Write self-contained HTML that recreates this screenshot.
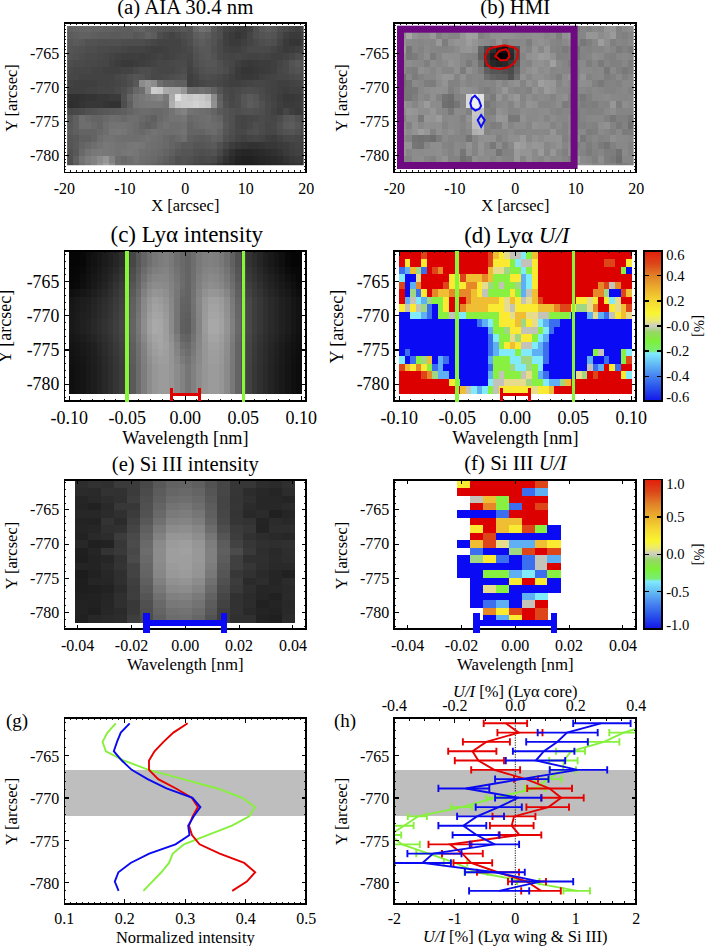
<!DOCTYPE html><html><head><meta charset="utf-8"><style>html,body{margin:0;padding:0;background:#fff;width:705px;height:946px;overflow:hidden}svg text{font-family:"Liberation Serif",serif;fill:#000}</style></head><body><svg width="705" height="946" viewBox="0 0 705 946" style="position:absolute;left:0;top:0" font-family='"Liberation Serif", serif' shape-rendering="crispEdges">
<rect width="705" height="946" fill="#fff"/>
<g>
<clipPath id="ca"><rect x="67.1" y="25.5" width="236.60" height="139.70"/></clipPath>
<g clip-path="url(#ca)">
<rect x="67.10" y="25.50" width="6.30" height="7.17" fill="#616161"/>
<rect x="73.10" y="25.50" width="6.30" height="7.17" fill="#646464"/>
<rect x="79.10" y="25.50" width="6.30" height="7.17" fill="#666666"/>
<rect x="85.10" y="25.50" width="6.30" height="7.17" fill="#666666"/>
<rect x="91.10" y="25.50" width="6.30" height="7.17" fill="#646464"/>
<rect x="97.10" y="25.50" width="6.30" height="7.17" fill="#646464"/>
<rect x="103.10" y="25.50" width="6.30" height="7.17" fill="#616161"/>
<rect x="109.10" y="25.50" width="6.30" height="7.17" fill="#616161"/>
<rect x="115.10" y="25.50" width="6.30" height="7.17" fill="#5e5e5e"/>
<rect x="121.10" y="25.50" width="6.30" height="7.17" fill="#5e5e5e"/>
<rect x="127.10" y="25.50" width="6.30" height="7.17" fill="#5c5c5c"/>
<rect x="133.10" y="25.50" width="6.30" height="7.17" fill="#616161"/>
<rect x="139.10" y="25.50" width="6.30" height="7.17" fill="#646464"/>
<rect x="145.10" y="25.50" width="6.30" height="7.17" fill="#5c5c5c"/>
<rect x="151.10" y="25.50" width="6.30" height="7.17" fill="#5a5a5a"/>
<rect x="157.10" y="25.50" width="6.30" height="7.17" fill="#575757"/>
<rect x="163.10" y="25.50" width="6.30" height="7.17" fill="#545454"/>
<rect x="169.10" y="25.50" width="6.30" height="7.17" fill="#525252"/>
<rect x="175.10" y="25.50" width="6.30" height="7.17" fill="#545454"/>
<rect x="181.10" y="25.50" width="6.30" height="7.17" fill="#575757"/>
<rect x="187.10" y="25.50" width="6.30" height="7.17" fill="#535353"/>
<rect x="193.10" y="25.50" width="6.30" height="7.17" fill="#676767"/>
<rect x="199.10" y="25.50" width="6.30" height="7.17" fill="#717171"/>
<rect x="205.10" y="25.50" width="6.30" height="7.17" fill="#6c6c6c"/>
<rect x="211.10" y="25.50" width="6.30" height="7.17" fill="#585858"/>
<rect x="217.10" y="25.50" width="6.30" height="7.17" fill="#4e4e4e"/>
<rect x="223.10" y="25.50" width="6.30" height="7.17" fill="#444444"/>
<rect x="229.10" y="25.50" width="6.30" height="7.17" fill="#3f3f3f"/>
<rect x="235.10" y="25.50" width="6.30" height="7.17" fill="#3a3a3a"/>
<rect x="241.10" y="25.50" width="6.30" height="7.17" fill="#3a3a3a"/>
<rect x="247.10" y="25.50" width="6.30" height="7.17" fill="#3f3f3f"/>
<rect x="253.10" y="25.50" width="6.30" height="7.17" fill="#4e4e4e"/>
<rect x="259.10" y="25.50" width="6.30" height="7.17" fill="#585858"/>
<rect x="265.10" y="25.50" width="6.30" height="7.17" fill="#5d5d5d"/>
<rect x="271.10" y="25.50" width="6.30" height="7.17" fill="#585858"/>
<rect x="277.10" y="25.50" width="6.30" height="7.17" fill="#4e4e4e"/>
<rect x="283.10" y="25.50" width="6.30" height="7.17" fill="#494949"/>
<rect x="289.10" y="25.50" width="6.30" height="7.17" fill="#444444"/>
<rect x="295.10" y="25.50" width="6.30" height="7.17" fill="#3f3f3f"/>
<rect x="301.10" y="25.50" width="6.30" height="7.17" fill="#444444"/>
<rect x="67.10" y="32.37" width="6.30" height="7.17" fill="#5c5c5c"/>
<rect x="73.10" y="32.37" width="6.30" height="7.17" fill="#5e5e5e"/>
<rect x="79.10" y="32.37" width="6.30" height="7.17" fill="#616161"/>
<rect x="85.10" y="32.37" width="6.30" height="7.17" fill="#616161"/>
<rect x="91.10" y="32.37" width="6.30" height="7.17" fill="#5e5e5e"/>
<rect x="97.10" y="32.37" width="6.30" height="7.17" fill="#5c5c5c"/>
<rect x="103.10" y="32.37" width="6.30" height="7.17" fill="#5c5c5c"/>
<rect x="109.10" y="32.37" width="6.30" height="7.17" fill="#5a5a5a"/>
<rect x="115.10" y="32.37" width="6.30" height="7.17" fill="#5a5a5a"/>
<rect x="121.10" y="32.37" width="6.30" height="7.17" fill="#5c5c5c"/>
<rect x="127.10" y="32.37" width="6.30" height="7.17" fill="#5c5c5c"/>
<rect x="133.10" y="32.37" width="6.30" height="7.17" fill="#575757"/>
<rect x="139.10" y="32.37" width="6.30" height="7.17" fill="#5a5a5a"/>
<rect x="145.10" y="32.37" width="6.30" height="7.17" fill="#616161"/>
<rect x="151.10" y="32.37" width="6.30" height="7.17" fill="#5c5c5c"/>
<rect x="157.10" y="32.37" width="6.30" height="7.17" fill="#4d4d4d"/>
<rect x="163.10" y="32.37" width="6.30" height="7.17" fill="#484848"/>
<rect x="169.10" y="32.37" width="6.30" height="7.17" fill="#434343"/>
<rect x="175.10" y="32.37" width="6.30" height="7.17" fill="#484848"/>
<rect x="181.10" y="32.37" width="6.30" height="7.17" fill="#4d4d4d"/>
<rect x="187.10" y="32.37" width="6.30" height="7.17" fill="#505050"/>
<rect x="193.10" y="32.37" width="6.30" height="7.17" fill="#5d5d5d"/>
<rect x="199.10" y="32.37" width="6.30" height="7.17" fill="#626262"/>
<rect x="205.10" y="32.37" width="6.30" height="7.17" fill="#5d5d5d"/>
<rect x="211.10" y="32.37" width="6.30" height="7.17" fill="#535353"/>
<rect x="217.10" y="32.37" width="6.30" height="7.17" fill="#4e4e4e"/>
<rect x="223.10" y="32.37" width="6.30" height="7.17" fill="#3f3f3f"/>
<rect x="229.10" y="32.37" width="6.30" height="7.17" fill="#3a3a3a"/>
<rect x="235.10" y="32.37" width="6.30" height="7.17" fill="#353535"/>
<rect x="241.10" y="32.37" width="6.30" height="7.17" fill="#3a3a3a"/>
<rect x="247.10" y="32.37" width="6.30" height="7.17" fill="#444444"/>
<rect x="253.10" y="32.37" width="6.30" height="7.17" fill="#4e4e4e"/>
<rect x="259.10" y="32.37" width="6.30" height="7.17" fill="#535353"/>
<rect x="265.10" y="32.37" width="6.30" height="7.17" fill="#565656"/>
<rect x="271.10" y="32.37" width="6.30" height="7.17" fill="#535353"/>
<rect x="277.10" y="32.37" width="6.30" height="7.17" fill="#494949"/>
<rect x="283.10" y="32.37" width="6.30" height="7.17" fill="#3f3f3f"/>
<rect x="289.10" y="32.37" width="6.30" height="7.17" fill="#3a3a3a"/>
<rect x="295.10" y="32.37" width="6.30" height="7.17" fill="#3a3a3a"/>
<rect x="301.10" y="32.37" width="6.30" height="7.17" fill="#3f3f3f"/>
<rect x="67.10" y="39.24" width="6.30" height="7.17" fill="#575757"/>
<rect x="73.10" y="39.24" width="6.30" height="7.17" fill="#5a5a5a"/>
<rect x="79.10" y="39.24" width="6.30" height="7.17" fill="#575757"/>
<rect x="85.10" y="39.24" width="6.30" height="7.17" fill="#525252"/>
<rect x="91.10" y="39.24" width="6.30" height="7.17" fill="#525252"/>
<rect x="97.10" y="39.24" width="6.30" height="7.17" fill="#505050"/>
<rect x="103.10" y="39.24" width="6.30" height="7.17" fill="#505050"/>
<rect x="109.10" y="39.24" width="6.30" height="7.17" fill="#505050"/>
<rect x="115.10" y="39.24" width="6.30" height="7.17" fill="#505050"/>
<rect x="121.10" y="39.24" width="6.30" height="7.17" fill="#4d4d4d"/>
<rect x="127.10" y="39.24" width="6.30" height="7.17" fill="#4d4d4d"/>
<rect x="133.10" y="39.24" width="6.30" height="7.17" fill="#4d4d4d"/>
<rect x="139.10" y="39.24" width="6.30" height="7.17" fill="#4d4d4d"/>
<rect x="145.10" y="39.24" width="6.30" height="7.17" fill="#4a4a4a"/>
<rect x="151.10" y="39.24" width="6.30" height="7.17" fill="#464646"/>
<rect x="157.10" y="39.24" width="6.30" height="7.17" fill="#434343"/>
<rect x="163.10" y="39.24" width="6.30" height="7.17" fill="#434343"/>
<rect x="169.10" y="39.24" width="6.30" height="7.17" fill="#434343"/>
<rect x="175.10" y="39.24" width="6.30" height="7.17" fill="#434343"/>
<rect x="181.10" y="39.24" width="6.30" height="7.17" fill="#484848"/>
<rect x="187.10" y="39.24" width="6.30" height="7.17" fill="#4e4e4e"/>
<rect x="193.10" y="39.24" width="6.30" height="7.17" fill="#585858"/>
<rect x="199.10" y="39.24" width="6.30" height="7.17" fill="#5d5d5d"/>
<rect x="205.10" y="39.24" width="6.30" height="7.17" fill="#585858"/>
<rect x="211.10" y="39.24" width="6.30" height="7.17" fill="#535353"/>
<rect x="217.10" y="39.24" width="6.30" height="7.17" fill="#494949"/>
<rect x="223.10" y="39.24" width="6.30" height="7.17" fill="#3f3f3f"/>
<rect x="229.10" y="39.24" width="6.30" height="7.17" fill="#3a3a3a"/>
<rect x="235.10" y="39.24" width="6.30" height="7.17" fill="#3a3a3a"/>
<rect x="241.10" y="39.24" width="6.30" height="7.17" fill="#3f3f3f"/>
<rect x="247.10" y="39.24" width="6.30" height="7.17" fill="#444444"/>
<rect x="253.10" y="39.24" width="6.30" height="7.17" fill="#494949"/>
<rect x="259.10" y="39.24" width="6.30" height="7.17" fill="#4e4e4e"/>
<rect x="265.10" y="39.24" width="6.30" height="7.17" fill="#505050"/>
<rect x="271.10" y="39.24" width="6.30" height="7.17" fill="#4e4e4e"/>
<rect x="277.10" y="39.24" width="6.30" height="7.17" fill="#444444"/>
<rect x="283.10" y="39.24" width="6.30" height="7.17" fill="#3a3a3a"/>
<rect x="289.10" y="39.24" width="6.30" height="7.17" fill="#353535"/>
<rect x="295.10" y="39.24" width="6.30" height="7.17" fill="#353535"/>
<rect x="301.10" y="39.24" width="6.30" height="7.17" fill="#3a3a3a"/>
<rect x="67.10" y="46.11" width="6.30" height="7.17" fill="#545454"/>
<rect x="73.10" y="46.11" width="6.30" height="7.17" fill="#525252"/>
<rect x="79.10" y="46.11" width="6.30" height="7.17" fill="#505050"/>
<rect x="85.10" y="46.11" width="6.30" height="7.17" fill="#4d4d4d"/>
<rect x="91.10" y="46.11" width="6.30" height="7.17" fill="#4d4d4d"/>
<rect x="97.10" y="46.11" width="6.30" height="7.17" fill="#4a4a4a"/>
<rect x="103.10" y="46.11" width="6.30" height="7.17" fill="#4a4a4a"/>
<rect x="109.10" y="46.11" width="6.30" height="7.17" fill="#484848"/>
<rect x="115.10" y="46.11" width="6.30" height="7.17" fill="#484848"/>
<rect x="121.10" y="46.11" width="6.30" height="7.17" fill="#464646"/>
<rect x="127.10" y="46.11" width="6.30" height="7.17" fill="#434343"/>
<rect x="133.10" y="46.11" width="6.30" height="7.17" fill="#434343"/>
<rect x="139.10" y="46.11" width="6.30" height="7.17" fill="#434343"/>
<rect x="145.10" y="46.11" width="6.30" height="7.17" fill="#404040"/>
<rect x="151.10" y="46.11" width="6.30" height="7.17" fill="#3e3e3e"/>
<rect x="157.10" y="46.11" width="6.30" height="7.17" fill="#3e3e3e"/>
<rect x="163.10" y="46.11" width="6.30" height="7.17" fill="#404040"/>
<rect x="169.10" y="46.11" width="6.30" height="7.17" fill="#434343"/>
<rect x="175.10" y="46.11" width="6.30" height="7.17" fill="#434343"/>
<rect x="181.10" y="46.11" width="6.30" height="7.17" fill="#464646"/>
<rect x="187.10" y="46.11" width="6.30" height="7.17" fill="#494949"/>
<rect x="193.10" y="46.11" width="6.30" height="7.17" fill="#535353"/>
<rect x="199.10" y="46.11" width="6.30" height="7.17" fill="#585858"/>
<rect x="205.10" y="46.11" width="6.30" height="7.17" fill="#585858"/>
<rect x="211.10" y="46.11" width="6.30" height="7.17" fill="#505050"/>
<rect x="217.10" y="46.11" width="6.30" height="7.17" fill="#494949"/>
<rect x="223.10" y="46.11" width="6.30" height="7.17" fill="#424242"/>
<rect x="229.10" y="46.11" width="6.30" height="7.17" fill="#3f3f3f"/>
<rect x="235.10" y="46.11" width="6.30" height="7.17" fill="#3f3f3f"/>
<rect x="241.10" y="46.11" width="6.30" height="7.17" fill="#444444"/>
<rect x="247.10" y="46.11" width="6.30" height="7.17" fill="#494949"/>
<rect x="253.10" y="46.11" width="6.30" height="7.17" fill="#494949"/>
<rect x="259.10" y="46.11" width="6.30" height="7.17" fill="#494949"/>
<rect x="265.10" y="46.11" width="6.30" height="7.17" fill="#494949"/>
<rect x="271.10" y="46.11" width="6.30" height="7.17" fill="#444444"/>
<rect x="277.10" y="46.11" width="6.30" height="7.17" fill="#3f3f3f"/>
<rect x="283.10" y="46.11" width="6.30" height="7.17" fill="#3a3a3a"/>
<rect x="289.10" y="46.11" width="6.30" height="7.17" fill="#3c3c3c"/>
<rect x="295.10" y="46.11" width="6.30" height="7.17" fill="#3f3f3f"/>
<rect x="301.10" y="46.11" width="6.30" height="7.17" fill="#424242"/>
<rect x="67.10" y="52.98" width="6.30" height="7.17" fill="#525252"/>
<rect x="73.10" y="52.98" width="6.30" height="7.17" fill="#505050"/>
<rect x="79.10" y="52.98" width="6.30" height="7.17" fill="#4d4d4d"/>
<rect x="85.10" y="52.98" width="6.30" height="7.17" fill="#4a4a4a"/>
<rect x="91.10" y="52.98" width="6.30" height="7.17" fill="#4a4a4a"/>
<rect x="97.10" y="52.98" width="6.30" height="7.17" fill="#484848"/>
<rect x="103.10" y="52.98" width="6.30" height="7.17" fill="#464646"/>
<rect x="109.10" y="52.98" width="6.30" height="7.17" fill="#434343"/>
<rect x="115.10" y="52.98" width="6.30" height="7.17" fill="#404040"/>
<rect x="121.10" y="52.98" width="6.30" height="7.17" fill="#3e3e3e"/>
<rect x="127.10" y="52.98" width="6.30" height="7.17" fill="#3e3e3e"/>
<rect x="133.10" y="52.98" width="6.30" height="7.17" fill="#3e3e3e"/>
<rect x="139.10" y="52.98" width="6.30" height="7.17" fill="#3c3c3c"/>
<rect x="145.10" y="52.98" width="6.30" height="7.17" fill="#3e3e3e"/>
<rect x="151.10" y="52.98" width="6.30" height="7.17" fill="#404040"/>
<rect x="157.10" y="52.98" width="6.30" height="7.17" fill="#434343"/>
<rect x="163.10" y="52.98" width="6.30" height="7.17" fill="#404040"/>
<rect x="169.10" y="52.98" width="6.30" height="7.17" fill="#434343"/>
<rect x="175.10" y="52.98" width="6.30" height="7.17" fill="#464646"/>
<rect x="181.10" y="52.98" width="6.30" height="7.17" fill="#484848"/>
<rect x="187.10" y="52.98" width="6.30" height="7.17" fill="#464646"/>
<rect x="193.10" y="52.98" width="6.30" height="7.17" fill="#505050"/>
<rect x="199.10" y="52.98" width="6.30" height="7.17" fill="#565656"/>
<rect x="205.10" y="52.98" width="6.30" height="7.17" fill="#585858"/>
<rect x="211.10" y="52.98" width="6.30" height="7.17" fill="#535353"/>
<rect x="217.10" y="52.98" width="6.30" height="7.17" fill="#494949"/>
<rect x="223.10" y="52.98" width="6.30" height="7.17" fill="#464646"/>
<rect x="229.10" y="52.98" width="6.30" height="7.17" fill="#444444"/>
<rect x="235.10" y="52.98" width="6.30" height="7.17" fill="#464646"/>
<rect x="241.10" y="52.98" width="6.30" height="7.17" fill="#444444"/>
<rect x="247.10" y="52.98" width="6.30" height="7.17" fill="#424242"/>
<rect x="253.10" y="52.98" width="6.30" height="7.17" fill="#424242"/>
<rect x="259.10" y="52.98" width="6.30" height="7.17" fill="#444444"/>
<rect x="265.10" y="52.98" width="6.30" height="7.17" fill="#424242"/>
<rect x="271.10" y="52.98" width="6.30" height="7.17" fill="#3f3f3f"/>
<rect x="277.10" y="52.98" width="6.30" height="7.17" fill="#3f3f3f"/>
<rect x="283.10" y="52.98" width="6.30" height="7.17" fill="#424242"/>
<rect x="289.10" y="52.98" width="6.30" height="7.17" fill="#464646"/>
<rect x="295.10" y="52.98" width="6.30" height="7.17" fill="#4c4c4c"/>
<rect x="301.10" y="52.98" width="6.30" height="7.17" fill="#4e4e4e"/>
<rect x="67.10" y="59.85" width="6.30" height="7.17" fill="#4d4d4d"/>
<rect x="73.10" y="59.85" width="6.30" height="7.17" fill="#4a4a4a"/>
<rect x="79.10" y="59.85" width="6.30" height="7.17" fill="#4a4a4a"/>
<rect x="85.10" y="59.85" width="6.30" height="7.17" fill="#484848"/>
<rect x="91.10" y="59.85" width="6.30" height="7.17" fill="#484848"/>
<rect x="97.10" y="59.85" width="6.30" height="7.17" fill="#464646"/>
<rect x="103.10" y="59.85" width="6.30" height="7.17" fill="#464646"/>
<rect x="109.10" y="59.85" width="6.30" height="7.17" fill="#404040"/>
<rect x="115.10" y="59.85" width="6.30" height="7.17" fill="#3c3c3c"/>
<rect x="121.10" y="59.85" width="6.30" height="7.17" fill="#393939"/>
<rect x="127.10" y="59.85" width="6.30" height="7.17" fill="#393939"/>
<rect x="133.10" y="59.85" width="6.30" height="7.17" fill="#3c3c3c"/>
<rect x="139.10" y="59.85" width="6.30" height="7.17" fill="#3e3e3e"/>
<rect x="145.10" y="59.85" width="6.30" height="7.17" fill="#404040"/>
<rect x="151.10" y="59.85" width="6.30" height="7.17" fill="#434343"/>
<rect x="157.10" y="59.85" width="6.30" height="7.17" fill="#464646"/>
<rect x="163.10" y="59.85" width="6.30" height="7.17" fill="#464646"/>
<rect x="169.10" y="59.85" width="6.30" height="7.17" fill="#484848"/>
<rect x="175.10" y="59.85" width="6.30" height="7.17" fill="#4a4a4a"/>
<rect x="181.10" y="59.85" width="6.30" height="7.17" fill="#4a4a4a"/>
<rect x="187.10" y="59.85" width="6.30" height="7.17" fill="#444444"/>
<rect x="193.10" y="59.85" width="6.30" height="7.17" fill="#4e4e4e"/>
<rect x="199.10" y="59.85" width="6.30" height="7.17" fill="#535353"/>
<rect x="205.10" y="59.85" width="6.30" height="7.17" fill="#565656"/>
<rect x="211.10" y="59.85" width="6.30" height="7.17" fill="#565656"/>
<rect x="217.10" y="59.85" width="6.30" height="7.17" fill="#505050"/>
<rect x="223.10" y="59.85" width="6.30" height="7.17" fill="#494949"/>
<rect x="229.10" y="59.85" width="6.30" height="7.17" fill="#464646"/>
<rect x="235.10" y="59.85" width="6.30" height="7.17" fill="#3f3f3f"/>
<rect x="241.10" y="59.85" width="6.30" height="7.17" fill="#3a3a3a"/>
<rect x="247.10" y="59.85" width="6.30" height="7.17" fill="#383838"/>
<rect x="253.10" y="59.85" width="6.30" height="7.17" fill="#3a3a3a"/>
<rect x="259.10" y="59.85" width="6.30" height="7.17" fill="#3c3c3c"/>
<rect x="265.10" y="59.85" width="6.30" height="7.17" fill="#3c3c3c"/>
<rect x="271.10" y="59.85" width="6.30" height="7.17" fill="#3f3f3f"/>
<rect x="277.10" y="59.85" width="6.30" height="7.17" fill="#444444"/>
<rect x="283.10" y="59.85" width="6.30" height="7.17" fill="#494949"/>
<rect x="289.10" y="59.85" width="6.30" height="7.17" fill="#535353"/>
<rect x="295.10" y="59.85" width="6.30" height="7.17" fill="#585858"/>
<rect x="301.10" y="59.85" width="6.30" height="7.17" fill="#535353"/>
<rect x="67.10" y="66.72" width="6.30" height="7.17" fill="#484848"/>
<rect x="73.10" y="66.72" width="6.30" height="7.17" fill="#464646"/>
<rect x="79.10" y="66.72" width="6.30" height="7.17" fill="#464646"/>
<rect x="85.10" y="66.72" width="6.30" height="7.17" fill="#464646"/>
<rect x="91.10" y="66.72" width="6.30" height="7.17" fill="#434343"/>
<rect x="97.10" y="66.72" width="6.30" height="7.17" fill="#434343"/>
<rect x="103.10" y="66.72" width="6.30" height="7.17" fill="#404040"/>
<rect x="109.10" y="66.72" width="6.30" height="7.17" fill="#404040"/>
<rect x="115.10" y="66.72" width="6.30" height="7.17" fill="#404040"/>
<rect x="121.10" y="66.72" width="6.30" height="7.17" fill="#434343"/>
<rect x="127.10" y="66.72" width="6.30" height="7.17" fill="#434343"/>
<rect x="133.10" y="66.72" width="6.30" height="7.17" fill="#484848"/>
<rect x="139.10" y="66.72" width="6.30" height="7.17" fill="#4d4d4d"/>
<rect x="145.10" y="66.72" width="6.30" height="7.17" fill="#4d4d4d"/>
<rect x="151.10" y="66.72" width="6.30" height="7.17" fill="#484848"/>
<rect x="157.10" y="66.72" width="6.30" height="7.17" fill="#464646"/>
<rect x="163.10" y="66.72" width="6.30" height="7.17" fill="#464646"/>
<rect x="169.10" y="66.72" width="6.30" height="7.17" fill="#464646"/>
<rect x="175.10" y="66.72" width="6.30" height="7.17" fill="#4a4a4a"/>
<rect x="181.10" y="66.72" width="6.30" height="7.17" fill="#4d4d4d"/>
<rect x="187.10" y="66.72" width="6.30" height="7.17" fill="#424242"/>
<rect x="193.10" y="66.72" width="6.30" height="7.17" fill="#494949"/>
<rect x="199.10" y="66.72" width="6.30" height="7.17" fill="#505050"/>
<rect x="205.10" y="66.72" width="6.30" height="7.17" fill="#535353"/>
<rect x="211.10" y="66.72" width="6.30" height="7.17" fill="#535353"/>
<rect x="217.10" y="66.72" width="6.30" height="7.17" fill="#505050"/>
<rect x="223.10" y="66.72" width="6.30" height="7.17" fill="#4c4c4c"/>
<rect x="229.10" y="66.72" width="6.30" height="7.17" fill="#444444"/>
<rect x="235.10" y="66.72" width="6.30" height="7.17" fill="#3a3a3a"/>
<rect x="241.10" y="66.72" width="6.30" height="7.17" fill="#353535"/>
<rect x="247.10" y="66.72" width="6.30" height="7.17" fill="#353535"/>
<rect x="253.10" y="66.72" width="6.30" height="7.17" fill="#383838"/>
<rect x="259.10" y="66.72" width="6.30" height="7.17" fill="#3a3a3a"/>
<rect x="265.10" y="66.72" width="6.30" height="7.17" fill="#3c3c3c"/>
<rect x="271.10" y="66.72" width="6.30" height="7.17" fill="#3f3f3f"/>
<rect x="277.10" y="66.72" width="6.30" height="7.17" fill="#464646"/>
<rect x="283.10" y="66.72" width="6.30" height="7.17" fill="#494949"/>
<rect x="289.10" y="66.72" width="6.30" height="7.17" fill="#505050"/>
<rect x="295.10" y="66.72" width="6.30" height="7.17" fill="#535353"/>
<rect x="301.10" y="66.72" width="6.30" height="7.17" fill="#4e4e4e"/>
<rect x="67.10" y="73.59" width="6.30" height="7.17" fill="#464646"/>
<rect x="73.10" y="73.59" width="6.30" height="7.17" fill="#464646"/>
<rect x="79.10" y="73.59" width="6.30" height="7.17" fill="#434343"/>
<rect x="85.10" y="73.59" width="6.30" height="7.17" fill="#434343"/>
<rect x="91.10" y="73.59" width="6.30" height="7.17" fill="#434343"/>
<rect x="97.10" y="73.59" width="6.30" height="7.17" fill="#434343"/>
<rect x="103.10" y="73.59" width="6.30" height="7.17" fill="#434343"/>
<rect x="109.10" y="73.59" width="6.30" height="7.17" fill="#434343"/>
<rect x="115.10" y="73.59" width="6.30" height="7.17" fill="#484848"/>
<rect x="121.10" y="73.59" width="6.30" height="7.17" fill="#4a4a4a"/>
<rect x="127.10" y="73.59" width="6.30" height="7.17" fill="#505050"/>
<rect x="133.10" y="73.59" width="6.30" height="7.17" fill="#545454"/>
<rect x="139.10" y="73.59" width="6.30" height="7.17" fill="#525252"/>
<rect x="145.10" y="73.59" width="6.30" height="7.17" fill="#4d4d4d"/>
<rect x="151.10" y="73.59" width="6.30" height="7.17" fill="#484848"/>
<rect x="157.10" y="73.59" width="6.30" height="7.17" fill="#484848"/>
<rect x="163.10" y="73.59" width="6.30" height="7.17" fill="#4a4a4a"/>
<rect x="169.10" y="73.59" width="6.30" height="7.17" fill="#4d4d4d"/>
<rect x="175.10" y="73.59" width="6.30" height="7.17" fill="#505050"/>
<rect x="181.10" y="73.59" width="6.30" height="7.17" fill="#525252"/>
<rect x="187.10" y="73.59" width="6.30" height="7.17" fill="#3f3f3f"/>
<rect x="193.10" y="73.59" width="6.30" height="7.17" fill="#444444"/>
<rect x="199.10" y="73.59" width="6.30" height="7.17" fill="#4c4c4c"/>
<rect x="205.10" y="73.59" width="6.30" height="7.17" fill="#4e4e4e"/>
<rect x="211.10" y="73.59" width="6.30" height="7.17" fill="#4c4c4c"/>
<rect x="217.10" y="73.59" width="6.30" height="7.17" fill="#494949"/>
<rect x="223.10" y="73.59" width="6.30" height="7.17" fill="#444444"/>
<rect x="229.10" y="73.59" width="6.30" height="7.17" fill="#3f3f3f"/>
<rect x="235.10" y="73.59" width="6.30" height="7.17" fill="#3a3a3a"/>
<rect x="241.10" y="73.59" width="6.30" height="7.17" fill="#383838"/>
<rect x="247.10" y="73.59" width="6.30" height="7.17" fill="#383838"/>
<rect x="253.10" y="73.59" width="6.30" height="7.17" fill="#3a3a3a"/>
<rect x="259.10" y="73.59" width="6.30" height="7.17" fill="#3f3f3f"/>
<rect x="265.10" y="73.59" width="6.30" height="7.17" fill="#424242"/>
<rect x="271.10" y="73.59" width="6.30" height="7.17" fill="#444444"/>
<rect x="277.10" y="73.59" width="6.30" height="7.17" fill="#464646"/>
<rect x="283.10" y="73.59" width="6.30" height="7.17" fill="#464646"/>
<rect x="289.10" y="73.59" width="6.30" height="7.17" fill="#494949"/>
<rect x="295.10" y="73.59" width="6.30" height="7.17" fill="#4c4c4c"/>
<rect x="301.10" y="73.59" width="6.30" height="7.17" fill="#494949"/>
<rect x="67.10" y="80.46" width="6.30" height="7.17" fill="#424242"/>
<rect x="73.10" y="80.46" width="6.30" height="7.17" fill="#3f3f3f"/>
<rect x="79.10" y="80.46" width="6.30" height="7.17" fill="#3f3f3f"/>
<rect x="85.10" y="80.46" width="6.30" height="7.17" fill="#3f3f3f"/>
<rect x="91.10" y="80.46" width="6.30" height="7.17" fill="#3f3f3f"/>
<rect x="97.10" y="80.46" width="6.30" height="7.17" fill="#424242"/>
<rect x="103.10" y="80.46" width="6.30" height="7.17" fill="#424242"/>
<rect x="109.10" y="80.46" width="6.30" height="7.17" fill="#444444"/>
<rect x="115.10" y="80.46" width="6.30" height="7.17" fill="#464646"/>
<rect x="121.10" y="80.46" width="6.30" height="7.17" fill="#494949"/>
<rect x="127.10" y="80.46" width="6.30" height="7.17" fill="#4e4e4e"/>
<rect x="133.10" y="80.46" width="6.30" height="7.17" fill="#585858"/>
<rect x="139.10" y="80.46" width="6.30" height="7.17" fill="#8c8c8c"/>
<rect x="145.10" y="80.46" width="6.30" height="7.17" fill="#969696"/>
<rect x="151.10" y="80.46" width="6.30" height="7.17" fill="#8c8c8c"/>
<rect x="157.10" y="80.46" width="6.30" height="7.17" fill="#6e6e6e"/>
<rect x="163.10" y="80.46" width="6.30" height="7.17" fill="#646464"/>
<rect x="169.10" y="80.46" width="6.30" height="7.17" fill="#646464"/>
<rect x="175.10" y="80.46" width="6.30" height="7.17" fill="#5f5f5f"/>
<rect x="181.10" y="80.46" width="6.30" height="7.17" fill="#5f5f5f"/>
<rect x="187.10" y="80.46" width="6.30" height="7.17" fill="#3f3f3f"/>
<rect x="193.10" y="80.46" width="6.30" height="7.17" fill="#424242"/>
<rect x="199.10" y="80.46" width="6.30" height="7.17" fill="#464646"/>
<rect x="205.10" y="80.46" width="6.30" height="7.17" fill="#494949"/>
<rect x="211.10" y="80.46" width="6.30" height="7.17" fill="#494949"/>
<rect x="217.10" y="80.46" width="6.30" height="7.17" fill="#464646"/>
<rect x="223.10" y="80.46" width="6.30" height="7.17" fill="#424242"/>
<rect x="229.10" y="80.46" width="6.30" height="7.17" fill="#3f3f3f"/>
<rect x="235.10" y="80.46" width="6.30" height="7.17" fill="#3f3f3f"/>
<rect x="241.10" y="80.46" width="6.30" height="7.17" fill="#424242"/>
<rect x="247.10" y="80.46" width="6.30" height="7.17" fill="#444444"/>
<rect x="253.10" y="80.46" width="6.30" height="7.17" fill="#464646"/>
<rect x="259.10" y="80.46" width="6.30" height="7.17" fill="#464646"/>
<rect x="265.10" y="80.46" width="6.30" height="7.17" fill="#444444"/>
<rect x="271.10" y="80.46" width="6.30" height="7.17" fill="#424242"/>
<rect x="277.10" y="80.46" width="6.30" height="7.17" fill="#3f3f3f"/>
<rect x="283.10" y="80.46" width="6.30" height="7.17" fill="#3f3f3f"/>
<rect x="289.10" y="80.46" width="6.30" height="7.17" fill="#424242"/>
<rect x="295.10" y="80.46" width="6.30" height="7.17" fill="#444444"/>
<rect x="301.10" y="80.46" width="6.30" height="7.17" fill="#464646"/>
<rect x="67.10" y="87.33" width="6.30" height="7.17" fill="#3f3f3f"/>
<rect x="73.10" y="87.33" width="6.30" height="7.17" fill="#3f3f3f"/>
<rect x="79.10" y="87.33" width="6.30" height="7.17" fill="#3f3f3f"/>
<rect x="85.10" y="87.33" width="6.30" height="7.17" fill="#424242"/>
<rect x="91.10" y="87.33" width="6.30" height="7.17" fill="#424242"/>
<rect x="97.10" y="87.33" width="6.30" height="7.17" fill="#444444"/>
<rect x="103.10" y="87.33" width="6.30" height="7.17" fill="#444444"/>
<rect x="109.10" y="87.33" width="6.30" height="7.17" fill="#444444"/>
<rect x="115.10" y="87.33" width="6.30" height="7.17" fill="#494949"/>
<rect x="121.10" y="87.33" width="6.30" height="7.17" fill="#4e4e4e"/>
<rect x="127.10" y="87.33" width="6.30" height="7.17" fill="#585858"/>
<rect x="133.10" y="87.33" width="6.30" height="7.17" fill="#676767"/>
<rect x="139.10" y="87.33" width="6.30" height="7.17" fill="#6e6e6e"/>
<rect x="145.10" y="87.33" width="6.30" height="7.17" fill="#919191"/>
<rect x="151.10" y="87.33" width="6.30" height="7.17" fill="#cdcdcd"/>
<rect x="157.10" y="87.33" width="6.30" height="7.17" fill="#c8c8c8"/>
<rect x="163.10" y="87.33" width="6.30" height="7.17" fill="#aaaaaa"/>
<rect x="169.10" y="87.33" width="6.30" height="7.17" fill="#a5a5a5"/>
<rect x="175.10" y="87.33" width="6.30" height="7.17" fill="#a5a5a5"/>
<rect x="181.10" y="87.33" width="6.30" height="7.17" fill="#969696"/>
<rect x="187.10" y="87.33" width="6.30" height="7.17" fill="#6e6e6e"/>
<rect x="193.10" y="87.33" width="6.30" height="7.17" fill="#6c6c6c"/>
<rect x="199.10" y="87.33" width="6.30" height="7.17" fill="#717171"/>
<rect x="205.10" y="87.33" width="6.30" height="7.17" fill="#6c6c6c"/>
<rect x="211.10" y="87.33" width="6.30" height="7.17" fill="#626262"/>
<rect x="217.10" y="87.33" width="6.30" height="7.17" fill="#535353"/>
<rect x="223.10" y="87.33" width="6.30" height="7.17" fill="#494949"/>
<rect x="229.10" y="87.33" width="6.30" height="7.17" fill="#464646"/>
<rect x="235.10" y="87.33" width="6.30" height="7.17" fill="#494949"/>
<rect x="241.10" y="87.33" width="6.30" height="7.17" fill="#4c4c4c"/>
<rect x="247.10" y="87.33" width="6.30" height="7.17" fill="#4e4e4e"/>
<rect x="253.10" y="87.33" width="6.30" height="7.17" fill="#4c4c4c"/>
<rect x="259.10" y="87.33" width="6.30" height="7.17" fill="#494949"/>
<rect x="265.10" y="87.33" width="6.30" height="7.17" fill="#444444"/>
<rect x="271.10" y="87.33" width="6.30" height="7.17" fill="#424242"/>
<rect x="277.10" y="87.33" width="6.30" height="7.17" fill="#3f3f3f"/>
<rect x="283.10" y="87.33" width="6.30" height="7.17" fill="#3c3c3c"/>
<rect x="289.10" y="87.33" width="6.30" height="7.17" fill="#3f3f3f"/>
<rect x="295.10" y="87.33" width="6.30" height="7.17" fill="#3f3f3f"/>
<rect x="301.10" y="87.33" width="6.30" height="7.17" fill="#424242"/>
<rect x="67.10" y="94.20" width="6.30" height="7.17" fill="#303030"/>
<rect x="73.10" y="94.20" width="6.30" height="7.17" fill="#303030"/>
<rect x="79.10" y="94.20" width="6.30" height="7.17" fill="#323232"/>
<rect x="85.10" y="94.20" width="6.30" height="7.17" fill="#343434"/>
<rect x="91.10" y="94.20" width="6.30" height="7.17" fill="#343434"/>
<rect x="97.10" y="94.20" width="6.30" height="7.17" fill="#373737"/>
<rect x="103.10" y="94.20" width="6.30" height="7.17" fill="#373737"/>
<rect x="109.10" y="94.20" width="6.30" height="7.17" fill="#3a3a3a"/>
<rect x="115.10" y="94.20" width="6.30" height="7.17" fill="#3a3a3a"/>
<rect x="121.10" y="94.20" width="6.30" height="7.17" fill="#505050"/>
<rect x="127.10" y="94.20" width="6.30" height="7.17" fill="#646464"/>
<rect x="133.10" y="94.20" width="6.30" height="7.17" fill="#737373"/>
<rect x="139.10" y="94.20" width="6.30" height="7.17" fill="#787878"/>
<rect x="145.10" y="94.20" width="6.30" height="7.17" fill="#7d7d7d"/>
<rect x="151.10" y="94.20" width="6.30" height="7.17" fill="#828282"/>
<rect x="157.10" y="94.20" width="6.30" height="7.17" fill="#878787"/>
<rect x="163.10" y="94.20" width="6.30" height="7.17" fill="#787878"/>
<rect x="169.10" y="94.20" width="6.30" height="7.17" fill="#aaaaaa"/>
<rect x="175.10" y="94.20" width="6.30" height="7.17" fill="#e1e1e1"/>
<rect x="181.10" y="94.20" width="6.30" height="7.17" fill="#cdcdcd"/>
<rect x="187.10" y="94.20" width="6.30" height="7.17" fill="#c8c8c8"/>
<rect x="193.10" y="94.20" width="6.30" height="7.17" fill="#cdcdcd"/>
<rect x="199.10" y="94.20" width="6.30" height="7.17" fill="#c8c8c8"/>
<rect x="205.10" y="94.20" width="6.30" height="7.17" fill="#bebebe"/>
<rect x="211.10" y="94.20" width="6.30" height="7.17" fill="#8c8c8c"/>
<rect x="217.10" y="94.20" width="6.30" height="7.17" fill="#5f5f5f"/>
<rect x="223.10" y="94.20" width="6.30" height="7.17" fill="#4b4b4b"/>
<rect x="229.10" y="94.20" width="6.30" height="7.17" fill="#464646"/>
<rect x="235.10" y="94.20" width="6.30" height="7.17" fill="#4b4b4b"/>
<rect x="241.10" y="94.20" width="6.30" height="7.17" fill="#555555"/>
<rect x="247.10" y="94.20" width="6.30" height="7.17" fill="#5a5a5a"/>
<rect x="253.10" y="94.20" width="6.30" height="7.17" fill="#555555"/>
<rect x="259.10" y="94.20" width="6.30" height="7.17" fill="#4b4b4b"/>
<rect x="265.10" y="94.20" width="6.30" height="7.17" fill="#464646"/>
<rect x="271.10" y="94.20" width="6.30" height="7.17" fill="#414141"/>
<rect x="277.10" y="94.20" width="6.30" height="7.17" fill="#3c3c3c"/>
<rect x="283.10" y="94.20" width="6.30" height="7.17" fill="#373737"/>
<rect x="289.10" y="94.20" width="6.30" height="7.17" fill="#373737"/>
<rect x="295.10" y="94.20" width="6.30" height="7.17" fill="#3a3a3a"/>
<rect x="301.10" y="94.20" width="6.30" height="7.17" fill="#3c3c3c"/>
<rect x="67.10" y="101.07" width="6.30" height="7.17" fill="#2d2d2d"/>
<rect x="73.10" y="101.07" width="6.30" height="7.17" fill="#303030"/>
<rect x="79.10" y="101.07" width="6.30" height="7.17" fill="#343434"/>
<rect x="85.10" y="101.07" width="6.30" height="7.17" fill="#373737"/>
<rect x="91.10" y="101.07" width="6.30" height="7.17" fill="#373737"/>
<rect x="97.10" y="101.07" width="6.30" height="7.17" fill="#373737"/>
<rect x="103.10" y="101.07" width="6.30" height="7.17" fill="#343434"/>
<rect x="109.10" y="101.07" width="6.30" height="7.17" fill="#323232"/>
<rect x="115.10" y="101.07" width="6.30" height="7.17" fill="#323232"/>
<rect x="121.10" y="101.07" width="6.30" height="7.17" fill="#4e4e4e"/>
<rect x="127.10" y="101.07" width="6.30" height="7.17" fill="#5f5f5f"/>
<rect x="133.10" y="101.07" width="6.30" height="7.17" fill="#737373"/>
<rect x="139.10" y="101.07" width="6.30" height="7.17" fill="#767676"/>
<rect x="145.10" y="101.07" width="6.30" height="7.17" fill="#787878"/>
<rect x="151.10" y="101.07" width="6.30" height="7.17" fill="#787878"/>
<rect x="157.10" y="101.07" width="6.30" height="7.17" fill="#787878"/>
<rect x="163.10" y="101.07" width="6.30" height="7.17" fill="#737373"/>
<rect x="169.10" y="101.07" width="6.30" height="7.17" fill="#afafaf"/>
<rect x="175.10" y="101.07" width="6.30" height="7.17" fill="#c8c8c8"/>
<rect x="181.10" y="101.07" width="6.30" height="7.17" fill="#cdcdcd"/>
<rect x="187.10" y="101.07" width="6.30" height="7.17" fill="#cdcdcd"/>
<rect x="193.10" y="101.07" width="6.30" height="7.17" fill="#d2d2d2"/>
<rect x="199.10" y="101.07" width="6.30" height="7.17" fill="#cdcdcd"/>
<rect x="205.10" y="101.07" width="6.30" height="7.17" fill="#c8c8c8"/>
<rect x="211.10" y="101.07" width="6.30" height="7.17" fill="#919191"/>
<rect x="217.10" y="101.07" width="6.30" height="7.17" fill="#646464"/>
<rect x="223.10" y="101.07" width="6.30" height="7.17" fill="#505050"/>
<rect x="229.10" y="101.07" width="6.30" height="7.17" fill="#484848"/>
<rect x="235.10" y="101.07" width="6.30" height="7.17" fill="#4b4b4b"/>
<rect x="241.10" y="101.07" width="6.30" height="7.17" fill="#555555"/>
<rect x="247.10" y="101.07" width="6.30" height="7.17" fill="#5c5c5c"/>
<rect x="253.10" y="101.07" width="6.30" height="7.17" fill="#585858"/>
<rect x="259.10" y="101.07" width="6.30" height="7.17" fill="#505050"/>
<rect x="265.10" y="101.07" width="6.30" height="7.17" fill="#484848"/>
<rect x="271.10" y="101.07" width="6.30" height="7.17" fill="#444444"/>
<rect x="277.10" y="101.07" width="6.30" height="7.17" fill="#3e3e3e"/>
<rect x="283.10" y="101.07" width="6.30" height="7.17" fill="#3a3a3a"/>
<rect x="289.10" y="101.07" width="6.30" height="7.17" fill="#3a3a3a"/>
<rect x="295.10" y="101.07" width="6.30" height="7.17" fill="#3c3c3c"/>
<rect x="301.10" y="101.07" width="6.30" height="7.17" fill="#3e3e3e"/>
<rect x="67.10" y="107.94" width="6.30" height="7.17" fill="#464646"/>
<rect x="73.10" y="107.94" width="6.30" height="7.17" fill="#484848"/>
<rect x="79.10" y="107.94" width="6.30" height="7.17" fill="#4b4b4b"/>
<rect x="85.10" y="107.94" width="6.30" height="7.17" fill="#505050"/>
<rect x="91.10" y="107.94" width="6.30" height="7.17" fill="#525252"/>
<rect x="97.10" y="107.94" width="6.30" height="7.17" fill="#555555"/>
<rect x="103.10" y="107.94" width="6.30" height="7.17" fill="#585858"/>
<rect x="109.10" y="107.94" width="6.30" height="7.17" fill="#5a5a5a"/>
<rect x="115.10" y="107.94" width="6.30" height="7.17" fill="#5c5c5c"/>
<rect x="121.10" y="107.94" width="6.30" height="7.17" fill="#5f5f5f"/>
<rect x="127.10" y="107.94" width="6.30" height="7.17" fill="#646464"/>
<rect x="133.10" y="107.94" width="6.30" height="7.17" fill="#696969"/>
<rect x="139.10" y="107.94" width="6.30" height="7.17" fill="#6c6c6c"/>
<rect x="145.10" y="107.94" width="6.30" height="7.17" fill="#6c6c6c"/>
<rect x="151.10" y="107.94" width="6.30" height="7.17" fill="#696969"/>
<rect x="157.10" y="107.94" width="6.30" height="7.17" fill="#696969"/>
<rect x="163.10" y="107.94" width="6.30" height="7.17" fill="#6c6c6c"/>
<rect x="169.10" y="107.94" width="6.30" height="7.17" fill="#737373"/>
<rect x="175.10" y="107.94" width="6.30" height="7.17" fill="#7d7d7d"/>
<rect x="181.10" y="107.94" width="6.30" height="7.17" fill="#828282"/>
<rect x="187.10" y="107.94" width="6.30" height="7.17" fill="#737373"/>
<rect x="193.10" y="107.94" width="6.30" height="7.17" fill="#707070"/>
<rect x="199.10" y="107.94" width="6.30" height="7.17" fill="#6e6e6e"/>
<rect x="205.10" y="107.94" width="6.30" height="7.17" fill="#6c6c6c"/>
<rect x="211.10" y="107.94" width="6.30" height="7.17" fill="#646464"/>
<rect x="217.10" y="107.94" width="6.30" height="7.17" fill="#5a5a5a"/>
<rect x="223.10" y="107.94" width="6.30" height="7.17" fill="#555555"/>
<rect x="229.10" y="107.94" width="6.30" height="7.17" fill="#505050"/>
<rect x="235.10" y="107.94" width="6.30" height="7.17" fill="#4e4e4e"/>
<rect x="241.10" y="107.94" width="6.30" height="7.17" fill="#505050"/>
<rect x="247.10" y="107.94" width="6.30" height="7.17" fill="#525252"/>
<rect x="253.10" y="107.94" width="6.30" height="7.17" fill="#505050"/>
<rect x="259.10" y="107.94" width="6.30" height="7.17" fill="#4e4e4e"/>
<rect x="265.10" y="107.94" width="6.30" height="7.17" fill="#484848"/>
<rect x="271.10" y="107.94" width="6.30" height="7.17" fill="#414141"/>
<rect x="277.10" y="107.94" width="6.30" height="7.17" fill="#3c3c3c"/>
<rect x="283.10" y="107.94" width="6.30" height="7.17" fill="#464646"/>
<rect x="289.10" y="107.94" width="6.30" height="7.17" fill="#3e3e3e"/>
<rect x="295.10" y="107.94" width="6.30" height="7.17" fill="#3a3a3a"/>
<rect x="301.10" y="107.94" width="6.30" height="7.17" fill="#3c3c3c"/>
<rect x="67.10" y="114.81" width="6.30" height="7.17" fill="#555555"/>
<rect x="73.10" y="114.81" width="6.30" height="7.17" fill="#5f5f5f"/>
<rect x="79.10" y="114.81" width="6.30" height="7.17" fill="#6e6e6e"/>
<rect x="85.10" y="114.81" width="6.30" height="7.17" fill="#696969"/>
<rect x="91.10" y="114.81" width="6.30" height="7.17" fill="#646464"/>
<rect x="97.10" y="114.81" width="6.30" height="7.17" fill="#646464"/>
<rect x="103.10" y="114.81" width="6.30" height="7.17" fill="#696969"/>
<rect x="109.10" y="114.81" width="6.30" height="7.17" fill="#6e6e6e"/>
<rect x="115.10" y="114.81" width="6.30" height="7.17" fill="#6c6c6c"/>
<rect x="121.10" y="114.81" width="6.30" height="7.17" fill="#696969"/>
<rect x="127.10" y="114.81" width="6.30" height="7.17" fill="#6e6e6e"/>
<rect x="133.10" y="114.81" width="6.30" height="7.17" fill="#6e6e6e"/>
<rect x="139.10" y="114.81" width="6.30" height="7.17" fill="#696969"/>
<rect x="145.10" y="114.81" width="6.30" height="7.17" fill="#646464"/>
<rect x="151.10" y="114.81" width="6.30" height="7.17" fill="#5f5f5f"/>
<rect x="157.10" y="114.81" width="6.30" height="7.17" fill="#696969"/>
<rect x="163.10" y="114.81" width="6.30" height="7.17" fill="#6e6e6e"/>
<rect x="169.10" y="114.81" width="6.30" height="7.17" fill="#737373"/>
<rect x="175.10" y="114.81" width="6.30" height="7.17" fill="#737373"/>
<rect x="181.10" y="114.81" width="6.30" height="7.17" fill="#767676"/>
<rect x="187.10" y="114.81" width="6.30" height="7.17" fill="#696969"/>
<rect x="193.10" y="114.81" width="6.30" height="7.17" fill="#6c6c6c"/>
<rect x="199.10" y="114.81" width="6.30" height="7.17" fill="#6e6e6e"/>
<rect x="205.10" y="114.81" width="6.30" height="7.17" fill="#707070"/>
<rect x="211.10" y="114.81" width="6.30" height="7.17" fill="#696969"/>
<rect x="217.10" y="114.81" width="6.30" height="7.17" fill="#646464"/>
<rect x="223.10" y="114.81" width="6.30" height="7.17" fill="#555555"/>
<rect x="229.10" y="114.81" width="6.30" height="7.17" fill="#505050"/>
<rect x="235.10" y="114.81" width="6.30" height="7.17" fill="#464646"/>
<rect x="241.10" y="114.81" width="6.30" height="7.17" fill="#444444"/>
<rect x="247.10" y="114.81" width="6.30" height="7.17" fill="#464646"/>
<rect x="253.10" y="114.81" width="6.30" height="7.17" fill="#484848"/>
<rect x="259.10" y="114.81" width="6.30" height="7.17" fill="#4b4b4b"/>
<rect x="265.10" y="114.81" width="6.30" height="7.17" fill="#484848"/>
<rect x="271.10" y="114.81" width="6.30" height="7.17" fill="#464646"/>
<rect x="277.10" y="114.81" width="6.30" height="7.17" fill="#4b4b4b"/>
<rect x="283.10" y="114.81" width="6.30" height="7.17" fill="#555555"/>
<rect x="289.10" y="114.81" width="6.30" height="7.17" fill="#585858"/>
<rect x="295.10" y="114.81" width="6.30" height="7.17" fill="#505050"/>
<rect x="301.10" y="114.81" width="6.30" height="7.17" fill="#464646"/>
<rect x="67.10" y="121.68" width="6.30" height="7.17" fill="#585858"/>
<rect x="73.10" y="121.68" width="6.30" height="7.17" fill="#5f5f5f"/>
<rect x="79.10" y="121.68" width="6.30" height="7.17" fill="#6e6e6e"/>
<rect x="85.10" y="121.68" width="6.30" height="7.17" fill="#6e6e6e"/>
<rect x="91.10" y="121.68" width="6.30" height="7.17" fill="#696969"/>
<rect x="97.10" y="121.68" width="6.30" height="7.17" fill="#646464"/>
<rect x="103.10" y="121.68" width="6.30" height="7.17" fill="#6e6e6e"/>
<rect x="109.10" y="121.68" width="6.30" height="7.17" fill="#737373"/>
<rect x="115.10" y="121.68" width="6.30" height="7.17" fill="#737373"/>
<rect x="121.10" y="121.68" width="6.30" height="7.17" fill="#737373"/>
<rect x="127.10" y="121.68" width="6.30" height="7.17" fill="#707070"/>
<rect x="133.10" y="121.68" width="6.30" height="7.17" fill="#6c6c6c"/>
<rect x="139.10" y="121.68" width="6.30" height="7.17" fill="#646464"/>
<rect x="145.10" y="121.68" width="6.30" height="7.17" fill="#5f5f5f"/>
<rect x="151.10" y="121.68" width="6.30" height="7.17" fill="#646464"/>
<rect x="157.10" y="121.68" width="6.30" height="7.17" fill="#6e6e6e"/>
<rect x="163.10" y="121.68" width="6.30" height="7.17" fill="#737373"/>
<rect x="169.10" y="121.68" width="6.30" height="7.17" fill="#6e6e6e"/>
<rect x="175.10" y="121.68" width="6.30" height="7.17" fill="#6e6e6e"/>
<rect x="181.10" y="121.68" width="6.30" height="7.17" fill="#707070"/>
<rect x="187.10" y="121.68" width="6.30" height="7.17" fill="#646464"/>
<rect x="193.10" y="121.68" width="6.30" height="7.17" fill="#696969"/>
<rect x="199.10" y="121.68" width="6.30" height="7.17" fill="#6c6c6c"/>
<rect x="205.10" y="121.68" width="6.30" height="7.17" fill="#6e6e6e"/>
<rect x="211.10" y="121.68" width="6.30" height="7.17" fill="#6c6c6c"/>
<rect x="217.10" y="121.68" width="6.30" height="7.17" fill="#696969"/>
<rect x="223.10" y="121.68" width="6.30" height="7.17" fill="#585858"/>
<rect x="229.10" y="121.68" width="6.30" height="7.17" fill="#505050"/>
<rect x="235.10" y="121.68" width="6.30" height="7.17" fill="#464646"/>
<rect x="241.10" y="121.68" width="6.30" height="7.17" fill="#444444"/>
<rect x="247.10" y="121.68" width="6.30" height="7.17" fill="#484848"/>
<rect x="253.10" y="121.68" width="6.30" height="7.17" fill="#4e4e4e"/>
<rect x="259.10" y="121.68" width="6.30" height="7.17" fill="#4b4b4b"/>
<rect x="265.10" y="121.68" width="6.30" height="7.17" fill="#464646"/>
<rect x="271.10" y="121.68" width="6.30" height="7.17" fill="#484848"/>
<rect x="277.10" y="121.68" width="6.30" height="7.17" fill="#505050"/>
<rect x="283.10" y="121.68" width="6.30" height="7.17" fill="#5a5a5a"/>
<rect x="289.10" y="121.68" width="6.30" height="7.17" fill="#5c5c5c"/>
<rect x="295.10" y="121.68" width="6.30" height="7.17" fill="#555555"/>
<rect x="301.10" y="121.68" width="6.30" height="7.17" fill="#4b4b4b"/>
<rect x="67.10" y="128.55" width="6.30" height="7.17" fill="#5a5a5a"/>
<rect x="73.10" y="128.55" width="6.30" height="7.17" fill="#5f5f5f"/>
<rect x="79.10" y="128.55" width="6.30" height="7.17" fill="#646464"/>
<rect x="85.10" y="128.55" width="6.30" height="7.17" fill="#646464"/>
<rect x="91.10" y="128.55" width="6.30" height="7.17" fill="#646464"/>
<rect x="97.10" y="128.55" width="6.30" height="7.17" fill="#696969"/>
<rect x="103.10" y="128.55" width="6.30" height="7.17" fill="#6e6e6e"/>
<rect x="109.10" y="128.55" width="6.30" height="7.17" fill="#767676"/>
<rect x="115.10" y="128.55" width="6.30" height="7.17" fill="#787878"/>
<rect x="121.10" y="128.55" width="6.30" height="7.17" fill="#767676"/>
<rect x="127.10" y="128.55" width="6.30" height="7.17" fill="#707070"/>
<rect x="133.10" y="128.55" width="6.30" height="7.17" fill="#6c6c6c"/>
<rect x="139.10" y="128.55" width="6.30" height="7.17" fill="#696969"/>
<rect x="145.10" y="128.55" width="6.30" height="7.17" fill="#6e6e6e"/>
<rect x="151.10" y="128.55" width="6.30" height="7.17" fill="#737373"/>
<rect x="157.10" y="128.55" width="6.30" height="7.17" fill="#707070"/>
<rect x="163.10" y="128.55" width="6.30" height="7.17" fill="#6e6e6e"/>
<rect x="169.10" y="128.55" width="6.30" height="7.17" fill="#6e6e6e"/>
<rect x="175.10" y="128.55" width="6.30" height="7.17" fill="#707070"/>
<rect x="181.10" y="128.55" width="6.30" height="7.17" fill="#737373"/>
<rect x="187.10" y="128.55" width="6.30" height="7.17" fill="#646464"/>
<rect x="193.10" y="128.55" width="6.30" height="7.17" fill="#646464"/>
<rect x="199.10" y="128.55" width="6.30" height="7.17" fill="#646464"/>
<rect x="205.10" y="128.55" width="6.30" height="7.17" fill="#696969"/>
<rect x="211.10" y="128.55" width="6.30" height="7.17" fill="#6c6c6c"/>
<rect x="217.10" y="128.55" width="6.30" height="7.17" fill="#646464"/>
<rect x="223.10" y="128.55" width="6.30" height="7.17" fill="#555555"/>
<rect x="229.10" y="128.55" width="6.30" height="7.17" fill="#4e4e4e"/>
<rect x="235.10" y="128.55" width="6.30" height="7.17" fill="#484848"/>
<rect x="241.10" y="128.55" width="6.30" height="7.17" fill="#484848"/>
<rect x="247.10" y="128.55" width="6.30" height="7.17" fill="#4e4e4e"/>
<rect x="253.10" y="128.55" width="6.30" height="7.17" fill="#505050"/>
<rect x="259.10" y="128.55" width="6.30" height="7.17" fill="#4b4b4b"/>
<rect x="265.10" y="128.55" width="6.30" height="7.17" fill="#464646"/>
<rect x="271.10" y="128.55" width="6.30" height="7.17" fill="#464646"/>
<rect x="277.10" y="128.55" width="6.30" height="7.17" fill="#4e4e4e"/>
<rect x="283.10" y="128.55" width="6.30" height="7.17" fill="#525252"/>
<rect x="289.10" y="128.55" width="6.30" height="7.17" fill="#555555"/>
<rect x="295.10" y="128.55" width="6.30" height="7.17" fill="#505050"/>
<rect x="301.10" y="128.55" width="6.30" height="7.17" fill="#484848"/>
<rect x="67.10" y="135.42" width="6.30" height="7.17" fill="#555555"/>
<rect x="73.10" y="135.42" width="6.30" height="7.17" fill="#585858"/>
<rect x="79.10" y="135.42" width="6.30" height="7.17" fill="#5f5f5f"/>
<rect x="85.10" y="135.42" width="6.30" height="7.17" fill="#5f5f5f"/>
<rect x="91.10" y="135.42" width="6.30" height="7.17" fill="#646464"/>
<rect x="97.10" y="135.42" width="6.30" height="7.17" fill="#6e6e6e"/>
<rect x="103.10" y="135.42" width="6.30" height="7.17" fill="#737373"/>
<rect x="109.10" y="135.42" width="6.30" height="7.17" fill="#737373"/>
<rect x="115.10" y="135.42" width="6.30" height="7.17" fill="#707070"/>
<rect x="121.10" y="135.42" width="6.30" height="7.17" fill="#6e6e6e"/>
<rect x="127.10" y="135.42" width="6.30" height="7.17" fill="#6e6e6e"/>
<rect x="133.10" y="135.42" width="6.30" height="7.17" fill="#6e6e6e"/>
<rect x="139.10" y="135.42" width="6.30" height="7.17" fill="#707070"/>
<rect x="145.10" y="135.42" width="6.30" height="7.17" fill="#737373"/>
<rect x="151.10" y="135.42" width="6.30" height="7.17" fill="#707070"/>
<rect x="157.10" y="135.42" width="6.30" height="7.17" fill="#6e6e6e"/>
<rect x="163.10" y="135.42" width="6.30" height="7.17" fill="#696969"/>
<rect x="169.10" y="135.42" width="6.30" height="7.17" fill="#646464"/>
<rect x="175.10" y="135.42" width="6.30" height="7.17" fill="#696969"/>
<rect x="181.10" y="135.42" width="6.30" height="7.17" fill="#6e6e6e"/>
<rect x="187.10" y="135.42" width="6.30" height="7.17" fill="#5f5f5f"/>
<rect x="193.10" y="135.42" width="6.30" height="7.17" fill="#5c5c5c"/>
<rect x="199.10" y="135.42" width="6.30" height="7.17" fill="#5a5a5a"/>
<rect x="205.10" y="135.42" width="6.30" height="7.17" fill="#5c5c5c"/>
<rect x="211.10" y="135.42" width="6.30" height="7.17" fill="#626262"/>
<rect x="217.10" y="135.42" width="6.30" height="7.17" fill="#5f5f5f"/>
<rect x="223.10" y="135.42" width="6.30" height="7.17" fill="#505050"/>
<rect x="229.10" y="135.42" width="6.30" height="7.17" fill="#4b4b4b"/>
<rect x="235.10" y="135.42" width="6.30" height="7.17" fill="#444444"/>
<rect x="241.10" y="135.42" width="6.30" height="7.17" fill="#414141"/>
<rect x="247.10" y="135.42" width="6.30" height="7.17" fill="#444444"/>
<rect x="253.10" y="135.42" width="6.30" height="7.17" fill="#464646"/>
<rect x="259.10" y="135.42" width="6.30" height="7.17" fill="#444444"/>
<rect x="265.10" y="135.42" width="6.30" height="7.17" fill="#3e3e3e"/>
<rect x="271.10" y="135.42" width="6.30" height="7.17" fill="#3c3c3c"/>
<rect x="277.10" y="135.42" width="6.30" height="7.17" fill="#414141"/>
<rect x="283.10" y="135.42" width="6.30" height="7.17" fill="#464646"/>
<rect x="289.10" y="135.42" width="6.30" height="7.17" fill="#484848"/>
<rect x="295.10" y="135.42" width="6.30" height="7.17" fill="#464646"/>
<rect x="301.10" y="135.42" width="6.30" height="7.17" fill="#414141"/>
<rect x="67.10" y="142.29" width="6.30" height="7.17" fill="#555555"/>
<rect x="73.10" y="142.29" width="6.30" height="7.17" fill="#5a5a5a"/>
<rect x="79.10" y="142.29" width="6.30" height="7.17" fill="#646464"/>
<rect x="85.10" y="142.29" width="6.30" height="7.17" fill="#696969"/>
<rect x="91.10" y="142.29" width="6.30" height="7.17" fill="#6e6e6e"/>
<rect x="97.10" y="142.29" width="6.30" height="7.17" fill="#737373"/>
<rect x="103.10" y="142.29" width="6.30" height="7.17" fill="#787878"/>
<rect x="109.10" y="142.29" width="6.30" height="7.17" fill="#767676"/>
<rect x="115.10" y="142.29" width="6.30" height="7.17" fill="#737373"/>
<rect x="121.10" y="142.29" width="6.30" height="7.17" fill="#737373"/>
<rect x="127.10" y="142.29" width="6.30" height="7.17" fill="#767676"/>
<rect x="133.10" y="142.29" width="6.30" height="7.17" fill="#787878"/>
<rect x="139.10" y="142.29" width="6.30" height="7.17" fill="#767676"/>
<rect x="145.10" y="142.29" width="6.30" height="7.17" fill="#707070"/>
<rect x="151.10" y="142.29" width="6.30" height="7.17" fill="#6e6e6e"/>
<rect x="157.10" y="142.29" width="6.30" height="7.17" fill="#6c6c6c"/>
<rect x="163.10" y="142.29" width="6.30" height="7.17" fill="#696969"/>
<rect x="169.10" y="142.29" width="6.30" height="7.17" fill="#646464"/>
<rect x="175.10" y="142.29" width="6.30" height="7.17" fill="#5f5f5f"/>
<rect x="181.10" y="142.29" width="6.30" height="7.17" fill="#5a5a5a"/>
<rect x="187.10" y="142.29" width="6.30" height="7.17" fill="#5a5a5a"/>
<rect x="193.10" y="142.29" width="6.30" height="7.17" fill="#555555"/>
<rect x="199.10" y="142.29" width="6.30" height="7.17" fill="#555555"/>
<rect x="205.10" y="142.29" width="6.30" height="7.17" fill="#585858"/>
<rect x="211.10" y="142.29" width="6.30" height="7.17" fill="#5a5a5a"/>
<rect x="217.10" y="142.29" width="6.30" height="7.17" fill="#505050"/>
<rect x="223.10" y="142.29" width="6.30" height="7.17" fill="#464646"/>
<rect x="229.10" y="142.29" width="6.30" height="7.17" fill="#3c3c3c"/>
<rect x="235.10" y="142.29" width="6.30" height="7.17" fill="#373737"/>
<rect x="241.10" y="142.29" width="6.30" height="7.17" fill="#343434"/>
<rect x="247.10" y="142.29" width="6.30" height="7.17" fill="#323232"/>
<rect x="253.10" y="142.29" width="6.30" height="7.17" fill="#323232"/>
<rect x="259.10" y="142.29" width="6.30" height="7.17" fill="#343434"/>
<rect x="265.10" y="142.29" width="6.30" height="7.17" fill="#373737"/>
<rect x="271.10" y="142.29" width="6.30" height="7.17" fill="#373737"/>
<rect x="277.10" y="142.29" width="6.30" height="7.17" fill="#3a3a3a"/>
<rect x="283.10" y="142.29" width="6.30" height="7.17" fill="#3c3c3c"/>
<rect x="289.10" y="142.29" width="6.30" height="7.17" fill="#414141"/>
<rect x="295.10" y="142.29" width="6.30" height="7.17" fill="#444444"/>
<rect x="301.10" y="142.29" width="6.30" height="7.17" fill="#3e3e3e"/>
<rect x="67.10" y="149.16" width="6.30" height="7.17" fill="#505050"/>
<rect x="73.10" y="149.16" width="6.30" height="7.17" fill="#585858"/>
<rect x="79.10" y="149.16" width="6.30" height="7.17" fill="#696969"/>
<rect x="85.10" y="149.16" width="6.30" height="7.17" fill="#737373"/>
<rect x="91.10" y="149.16" width="6.30" height="7.17" fill="#787878"/>
<rect x="97.10" y="149.16" width="6.30" height="7.17" fill="#7a7a7a"/>
<rect x="103.10" y="149.16" width="6.30" height="7.17" fill="#787878"/>
<rect x="109.10" y="149.16" width="6.30" height="7.17" fill="#767676"/>
<rect x="115.10" y="149.16" width="6.30" height="7.17" fill="#737373"/>
<rect x="121.10" y="149.16" width="6.30" height="7.17" fill="#767676"/>
<rect x="127.10" y="149.16" width="6.30" height="7.17" fill="#787878"/>
<rect x="133.10" y="149.16" width="6.30" height="7.17" fill="#767676"/>
<rect x="139.10" y="149.16" width="6.30" height="7.17" fill="#707070"/>
<rect x="145.10" y="149.16" width="6.30" height="7.17" fill="#6e6e6e"/>
<rect x="151.10" y="149.16" width="6.30" height="7.17" fill="#6c6c6c"/>
<rect x="157.10" y="149.16" width="6.30" height="7.17" fill="#696969"/>
<rect x="163.10" y="149.16" width="6.30" height="7.17" fill="#646464"/>
<rect x="169.10" y="149.16" width="6.30" height="7.17" fill="#5f5f5f"/>
<rect x="175.10" y="149.16" width="6.30" height="7.17" fill="#585858"/>
<rect x="181.10" y="149.16" width="6.30" height="7.17" fill="#555555"/>
<rect x="187.10" y="149.16" width="6.30" height="7.17" fill="#555555"/>
<rect x="193.10" y="149.16" width="6.30" height="7.17" fill="#505050"/>
<rect x="199.10" y="149.16" width="6.30" height="7.17" fill="#4e4e4e"/>
<rect x="205.10" y="149.16" width="6.30" height="7.17" fill="#505050"/>
<rect x="211.10" y="149.16" width="6.30" height="7.17" fill="#525252"/>
<rect x="217.10" y="149.16" width="6.30" height="7.17" fill="#484848"/>
<rect x="223.10" y="149.16" width="6.30" height="7.17" fill="#3a3a3a"/>
<rect x="229.10" y="149.16" width="6.30" height="7.17" fill="#303030"/>
<rect x="235.10" y="149.16" width="6.30" height="7.17" fill="#282828"/>
<rect x="241.10" y="149.16" width="6.30" height="7.17" fill="#262626"/>
<rect x="247.10" y="149.16" width="6.30" height="7.17" fill="#262626"/>
<rect x="253.10" y="149.16" width="6.30" height="7.17" fill="#282828"/>
<rect x="259.10" y="149.16" width="6.30" height="7.17" fill="#2a2a2a"/>
<rect x="265.10" y="149.16" width="6.30" height="7.17" fill="#2d2d2d"/>
<rect x="271.10" y="149.16" width="6.30" height="7.17" fill="#303030"/>
<rect x="277.10" y="149.16" width="6.30" height="7.17" fill="#343434"/>
<rect x="283.10" y="149.16" width="6.30" height="7.17" fill="#3a3a3a"/>
<rect x="289.10" y="149.16" width="6.30" height="7.17" fill="#3e3e3e"/>
<rect x="295.10" y="149.16" width="6.30" height="7.17" fill="#414141"/>
<rect x="301.10" y="149.16" width="6.30" height="7.17" fill="#3c3c3c"/>
<rect x="67.10" y="156.03" width="6.30" height="7.17" fill="#4e4e4e"/>
<rect x="73.10" y="156.03" width="6.30" height="7.17" fill="#5f5f5f"/>
<rect x="79.10" y="156.03" width="6.30" height="7.17" fill="#737373"/>
<rect x="85.10" y="156.03" width="6.30" height="7.17" fill="#7d7d7d"/>
<rect x="91.10" y="156.03" width="6.30" height="7.17" fill="#828282"/>
<rect x="97.10" y="156.03" width="6.30" height="7.17" fill="#8c8c8c"/>
<rect x="103.10" y="156.03" width="6.30" height="7.17" fill="#969696"/>
<rect x="109.10" y="156.03" width="6.30" height="7.17" fill="#828282"/>
<rect x="115.10" y="156.03" width="6.30" height="7.17" fill="#6e6e6e"/>
<rect x="121.10" y="156.03" width="6.30" height="7.17" fill="#696969"/>
<rect x="127.10" y="156.03" width="6.30" height="7.17" fill="#6e6e6e"/>
<rect x="133.10" y="156.03" width="6.30" height="7.17" fill="#737373"/>
<rect x="139.10" y="156.03" width="6.30" height="7.17" fill="#6e6e6e"/>
<rect x="145.10" y="156.03" width="6.30" height="7.17" fill="#6c6c6c"/>
<rect x="151.10" y="156.03" width="6.30" height="7.17" fill="#696969"/>
<rect x="157.10" y="156.03" width="6.30" height="7.17" fill="#646464"/>
<rect x="163.10" y="156.03" width="6.30" height="7.17" fill="#5f5f5f"/>
<rect x="169.10" y="156.03" width="6.30" height="7.17" fill="#585858"/>
<rect x="175.10" y="156.03" width="6.30" height="7.17" fill="#505050"/>
<rect x="181.10" y="156.03" width="6.30" height="7.17" fill="#525252"/>
<rect x="187.10" y="156.03" width="6.30" height="7.17" fill="#505050"/>
<rect x="193.10" y="156.03" width="6.30" height="7.17" fill="#4b4b4b"/>
<rect x="199.10" y="156.03" width="6.30" height="7.17" fill="#484848"/>
<rect x="205.10" y="156.03" width="6.30" height="7.17" fill="#4b4b4b"/>
<rect x="211.10" y="156.03" width="6.30" height="7.17" fill="#484848"/>
<rect x="217.10" y="156.03" width="6.30" height="7.17" fill="#3e3e3e"/>
<rect x="223.10" y="156.03" width="6.30" height="7.17" fill="#323232"/>
<rect x="229.10" y="156.03" width="6.30" height="7.17" fill="#2a2a2a"/>
<rect x="235.10" y="156.03" width="6.30" height="7.17" fill="#232323"/>
<rect x="241.10" y="156.03" width="6.30" height="7.17" fill="#202020"/>
<rect x="247.10" y="156.03" width="6.30" height="7.17" fill="#202020"/>
<rect x="253.10" y="156.03" width="6.30" height="7.17" fill="#232323"/>
<rect x="259.10" y="156.03" width="6.30" height="7.17" fill="#262626"/>
<rect x="265.10" y="156.03" width="6.30" height="7.17" fill="#282828"/>
<rect x="271.10" y="156.03" width="6.30" height="7.17" fill="#2a2a2a"/>
<rect x="277.10" y="156.03" width="6.30" height="7.17" fill="#2d2d2d"/>
<rect x="283.10" y="156.03" width="6.30" height="7.17" fill="#323232"/>
<rect x="289.10" y="156.03" width="6.30" height="7.17" fill="#373737"/>
<rect x="295.10" y="156.03" width="6.30" height="7.17" fill="#3a3a3a"/>
<rect x="301.10" y="156.03" width="6.30" height="7.17" fill="#373737"/>
<rect x="67.10" y="162.90" width="6.30" height="7.17" fill="#4b4b4b"/>
<rect x="73.10" y="162.90" width="6.30" height="7.17" fill="#5a5a5a"/>
<rect x="79.10" y="162.90" width="6.30" height="7.17" fill="#6e6e6e"/>
<rect x="85.10" y="162.90" width="6.30" height="7.17" fill="#787878"/>
<rect x="91.10" y="162.90" width="6.30" height="7.17" fill="#828282"/>
<rect x="97.10" y="162.90" width="6.30" height="7.17" fill="#919191"/>
<rect x="103.10" y="162.90" width="6.30" height="7.17" fill="#a0a0a0"/>
<rect x="109.10" y="162.90" width="6.30" height="7.17" fill="#8c8c8c"/>
<rect x="115.10" y="162.90" width="6.30" height="7.17" fill="#707070"/>
<rect x="121.10" y="162.90" width="6.30" height="7.17" fill="#6c6c6c"/>
<rect x="127.10" y="162.90" width="6.30" height="7.17" fill="#6e6e6e"/>
<rect x="133.10" y="162.90" width="6.30" height="7.17" fill="#707070"/>
<rect x="139.10" y="162.90" width="6.30" height="7.17" fill="#6c6c6c"/>
<rect x="145.10" y="162.90" width="6.30" height="7.17" fill="#696969"/>
<rect x="151.10" y="162.90" width="6.30" height="7.17" fill="#646464"/>
<rect x="157.10" y="162.90" width="6.30" height="7.17" fill="#5f5f5f"/>
<rect x="163.10" y="162.90" width="6.30" height="7.17" fill="#5a5a5a"/>
<rect x="169.10" y="162.90" width="6.30" height="7.17" fill="#555555"/>
<rect x="175.10" y="162.90" width="6.30" height="7.17" fill="#4e4e4e"/>
<rect x="181.10" y="162.90" width="6.30" height="7.17" fill="#505050"/>
<rect x="187.10" y="162.90" width="6.30" height="7.17" fill="#4b4b4b"/>
<rect x="193.10" y="162.90" width="6.30" height="7.17" fill="#464646"/>
<rect x="199.10" y="162.90" width="6.30" height="7.17" fill="#444444"/>
<rect x="205.10" y="162.90" width="6.30" height="7.17" fill="#414141"/>
<rect x="211.10" y="162.90" width="6.30" height="7.17" fill="#3c3c3c"/>
<rect x="217.10" y="162.90" width="6.30" height="7.17" fill="#323232"/>
<rect x="223.10" y="162.90" width="6.30" height="7.17" fill="#2a2a2a"/>
<rect x="229.10" y="162.90" width="6.30" height="7.17" fill="#262626"/>
<rect x="235.10" y="162.90" width="6.30" height="7.17" fill="#202020"/>
<rect x="241.10" y="162.90" width="6.30" height="7.17" fill="#1e1e1e"/>
<rect x="247.10" y="162.90" width="6.30" height="7.17" fill="#1e1e1e"/>
<rect x="253.10" y="162.90" width="6.30" height="7.17" fill="#202020"/>
<rect x="259.10" y="162.90" width="6.30" height="7.17" fill="#232323"/>
<rect x="265.10" y="162.90" width="6.30" height="7.17" fill="#262626"/>
<rect x="271.10" y="162.90" width="6.30" height="7.17" fill="#282828"/>
<rect x="277.10" y="162.90" width="6.30" height="7.17" fill="#2a2a2a"/>
<rect x="283.10" y="162.90" width="6.30" height="7.17" fill="#2d2d2d"/>
<rect x="289.10" y="162.90" width="6.30" height="7.17" fill="#323232"/>
<rect x="295.10" y="162.90" width="6.30" height="7.17" fill="#343434"/>
<rect x="301.10" y="162.90" width="6.30" height="7.17" fill="#323232"/>
</g></g>
<clipPath id="cb"><rect x="397.1" y="25.5" width="236.6" height="139.70"/></clipPath>
<g clip-path="url(#cb)">
<rect x="394.10" y="25.50" width="6.30" height="7.17" fill="#848484"/>
<rect x="400.10" y="25.50" width="6.30" height="7.17" fill="#909090"/>
<rect x="406.10" y="25.50" width="6.30" height="7.17" fill="#8b8b8b"/>
<rect x="412.10" y="25.50" width="6.30" height="7.17" fill="#898989"/>
<rect x="418.10" y="25.50" width="6.30" height="7.17" fill="#878787"/>
<rect x="424.10" y="25.50" width="6.30" height="7.17" fill="#979797"/>
<rect x="430.10" y="25.50" width="6.30" height="7.17" fill="#8a8a8a"/>
<rect x="436.10" y="25.50" width="6.30" height="7.17" fill="#878787"/>
<rect x="442.10" y="25.50" width="6.30" height="7.17" fill="#888888"/>
<rect x="448.10" y="25.50" width="6.30" height="7.17" fill="#878787"/>
<rect x="454.10" y="25.50" width="6.30" height="7.17" fill="#888888"/>
<rect x="460.10" y="25.50" width="6.30" height="7.17" fill="#939393"/>
<rect x="466.10" y="25.50" width="6.30" height="7.17" fill="#8b8b8b"/>
<rect x="472.10" y="25.50" width="6.30" height="7.17" fill="#7b7b7b"/>
<rect x="478.10" y="25.50" width="6.30" height="7.17" fill="#8d8d8d"/>
<rect x="484.10" y="25.50" width="6.30" height="7.17" fill="#979797"/>
<rect x="490.10" y="25.50" width="6.30" height="7.17" fill="#858585"/>
<rect x="496.10" y="25.50" width="6.30" height="7.17" fill="#858585"/>
<rect x="502.10" y="25.50" width="6.30" height="7.17" fill="#8c8c8c"/>
<rect x="508.10" y="25.50" width="6.30" height="7.17" fill="#808080"/>
<rect x="514.10" y="25.50" width="6.30" height="7.17" fill="#888888"/>
<rect x="520.10" y="25.50" width="6.30" height="7.17" fill="#888888"/>
<rect x="526.10" y="25.50" width="6.30" height="7.17" fill="#898989"/>
<rect x="532.10" y="25.50" width="6.30" height="7.17" fill="#808080"/>
<rect x="538.10" y="25.50" width="6.30" height="7.17" fill="#929292"/>
<rect x="544.10" y="25.50" width="6.30" height="7.17" fill="#8a8a8a"/>
<rect x="550.10" y="25.50" width="6.30" height="7.17" fill="#878787"/>
<rect x="556.10" y="25.50" width="6.30" height="7.17" fill="#868686"/>
<rect x="562.10" y="25.50" width="6.30" height="7.17" fill="#838383"/>
<rect x="568.10" y="25.50" width="6.30" height="7.17" fill="#909090"/>
<rect x="574.10" y="25.50" width="6.30" height="7.17" fill="#7e7e7e"/>
<rect x="580.10" y="25.50" width="6.30" height="7.17" fill="#868686"/>
<rect x="586.10" y="25.50" width="6.30" height="7.17" fill="#828282"/>
<rect x="592.10" y="25.50" width="6.30" height="7.17" fill="#898989"/>
<rect x="598.10" y="25.50" width="6.30" height="7.17" fill="#868686"/>
<rect x="604.10" y="25.50" width="6.30" height="7.17" fill="#959595"/>
<rect x="610.10" y="25.50" width="6.30" height="7.17" fill="#969696"/>
<rect x="616.10" y="25.50" width="6.30" height="7.17" fill="#818181"/>
<rect x="622.10" y="25.50" width="6.30" height="7.17" fill="#898989"/>
<rect x="628.10" y="25.50" width="6.30" height="7.17" fill="#8c8c8c"/>
<rect x="634.10" y="25.50" width="6.30" height="7.17" fill="#8d8d8d"/>
<rect x="394.10" y="32.37" width="6.30" height="7.17" fill="#8c8c8c"/>
<rect x="400.10" y="32.37" width="6.30" height="7.17" fill="#8e8e8e"/>
<rect x="406.10" y="32.37" width="6.30" height="7.17" fill="#a5a5a5"/>
<rect x="412.10" y="32.37" width="6.30" height="7.17" fill="#939393"/>
<rect x="418.10" y="32.37" width="6.30" height="7.17" fill="#8d8d8d"/>
<rect x="424.10" y="32.37" width="6.30" height="7.17" fill="#8e8e8e"/>
<rect x="430.10" y="32.37" width="6.30" height="7.17" fill="#989898"/>
<rect x="436.10" y="32.37" width="6.30" height="7.17" fill="#828282"/>
<rect x="442.10" y="32.37" width="6.30" height="7.17" fill="#8a8a8a"/>
<rect x="448.10" y="32.37" width="6.30" height="7.17" fill="#858585"/>
<rect x="454.10" y="32.37" width="6.30" height="7.17" fill="#858585"/>
<rect x="460.10" y="32.37" width="6.30" height="7.17" fill="#959595"/>
<rect x="466.10" y="32.37" width="6.30" height="7.17" fill="#a0a0a0"/>
<rect x="472.10" y="32.37" width="6.30" height="7.17" fill="#9e9e9e"/>
<rect x="478.10" y="32.37" width="6.30" height="7.17" fill="#818181"/>
<rect x="484.10" y="32.37" width="6.30" height="7.17" fill="#878787"/>
<rect x="490.10" y="32.37" width="6.30" height="7.17" fill="#8f8f8f"/>
<rect x="496.10" y="32.37" width="6.30" height="7.17" fill="#909090"/>
<rect x="502.10" y="32.37" width="6.30" height="7.17" fill="#929292"/>
<rect x="508.10" y="32.37" width="6.30" height="7.17" fill="#919191"/>
<rect x="514.10" y="32.37" width="6.30" height="7.17" fill="#8e8e8e"/>
<rect x="520.10" y="32.37" width="6.30" height="7.17" fill="#8c8c8c"/>
<rect x="526.10" y="32.37" width="6.30" height="7.17" fill="#8d8d8d"/>
<rect x="532.10" y="32.37" width="6.30" height="7.17" fill="#909090"/>
<rect x="538.10" y="32.37" width="6.30" height="7.17" fill="#8f8f8f"/>
<rect x="544.10" y="32.37" width="6.30" height="7.17" fill="#898989"/>
<rect x="550.10" y="32.37" width="6.30" height="7.17" fill="#8c8c8c"/>
<rect x="556.10" y="32.37" width="6.30" height="7.17" fill="#7e7e7e"/>
<rect x="562.10" y="32.37" width="6.30" height="7.17" fill="#919191"/>
<rect x="568.10" y="32.37" width="6.30" height="7.17" fill="#979797"/>
<rect x="574.10" y="32.37" width="6.30" height="7.17" fill="#848484"/>
<rect x="580.10" y="32.37" width="6.30" height="7.17" fill="#868686"/>
<rect x="586.10" y="32.37" width="6.30" height="7.17" fill="#969696"/>
<rect x="592.10" y="32.37" width="6.30" height="7.17" fill="#969696"/>
<rect x="598.10" y="32.37" width="6.30" height="7.17" fill="#8c8c8c"/>
<rect x="604.10" y="32.37" width="6.30" height="7.17" fill="#929292"/>
<rect x="610.10" y="32.37" width="6.30" height="7.17" fill="#9b9b9b"/>
<rect x="616.10" y="32.37" width="6.30" height="7.17" fill="#838383"/>
<rect x="622.10" y="32.37" width="6.30" height="7.17" fill="#808080"/>
<rect x="628.10" y="32.37" width="6.30" height="7.17" fill="#868686"/>
<rect x="634.10" y="32.37" width="6.30" height="7.17" fill="#858585"/>
<rect x="394.10" y="39.24" width="6.30" height="7.17" fill="#9e9e9e"/>
<rect x="400.10" y="39.24" width="6.30" height="7.17" fill="#929292"/>
<rect x="406.10" y="39.24" width="6.30" height="7.17" fill="#8a8a8a"/>
<rect x="412.10" y="39.24" width="6.30" height="7.17" fill="#888888"/>
<rect x="418.10" y="39.24" width="6.30" height="7.17" fill="#868686"/>
<rect x="424.10" y="39.24" width="6.30" height="7.17" fill="#898989"/>
<rect x="430.10" y="39.24" width="6.30" height="7.17" fill="#878787"/>
<rect x="436.10" y="39.24" width="6.30" height="7.17" fill="#989898"/>
<rect x="442.10" y="39.24" width="6.30" height="7.17" fill="#7d7d7d"/>
<rect x="448.10" y="39.24" width="6.30" height="7.17" fill="#8f8f8f"/>
<rect x="454.10" y="39.24" width="6.30" height="7.17" fill="#949494"/>
<rect x="460.10" y="39.24" width="6.30" height="7.17" fill="#939393"/>
<rect x="466.10" y="39.24" width="6.30" height="7.17" fill="#9d9d9d"/>
<rect x="472.10" y="39.24" width="6.30" height="7.17" fill="#949494"/>
<rect x="478.10" y="39.24" width="6.30" height="7.17" fill="#8c8c8c"/>
<rect x="484.10" y="39.24" width="6.30" height="7.17" fill="#898989"/>
<rect x="490.10" y="39.24" width="6.30" height="7.17" fill="#858585"/>
<rect x="496.10" y="39.24" width="6.30" height="7.17" fill="#939393"/>
<rect x="502.10" y="39.24" width="6.30" height="7.17" fill="#818181"/>
<rect x="508.10" y="39.24" width="6.30" height="7.17" fill="#878787"/>
<rect x="514.10" y="39.24" width="6.30" height="7.17" fill="#878787"/>
<rect x="520.10" y="39.24" width="6.30" height="7.17" fill="#898989"/>
<rect x="526.10" y="39.24" width="6.30" height="7.17" fill="#7e7e7e"/>
<rect x="532.10" y="39.24" width="6.30" height="7.17" fill="#8e8e8e"/>
<rect x="538.10" y="39.24" width="6.30" height="7.17" fill="#929292"/>
<rect x="544.10" y="39.24" width="6.30" height="7.17" fill="#8e8e8e"/>
<rect x="550.10" y="39.24" width="6.30" height="7.17" fill="#868686"/>
<rect x="556.10" y="39.24" width="6.30" height="7.17" fill="#838383"/>
<rect x="562.10" y="39.24" width="6.30" height="7.17" fill="#898989"/>
<rect x="568.10" y="39.24" width="6.30" height="7.17" fill="#8f8f8f"/>
<rect x="574.10" y="39.24" width="6.30" height="7.17" fill="#848484"/>
<rect x="580.10" y="39.24" width="6.30" height="7.17" fill="#777777"/>
<rect x="586.10" y="39.24" width="6.30" height="7.17" fill="#7f7f7f"/>
<rect x="592.10" y="39.24" width="6.30" height="7.17" fill="#888888"/>
<rect x="598.10" y="39.24" width="6.30" height="7.17" fill="#9d9d9d"/>
<rect x="604.10" y="39.24" width="6.30" height="7.17" fill="#8f8f8f"/>
<rect x="610.10" y="39.24" width="6.30" height="7.17" fill="#808080"/>
<rect x="616.10" y="39.24" width="6.30" height="7.17" fill="#868686"/>
<rect x="622.10" y="39.24" width="6.30" height="7.17" fill="#848484"/>
<rect x="628.10" y="39.24" width="6.30" height="7.17" fill="#898989"/>
<rect x="634.10" y="39.24" width="6.30" height="7.17" fill="#7a7a7a"/>
<rect x="394.10" y="46.11" width="6.30" height="7.17" fill="#919191"/>
<rect x="400.10" y="46.11" width="6.30" height="7.17" fill="#9a9a9a"/>
<rect x="406.10" y="46.11" width="6.30" height="7.17" fill="#767676"/>
<rect x="412.10" y="46.11" width="6.30" height="7.17" fill="#888888"/>
<rect x="418.10" y="46.11" width="6.30" height="7.17" fill="#838383"/>
<rect x="424.10" y="46.11" width="6.30" height="7.17" fill="#8b8b8b"/>
<rect x="430.10" y="46.11" width="6.30" height="7.17" fill="#868686"/>
<rect x="436.10" y="46.11" width="6.30" height="7.17" fill="#858585"/>
<rect x="442.10" y="46.11" width="6.30" height="7.17" fill="#848484"/>
<rect x="448.10" y="46.11" width="6.30" height="7.17" fill="#868686"/>
<rect x="454.10" y="46.11" width="6.30" height="7.17" fill="#8b8b8b"/>
<rect x="460.10" y="46.11" width="6.30" height="7.17" fill="#949494"/>
<rect x="466.10" y="46.11" width="6.30" height="7.17" fill="#969696"/>
<rect x="472.10" y="46.11" width="6.30" height="7.17" fill="#909090"/>
<rect x="478.10" y="46.11" width="6.30" height="7.17" fill="#646464"/>
<rect x="484.10" y="46.11" width="6.30" height="7.17" fill="#464646"/>
<rect x="490.10" y="46.11" width="6.30" height="7.17" fill="#2d2d2d"/>
<rect x="496.10" y="46.11" width="6.30" height="7.17" fill="#191919"/>
<rect x="502.10" y="46.11" width="6.30" height="7.17" fill="#0f0f0f"/>
<rect x="508.10" y="46.11" width="6.30" height="7.17" fill="#2d2d2d"/>
<rect x="514.10" y="46.11" width="6.30" height="7.17" fill="#555555"/>
<rect x="520.10" y="46.11" width="6.30" height="7.17" fill="#8b8b8b"/>
<rect x="526.10" y="46.11" width="6.30" height="7.17" fill="#848484"/>
<rect x="532.10" y="46.11" width="6.30" height="7.17" fill="#959595"/>
<rect x="538.10" y="46.11" width="6.30" height="7.17" fill="#888888"/>
<rect x="544.10" y="46.11" width="6.30" height="7.17" fill="#979797"/>
<rect x="550.10" y="46.11" width="6.30" height="7.17" fill="#848484"/>
<rect x="556.10" y="46.11" width="6.30" height="7.17" fill="#828282"/>
<rect x="562.10" y="46.11" width="6.30" height="7.17" fill="#7b7b7b"/>
<rect x="568.10" y="46.11" width="6.30" height="7.17" fill="#828282"/>
<rect x="574.10" y="46.11" width="6.30" height="7.17" fill="#767676"/>
<rect x="580.10" y="46.11" width="6.30" height="7.17" fill="#848484"/>
<rect x="586.10" y="46.11" width="6.30" height="7.17" fill="#828282"/>
<rect x="592.10" y="46.11" width="6.30" height="7.17" fill="#868686"/>
<rect x="598.10" y="46.11" width="6.30" height="7.17" fill="#858585"/>
<rect x="604.10" y="46.11" width="6.30" height="7.17" fill="#8b8b8b"/>
<rect x="610.10" y="46.11" width="6.30" height="7.17" fill="#868686"/>
<rect x="616.10" y="46.11" width="6.30" height="7.17" fill="#7b7b7b"/>
<rect x="622.10" y="46.11" width="6.30" height="7.17" fill="#828282"/>
<rect x="628.10" y="46.11" width="6.30" height="7.17" fill="#7b7b7b"/>
<rect x="634.10" y="46.11" width="6.30" height="7.17" fill="#808080"/>
<rect x="394.10" y="52.98" width="6.30" height="7.17" fill="#8b8b8b"/>
<rect x="400.10" y="52.98" width="6.30" height="7.17" fill="#8e8e8e"/>
<rect x="406.10" y="52.98" width="6.30" height="7.17" fill="#787878"/>
<rect x="412.10" y="52.98" width="6.30" height="7.17" fill="#7c7c7c"/>
<rect x="418.10" y="52.98" width="6.30" height="7.17" fill="#858585"/>
<rect x="424.10" y="52.98" width="6.30" height="7.17" fill="#8e8e8e"/>
<rect x="430.10" y="52.98" width="6.30" height="7.17" fill="#7b7b7b"/>
<rect x="436.10" y="52.98" width="6.30" height="7.17" fill="#868686"/>
<rect x="442.10" y="52.98" width="6.30" height="7.17" fill="#919191"/>
<rect x="448.10" y="52.98" width="6.30" height="7.17" fill="#8f8f8f"/>
<rect x="454.10" y="52.98" width="6.30" height="7.17" fill="#8f8f8f"/>
<rect x="460.10" y="52.98" width="6.30" height="7.17" fill="#878787"/>
<rect x="466.10" y="52.98" width="6.30" height="7.17" fill="#848484"/>
<rect x="472.10" y="52.98" width="6.30" height="7.17" fill="#828282"/>
<rect x="478.10" y="52.98" width="6.30" height="7.17" fill="#5f5f5f"/>
<rect x="484.10" y="52.98" width="6.30" height="7.17" fill="#323232"/>
<rect x="490.10" y="52.98" width="6.30" height="7.17" fill="#1e1e1e"/>
<rect x="496.10" y="52.98" width="6.30" height="7.17" fill="#000000"/>
<rect x="502.10" y="52.98" width="6.30" height="7.17" fill="#050505"/>
<rect x="508.10" y="52.98" width="6.30" height="7.17" fill="#282828"/>
<rect x="514.10" y="52.98" width="6.30" height="7.17" fill="#505050"/>
<rect x="520.10" y="52.98" width="6.30" height="7.17" fill="#858585"/>
<rect x="526.10" y="52.98" width="6.30" height="7.17" fill="#919191"/>
<rect x="532.10" y="52.98" width="6.30" height="7.17" fill="#949494"/>
<rect x="538.10" y="52.98" width="6.30" height="7.17" fill="#9c9c9c"/>
<rect x="544.10" y="52.98" width="6.30" height="7.17" fill="#999999"/>
<rect x="550.10" y="52.98" width="6.30" height="7.17" fill="#919191"/>
<rect x="556.10" y="52.98" width="6.30" height="7.17" fill="#818181"/>
<rect x="562.10" y="52.98" width="6.30" height="7.17" fill="#828282"/>
<rect x="568.10" y="52.98" width="6.30" height="7.17" fill="#848484"/>
<rect x="574.10" y="52.98" width="6.30" height="7.17" fill="#797979"/>
<rect x="580.10" y="52.98" width="6.30" height="7.17" fill="#838383"/>
<rect x="586.10" y="52.98" width="6.30" height="7.17" fill="#868686"/>
<rect x="592.10" y="52.98" width="6.30" height="7.17" fill="#8e8e8e"/>
<rect x="598.10" y="52.98" width="6.30" height="7.17" fill="#8b8b8b"/>
<rect x="604.10" y="52.98" width="6.30" height="7.17" fill="#828282"/>
<rect x="610.10" y="52.98" width="6.30" height="7.17" fill="#808080"/>
<rect x="616.10" y="52.98" width="6.30" height="7.17" fill="#878787"/>
<rect x="622.10" y="52.98" width="6.30" height="7.17" fill="#898989"/>
<rect x="628.10" y="52.98" width="6.30" height="7.17" fill="#878787"/>
<rect x="634.10" y="52.98" width="6.30" height="7.17" fill="#858585"/>
<rect x="394.10" y="59.85" width="6.30" height="7.17" fill="#909090"/>
<rect x="400.10" y="59.85" width="6.30" height="7.17" fill="#8b8b8b"/>
<rect x="406.10" y="59.85" width="6.30" height="7.17" fill="#8d8d8d"/>
<rect x="412.10" y="59.85" width="6.30" height="7.17" fill="#8a8a8a"/>
<rect x="418.10" y="59.85" width="6.30" height="7.17" fill="#888888"/>
<rect x="424.10" y="59.85" width="6.30" height="7.17" fill="#7f7f7f"/>
<rect x="430.10" y="59.85" width="6.30" height="7.17" fill="#8c8c8c"/>
<rect x="436.10" y="59.85" width="6.30" height="7.17" fill="#878787"/>
<rect x="442.10" y="59.85" width="6.30" height="7.17" fill="#8b8b8b"/>
<rect x="448.10" y="59.85" width="6.30" height="7.17" fill="#949494"/>
<rect x="454.10" y="59.85" width="6.30" height="7.17" fill="#8f8f8f"/>
<rect x="460.10" y="59.85" width="6.30" height="7.17" fill="#878787"/>
<rect x="466.10" y="59.85" width="6.30" height="7.17" fill="#7a7a7a"/>
<rect x="472.10" y="59.85" width="6.30" height="7.17" fill="#868686"/>
<rect x="478.10" y="59.85" width="6.30" height="7.17" fill="#6e6e6e"/>
<rect x="484.10" y="59.85" width="6.30" height="7.17" fill="#373737"/>
<rect x="490.10" y="59.85" width="6.30" height="7.17" fill="#282828"/>
<rect x="496.10" y="59.85" width="6.30" height="7.17" fill="#232323"/>
<rect x="502.10" y="59.85" width="6.30" height="7.17" fill="#282828"/>
<rect x="508.10" y="59.85" width="6.30" height="7.17" fill="#373737"/>
<rect x="514.10" y="59.85" width="6.30" height="7.17" fill="#5a5a5a"/>
<rect x="520.10" y="59.85" width="6.30" height="7.17" fill="#888888"/>
<rect x="526.10" y="59.85" width="6.30" height="7.17" fill="#848484"/>
<rect x="532.10" y="59.85" width="6.30" height="7.17" fill="#909090"/>
<rect x="538.10" y="59.85" width="6.30" height="7.17" fill="#929292"/>
<rect x="544.10" y="59.85" width="6.30" height="7.17" fill="#8d8d8d"/>
<rect x="550.10" y="59.85" width="6.30" height="7.17" fill="#a0a0a0"/>
<rect x="556.10" y="59.85" width="6.30" height="7.17" fill="#8a8a8a"/>
<rect x="562.10" y="59.85" width="6.30" height="7.17" fill="#858585"/>
<rect x="568.10" y="59.85" width="6.30" height="7.17" fill="#7e7e7e"/>
<rect x="574.10" y="59.85" width="6.30" height="7.17" fill="#878787"/>
<rect x="580.10" y="59.85" width="6.30" height="7.17" fill="#8a8a8a"/>
<rect x="586.10" y="59.85" width="6.30" height="7.17" fill="#7e7e7e"/>
<rect x="592.10" y="59.85" width="6.30" height="7.17" fill="#878787"/>
<rect x="598.10" y="59.85" width="6.30" height="7.17" fill="#7a7a7a"/>
<rect x="604.10" y="59.85" width="6.30" height="7.17" fill="#858585"/>
<rect x="610.10" y="59.85" width="6.30" height="7.17" fill="#808080"/>
<rect x="616.10" y="59.85" width="6.30" height="7.17" fill="#818181"/>
<rect x="622.10" y="59.85" width="6.30" height="7.17" fill="#878787"/>
<rect x="628.10" y="59.85" width="6.30" height="7.17" fill="#7d7d7d"/>
<rect x="634.10" y="59.85" width="6.30" height="7.17" fill="#898989"/>
<rect x="394.10" y="66.72" width="6.30" height="7.17" fill="#959595"/>
<rect x="400.10" y="66.72" width="6.30" height="7.17" fill="#898989"/>
<rect x="406.10" y="66.72" width="6.30" height="7.17" fill="#808080"/>
<rect x="412.10" y="66.72" width="6.30" height="7.17" fill="#7e7e7e"/>
<rect x="418.10" y="66.72" width="6.30" height="7.17" fill="#909090"/>
<rect x="424.10" y="66.72" width="6.30" height="7.17" fill="#8c8c8c"/>
<rect x="430.10" y="66.72" width="6.30" height="7.17" fill="#868686"/>
<rect x="436.10" y="66.72" width="6.30" height="7.17" fill="#8e8e8e"/>
<rect x="442.10" y="66.72" width="6.30" height="7.17" fill="#868686"/>
<rect x="448.10" y="66.72" width="6.30" height="7.17" fill="#868686"/>
<rect x="454.10" y="66.72" width="6.30" height="7.17" fill="#909090"/>
<rect x="460.10" y="66.72" width="6.30" height="7.17" fill="#7c7c7c"/>
<rect x="466.10" y="66.72" width="6.30" height="7.17" fill="#919191"/>
<rect x="472.10" y="66.72" width="6.30" height="7.17" fill="#888888"/>
<rect x="478.10" y="66.72" width="6.30" height="7.17" fill="#7d7d7d"/>
<rect x="484.10" y="66.72" width="6.30" height="7.17" fill="#5f5f5f"/>
<rect x="490.10" y="66.72" width="6.30" height="7.17" fill="#555555"/>
<rect x="496.10" y="66.72" width="6.30" height="7.17" fill="#555555"/>
<rect x="502.10" y="66.72" width="6.30" height="7.17" fill="#505050"/>
<rect x="508.10" y="66.72" width="6.30" height="7.17" fill="#4b4b4b"/>
<rect x="514.10" y="66.72" width="6.30" height="7.17" fill="#646464"/>
<rect x="520.10" y="66.72" width="6.30" height="7.17" fill="#898989"/>
<rect x="526.10" y="66.72" width="6.30" height="7.17" fill="#909090"/>
<rect x="532.10" y="66.72" width="6.30" height="7.17" fill="#959595"/>
<rect x="538.10" y="66.72" width="6.30" height="7.17" fill="#8c8c8c"/>
<rect x="544.10" y="66.72" width="6.30" height="7.17" fill="#909090"/>
<rect x="550.10" y="66.72" width="6.30" height="7.17" fill="#868686"/>
<rect x="556.10" y="66.72" width="6.30" height="7.17" fill="#888888"/>
<rect x="562.10" y="66.72" width="6.30" height="7.17" fill="#868686"/>
<rect x="568.10" y="66.72" width="6.30" height="7.17" fill="#868686"/>
<rect x="574.10" y="66.72" width="6.30" height="7.17" fill="#848484"/>
<rect x="580.10" y="66.72" width="6.30" height="7.17" fill="#8b8b8b"/>
<rect x="586.10" y="66.72" width="6.30" height="7.17" fill="#8a8a8a"/>
<rect x="592.10" y="66.72" width="6.30" height="7.17" fill="#878787"/>
<rect x="598.10" y="66.72" width="6.30" height="7.17" fill="#898989"/>
<rect x="604.10" y="66.72" width="6.30" height="7.17" fill="#777777"/>
<rect x="610.10" y="66.72" width="6.30" height="7.17" fill="#8a8a8a"/>
<rect x="616.10" y="66.72" width="6.30" height="7.17" fill="#808080"/>
<rect x="622.10" y="66.72" width="6.30" height="7.17" fill="#797979"/>
<rect x="628.10" y="66.72" width="6.30" height="7.17" fill="#7f7f7f"/>
<rect x="634.10" y="66.72" width="6.30" height="7.17" fill="#868686"/>
<rect x="394.10" y="73.59" width="6.30" height="7.17" fill="#a1a1a1"/>
<rect x="400.10" y="73.59" width="6.30" height="7.17" fill="#737373"/>
<rect x="406.10" y="73.59" width="6.30" height="7.17" fill="#888888"/>
<rect x="412.10" y="73.59" width="6.30" height="7.17" fill="#7c7c7c"/>
<rect x="418.10" y="73.59" width="6.30" height="7.17" fill="#838383"/>
<rect x="424.10" y="73.59" width="6.30" height="7.17" fill="#888888"/>
<rect x="430.10" y="73.59" width="6.30" height="7.17" fill="#888888"/>
<rect x="436.10" y="73.59" width="6.30" height="7.17" fill="#909090"/>
<rect x="442.10" y="73.59" width="6.30" height="7.17" fill="#969696"/>
<rect x="448.10" y="73.59" width="6.30" height="7.17" fill="#959595"/>
<rect x="454.10" y="73.59" width="6.30" height="7.17" fill="#848484"/>
<rect x="460.10" y="73.59" width="6.30" height="7.17" fill="#919191"/>
<rect x="466.10" y="73.59" width="6.30" height="7.17" fill="#838383"/>
<rect x="472.10" y="73.59" width="6.30" height="7.17" fill="#878787"/>
<rect x="478.10" y="73.59" width="6.30" height="7.17" fill="#868686"/>
<rect x="484.10" y="73.59" width="6.30" height="7.17" fill="#6e6e6e"/>
<rect x="490.10" y="73.59" width="6.30" height="7.17" fill="#646464"/>
<rect x="496.10" y="73.59" width="6.30" height="7.17" fill="#5f5f5f"/>
<rect x="502.10" y="73.59" width="6.30" height="7.17" fill="#5f5f5f"/>
<rect x="508.10" y="73.59" width="6.30" height="7.17" fill="#505050"/>
<rect x="514.10" y="73.59" width="6.30" height="7.17" fill="#6e6e6e"/>
<rect x="520.10" y="73.59" width="6.30" height="7.17" fill="#929292"/>
<rect x="526.10" y="73.59" width="6.30" height="7.17" fill="#878787"/>
<rect x="532.10" y="73.59" width="6.30" height="7.17" fill="#8f8f8f"/>
<rect x="538.10" y="73.59" width="6.30" height="7.17" fill="#909090"/>
<rect x="544.10" y="73.59" width="6.30" height="7.17" fill="#8b8b8b"/>
<rect x="550.10" y="73.59" width="6.30" height="7.17" fill="#868686"/>
<rect x="556.10" y="73.59" width="6.30" height="7.17" fill="#7d7d7d"/>
<rect x="562.10" y="73.59" width="6.30" height="7.17" fill="#8d8d8d"/>
<rect x="568.10" y="73.59" width="6.30" height="7.17" fill="#959595"/>
<rect x="574.10" y="73.59" width="6.30" height="7.17" fill="#878787"/>
<rect x="580.10" y="73.59" width="6.30" height="7.17" fill="#949494"/>
<rect x="586.10" y="73.59" width="6.30" height="7.17" fill="#838383"/>
<rect x="592.10" y="73.59" width="6.30" height="7.17" fill="#888888"/>
<rect x="598.10" y="73.59" width="6.30" height="7.17" fill="#898989"/>
<rect x="604.10" y="73.59" width="6.30" height="7.17" fill="#7e7e7e"/>
<rect x="610.10" y="73.59" width="6.30" height="7.17" fill="#818181"/>
<rect x="616.10" y="73.59" width="6.30" height="7.17" fill="#8a8a8a"/>
<rect x="622.10" y="73.59" width="6.30" height="7.17" fill="#808080"/>
<rect x="628.10" y="73.59" width="6.30" height="7.17" fill="#868686"/>
<rect x="634.10" y="73.59" width="6.30" height="7.17" fill="#929292"/>
<rect x="394.10" y="80.46" width="6.30" height="7.17" fill="#959595"/>
<rect x="400.10" y="80.46" width="6.30" height="7.17" fill="#707070"/>
<rect x="406.10" y="80.46" width="6.30" height="7.17" fill="#787878"/>
<rect x="412.10" y="80.46" width="6.30" height="7.17" fill="#8a8a8a"/>
<rect x="418.10" y="80.46" width="6.30" height="7.17" fill="#878787"/>
<rect x="424.10" y="80.46" width="6.30" height="7.17" fill="#7e7e7e"/>
<rect x="430.10" y="80.46" width="6.30" height="7.17" fill="#7c7c7c"/>
<rect x="436.10" y="80.46" width="6.30" height="7.17" fill="#8b8b8b"/>
<rect x="442.10" y="80.46" width="6.30" height="7.17" fill="#939393"/>
<rect x="448.10" y="80.46" width="6.30" height="7.17" fill="#828282"/>
<rect x="454.10" y="80.46" width="6.30" height="7.17" fill="#828282"/>
<rect x="460.10" y="80.46" width="6.30" height="7.17" fill="#8b8b8b"/>
<rect x="466.10" y="80.46" width="6.30" height="7.17" fill="#858585"/>
<rect x="472.10" y="80.46" width="6.30" height="7.17" fill="#888888"/>
<rect x="478.10" y="80.46" width="6.30" height="7.17" fill="#858585"/>
<rect x="484.10" y="80.46" width="6.30" height="7.17" fill="#878787"/>
<rect x="490.10" y="80.46" width="6.30" height="7.17" fill="#858585"/>
<rect x="496.10" y="80.46" width="6.30" height="7.17" fill="#8e8e8e"/>
<rect x="502.10" y="80.46" width="6.30" height="7.17" fill="#858585"/>
<rect x="508.10" y="80.46" width="6.30" height="7.17" fill="#8d8d8d"/>
<rect x="514.10" y="80.46" width="6.30" height="7.17" fill="#929292"/>
<rect x="520.10" y="80.46" width="6.30" height="7.17" fill="#848484"/>
<rect x="526.10" y="80.46" width="6.30" height="7.17" fill="#929292"/>
<rect x="532.10" y="80.46" width="6.30" height="7.17" fill="#8b8b8b"/>
<rect x="538.10" y="80.46" width="6.30" height="7.17" fill="#9f9f9f"/>
<rect x="544.10" y="80.46" width="6.30" height="7.17" fill="#999999"/>
<rect x="550.10" y="80.46" width="6.30" height="7.17" fill="#979797"/>
<rect x="556.10" y="80.46" width="6.30" height="7.17" fill="#858585"/>
<rect x="562.10" y="80.46" width="6.30" height="7.17" fill="#8e8e8e"/>
<rect x="568.10" y="80.46" width="6.30" height="7.17" fill="#8a8a8a"/>
<rect x="574.10" y="80.46" width="6.30" height="7.17" fill="#8d8d8d"/>
<rect x="580.10" y="80.46" width="6.30" height="7.17" fill="#8f8f8f"/>
<rect x="586.10" y="80.46" width="6.30" height="7.17" fill="#8d8d8d"/>
<rect x="592.10" y="80.46" width="6.30" height="7.17" fill="#818181"/>
<rect x="598.10" y="80.46" width="6.30" height="7.17" fill="#797979"/>
<rect x="604.10" y="80.46" width="6.30" height="7.17" fill="#828282"/>
<rect x="610.10" y="80.46" width="6.30" height="7.17" fill="#848484"/>
<rect x="616.10" y="80.46" width="6.30" height="7.17" fill="#818181"/>
<rect x="622.10" y="80.46" width="6.30" height="7.17" fill="#898989"/>
<rect x="628.10" y="80.46" width="6.30" height="7.17" fill="#898989"/>
<rect x="634.10" y="80.46" width="6.30" height="7.17" fill="#808080"/>
<rect x="394.10" y="87.33" width="6.30" height="7.17" fill="#919191"/>
<rect x="400.10" y="87.33" width="6.30" height="7.17" fill="#767676"/>
<rect x="406.10" y="87.33" width="6.30" height="7.17" fill="#787878"/>
<rect x="412.10" y="87.33" width="6.30" height="7.17" fill="#7a7a7a"/>
<rect x="418.10" y="87.33" width="6.30" height="7.17" fill="#888888"/>
<rect x="424.10" y="87.33" width="6.30" height="7.17" fill="#8d8d8d"/>
<rect x="430.10" y="87.33" width="6.30" height="7.17" fill="#8f8f8f"/>
<rect x="436.10" y="87.33" width="6.30" height="7.17" fill="#919191"/>
<rect x="442.10" y="87.33" width="6.30" height="7.17" fill="#8f8f8f"/>
<rect x="448.10" y="87.33" width="6.30" height="7.17" fill="#7f7f7f"/>
<rect x="454.10" y="87.33" width="6.30" height="7.17" fill="#878787"/>
<rect x="460.10" y="87.33" width="6.30" height="7.17" fill="#939393"/>
<rect x="466.10" y="87.33" width="6.30" height="7.17" fill="#909090"/>
<rect x="472.10" y="87.33" width="6.30" height="7.17" fill="#8c8c8c"/>
<rect x="478.10" y="87.33" width="6.30" height="7.17" fill="#838383"/>
<rect x="484.10" y="87.33" width="6.30" height="7.17" fill="#7d7d7d"/>
<rect x="490.10" y="87.33" width="6.30" height="7.17" fill="#838383"/>
<rect x="496.10" y="87.33" width="6.30" height="7.17" fill="#8a8a8a"/>
<rect x="502.10" y="87.33" width="6.30" height="7.17" fill="#979797"/>
<rect x="508.10" y="87.33" width="6.30" height="7.17" fill="#888888"/>
<rect x="514.10" y="87.33" width="6.30" height="7.17" fill="#848484"/>
<rect x="520.10" y="87.33" width="6.30" height="7.17" fill="#868686"/>
<rect x="526.10" y="87.33" width="6.30" height="7.17" fill="#818181"/>
<rect x="532.10" y="87.33" width="6.30" height="7.17" fill="#929292"/>
<rect x="538.10" y="87.33" width="6.30" height="7.17" fill="#8b8b8b"/>
<rect x="544.10" y="87.33" width="6.30" height="7.17" fill="#9b9b9b"/>
<rect x="550.10" y="87.33" width="6.30" height="7.17" fill="#949494"/>
<rect x="556.10" y="87.33" width="6.30" height="7.17" fill="#8a8a8a"/>
<rect x="562.10" y="87.33" width="6.30" height="7.17" fill="#898989"/>
<rect x="568.10" y="87.33" width="6.30" height="7.17" fill="#878787"/>
<rect x="574.10" y="87.33" width="6.30" height="7.17" fill="#878787"/>
<rect x="580.10" y="87.33" width="6.30" height="7.17" fill="#888888"/>
<rect x="586.10" y="87.33" width="6.30" height="7.17" fill="#858585"/>
<rect x="592.10" y="87.33" width="6.30" height="7.17" fill="#898989"/>
<rect x="598.10" y="87.33" width="6.30" height="7.17" fill="#878787"/>
<rect x="604.10" y="87.33" width="6.30" height="7.17" fill="#838383"/>
<rect x="610.10" y="87.33" width="6.30" height="7.17" fill="#838383"/>
<rect x="616.10" y="87.33" width="6.30" height="7.17" fill="#868686"/>
<rect x="622.10" y="87.33" width="6.30" height="7.17" fill="#888888"/>
<rect x="628.10" y="87.33" width="6.30" height="7.17" fill="#828282"/>
<rect x="634.10" y="87.33" width="6.30" height="7.17" fill="#888888"/>
<rect x="394.10" y="94.20" width="6.30" height="7.17" fill="#878787"/>
<rect x="400.10" y="94.20" width="6.30" height="7.17" fill="#787878"/>
<rect x="406.10" y="94.20" width="6.30" height="7.17" fill="#767676"/>
<rect x="412.10" y="94.20" width="6.30" height="7.17" fill="#7f7f7f"/>
<rect x="418.10" y="94.20" width="6.30" height="7.17" fill="#8a8a8a"/>
<rect x="424.10" y="94.20" width="6.30" height="7.17" fill="#858585"/>
<rect x="430.10" y="94.20" width="6.30" height="7.17" fill="#909090"/>
<rect x="436.10" y="94.20" width="6.30" height="7.17" fill="#838383"/>
<rect x="442.10" y="94.20" width="6.30" height="7.17" fill="#737373"/>
<rect x="448.10" y="94.20" width="6.30" height="7.17" fill="#6e6e6e"/>
<rect x="454.10" y="94.20" width="6.30" height="7.17" fill="#828282"/>
<rect x="460.10" y="94.20" width="6.30" height="7.17" fill="#868686"/>
<rect x="466.10" y="94.20" width="6.30" height="7.17" fill="#d7d7d7"/>
<rect x="472.10" y="94.20" width="6.30" height="7.17" fill="#f0f0f0"/>
<rect x="478.10" y="94.20" width="6.30" height="7.17" fill="#e1e1e1"/>
<rect x="484.10" y="94.20" width="6.30" height="7.17" fill="#858585"/>
<rect x="490.10" y="94.20" width="6.30" height="7.17" fill="#7a7a7a"/>
<rect x="496.10" y="94.20" width="6.30" height="7.17" fill="#949494"/>
<rect x="502.10" y="94.20" width="6.30" height="7.17" fill="#878787"/>
<rect x="508.10" y="94.20" width="6.30" height="7.17" fill="#929292"/>
<rect x="514.10" y="94.20" width="6.30" height="7.17" fill="#999999"/>
<rect x="520.10" y="94.20" width="6.30" height="7.17" fill="#858585"/>
<rect x="526.10" y="94.20" width="6.30" height="7.17" fill="#8e8e8e"/>
<rect x="532.10" y="94.20" width="6.30" height="7.17" fill="#878787"/>
<rect x="538.10" y="94.20" width="6.30" height="7.17" fill="#8b8b8b"/>
<rect x="544.10" y="94.20" width="6.30" height="7.17" fill="#898989"/>
<rect x="550.10" y="94.20" width="6.30" height="7.17" fill="#838383"/>
<rect x="556.10" y="94.20" width="6.30" height="7.17" fill="#8c8c8c"/>
<rect x="562.10" y="94.20" width="6.30" height="7.17" fill="#909090"/>
<rect x="568.10" y="94.20" width="6.30" height="7.17" fill="#838383"/>
<rect x="574.10" y="94.20" width="6.30" height="7.17" fill="#808080"/>
<rect x="580.10" y="94.20" width="6.30" height="7.17" fill="#787878"/>
<rect x="586.10" y="94.20" width="6.30" height="7.17" fill="#818181"/>
<rect x="592.10" y="94.20" width="6.30" height="7.17" fill="#888888"/>
<rect x="598.10" y="94.20" width="6.30" height="7.17" fill="#898989"/>
<rect x="604.10" y="94.20" width="6.30" height="7.17" fill="#8c8c8c"/>
<rect x="610.10" y="94.20" width="6.30" height="7.17" fill="#888888"/>
<rect x="616.10" y="94.20" width="6.30" height="7.17" fill="#878787"/>
<rect x="622.10" y="94.20" width="6.30" height="7.17" fill="#868686"/>
<rect x="628.10" y="94.20" width="6.30" height="7.17" fill="#888888"/>
<rect x="634.10" y="94.20" width="6.30" height="7.17" fill="#7c7c7c"/>
<rect x="394.10" y="101.07" width="6.30" height="7.17" fill="#8f8f8f"/>
<rect x="400.10" y="101.07" width="6.30" height="7.17" fill="#959595"/>
<rect x="406.10" y="101.07" width="6.30" height="7.17" fill="#8e8e8e"/>
<rect x="412.10" y="101.07" width="6.30" height="7.17" fill="#868686"/>
<rect x="418.10" y="101.07" width="6.30" height="7.17" fill="#909090"/>
<rect x="424.10" y="101.07" width="6.30" height="7.17" fill="#9b9b9b"/>
<rect x="430.10" y="101.07" width="6.30" height="7.17" fill="#8c8c8c"/>
<rect x="436.10" y="101.07" width="6.30" height="7.17" fill="#8b8b8b"/>
<rect x="442.10" y="101.07" width="6.30" height="7.17" fill="#707070"/>
<rect x="448.10" y="101.07" width="6.30" height="7.17" fill="#6c6c6c"/>
<rect x="454.10" y="101.07" width="6.30" height="7.17" fill="#767676"/>
<rect x="460.10" y="101.07" width="6.30" height="7.17" fill="#868686"/>
<rect x="466.10" y="101.07" width="6.30" height="7.17" fill="#dcdcdc"/>
<rect x="472.10" y="101.07" width="6.30" height="7.17" fill="#f0f0f0"/>
<rect x="478.10" y="101.07" width="6.30" height="7.17" fill="#e6e6e6"/>
<rect x="484.10" y="101.07" width="6.30" height="7.17" fill="#787878"/>
<rect x="490.10" y="101.07" width="6.30" height="7.17" fill="#818181"/>
<rect x="496.10" y="101.07" width="6.30" height="7.17" fill="#898989"/>
<rect x="502.10" y="101.07" width="6.30" height="7.17" fill="#8b8b8b"/>
<rect x="508.10" y="101.07" width="6.30" height="7.17" fill="#848484"/>
<rect x="514.10" y="101.07" width="6.30" height="7.17" fill="#929292"/>
<rect x="520.10" y="101.07" width="6.30" height="7.17" fill="#878787"/>
<rect x="526.10" y="101.07" width="6.30" height="7.17" fill="#949494"/>
<rect x="532.10" y="101.07" width="6.30" height="7.17" fill="#919191"/>
<rect x="538.10" y="101.07" width="6.30" height="7.17" fill="#858585"/>
<rect x="544.10" y="101.07" width="6.30" height="7.17" fill="#858585"/>
<rect x="550.10" y="101.07" width="6.30" height="7.17" fill="#878787"/>
<rect x="556.10" y="101.07" width="6.30" height="7.17" fill="#8d8d8d"/>
<rect x="562.10" y="101.07" width="6.30" height="7.17" fill="#7c7c7c"/>
<rect x="568.10" y="101.07" width="6.30" height="7.17" fill="#808080"/>
<rect x="574.10" y="101.07" width="6.30" height="7.17" fill="#848484"/>
<rect x="580.10" y="101.07" width="6.30" height="7.17" fill="#7c7c7c"/>
<rect x="586.10" y="101.07" width="6.30" height="7.17" fill="#7f7f7f"/>
<rect x="592.10" y="101.07" width="6.30" height="7.17" fill="#7d7d7d"/>
<rect x="598.10" y="101.07" width="6.30" height="7.17" fill="#858585"/>
<rect x="604.10" y="101.07" width="6.30" height="7.17" fill="#848484"/>
<rect x="610.10" y="101.07" width="6.30" height="7.17" fill="#979797"/>
<rect x="616.10" y="101.07" width="6.30" height="7.17" fill="#7d7d7d"/>
<rect x="622.10" y="101.07" width="6.30" height="7.17" fill="#8e8e8e"/>
<rect x="628.10" y="101.07" width="6.30" height="7.17" fill="#8a8a8a"/>
<rect x="634.10" y="101.07" width="6.30" height="7.17" fill="#848484"/>
<rect x="394.10" y="107.94" width="6.30" height="7.17" fill="#8d8d8d"/>
<rect x="400.10" y="107.94" width="6.30" height="7.17" fill="#8d8d8d"/>
<rect x="406.10" y="107.94" width="6.30" height="7.17" fill="#989898"/>
<rect x="412.10" y="107.94" width="6.30" height="7.17" fill="#959595"/>
<rect x="418.10" y="107.94" width="6.30" height="7.17" fill="#8e8e8e"/>
<rect x="424.10" y="107.94" width="6.30" height="7.17" fill="#8e8e8e"/>
<rect x="430.10" y="107.94" width="6.30" height="7.17" fill="#969696"/>
<rect x="436.10" y="107.94" width="6.30" height="7.17" fill="#898989"/>
<rect x="442.10" y="107.94" width="6.30" height="7.17" fill="#868686"/>
<rect x="448.10" y="107.94" width="6.30" height="7.17" fill="#787878"/>
<rect x="454.10" y="107.94" width="6.30" height="7.17" fill="#8b8b8b"/>
<rect x="460.10" y="107.94" width="6.30" height="7.17" fill="#8b8b8b"/>
<rect x="466.10" y="107.94" width="6.30" height="7.17" fill="#818181"/>
<rect x="472.10" y="107.94" width="6.30" height="7.17" fill="#c8c8c8"/>
<rect x="478.10" y="107.94" width="6.30" height="7.17" fill="#c3c3c3"/>
<rect x="484.10" y="107.94" width="6.30" height="7.17" fill="#818181"/>
<rect x="490.10" y="107.94" width="6.30" height="7.17" fill="#7d7d7d"/>
<rect x="496.10" y="107.94" width="6.30" height="7.17" fill="#929292"/>
<rect x="502.10" y="107.94" width="6.30" height="7.17" fill="#8d8d8d"/>
<rect x="508.10" y="107.94" width="6.30" height="7.17" fill="#858585"/>
<rect x="514.10" y="107.94" width="6.30" height="7.17" fill="#858585"/>
<rect x="520.10" y="107.94" width="6.30" height="7.17" fill="#8d8d8d"/>
<rect x="526.10" y="107.94" width="6.30" height="7.17" fill="#8b8b8b"/>
<rect x="532.10" y="107.94" width="6.30" height="7.17" fill="#8a8a8a"/>
<rect x="538.10" y="107.94" width="6.30" height="7.17" fill="#8c8c8c"/>
<rect x="544.10" y="107.94" width="6.30" height="7.17" fill="#8d8d8d"/>
<rect x="550.10" y="107.94" width="6.30" height="7.17" fill="#868686"/>
<rect x="556.10" y="107.94" width="6.30" height="7.17" fill="#838383"/>
<rect x="562.10" y="107.94" width="6.30" height="7.17" fill="#868686"/>
<rect x="568.10" y="107.94" width="6.30" height="7.17" fill="#878787"/>
<rect x="574.10" y="107.94" width="6.30" height="7.17" fill="#808080"/>
<rect x="580.10" y="107.94" width="6.30" height="7.17" fill="#848484"/>
<rect x="586.10" y="107.94" width="6.30" height="7.17" fill="#818181"/>
<rect x="592.10" y="107.94" width="6.30" height="7.17" fill="#828282"/>
<rect x="598.10" y="107.94" width="6.30" height="7.17" fill="#828282"/>
<rect x="604.10" y="107.94" width="6.30" height="7.17" fill="#8a8a8a"/>
<rect x="610.10" y="107.94" width="6.30" height="7.17" fill="#8e8e8e"/>
<rect x="616.10" y="107.94" width="6.30" height="7.17" fill="#858585"/>
<rect x="622.10" y="107.94" width="6.30" height="7.17" fill="#858585"/>
<rect x="628.10" y="107.94" width="6.30" height="7.17" fill="#858585"/>
<rect x="634.10" y="107.94" width="6.30" height="7.17" fill="#898989"/>
<rect x="394.10" y="114.81" width="6.30" height="7.17" fill="#8a8a8a"/>
<rect x="400.10" y="114.81" width="6.30" height="7.17" fill="#828282"/>
<rect x="406.10" y="114.81" width="6.30" height="7.17" fill="#919191"/>
<rect x="412.10" y="114.81" width="6.30" height="7.17" fill="#909090"/>
<rect x="418.10" y="114.81" width="6.30" height="7.17" fill="#797979"/>
<rect x="424.10" y="114.81" width="6.30" height="7.17" fill="#969696"/>
<rect x="430.10" y="114.81" width="6.30" height="7.17" fill="#949494"/>
<rect x="436.10" y="114.81" width="6.30" height="7.17" fill="#9b9b9b"/>
<rect x="442.10" y="114.81" width="6.30" height="7.17" fill="#888888"/>
<rect x="448.10" y="114.81" width="6.30" height="7.17" fill="#8a8a8a"/>
<rect x="454.10" y="114.81" width="6.30" height="7.17" fill="#898989"/>
<rect x="460.10" y="114.81" width="6.30" height="7.17" fill="#818181"/>
<rect x="466.10" y="114.81" width="6.30" height="7.17" fill="#929292"/>
<rect x="472.10" y="114.81" width="6.30" height="7.17" fill="#c3c3c3"/>
<rect x="478.10" y="114.81" width="6.30" height="7.17" fill="#c8c8c8"/>
<rect x="484.10" y="114.81" width="6.30" height="7.17" fill="#868686"/>
<rect x="490.10" y="114.81" width="6.30" height="7.17" fill="#888888"/>
<rect x="496.10" y="114.81" width="6.30" height="7.17" fill="#989898"/>
<rect x="502.10" y="114.81" width="6.30" height="7.17" fill="#969696"/>
<rect x="508.10" y="114.81" width="6.30" height="7.17" fill="#787878"/>
<rect x="514.10" y="114.81" width="6.30" height="7.17" fill="#787878"/>
<rect x="520.10" y="114.81" width="6.30" height="7.17" fill="#919191"/>
<rect x="526.10" y="114.81" width="6.30" height="7.17" fill="#898989"/>
<rect x="532.10" y="114.81" width="6.30" height="7.17" fill="#8a8a8a"/>
<rect x="538.10" y="114.81" width="6.30" height="7.17" fill="#8d8d8d"/>
<rect x="544.10" y="114.81" width="6.30" height="7.17" fill="#858585"/>
<rect x="550.10" y="114.81" width="6.30" height="7.17" fill="#8d8d8d"/>
<rect x="556.10" y="114.81" width="6.30" height="7.17" fill="#878787"/>
<rect x="562.10" y="114.81" width="6.30" height="7.17" fill="#878787"/>
<rect x="568.10" y="114.81" width="6.30" height="7.17" fill="#8e8e8e"/>
<rect x="574.10" y="114.81" width="6.30" height="7.17" fill="#808080"/>
<rect x="580.10" y="114.81" width="6.30" height="7.17" fill="#848484"/>
<rect x="586.10" y="114.81" width="6.30" height="7.17" fill="#888888"/>
<rect x="592.10" y="114.81" width="6.30" height="7.17" fill="#898989"/>
<rect x="598.10" y="114.81" width="6.30" height="7.17" fill="#898989"/>
<rect x="604.10" y="114.81" width="6.30" height="7.17" fill="#818181"/>
<rect x="610.10" y="114.81" width="6.30" height="7.17" fill="#777777"/>
<rect x="616.10" y="114.81" width="6.30" height="7.17" fill="#808080"/>
<rect x="622.10" y="114.81" width="6.30" height="7.17" fill="#808080"/>
<rect x="628.10" y="114.81" width="6.30" height="7.17" fill="#777777"/>
<rect x="634.10" y="114.81" width="6.30" height="7.17" fill="#787878"/>
<rect x="394.10" y="121.68" width="6.30" height="7.17" fill="#8b8b8b"/>
<rect x="400.10" y="121.68" width="6.30" height="7.17" fill="#8e8e8e"/>
<rect x="406.10" y="121.68" width="6.30" height="7.17" fill="#828282"/>
<rect x="412.10" y="121.68" width="6.30" height="7.17" fill="#939393"/>
<rect x="418.10" y="121.68" width="6.30" height="7.17" fill="#8a8a8a"/>
<rect x="424.10" y="121.68" width="6.30" height="7.17" fill="#909090"/>
<rect x="430.10" y="121.68" width="6.30" height="7.17" fill="#8e8e8e"/>
<rect x="436.10" y="121.68" width="6.30" height="7.17" fill="#8f8f8f"/>
<rect x="442.10" y="121.68" width="6.30" height="7.17" fill="#848484"/>
<rect x="448.10" y="121.68" width="6.30" height="7.17" fill="#8b8b8b"/>
<rect x="454.10" y="121.68" width="6.30" height="7.17" fill="#898989"/>
<rect x="460.10" y="121.68" width="6.30" height="7.17" fill="#848484"/>
<rect x="466.10" y="121.68" width="6.30" height="7.17" fill="#8c8c8c"/>
<rect x="472.10" y="121.68" width="6.30" height="7.17" fill="#bebebe"/>
<rect x="478.10" y="121.68" width="6.30" height="7.17" fill="#c3c3c3"/>
<rect x="484.10" y="121.68" width="6.30" height="7.17" fill="#858585"/>
<rect x="490.10" y="121.68" width="6.30" height="7.17" fill="#7d7d7d"/>
<rect x="496.10" y="121.68" width="6.30" height="7.17" fill="#808080"/>
<rect x="502.10" y="121.68" width="6.30" height="7.17" fill="#929292"/>
<rect x="508.10" y="121.68" width="6.30" height="7.17" fill="#868686"/>
<rect x="514.10" y="121.68" width="6.30" height="7.17" fill="#8d8d8d"/>
<rect x="520.10" y="121.68" width="6.30" height="7.17" fill="#8c8c8c"/>
<rect x="526.10" y="121.68" width="6.30" height="7.17" fill="#868686"/>
<rect x="532.10" y="121.68" width="6.30" height="7.17" fill="#939393"/>
<rect x="538.10" y="121.68" width="6.30" height="7.17" fill="#8f8f8f"/>
<rect x="544.10" y="121.68" width="6.30" height="7.17" fill="#8f8f8f"/>
<rect x="550.10" y="121.68" width="6.30" height="7.17" fill="#848484"/>
<rect x="556.10" y="121.68" width="6.30" height="7.17" fill="#8a8a8a"/>
<rect x="562.10" y="121.68" width="6.30" height="7.17" fill="#828282"/>
<rect x="568.10" y="121.68" width="6.30" height="7.17" fill="#8c8c8c"/>
<rect x="574.10" y="121.68" width="6.30" height="7.17" fill="#818181"/>
<rect x="580.10" y="121.68" width="6.30" height="7.17" fill="#808080"/>
<rect x="586.10" y="121.68" width="6.30" height="7.17" fill="#848484"/>
<rect x="592.10" y="121.68" width="6.30" height="7.17" fill="#818181"/>
<rect x="598.10" y="121.68" width="6.30" height="7.17" fill="#8e8e8e"/>
<rect x="604.10" y="121.68" width="6.30" height="7.17" fill="#929292"/>
<rect x="610.10" y="121.68" width="6.30" height="7.17" fill="#848484"/>
<rect x="616.10" y="121.68" width="6.30" height="7.17" fill="#7a7a7a"/>
<rect x="622.10" y="121.68" width="6.30" height="7.17" fill="#828282"/>
<rect x="628.10" y="121.68" width="6.30" height="7.17" fill="#6f6f6f"/>
<rect x="634.10" y="121.68" width="6.30" height="7.17" fill="#808080"/>
<rect x="394.10" y="128.55" width="6.30" height="7.17" fill="#8d8d8d"/>
<rect x="400.10" y="128.55" width="6.30" height="7.17" fill="#949494"/>
<rect x="406.10" y="128.55" width="6.30" height="7.17" fill="#8c8c8c"/>
<rect x="412.10" y="128.55" width="6.30" height="7.17" fill="#939393"/>
<rect x="418.10" y="128.55" width="6.30" height="7.17" fill="#9e9e9e"/>
<rect x="424.10" y="128.55" width="6.30" height="7.17" fill="#969696"/>
<rect x="430.10" y="128.55" width="6.30" height="7.17" fill="#838383"/>
<rect x="436.10" y="128.55" width="6.30" height="7.17" fill="#909090"/>
<rect x="442.10" y="128.55" width="6.30" height="7.17" fill="#8a8a8a"/>
<rect x="448.10" y="128.55" width="6.30" height="7.17" fill="#909090"/>
<rect x="454.10" y="128.55" width="6.30" height="7.17" fill="#898989"/>
<rect x="460.10" y="128.55" width="6.30" height="7.17" fill="#828282"/>
<rect x="466.10" y="128.55" width="6.30" height="7.17" fill="#888888"/>
<rect x="472.10" y="128.55" width="6.30" height="7.17" fill="#afafaf"/>
<rect x="478.10" y="128.55" width="6.30" height="7.17" fill="#b4b4b4"/>
<rect x="484.10" y="128.55" width="6.30" height="7.17" fill="#848484"/>
<rect x="490.10" y="128.55" width="6.30" height="7.17" fill="#898989"/>
<rect x="496.10" y="128.55" width="6.30" height="7.17" fill="#888888"/>
<rect x="502.10" y="128.55" width="6.30" height="7.17" fill="#888888"/>
<rect x="508.10" y="128.55" width="6.30" height="7.17" fill="#8d8d8d"/>
<rect x="514.10" y="128.55" width="6.30" height="7.17" fill="#858585"/>
<rect x="520.10" y="128.55" width="6.30" height="7.17" fill="#878787"/>
<rect x="526.10" y="128.55" width="6.30" height="7.17" fill="#898989"/>
<rect x="532.10" y="128.55" width="6.30" height="7.17" fill="#888888"/>
<rect x="538.10" y="128.55" width="6.30" height="7.17" fill="#898989"/>
<rect x="544.10" y="128.55" width="6.30" height="7.17" fill="#878787"/>
<rect x="550.10" y="128.55" width="6.30" height="7.17" fill="#959595"/>
<rect x="556.10" y="128.55" width="6.30" height="7.17" fill="#858585"/>
<rect x="562.10" y="128.55" width="6.30" height="7.17" fill="#838383"/>
<rect x="568.10" y="128.55" width="6.30" height="7.17" fill="#8e8e8e"/>
<rect x="574.10" y="128.55" width="6.30" height="7.17" fill="#8a8a8a"/>
<rect x="580.10" y="128.55" width="6.30" height="7.17" fill="#898989"/>
<rect x="586.10" y="128.55" width="6.30" height="7.17" fill="#7c7c7c"/>
<rect x="592.10" y="128.55" width="6.30" height="7.17" fill="#7f7f7f"/>
<rect x="598.10" y="128.55" width="6.30" height="7.17" fill="#8a8a8a"/>
<rect x="604.10" y="128.55" width="6.30" height="7.17" fill="#868686"/>
<rect x="610.10" y="128.55" width="6.30" height="7.17" fill="#808080"/>
<rect x="616.10" y="128.55" width="6.30" height="7.17" fill="#898989"/>
<rect x="622.10" y="128.55" width="6.30" height="7.17" fill="#7b7b7b"/>
<rect x="628.10" y="128.55" width="6.30" height="7.17" fill="#7c7c7c"/>
<rect x="634.10" y="128.55" width="6.30" height="7.17" fill="#828282"/>
<rect x="394.10" y="135.42" width="6.30" height="7.17" fill="#8e8e8e"/>
<rect x="400.10" y="135.42" width="6.30" height="7.17" fill="#898989"/>
<rect x="406.10" y="135.42" width="6.30" height="7.17" fill="#838383"/>
<rect x="412.10" y="135.42" width="6.30" height="7.17" fill="#737373"/>
<rect x="418.10" y="135.42" width="6.30" height="7.17" fill="#707070"/>
<rect x="424.10" y="135.42" width="6.30" height="7.17" fill="#737373"/>
<rect x="430.10" y="135.42" width="6.30" height="7.17" fill="#6e6e6e"/>
<rect x="436.10" y="135.42" width="6.30" height="7.17" fill="#7c7c7c"/>
<rect x="442.10" y="135.42" width="6.30" height="7.17" fill="#898989"/>
<rect x="448.10" y="135.42" width="6.30" height="7.17" fill="#848484"/>
<rect x="454.10" y="135.42" width="6.30" height="7.17" fill="#858585"/>
<rect x="460.10" y="135.42" width="6.30" height="7.17" fill="#848484"/>
<rect x="466.10" y="135.42" width="6.30" height="7.17" fill="#737373"/>
<rect x="472.10" y="135.42" width="6.30" height="7.17" fill="#868686"/>
<rect x="478.10" y="135.42" width="6.30" height="7.17" fill="#8f8f8f"/>
<rect x="484.10" y="135.42" width="6.30" height="7.17" fill="#919191"/>
<rect x="490.10" y="135.42" width="6.30" height="7.17" fill="#909090"/>
<rect x="496.10" y="135.42" width="6.30" height="7.17" fill="#818181"/>
<rect x="502.10" y="135.42" width="6.30" height="7.17" fill="#898989"/>
<rect x="508.10" y="135.42" width="6.30" height="7.17" fill="#8f8f8f"/>
<rect x="514.10" y="135.42" width="6.30" height="7.17" fill="#8f8f8f"/>
<rect x="520.10" y="135.42" width="6.30" height="7.17" fill="#999999"/>
<rect x="526.10" y="135.42" width="6.30" height="7.17" fill="#888888"/>
<rect x="532.10" y="135.42" width="6.30" height="7.17" fill="#919191"/>
<rect x="538.10" y="135.42" width="6.30" height="7.17" fill="#8c8c8c"/>
<rect x="544.10" y="135.42" width="6.30" height="7.17" fill="#929292"/>
<rect x="550.10" y="135.42" width="6.30" height="7.17" fill="#929292"/>
<rect x="556.10" y="135.42" width="6.30" height="7.17" fill="#939393"/>
<rect x="562.10" y="135.42" width="6.30" height="7.17" fill="#818181"/>
<rect x="568.10" y="135.42" width="6.30" height="7.17" fill="#8a8a8a"/>
<rect x="574.10" y="135.42" width="6.30" height="7.17" fill="#8f8f8f"/>
<rect x="580.10" y="135.42" width="6.30" height="7.17" fill="#787878"/>
<rect x="586.10" y="135.42" width="6.30" height="7.17" fill="#838383"/>
<rect x="592.10" y="135.42" width="6.30" height="7.17" fill="#888888"/>
<rect x="598.10" y="135.42" width="6.30" height="7.17" fill="#828282"/>
<rect x="604.10" y="135.42" width="6.30" height="7.17" fill="#858585"/>
<rect x="610.10" y="135.42" width="6.30" height="7.17" fill="#8f8f8f"/>
<rect x="616.10" y="135.42" width="6.30" height="7.17" fill="#8a8a8a"/>
<rect x="622.10" y="135.42" width="6.30" height="7.17" fill="#898989"/>
<rect x="628.10" y="135.42" width="6.30" height="7.17" fill="#868686"/>
<rect x="634.10" y="135.42" width="6.30" height="7.17" fill="#7e7e7e"/>
<rect x="394.10" y="142.29" width="6.30" height="7.17" fill="#919191"/>
<rect x="400.10" y="142.29" width="6.30" height="7.17" fill="#959595"/>
<rect x="406.10" y="142.29" width="6.30" height="7.17" fill="#949494"/>
<rect x="412.10" y="142.29" width="6.30" height="7.17" fill="#767676"/>
<rect x="418.10" y="142.29" width="6.30" height="7.17" fill="#737373"/>
<rect x="424.10" y="142.29" width="6.30" height="7.17" fill="#868686"/>
<rect x="430.10" y="142.29" width="6.30" height="7.17" fill="#8e8e8e"/>
<rect x="436.10" y="142.29" width="6.30" height="7.17" fill="#8e8e8e"/>
<rect x="442.10" y="142.29" width="6.30" height="7.17" fill="#848484"/>
<rect x="448.10" y="142.29" width="6.30" height="7.17" fill="#828282"/>
<rect x="454.10" y="142.29" width="6.30" height="7.17" fill="#8a8a8a"/>
<rect x="460.10" y="142.29" width="6.30" height="7.17" fill="#878787"/>
<rect x="466.10" y="142.29" width="6.30" height="7.17" fill="#939393"/>
<rect x="472.10" y="142.29" width="6.30" height="7.17" fill="#858585"/>
<rect x="478.10" y="142.29" width="6.30" height="7.17" fill="#949494"/>
<rect x="484.10" y="142.29" width="6.30" height="7.17" fill="#878787"/>
<rect x="490.10" y="142.29" width="6.30" height="7.17" fill="#787878"/>
<rect x="496.10" y="142.29" width="6.30" height="7.17" fill="#8d8d8d"/>
<rect x="502.10" y="142.29" width="6.30" height="7.17" fill="#7d7d7d"/>
<rect x="508.10" y="142.29" width="6.30" height="7.17" fill="#888888"/>
<rect x="514.10" y="142.29" width="6.30" height="7.17" fill="#a1a1a1"/>
<rect x="520.10" y="142.29" width="6.30" height="7.17" fill="#9c9c9c"/>
<rect x="526.10" y="142.29" width="6.30" height="7.17" fill="#939393"/>
<rect x="532.10" y="142.29" width="6.30" height="7.17" fill="#979797"/>
<rect x="538.10" y="142.29" width="6.30" height="7.17" fill="#959595"/>
<rect x="544.10" y="142.29" width="6.30" height="7.17" fill="#888888"/>
<rect x="550.10" y="142.29" width="6.30" height="7.17" fill="#8c8c8c"/>
<rect x="556.10" y="142.29" width="6.30" height="7.17" fill="#929292"/>
<rect x="562.10" y="142.29" width="6.30" height="7.17" fill="#868686"/>
<rect x="568.10" y="142.29" width="6.30" height="7.17" fill="#8f8f8f"/>
<rect x="574.10" y="142.29" width="6.30" height="7.17" fill="#818181"/>
<rect x="580.10" y="142.29" width="6.30" height="7.17" fill="#868686"/>
<rect x="586.10" y="142.29" width="6.30" height="7.17" fill="#7d7d7d"/>
<rect x="592.10" y="142.29" width="6.30" height="7.17" fill="#848484"/>
<rect x="598.10" y="142.29" width="6.30" height="7.17" fill="#7b7b7b"/>
<rect x="604.10" y="142.29" width="6.30" height="7.17" fill="#747474"/>
<rect x="610.10" y="142.29" width="6.30" height="7.17" fill="#818181"/>
<rect x="616.10" y="142.29" width="6.30" height="7.17" fill="#888888"/>
<rect x="622.10" y="142.29" width="6.30" height="7.17" fill="#888888"/>
<rect x="628.10" y="142.29" width="6.30" height="7.17" fill="#828282"/>
<rect x="634.10" y="142.29" width="6.30" height="7.17" fill="#8c8c8c"/>
<rect x="394.10" y="149.16" width="6.30" height="7.17" fill="#909090"/>
<rect x="400.10" y="149.16" width="6.30" height="7.17" fill="#959595"/>
<rect x="406.10" y="149.16" width="6.30" height="7.17" fill="#878787"/>
<rect x="412.10" y="149.16" width="6.30" height="7.17" fill="#8c8c8c"/>
<rect x="418.10" y="149.16" width="6.30" height="7.17" fill="#8b8b8b"/>
<rect x="424.10" y="149.16" width="6.30" height="7.17" fill="#8d8d8d"/>
<rect x="430.10" y="149.16" width="6.30" height="7.17" fill="#8d8d8d"/>
<rect x="436.10" y="149.16" width="6.30" height="7.17" fill="#8f8f8f"/>
<rect x="442.10" y="149.16" width="6.30" height="7.17" fill="#898989"/>
<rect x="448.10" y="149.16" width="6.30" height="7.17" fill="#838383"/>
<rect x="454.10" y="149.16" width="6.30" height="7.17" fill="#8b8b8b"/>
<rect x="460.10" y="149.16" width="6.30" height="7.17" fill="#767676"/>
<rect x="466.10" y="149.16" width="6.30" height="7.17" fill="#8f8f8f"/>
<rect x="472.10" y="149.16" width="6.30" height="7.17" fill="#848484"/>
<rect x="478.10" y="149.16" width="6.30" height="7.17" fill="#929292"/>
<rect x="484.10" y="149.16" width="6.30" height="7.17" fill="#8a8a8a"/>
<rect x="490.10" y="149.16" width="6.30" height="7.17" fill="#8b8b8b"/>
<rect x="496.10" y="149.16" width="6.30" height="7.17" fill="#757575"/>
<rect x="502.10" y="149.16" width="6.30" height="7.17" fill="#828282"/>
<rect x="508.10" y="149.16" width="6.30" height="7.17" fill="#838383"/>
<rect x="514.10" y="149.16" width="6.30" height="7.17" fill="#9a9a9a"/>
<rect x="520.10" y="149.16" width="6.30" height="7.17" fill="#959595"/>
<rect x="526.10" y="149.16" width="6.30" height="7.17" fill="#959595"/>
<rect x="532.10" y="149.16" width="6.30" height="7.17" fill="#8a8a8a"/>
<rect x="538.10" y="149.16" width="6.30" height="7.17" fill="#9a9a9a"/>
<rect x="544.10" y="149.16" width="6.30" height="7.17" fill="#868686"/>
<rect x="550.10" y="149.16" width="6.30" height="7.17" fill="#969696"/>
<rect x="556.10" y="149.16" width="6.30" height="7.17" fill="#878787"/>
<rect x="562.10" y="149.16" width="6.30" height="7.17" fill="#808080"/>
<rect x="568.10" y="149.16" width="6.30" height="7.17" fill="#919191"/>
<rect x="574.10" y="149.16" width="6.30" height="7.17" fill="#898989"/>
<rect x="580.10" y="149.16" width="6.30" height="7.17" fill="#838383"/>
<rect x="586.10" y="149.16" width="6.30" height="7.17" fill="#7b7b7b"/>
<rect x="592.10" y="149.16" width="6.30" height="7.17" fill="#828282"/>
<rect x="598.10" y="149.16" width="6.30" height="7.17" fill="#868686"/>
<rect x="604.10" y="149.16" width="6.30" height="7.17" fill="#7d7d7d"/>
<rect x="610.10" y="149.16" width="6.30" height="7.17" fill="#7d7d7d"/>
<rect x="616.10" y="149.16" width="6.30" height="7.17" fill="#717171"/>
<rect x="622.10" y="149.16" width="6.30" height="7.17" fill="#8a8a8a"/>
<rect x="628.10" y="149.16" width="6.30" height="7.17" fill="#838383"/>
<rect x="634.10" y="149.16" width="6.30" height="7.17" fill="#8a8a8a"/>
<rect x="394.10" y="156.03" width="6.30" height="7.17" fill="#919191"/>
<rect x="400.10" y="156.03" width="6.30" height="7.17" fill="#858585"/>
<rect x="406.10" y="156.03" width="6.30" height="7.17" fill="#828282"/>
<rect x="412.10" y="156.03" width="6.30" height="7.17" fill="#8d8d8d"/>
<rect x="418.10" y="156.03" width="6.30" height="7.17" fill="#8e8e8e"/>
<rect x="424.10" y="156.03" width="6.30" height="7.17" fill="#858585"/>
<rect x="430.10" y="156.03" width="6.30" height="7.17" fill="#818181"/>
<rect x="436.10" y="156.03" width="6.30" height="7.17" fill="#8c8c8c"/>
<rect x="442.10" y="156.03" width="6.30" height="7.17" fill="#939393"/>
<rect x="448.10" y="156.03" width="6.30" height="7.17" fill="#838383"/>
<rect x="454.10" y="156.03" width="6.30" height="7.17" fill="#838383"/>
<rect x="460.10" y="156.03" width="6.30" height="7.17" fill="#707070"/>
<rect x="466.10" y="156.03" width="6.30" height="7.17" fill="#767676"/>
<rect x="472.10" y="156.03" width="6.30" height="7.17" fill="#919191"/>
<rect x="478.10" y="156.03" width="6.30" height="7.17" fill="#8b8b8b"/>
<rect x="484.10" y="156.03" width="6.30" height="7.17" fill="#8d8d8d"/>
<rect x="490.10" y="156.03" width="6.30" height="7.17" fill="#868686"/>
<rect x="496.10" y="156.03" width="6.30" height="7.17" fill="#8c8c8c"/>
<rect x="502.10" y="156.03" width="6.30" height="7.17" fill="#858585"/>
<rect x="508.10" y="156.03" width="6.30" height="7.17" fill="#848484"/>
<rect x="514.10" y="156.03" width="6.30" height="7.17" fill="#9a9a9a"/>
<rect x="520.10" y="156.03" width="6.30" height="7.17" fill="#868686"/>
<rect x="526.10" y="156.03" width="6.30" height="7.17" fill="#949494"/>
<rect x="532.10" y="156.03" width="6.30" height="7.17" fill="#8b8b8b"/>
<rect x="538.10" y="156.03" width="6.30" height="7.17" fill="#878787"/>
<rect x="544.10" y="156.03" width="6.30" height="7.17" fill="#909090"/>
<rect x="550.10" y="156.03" width="6.30" height="7.17" fill="#898989"/>
<rect x="556.10" y="156.03" width="6.30" height="7.17" fill="#8a8a8a"/>
<rect x="562.10" y="156.03" width="6.30" height="7.17" fill="#858585"/>
<rect x="568.10" y="156.03" width="6.30" height="7.17" fill="#808080"/>
<rect x="574.10" y="156.03" width="6.30" height="7.17" fill="#9c9c9c"/>
<rect x="580.10" y="156.03" width="6.30" height="7.17" fill="#8a8a8a"/>
<rect x="586.10" y="156.03" width="6.30" height="7.17" fill="#878787"/>
<rect x="592.10" y="156.03" width="6.30" height="7.17" fill="#808080"/>
<rect x="598.10" y="156.03" width="6.30" height="7.17" fill="#8e8e8e"/>
<rect x="604.10" y="156.03" width="6.30" height="7.17" fill="#7e7e7e"/>
<rect x="610.10" y="156.03" width="6.30" height="7.17" fill="#797979"/>
<rect x="616.10" y="156.03" width="6.30" height="7.17" fill="#6d6d6d"/>
<rect x="622.10" y="156.03" width="6.30" height="7.17" fill="#868686"/>
<rect x="628.10" y="156.03" width="6.30" height="7.17" fill="#868686"/>
<rect x="634.10" y="156.03" width="6.30" height="7.17" fill="#747474"/>
<rect x="394.10" y="162.90" width="6.30" height="7.17" fill="#9a9a9a"/>
<rect x="400.10" y="162.90" width="6.30" height="7.17" fill="#8f8f8f"/>
<rect x="406.10" y="162.90" width="6.30" height="7.17" fill="#9e9e9e"/>
<rect x="412.10" y="162.90" width="6.30" height="7.17" fill="#8a8a8a"/>
<rect x="418.10" y="162.90" width="6.30" height="7.17" fill="#929292"/>
<rect x="424.10" y="162.90" width="6.30" height="7.17" fill="#8c8c8c"/>
<rect x="430.10" y="162.90" width="6.30" height="7.17" fill="#8b8b8b"/>
<rect x="436.10" y="162.90" width="6.30" height="7.17" fill="#8f8f8f"/>
<rect x="442.10" y="162.90" width="6.30" height="7.17" fill="#868686"/>
<rect x="448.10" y="162.90" width="6.30" height="7.17" fill="#909090"/>
<rect x="454.10" y="162.90" width="6.30" height="7.17" fill="#909090"/>
<rect x="460.10" y="162.90" width="6.30" height="7.17" fill="#8a8a8a"/>
<rect x="466.10" y="162.90" width="6.30" height="7.17" fill="#8c8c8c"/>
<rect x="472.10" y="162.90" width="6.30" height="7.17" fill="#8a8a8a"/>
<rect x="478.10" y="162.90" width="6.30" height="7.17" fill="#959595"/>
<rect x="484.10" y="162.90" width="6.30" height="7.17" fill="#888888"/>
<rect x="490.10" y="162.90" width="6.30" height="7.17" fill="#838383"/>
<rect x="496.10" y="162.90" width="6.30" height="7.17" fill="#909090"/>
<rect x="502.10" y="162.90" width="6.30" height="7.17" fill="#8e8e8e"/>
<rect x="508.10" y="162.90" width="6.30" height="7.17" fill="#9b9b9b"/>
<rect x="514.10" y="162.90" width="6.30" height="7.17" fill="#8e8e8e"/>
<rect x="520.10" y="162.90" width="6.30" height="7.17" fill="#979797"/>
<rect x="526.10" y="162.90" width="6.30" height="7.17" fill="#878787"/>
<rect x="532.10" y="162.90" width="6.30" height="7.17" fill="#969696"/>
<rect x="538.10" y="162.90" width="6.30" height="7.17" fill="#8d8d8d"/>
<rect x="544.10" y="162.90" width="6.30" height="7.17" fill="#878787"/>
<rect x="550.10" y="162.90" width="6.30" height="7.17" fill="#8e8e8e"/>
<rect x="556.10" y="162.90" width="6.30" height="7.17" fill="#959595"/>
<rect x="562.10" y="162.90" width="6.30" height="7.17" fill="#898989"/>
<rect x="568.10" y="162.90" width="6.30" height="7.17" fill="#838383"/>
<rect x="574.10" y="162.90" width="6.30" height="7.17" fill="#919191"/>
<rect x="580.10" y="162.90" width="6.30" height="7.17" fill="#909090"/>
<rect x="586.10" y="162.90" width="6.30" height="7.17" fill="#8d8d8d"/>
<rect x="592.10" y="162.90" width="6.30" height="7.17" fill="#878787"/>
<rect x="598.10" y="162.90" width="6.30" height="7.17" fill="#898989"/>
<rect x="604.10" y="162.90" width="6.30" height="7.17" fill="#828282"/>
<rect x="610.10" y="162.90" width="6.30" height="7.17" fill="#838383"/>
<rect x="616.10" y="162.90" width="6.30" height="7.17" fill="#7b7b7b"/>
<rect x="622.10" y="162.90" width="6.30" height="7.17" fill="#7d7d7d"/>
<rect x="628.10" y="162.90" width="6.30" height="7.17" fill="#828282"/>
<rect x="634.10" y="162.90" width="6.30" height="7.17" fill="#868686"/>
</g>
<rect x="69.20" y="252" width="5.83" height="7.76" fill="#050505"/>
<rect x="74.73" y="252" width="5.83" height="7.76" fill="#050505"/>
<rect x="80.27" y="252" width="5.83" height="7.76" fill="#080808"/>
<rect x="85.80" y="252" width="5.83" height="7.76" fill="#0e0e0e"/>
<rect x="91.33" y="252" width="5.83" height="7.76" fill="#121212"/>
<rect x="96.87" y="252" width="5.83" height="7.76" fill="#161616"/>
<rect x="102.40" y="252" width="5.83" height="7.76" fill="#1b1b1b"/>
<rect x="107.93" y="252" width="5.83" height="7.76" fill="#1f1f1f"/>
<rect x="113.46" y="252" width="5.83" height="7.76" fill="#252525"/>
<rect x="119" y="252" width="5.83" height="7.76" fill="#2c2c2c"/>
<rect x="124.53" y="252" width="5.83" height="7.76" fill="#3a3a3a"/>
<rect x="130.06" y="252" width="5.83" height="7.76" fill="#474747"/>
<rect x="135.60" y="252" width="5.83" height="7.76" fill="#575757"/>
<rect x="141.13" y="252" width="5.83" height="7.76" fill="#646464"/>
<rect x="146.66" y="252" width="5.83" height="7.76" fill="#6f6f6f"/>
<rect x="152.19" y="252" width="5.83" height="7.76" fill="#777777"/>
<rect x="157.73" y="252" width="5.83" height="7.76" fill="#7c7c7c"/>
<rect x="163.26" y="252" width="5.83" height="7.76" fill="#7f7f7f"/>
<rect x="168.79" y="252" width="5.83" height="7.76" fill="#797979"/>
<rect x="174.33" y="252" width="5.83" height="7.76" fill="#6f6f6f"/>
<rect x="179.86" y="252" width="5.83" height="7.76" fill="#696969"/>
<rect x="185.39" y="252" width="5.83" height="7.76" fill="#646464"/>
<rect x="190.93" y="252" width="5.83" height="7.76" fill="#6e6e6e"/>
<rect x="196.46" y="252" width="5.83" height="7.76" fill="#797979"/>
<rect x="201.99" y="252" width="5.83" height="7.76" fill="#7f7f7f"/>
<rect x="207.53" y="252" width="5.83" height="7.76" fill="#818181"/>
<rect x="213.06" y="252" width="5.83" height="7.76" fill="#7f7f7f"/>
<rect x="218.59" y="252" width="5.83" height="7.76" fill="#797979"/>
<rect x="224.12" y="252" width="5.83" height="7.76" fill="#6f6f6f"/>
<rect x="229.66" y="252" width="5.83" height="7.76" fill="#616161"/>
<rect x="235.19" y="252" width="5.83" height="7.76" fill="#515151"/>
<rect x="240.72" y="252" width="5.83" height="7.76" fill="#444444"/>
<rect x="246.26" y="252" width="5.83" height="7.76" fill="#333333"/>
<rect x="251.79" y="252" width="5.83" height="7.76" fill="#2c2c2c"/>
<rect x="257.32" y="252" width="5.83" height="7.76" fill="#252525"/>
<rect x="262.86" y="252" width="5.83" height="7.76" fill="#1e1e1e"/>
<rect x="268.39" y="252" width="5.83" height="7.76" fill="#191919"/>
<rect x="273.92" y="252" width="5.83" height="7.76" fill="#141414"/>
<rect x="279.45" y="252" width="5.83" height="7.76" fill="#0f0f0f"/>
<rect x="284.99" y="252" width="5.83" height="7.76" fill="#080808"/>
<rect x="290.52" y="252" width="5.83" height="7.76" fill="#050505"/>
<rect x="296.05" y="252" width="5.83" height="7.76" fill="#050505"/>
<rect x="69.20" y="259.46" width="5.83" height="7.76" fill="#050505"/>
<rect x="74.73" y="259.46" width="5.83" height="7.76" fill="#050505"/>
<rect x="80.27" y="259.46" width="5.83" height="7.76" fill="#080808"/>
<rect x="85.80" y="259.46" width="5.83" height="7.76" fill="#0e0e0e"/>
<rect x="91.33" y="259.46" width="5.83" height="7.76" fill="#121212"/>
<rect x="96.87" y="259.46" width="5.83" height="7.76" fill="#161616"/>
<rect x="102.40" y="259.46" width="5.83" height="7.76" fill="#1b1b1b"/>
<rect x="107.93" y="259.46" width="5.83" height="7.76" fill="#1f1f1f"/>
<rect x="113.46" y="259.46" width="5.83" height="7.76" fill="#252525"/>
<rect x="119" y="259.46" width="5.83" height="7.76" fill="#2c2c2c"/>
<rect x="124.53" y="259.46" width="5.83" height="7.76" fill="#3a3a3a"/>
<rect x="130.06" y="259.46" width="5.83" height="7.76" fill="#474747"/>
<rect x="135.60" y="259.46" width="5.83" height="7.76" fill="#575757"/>
<rect x="141.13" y="259.46" width="5.83" height="7.76" fill="#646464"/>
<rect x="146.66" y="259.46" width="5.83" height="7.76" fill="#6f6f6f"/>
<rect x="152.19" y="259.46" width="5.83" height="7.76" fill="#777777"/>
<rect x="157.73" y="259.46" width="5.83" height="7.76" fill="#7c7c7c"/>
<rect x="163.26" y="259.46" width="5.83" height="7.76" fill="#7f7f7f"/>
<rect x="168.79" y="259.46" width="5.83" height="7.76" fill="#797979"/>
<rect x="174.33" y="259.46" width="5.83" height="7.76" fill="#6f6f6f"/>
<rect x="179.86" y="259.46" width="5.83" height="7.76" fill="#696969"/>
<rect x="185.39" y="259.46" width="5.83" height="7.76" fill="#646464"/>
<rect x="190.93" y="259.46" width="5.83" height="7.76" fill="#6e6e6e"/>
<rect x="196.46" y="259.46" width="5.83" height="7.76" fill="#797979"/>
<rect x="201.99" y="259.46" width="5.83" height="7.76" fill="#7f7f7f"/>
<rect x="207.53" y="259.46" width="5.83" height="7.76" fill="#818181"/>
<rect x="213.06" y="259.46" width="5.83" height="7.76" fill="#7f7f7f"/>
<rect x="218.59" y="259.46" width="5.83" height="7.76" fill="#797979"/>
<rect x="224.12" y="259.46" width="5.83" height="7.76" fill="#6f6f6f"/>
<rect x="229.66" y="259.46" width="5.83" height="7.76" fill="#616161"/>
<rect x="235.19" y="259.46" width="5.83" height="7.76" fill="#515151"/>
<rect x="240.72" y="259.46" width="5.83" height="7.76" fill="#444444"/>
<rect x="246.26" y="259.46" width="5.83" height="7.76" fill="#333333"/>
<rect x="251.79" y="259.46" width="5.83" height="7.76" fill="#2c2c2c"/>
<rect x="257.32" y="259.46" width="5.83" height="7.76" fill="#252525"/>
<rect x="262.86" y="259.46" width="5.83" height="7.76" fill="#1e1e1e"/>
<rect x="268.39" y="259.46" width="5.83" height="7.76" fill="#191919"/>
<rect x="273.92" y="259.46" width="5.83" height="7.76" fill="#141414"/>
<rect x="279.45" y="259.46" width="5.83" height="7.76" fill="#0f0f0f"/>
<rect x="284.99" y="259.46" width="5.83" height="7.76" fill="#080808"/>
<rect x="290.52" y="259.46" width="5.83" height="7.76" fill="#050505"/>
<rect x="296.05" y="259.46" width="5.83" height="7.76" fill="#050505"/>
<rect x="69.20" y="266.93" width="5.83" height="7.76" fill="#060606"/>
<rect x="74.73" y="266.93" width="5.83" height="7.76" fill="#070707"/>
<rect x="80.27" y="266.93" width="5.83" height="7.76" fill="#0a0a0a"/>
<rect x="85.80" y="266.93" width="5.83" height="7.76" fill="#101010"/>
<rect x="91.33" y="266.93" width="5.83" height="7.76" fill="#141414"/>
<rect x="96.87" y="266.93" width="5.83" height="7.76" fill="#191919"/>
<rect x="102.40" y="266.93" width="5.83" height="7.76" fill="#1e1e1e"/>
<rect x="107.93" y="266.93" width="5.83" height="7.76" fill="#232323"/>
<rect x="113.46" y="266.93" width="5.83" height="7.76" fill="#292929"/>
<rect x="119" y="266.93" width="5.83" height="7.76" fill="#313131"/>
<rect x="124.53" y="266.93" width="5.83" height="7.76" fill="#3f3f3f"/>
<rect x="130.06" y="266.93" width="5.83" height="7.76" fill="#4c4c4c"/>
<rect x="135.60" y="266.93" width="5.83" height="7.76" fill="#5b5b5b"/>
<rect x="141.13" y="266.93" width="5.83" height="7.76" fill="#6b6b6b"/>
<rect x="146.66" y="266.93" width="5.83" height="7.76" fill="#777777"/>
<rect x="152.19" y="266.93" width="5.83" height="7.76" fill="#7e7e7e"/>
<rect x="157.73" y="266.93" width="5.83" height="7.76" fill="#818181"/>
<rect x="163.26" y="266.93" width="5.83" height="7.76" fill="#838383"/>
<rect x="168.79" y="266.93" width="5.83" height="7.76" fill="#7c7c7c"/>
<rect x="174.33" y="266.93" width="5.83" height="7.76" fill="#727272"/>
<rect x="179.86" y="266.93" width="5.83" height="7.76" fill="#6a6a6a"/>
<rect x="185.39" y="266.93" width="5.83" height="7.76" fill="#646464"/>
<rect x="190.93" y="266.93" width="5.83" height="7.76" fill="#6f6f6f"/>
<rect x="196.46" y="266.93" width="5.83" height="7.76" fill="#7b7b7b"/>
<rect x="201.99" y="266.93" width="5.83" height="7.76" fill="#838383"/>
<rect x="207.53" y="266.93" width="5.83" height="7.76" fill="#858585"/>
<rect x="213.06" y="266.93" width="5.83" height="7.76" fill="#838383"/>
<rect x="218.59" y="266.93" width="5.83" height="7.76" fill="#7e7e7e"/>
<rect x="224.12" y="266.93" width="5.83" height="7.76" fill="#747474"/>
<rect x="229.66" y="266.93" width="5.83" height="7.76" fill="#656565"/>
<rect x="235.19" y="266.93" width="5.83" height="7.76" fill="#555555"/>
<rect x="240.72" y="266.93" width="5.83" height="7.76" fill="#474747"/>
<rect x="246.26" y="266.93" width="5.83" height="7.76" fill="#373737"/>
<rect x="251.79" y="266.93" width="5.83" height="7.76" fill="#303030"/>
<rect x="257.32" y="266.93" width="5.83" height="7.76" fill="#292929"/>
<rect x="262.86" y="266.93" width="5.83" height="7.76" fill="#212121"/>
<rect x="268.39" y="266.93" width="5.83" height="7.76" fill="#1c1c1c"/>
<rect x="273.92" y="266.93" width="5.83" height="7.76" fill="#171717"/>
<rect x="279.45" y="266.93" width="5.83" height="7.76" fill="#121212"/>
<rect x="284.99" y="266.93" width="5.83" height="7.76" fill="#0c0c0c"/>
<rect x="290.52" y="266.93" width="5.83" height="7.76" fill="#080808"/>
<rect x="296.05" y="266.93" width="5.83" height="7.76" fill="#070707"/>
<rect x="69.20" y="274.39" width="5.83" height="7.76" fill="#070707"/>
<rect x="74.73" y="274.39" width="5.83" height="7.76" fill="#080808"/>
<rect x="80.27" y="274.39" width="5.83" height="7.76" fill="#0d0d0d"/>
<rect x="85.80" y="274.39" width="5.83" height="7.76" fill="#121212"/>
<rect x="91.33" y="274.39" width="5.83" height="7.76" fill="#171717"/>
<rect x="96.87" y="274.39" width="5.83" height="7.76" fill="#1b1b1b"/>
<rect x="102.40" y="274.39" width="5.83" height="7.76" fill="#202020"/>
<rect x="107.93" y="274.39" width="5.83" height="7.76" fill="#262626"/>
<rect x="113.46" y="274.39" width="5.83" height="7.76" fill="#2e2e2e"/>
<rect x="119" y="274.39" width="5.83" height="7.76" fill="#353535"/>
<rect x="124.53" y="274.39" width="5.83" height="7.76" fill="#434343"/>
<rect x="130.06" y="274.39" width="5.83" height="7.76" fill="#505050"/>
<rect x="135.60" y="274.39" width="5.83" height="7.76" fill="#606060"/>
<rect x="141.13" y="274.39" width="5.83" height="7.76" fill="#717171"/>
<rect x="146.66" y="274.39" width="5.83" height="7.76" fill="#7f7f7f"/>
<rect x="152.19" y="274.39" width="5.83" height="7.76" fill="#858585"/>
<rect x="157.73" y="274.39" width="5.83" height="7.76" fill="#878787"/>
<rect x="163.26" y="274.39" width="5.83" height="7.76" fill="#868686"/>
<rect x="168.79" y="274.39" width="5.83" height="7.76" fill="#7f7f7f"/>
<rect x="174.33" y="274.39" width="5.83" height="7.76" fill="#757575"/>
<rect x="179.86" y="274.39" width="5.83" height="7.76" fill="#6b6b6b"/>
<rect x="185.39" y="274.39" width="5.83" height="7.76" fill="#646464"/>
<rect x="190.93" y="274.39" width="5.83" height="7.76" fill="#6f6f6f"/>
<rect x="196.46" y="274.39" width="5.83" height="7.76" fill="#7e7e7e"/>
<rect x="201.99" y="274.39" width="5.83" height="7.76" fill="#868686"/>
<rect x="207.53" y="274.39" width="5.83" height="7.76" fill="#8a8a8a"/>
<rect x="213.06" y="274.39" width="5.83" height="7.76" fill="#888888"/>
<rect x="218.59" y="274.39" width="5.83" height="7.76" fill="#828282"/>
<rect x="224.12" y="274.39" width="5.83" height="7.76" fill="#787878"/>
<rect x="229.66" y="274.39" width="5.83" height="7.76" fill="#6a6a6a"/>
<rect x="235.19" y="274.39" width="5.83" height="7.76" fill="#585858"/>
<rect x="240.72" y="274.39" width="5.83" height="7.76" fill="#4a4a4a"/>
<rect x="246.26" y="274.39" width="5.83" height="7.76" fill="#3a3a3a"/>
<rect x="251.79" y="274.39" width="5.83" height="7.76" fill="#333333"/>
<rect x="257.32" y="274.39" width="5.83" height="7.76" fill="#2c2c2c"/>
<rect x="262.86" y="274.39" width="5.83" height="7.76" fill="#252525"/>
<rect x="268.39" y="274.39" width="5.83" height="7.76" fill="#202020"/>
<rect x="273.92" y="274.39" width="5.83" height="7.76" fill="#1b1b1b"/>
<rect x="279.45" y="274.39" width="5.83" height="7.76" fill="#161616"/>
<rect x="284.99" y="274.39" width="5.83" height="7.76" fill="#101010"/>
<rect x="290.52" y="274.39" width="5.83" height="7.76" fill="#0c0c0c"/>
<rect x="296.05" y="274.39" width="5.83" height="7.76" fill="#080808"/>
<rect x="69.20" y="281.85" width="5.83" height="7.76" fill="#080808"/>
<rect x="74.73" y="281.85" width="5.83" height="7.76" fill="#0a0a0a"/>
<rect x="80.27" y="281.85" width="5.83" height="7.76" fill="#0f0f0f"/>
<rect x="85.80" y="281.85" width="5.83" height="7.76" fill="#141414"/>
<rect x="91.33" y="281.85" width="5.83" height="7.76" fill="#191919"/>
<rect x="96.87" y="281.85" width="5.83" height="7.76" fill="#1e1e1e"/>
<rect x="102.40" y="281.85" width="5.83" height="7.76" fill="#232323"/>
<rect x="107.93" y="281.85" width="5.83" height="7.76" fill="#2a2a2a"/>
<rect x="113.46" y="281.85" width="5.83" height="7.76" fill="#323232"/>
<rect x="119" y="281.85" width="5.83" height="7.76" fill="#3a3a3a"/>
<rect x="124.53" y="281.85" width="5.83" height="7.76" fill="#484848"/>
<rect x="130.06" y="281.85" width="5.83" height="7.76" fill="#555555"/>
<rect x="135.60" y="281.85" width="5.83" height="7.76" fill="#646464"/>
<rect x="141.13" y="281.85" width="5.83" height="7.76" fill="#787878"/>
<rect x="146.66" y="281.85" width="5.83" height="7.76" fill="#878787"/>
<rect x="152.19" y="281.85" width="5.83" height="7.76" fill="#8c8c8c"/>
<rect x="157.73" y="281.85" width="5.83" height="7.76" fill="#8c8c8c"/>
<rect x="163.26" y="281.85" width="5.83" height="7.76" fill="#8a8a8a"/>
<rect x="168.79" y="281.85" width="5.83" height="7.76" fill="#828282"/>
<rect x="174.33" y="281.85" width="5.83" height="7.76" fill="#787878"/>
<rect x="179.86" y="281.85" width="5.83" height="7.76" fill="#6c6c6c"/>
<rect x="185.39" y="281.85" width="5.83" height="7.76" fill="#646464"/>
<rect x="190.93" y="281.85" width="5.83" height="7.76" fill="#707070"/>
<rect x="196.46" y="281.85" width="5.83" height="7.76" fill="#808080"/>
<rect x="201.99" y="281.85" width="5.83" height="7.76" fill="#8a8a8a"/>
<rect x="207.53" y="281.85" width="5.83" height="7.76" fill="#8e8e8e"/>
<rect x="213.06" y="281.85" width="5.83" height="7.76" fill="#8c8c8c"/>
<rect x="218.59" y="281.85" width="5.83" height="7.76" fill="#878787"/>
<rect x="224.12" y="281.85" width="5.83" height="7.76" fill="#7d7d7d"/>
<rect x="229.66" y="281.85" width="5.83" height="7.76" fill="#6e6e6e"/>
<rect x="235.19" y="281.85" width="5.83" height="7.76" fill="#5c5c5c"/>
<rect x="240.72" y="281.85" width="5.83" height="7.76" fill="#4d4d4d"/>
<rect x="246.26" y="281.85" width="5.83" height="7.76" fill="#3e3e3e"/>
<rect x="251.79" y="281.85" width="5.83" height="7.76" fill="#373737"/>
<rect x="257.32" y="281.85" width="5.83" height="7.76" fill="#303030"/>
<rect x="262.86" y="281.85" width="5.83" height="7.76" fill="#282828"/>
<rect x="268.39" y="281.85" width="5.83" height="7.76" fill="#232323"/>
<rect x="273.92" y="281.85" width="5.83" height="7.76" fill="#1e1e1e"/>
<rect x="279.45" y="281.85" width="5.83" height="7.76" fill="#191919"/>
<rect x="284.99" y="281.85" width="5.83" height="7.76" fill="#141414"/>
<rect x="290.52" y="281.85" width="5.83" height="7.76" fill="#0f0f0f"/>
<rect x="296.05" y="281.85" width="5.83" height="7.76" fill="#0a0a0a"/>
<rect x="69.20" y="289.31" width="5.83" height="7.76" fill="#0f0f0f"/>
<rect x="74.73" y="289.31" width="5.83" height="7.76" fill="#121212"/>
<rect x="80.27" y="289.31" width="5.83" height="7.76" fill="#161616"/>
<rect x="85.80" y="289.31" width="5.83" height="7.76" fill="#191919"/>
<rect x="91.33" y="289.31" width="5.83" height="7.76" fill="#1e1e1e"/>
<rect x="96.87" y="289.31" width="5.83" height="7.76" fill="#232323"/>
<rect x="102.40" y="289.31" width="5.83" height="7.76" fill="#282828"/>
<rect x="107.93" y="289.31" width="5.83" height="7.76" fill="#2e2e2e"/>
<rect x="113.46" y="289.31" width="5.83" height="7.76" fill="#363636"/>
<rect x="119" y="289.31" width="5.83" height="7.76" fill="#3e3e3e"/>
<rect x="124.53" y="289.31" width="5.83" height="7.76" fill="#4c4c4c"/>
<rect x="130.06" y="289.31" width="5.83" height="7.76" fill="#5a5a5a"/>
<rect x="135.60" y="289.31" width="5.83" height="7.76" fill="#6a6a6a"/>
<rect x="141.13" y="289.31" width="5.83" height="7.76" fill="#808080"/>
<rect x="146.66" y="289.31" width="5.83" height="7.76" fill="#8e8e8e"/>
<rect x="152.19" y="289.31" width="5.83" height="7.76" fill="#959595"/>
<rect x="157.73" y="289.31" width="5.83" height="7.76" fill="#949494"/>
<rect x="163.26" y="289.31" width="5.83" height="7.76" fill="#8f8f8f"/>
<rect x="168.79" y="289.31" width="5.83" height="7.76" fill="#848484"/>
<rect x="174.33" y="289.31" width="5.83" height="7.76" fill="#777777"/>
<rect x="179.86" y="289.31" width="5.83" height="7.76" fill="#686868"/>
<rect x="185.39" y="289.31" width="5.83" height="7.76" fill="#636363"/>
<rect x="190.93" y="289.31" width="5.83" height="7.76" fill="#727272"/>
<rect x="196.46" y="289.31" width="5.83" height="7.76" fill="#848484"/>
<rect x="201.99" y="289.31" width="5.83" height="7.76" fill="#919191"/>
<rect x="207.53" y="289.31" width="5.83" height="7.76" fill="#979797"/>
<rect x="213.06" y="289.31" width="5.83" height="7.76" fill="#969696"/>
<rect x="218.59" y="289.31" width="5.83" height="7.76" fill="#919191"/>
<rect x="224.12" y="289.31" width="5.83" height="7.76" fill="#868686"/>
<rect x="229.66" y="289.31" width="5.83" height="7.76" fill="#747474"/>
<rect x="235.19" y="289.31" width="5.83" height="7.76" fill="#606060"/>
<rect x="240.72" y="289.31" width="5.83" height="7.76" fill="#525252"/>
<rect x="246.26" y="289.31" width="5.83" height="7.76" fill="#434343"/>
<rect x="251.79" y="289.31" width="5.83" height="7.76" fill="#3a3a3a"/>
<rect x="257.32" y="289.31" width="5.83" height="7.76" fill="#343434"/>
<rect x="262.86" y="289.31" width="5.83" height="7.76" fill="#2c2c2c"/>
<rect x="268.39" y="289.31" width="5.83" height="7.76" fill="#262626"/>
<rect x="273.92" y="289.31" width="5.83" height="7.76" fill="#222222"/>
<rect x="279.45" y="289.31" width="5.83" height="7.76" fill="#1c1c1c"/>
<rect x="284.99" y="289.31" width="5.83" height="7.76" fill="#181818"/>
<rect x="290.52" y="289.31" width="5.83" height="7.76" fill="#121212"/>
<rect x="296.05" y="289.31" width="5.83" height="7.76" fill="#0e0e0e"/>
<rect x="69.20" y="296.78" width="5.83" height="7.76" fill="#161616"/>
<rect x="74.73" y="296.78" width="5.83" height="7.76" fill="#191919"/>
<rect x="80.27" y="296.78" width="5.83" height="7.76" fill="#1c1c1c"/>
<rect x="85.80" y="296.78" width="5.83" height="7.76" fill="#1e1e1e"/>
<rect x="91.33" y="296.78" width="5.83" height="7.76" fill="#232323"/>
<rect x="96.87" y="296.78" width="5.83" height="7.76" fill="#282828"/>
<rect x="102.40" y="296.78" width="5.83" height="7.76" fill="#2d2d2d"/>
<rect x="107.93" y="296.78" width="5.83" height="7.76" fill="#323232"/>
<rect x="113.46" y="296.78" width="5.83" height="7.76" fill="#3a3a3a"/>
<rect x="119" y="296.78" width="5.83" height="7.76" fill="#414141"/>
<rect x="124.53" y="296.78" width="5.83" height="7.76" fill="#505050"/>
<rect x="130.06" y="296.78" width="5.83" height="7.76" fill="#5f5f5f"/>
<rect x="135.60" y="296.78" width="5.83" height="7.76" fill="#707070"/>
<rect x="141.13" y="296.78" width="5.83" height="7.76" fill="#878787"/>
<rect x="146.66" y="296.78" width="5.83" height="7.76" fill="#969696"/>
<rect x="152.19" y="296.78" width="5.83" height="7.76" fill="#9e9e9e"/>
<rect x="157.73" y="296.78" width="5.83" height="7.76" fill="#9b9b9b"/>
<rect x="163.26" y="296.78" width="5.83" height="7.76" fill="#949494"/>
<rect x="168.79" y="296.78" width="5.83" height="7.76" fill="#878787"/>
<rect x="174.33" y="296.78" width="5.83" height="7.76" fill="#767676"/>
<rect x="179.86" y="296.78" width="5.83" height="7.76" fill="#646464"/>
<rect x="185.39" y="296.78" width="5.83" height="7.76" fill="#626262"/>
<rect x="190.93" y="296.78" width="5.83" height="7.76" fill="#737373"/>
<rect x="196.46" y="296.78" width="5.83" height="7.76" fill="#878787"/>
<rect x="201.99" y="296.78" width="5.83" height="7.76" fill="#989898"/>
<rect x="207.53" y="296.78" width="5.83" height="7.76" fill="#a0a0a0"/>
<rect x="213.06" y="296.78" width="5.83" height="7.76" fill="#a0a0a0"/>
<rect x="218.59" y="296.78" width="5.83" height="7.76" fill="#9b9b9b"/>
<rect x="224.12" y="296.78" width="5.83" height="7.76" fill="#8e8e8e"/>
<rect x="229.66" y="296.78" width="5.83" height="7.76" fill="#7a7a7a"/>
<rect x="235.19" y="296.78" width="5.83" height="7.76" fill="#646464"/>
<rect x="240.72" y="296.78" width="5.83" height="7.76" fill="#565656"/>
<rect x="246.26" y="296.78" width="5.83" height="7.76" fill="#484848"/>
<rect x="251.79" y="296.78" width="5.83" height="7.76" fill="#3e3e3e"/>
<rect x="257.32" y="296.78" width="5.83" height="7.76" fill="#373737"/>
<rect x="262.86" y="296.78" width="5.83" height="7.76" fill="#303030"/>
<rect x="268.39" y="296.78" width="5.83" height="7.76" fill="#2a2a2a"/>
<rect x="273.92" y="296.78" width="5.83" height="7.76" fill="#262626"/>
<rect x="279.45" y="296.78" width="5.83" height="7.76" fill="#202020"/>
<rect x="284.99" y="296.78" width="5.83" height="7.76" fill="#1c1c1c"/>
<rect x="290.52" y="296.78" width="5.83" height="7.76" fill="#161616"/>
<rect x="296.05" y="296.78" width="5.83" height="7.76" fill="#121212"/>
<rect x="69.20" y="304.24" width="5.83" height="7.76" fill="#171717"/>
<rect x="74.73" y="304.24" width="5.83" height="7.76" fill="#1a1a1a"/>
<rect x="80.27" y="304.24" width="5.83" height="7.76" fill="#1d1d1d"/>
<rect x="85.80" y="304.24" width="5.83" height="7.76" fill="#202020"/>
<rect x="91.33" y="304.24" width="5.83" height="7.76" fill="#252525"/>
<rect x="96.87" y="304.24" width="5.83" height="7.76" fill="#2a2a2a"/>
<rect x="102.40" y="304.24" width="5.83" height="7.76" fill="#2f2f2f"/>
<rect x="107.93" y="304.24" width="5.83" height="7.76" fill="#343434"/>
<rect x="113.46" y="304.24" width="5.83" height="7.76" fill="#3b3b3b"/>
<rect x="119" y="304.24" width="5.83" height="7.76" fill="#434343"/>
<rect x="124.53" y="304.24" width="5.83" height="7.76" fill="#525252"/>
<rect x="130.06" y="304.24" width="5.83" height="7.76" fill="#616161"/>
<rect x="135.60" y="304.24" width="5.83" height="7.76" fill="#727272"/>
<rect x="141.13" y="304.24" width="5.83" height="7.76" fill="#898989"/>
<rect x="146.66" y="304.24" width="5.83" height="7.76" fill="#999999"/>
<rect x="152.19" y="304.24" width="5.83" height="7.76" fill="#a2a2a2"/>
<rect x="157.73" y="304.24" width="5.83" height="7.76" fill="#9f9f9f"/>
<rect x="163.26" y="304.24" width="5.83" height="7.76" fill="#979797"/>
<rect x="168.79" y="304.24" width="5.83" height="7.76" fill="#888888"/>
<rect x="174.33" y="304.24" width="5.83" height="7.76" fill="#767676"/>
<rect x="179.86" y="304.24" width="5.83" height="7.76" fill="#626262"/>
<rect x="185.39" y="304.24" width="5.83" height="7.76" fill="#606060"/>
<rect x="190.93" y="304.24" width="5.83" height="7.76" fill="#717171"/>
<rect x="196.46" y="304.24" width="5.83" height="7.76" fill="#868686"/>
<rect x="201.99" y="304.24" width="5.83" height="7.76" fill="#999999"/>
<rect x="207.53" y="304.24" width="5.83" height="7.76" fill="#a3a3a3"/>
<rect x="213.06" y="304.24" width="5.83" height="7.76" fill="#a3a3a3"/>
<rect x="218.59" y="304.24" width="5.83" height="7.76" fill="#9d9d9d"/>
<rect x="224.12" y="304.24" width="5.83" height="7.76" fill="#909090"/>
<rect x="229.66" y="304.24" width="5.83" height="7.76" fill="#7c7c7c"/>
<rect x="235.19" y="304.24" width="5.83" height="7.76" fill="#666666"/>
<rect x="240.72" y="304.24" width="5.83" height="7.76" fill="#575757"/>
<rect x="246.26" y="304.24" width="5.83" height="7.76" fill="#484848"/>
<rect x="251.79" y="304.24" width="5.83" height="7.76" fill="#3e3e3e"/>
<rect x="257.32" y="304.24" width="5.83" height="7.76" fill="#373737"/>
<rect x="262.86" y="304.24" width="5.83" height="7.76" fill="#303030"/>
<rect x="268.39" y="304.24" width="5.83" height="7.76" fill="#2a2a2a"/>
<rect x="273.92" y="304.24" width="5.83" height="7.76" fill="#262626"/>
<rect x="279.45" y="304.24" width="5.83" height="7.76" fill="#202020"/>
<rect x="284.99" y="304.24" width="5.83" height="7.76" fill="#1c1c1c"/>
<rect x="290.52" y="304.24" width="5.83" height="7.76" fill="#161616"/>
<rect x="296.05" y="304.24" width="5.83" height="7.76" fill="#121212"/>
<rect x="69.20" y="311.70" width="5.83" height="7.76" fill="#181818"/>
<rect x="74.73" y="311.70" width="5.83" height="7.76" fill="#1b1b1b"/>
<rect x="80.27" y="311.70" width="5.83" height="7.76" fill="#1f1f1f"/>
<rect x="85.80" y="311.70" width="5.83" height="7.76" fill="#212121"/>
<rect x="91.33" y="311.70" width="5.83" height="7.76" fill="#262626"/>
<rect x="96.87" y="311.70" width="5.83" height="7.76" fill="#2b2b2b"/>
<rect x="102.40" y="311.70" width="5.83" height="7.76" fill="#303030"/>
<rect x="107.93" y="311.70" width="5.83" height="7.76" fill="#353535"/>
<rect x="113.46" y="311.70" width="5.83" height="7.76" fill="#3d3d3d"/>
<rect x="119" y="311.70" width="5.83" height="7.76" fill="#444444"/>
<rect x="124.53" y="311.70" width="5.83" height="7.76" fill="#535353"/>
<rect x="130.06" y="311.70" width="5.83" height="7.76" fill="#626262"/>
<rect x="135.60" y="311.70" width="5.83" height="7.76" fill="#757575"/>
<rect x="141.13" y="311.70" width="5.83" height="7.76" fill="#8b8b8b"/>
<rect x="146.66" y="311.70" width="5.83" height="7.76" fill="#9d9d9d"/>
<rect x="152.19" y="311.70" width="5.83" height="7.76" fill="#a5a5a5"/>
<rect x="157.73" y="311.70" width="5.83" height="7.76" fill="#a3a3a3"/>
<rect x="163.26" y="311.70" width="5.83" height="7.76" fill="#9a9a9a"/>
<rect x="168.79" y="311.70" width="5.83" height="7.76" fill="#8a8a8a"/>
<rect x="174.33" y="311.70" width="5.83" height="7.76" fill="#757575"/>
<rect x="179.86" y="311.70" width="5.83" height="7.76" fill="#616161"/>
<rect x="185.39" y="311.70" width="5.83" height="7.76" fill="#5e5e5e"/>
<rect x="190.93" y="311.70" width="5.83" height="7.76" fill="#707070"/>
<rect x="196.46" y="311.70" width="5.83" height="7.76" fill="#858585"/>
<rect x="201.99" y="311.70" width="5.83" height="7.76" fill="#9a9a9a"/>
<rect x="207.53" y="311.70" width="5.83" height="7.76" fill="#a5a5a5"/>
<rect x="213.06" y="311.70" width="5.83" height="7.76" fill="#a5a5a5"/>
<rect x="218.59" y="311.70" width="5.83" height="7.76" fill="#a0a0a0"/>
<rect x="224.12" y="311.70" width="5.83" height="7.76" fill="#929292"/>
<rect x="229.66" y="311.70" width="5.83" height="7.76" fill="#7e7e7e"/>
<rect x="235.19" y="311.70" width="5.83" height="7.76" fill="#676767"/>
<rect x="240.72" y="311.70" width="5.83" height="7.76" fill="#575757"/>
<rect x="246.26" y="311.70" width="5.83" height="7.76" fill="#484848"/>
<rect x="251.79" y="311.70" width="5.83" height="7.76" fill="#3e3e3e"/>
<rect x="257.32" y="311.70" width="5.83" height="7.76" fill="#373737"/>
<rect x="262.86" y="311.70" width="5.83" height="7.76" fill="#303030"/>
<rect x="268.39" y="311.70" width="5.83" height="7.76" fill="#2a2a2a"/>
<rect x="273.92" y="311.70" width="5.83" height="7.76" fill="#262626"/>
<rect x="279.45" y="311.70" width="5.83" height="7.76" fill="#202020"/>
<rect x="284.99" y="311.70" width="5.83" height="7.76" fill="#1c1c1c"/>
<rect x="290.52" y="311.70" width="5.83" height="7.76" fill="#161616"/>
<rect x="296.05" y="311.70" width="5.83" height="7.76" fill="#121212"/>
<rect x="69.20" y="319.17" width="5.83" height="7.76" fill="#191919"/>
<rect x="74.73" y="319.17" width="5.83" height="7.76" fill="#1c1c1c"/>
<rect x="80.27" y="319.17" width="5.83" height="7.76" fill="#202020"/>
<rect x="85.80" y="319.17" width="5.83" height="7.76" fill="#232323"/>
<rect x="91.33" y="319.17" width="5.83" height="7.76" fill="#282828"/>
<rect x="96.87" y="319.17" width="5.83" height="7.76" fill="#2d2d2d"/>
<rect x="102.40" y="319.17" width="5.83" height="7.76" fill="#323232"/>
<rect x="107.93" y="319.17" width="5.83" height="7.76" fill="#373737"/>
<rect x="113.46" y="319.17" width="5.83" height="7.76" fill="#3e3e3e"/>
<rect x="119" y="319.17" width="5.83" height="7.76" fill="#464646"/>
<rect x="124.53" y="319.17" width="5.83" height="7.76" fill="#555555"/>
<rect x="130.06" y="319.17" width="5.83" height="7.76" fill="#646464"/>
<rect x="135.60" y="319.17" width="5.83" height="7.76" fill="#777777"/>
<rect x="141.13" y="319.17" width="5.83" height="7.76" fill="#8d8d8d"/>
<rect x="146.66" y="319.17" width="5.83" height="7.76" fill="#a0a0a0"/>
<rect x="152.19" y="319.17" width="5.83" height="7.76" fill="#a9a9a9"/>
<rect x="157.73" y="319.17" width="5.83" height="7.76" fill="#a7a7a7"/>
<rect x="163.26" y="319.17" width="5.83" height="7.76" fill="#9d9d9d"/>
<rect x="168.79" y="319.17" width="5.83" height="7.76" fill="#8b8b8b"/>
<rect x="174.33" y="319.17" width="5.83" height="7.76" fill="#757575"/>
<rect x="179.86" y="319.17" width="5.83" height="7.76" fill="#5f5f5f"/>
<rect x="185.39" y="319.17" width="5.83" height="7.76" fill="#5c5c5c"/>
<rect x="190.93" y="319.17" width="5.83" height="7.76" fill="#6e6e6e"/>
<rect x="196.46" y="319.17" width="5.83" height="7.76" fill="#848484"/>
<rect x="201.99" y="319.17" width="5.83" height="7.76" fill="#9b9b9b"/>
<rect x="207.53" y="319.17" width="5.83" height="7.76" fill="#a8a8a8"/>
<rect x="213.06" y="319.17" width="5.83" height="7.76" fill="#a8a8a8"/>
<rect x="218.59" y="319.17" width="5.83" height="7.76" fill="#a2a2a2"/>
<rect x="224.12" y="319.17" width="5.83" height="7.76" fill="#949494"/>
<rect x="229.66" y="319.17" width="5.83" height="7.76" fill="#808080"/>
<rect x="235.19" y="319.17" width="5.83" height="7.76" fill="#696969"/>
<rect x="240.72" y="319.17" width="5.83" height="7.76" fill="#585858"/>
<rect x="246.26" y="319.17" width="5.83" height="7.76" fill="#484848"/>
<rect x="251.79" y="319.17" width="5.83" height="7.76" fill="#3e3e3e"/>
<rect x="257.32" y="319.17" width="5.83" height="7.76" fill="#373737"/>
<rect x="262.86" y="319.17" width="5.83" height="7.76" fill="#303030"/>
<rect x="268.39" y="319.17" width="5.83" height="7.76" fill="#2a2a2a"/>
<rect x="273.92" y="319.17" width="5.83" height="7.76" fill="#262626"/>
<rect x="279.45" y="319.17" width="5.83" height="7.76" fill="#202020"/>
<rect x="284.99" y="319.17" width="5.83" height="7.76" fill="#1c1c1c"/>
<rect x="290.52" y="319.17" width="5.83" height="7.76" fill="#161616"/>
<rect x="296.05" y="319.17" width="5.83" height="7.76" fill="#121212"/>
<rect x="69.20" y="326.63" width="5.83" height="7.76" fill="#191919"/>
<rect x="74.73" y="326.63" width="5.83" height="7.76" fill="#1c1c1c"/>
<rect x="80.27" y="326.63" width="5.83" height="7.76" fill="#202020"/>
<rect x="85.80" y="326.63" width="5.83" height="7.76" fill="#232323"/>
<rect x="91.33" y="326.63" width="5.83" height="7.76" fill="#282828"/>
<rect x="96.87" y="326.63" width="5.83" height="7.76" fill="#2d2d2d"/>
<rect x="102.40" y="326.63" width="5.83" height="7.76" fill="#323232"/>
<rect x="107.93" y="326.63" width="5.83" height="7.76" fill="#373737"/>
<rect x="113.46" y="326.63" width="5.83" height="7.76" fill="#3e3e3e"/>
<rect x="119" y="326.63" width="5.83" height="7.76" fill="#464646"/>
<rect x="124.53" y="326.63" width="5.83" height="7.76" fill="#555555"/>
<rect x="130.06" y="326.63" width="5.83" height="7.76" fill="#646464"/>
<rect x="135.60" y="326.63" width="5.83" height="7.76" fill="#777777"/>
<rect x="141.13" y="326.63" width="5.83" height="7.76" fill="#8d8d8d"/>
<rect x="146.66" y="326.63" width="5.83" height="7.76" fill="#a0a0a0"/>
<rect x="152.19" y="326.63" width="5.83" height="7.76" fill="#a9a9a9"/>
<rect x="157.73" y="326.63" width="5.83" height="7.76" fill="#a7a7a7"/>
<rect x="163.26" y="326.63" width="5.83" height="7.76" fill="#9d9d9d"/>
<rect x="168.79" y="326.63" width="5.83" height="7.76" fill="#8b8b8b"/>
<rect x="174.33" y="326.63" width="5.83" height="7.76" fill="#757575"/>
<rect x="179.86" y="326.63" width="5.83" height="7.76" fill="#5f5f5f"/>
<rect x="185.39" y="326.63" width="5.83" height="7.76" fill="#5c5c5c"/>
<rect x="190.93" y="326.63" width="5.83" height="7.76" fill="#6e6e6e"/>
<rect x="196.46" y="326.63" width="5.83" height="7.76" fill="#848484"/>
<rect x="201.99" y="326.63" width="5.83" height="7.76" fill="#9b9b9b"/>
<rect x="207.53" y="326.63" width="5.83" height="7.76" fill="#a8a8a8"/>
<rect x="213.06" y="326.63" width="5.83" height="7.76" fill="#a8a8a8"/>
<rect x="218.59" y="326.63" width="5.83" height="7.76" fill="#a2a2a2"/>
<rect x="224.12" y="326.63" width="5.83" height="7.76" fill="#949494"/>
<rect x="229.66" y="326.63" width="5.83" height="7.76" fill="#808080"/>
<rect x="235.19" y="326.63" width="5.83" height="7.76" fill="#696969"/>
<rect x="240.72" y="326.63" width="5.83" height="7.76" fill="#585858"/>
<rect x="246.26" y="326.63" width="5.83" height="7.76" fill="#484848"/>
<rect x="251.79" y="326.63" width="5.83" height="7.76" fill="#3e3e3e"/>
<rect x="257.32" y="326.63" width="5.83" height="7.76" fill="#373737"/>
<rect x="262.86" y="326.63" width="5.83" height="7.76" fill="#303030"/>
<rect x="268.39" y="326.63" width="5.83" height="7.76" fill="#2a2a2a"/>
<rect x="273.92" y="326.63" width="5.83" height="7.76" fill="#262626"/>
<rect x="279.45" y="326.63" width="5.83" height="7.76" fill="#202020"/>
<rect x="284.99" y="326.63" width="5.83" height="7.76" fill="#1c1c1c"/>
<rect x="290.52" y="326.63" width="5.83" height="7.76" fill="#161616"/>
<rect x="296.05" y="326.63" width="5.83" height="7.76" fill="#121212"/>
<rect x="69.20" y="334.09" width="5.83" height="7.76" fill="#161616"/>
<rect x="74.73" y="334.09" width="5.83" height="7.76" fill="#191919"/>
<rect x="80.27" y="334.09" width="5.83" height="7.76" fill="#1c1c1c"/>
<rect x="85.80" y="334.09" width="5.83" height="7.76" fill="#202020"/>
<rect x="91.33" y="334.09" width="5.83" height="7.76" fill="#242424"/>
<rect x="96.87" y="334.09" width="5.83" height="7.76" fill="#2a2a2a"/>
<rect x="102.40" y="334.09" width="5.83" height="7.76" fill="#2f2f2f"/>
<rect x="107.93" y="334.09" width="5.83" height="7.76" fill="#343434"/>
<rect x="113.46" y="334.09" width="5.83" height="7.76" fill="#3c3c3c"/>
<rect x="119" y="334.09" width="5.83" height="7.76" fill="#444444"/>
<rect x="124.53" y="334.09" width="5.83" height="7.76" fill="#525252"/>
<rect x="130.06" y="334.09" width="5.83" height="7.76" fill="#626262"/>
<rect x="135.60" y="334.09" width="5.83" height="7.76" fill="#747474"/>
<rect x="141.13" y="334.09" width="5.83" height="7.76" fill="#888888"/>
<rect x="146.66" y="334.09" width="5.83" height="7.76" fill="#9b9b9b"/>
<rect x="152.19" y="334.09" width="5.83" height="7.76" fill="#a4a4a4"/>
<rect x="157.73" y="334.09" width="5.83" height="7.76" fill="#a6a6a6"/>
<rect x="163.26" y="334.09" width="5.83" height="7.76" fill="#9e9e9e"/>
<rect x="168.79" y="334.09" width="5.83" height="7.76" fill="#909090"/>
<rect x="174.33" y="334.09" width="5.83" height="7.76" fill="#7c7c7c"/>
<rect x="179.86" y="334.09" width="5.83" height="7.76" fill="#666666"/>
<rect x="185.39" y="334.09" width="5.83" height="7.76" fill="#626262"/>
<rect x="190.93" y="334.09" width="5.83" height="7.76" fill="#727272"/>
<rect x="196.46" y="334.09" width="5.83" height="7.76" fill="#868686"/>
<rect x="201.99" y="334.09" width="5.83" height="7.76" fill="#989898"/>
<rect x="207.53" y="334.09" width="5.83" height="7.76" fill="#a4a4a4"/>
<rect x="213.06" y="334.09" width="5.83" height="7.76" fill="#a4a4a4"/>
<rect x="218.59" y="334.09" width="5.83" height="7.76" fill="#9e9e9e"/>
<rect x="224.12" y="334.09" width="5.83" height="7.76" fill="#919191"/>
<rect x="229.66" y="334.09" width="5.83" height="7.76" fill="#7d7d7d"/>
<rect x="235.19" y="334.09" width="5.83" height="7.76" fill="#666666"/>
<rect x="240.72" y="334.09" width="5.83" height="7.76" fill="#565656"/>
<rect x="246.26" y="334.09" width="5.83" height="7.76" fill="#464646"/>
<rect x="251.79" y="334.09" width="5.83" height="7.76" fill="#3c3c3c"/>
<rect x="257.32" y="334.09" width="5.83" height="7.76" fill="#343434"/>
<rect x="262.86" y="334.09" width="5.83" height="7.76" fill="#2e2e2e"/>
<rect x="268.39" y="334.09" width="5.83" height="7.76" fill="#282828"/>
<rect x="273.92" y="334.09" width="5.83" height="7.76" fill="#242424"/>
<rect x="279.45" y="334.09" width="5.83" height="7.76" fill="#1e1e1e"/>
<rect x="284.99" y="334.09" width="5.83" height="7.76" fill="#191919"/>
<rect x="290.52" y="334.09" width="5.83" height="7.76" fill="#141414"/>
<rect x="296.05" y="334.09" width="5.83" height="7.76" fill="#101010"/>
<rect x="69.20" y="341.56" width="5.83" height="7.76" fill="#141414"/>
<rect x="74.73" y="341.56" width="5.83" height="7.76" fill="#161616"/>
<rect x="80.27" y="341.56" width="5.83" height="7.76" fill="#191919"/>
<rect x="85.80" y="341.56" width="5.83" height="7.76" fill="#1c1c1c"/>
<rect x="91.33" y="341.56" width="5.83" height="7.76" fill="#202020"/>
<rect x="96.87" y="341.56" width="5.83" height="7.76" fill="#262626"/>
<rect x="102.40" y="341.56" width="5.83" height="7.76" fill="#2c2c2c"/>
<rect x="107.93" y="341.56" width="5.83" height="7.76" fill="#323232"/>
<rect x="113.46" y="341.56" width="5.83" height="7.76" fill="#393939"/>
<rect x="119" y="341.56" width="5.83" height="7.76" fill="#414141"/>
<rect x="124.53" y="341.56" width="5.83" height="7.76" fill="#505050"/>
<rect x="130.06" y="341.56" width="5.83" height="7.76" fill="#5f5f5f"/>
<rect x="135.60" y="341.56" width="5.83" height="7.76" fill="#707070"/>
<rect x="141.13" y="341.56" width="5.83" height="7.76" fill="#828282"/>
<rect x="146.66" y="341.56" width="5.83" height="7.76" fill="#969696"/>
<rect x="152.19" y="341.56" width="5.83" height="7.76" fill="#a0a0a0"/>
<rect x="157.73" y="341.56" width="5.83" height="7.76" fill="#a5a5a5"/>
<rect x="163.26" y="341.56" width="5.83" height="7.76" fill="#a0a0a0"/>
<rect x="168.79" y="341.56" width="5.83" height="7.76" fill="#949494"/>
<rect x="174.33" y="341.56" width="5.83" height="7.76" fill="#828282"/>
<rect x="179.86" y="341.56" width="5.83" height="7.76" fill="#6e6e6e"/>
<rect x="185.39" y="341.56" width="5.83" height="7.76" fill="#696969"/>
<rect x="190.93" y="341.56" width="5.83" height="7.76" fill="#767676"/>
<rect x="196.46" y="341.56" width="5.83" height="7.76" fill="#878787"/>
<rect x="201.99" y="341.56" width="5.83" height="7.76" fill="#969696"/>
<rect x="207.53" y="341.56" width="5.83" height="7.76" fill="#a0a0a0"/>
<rect x="213.06" y="341.56" width="5.83" height="7.76" fill="#a0a0a0"/>
<rect x="218.59" y="341.56" width="5.83" height="7.76" fill="#9b9b9b"/>
<rect x="224.12" y="341.56" width="5.83" height="7.76" fill="#8e8e8e"/>
<rect x="229.66" y="341.56" width="5.83" height="7.76" fill="#7a7a7a"/>
<rect x="235.19" y="341.56" width="5.83" height="7.76" fill="#646464"/>
<rect x="240.72" y="341.56" width="5.83" height="7.76" fill="#545454"/>
<rect x="246.26" y="341.56" width="5.83" height="7.76" fill="#444444"/>
<rect x="251.79" y="341.56" width="5.83" height="7.76" fill="#3a3a3a"/>
<rect x="257.32" y="341.56" width="5.83" height="7.76" fill="#323232"/>
<rect x="262.86" y="341.56" width="5.83" height="7.76" fill="#2c2c2c"/>
<rect x="268.39" y="341.56" width="5.83" height="7.76" fill="#262626"/>
<rect x="273.92" y="341.56" width="5.83" height="7.76" fill="#212121"/>
<rect x="279.45" y="341.56" width="5.83" height="7.76" fill="#1b1b1b"/>
<rect x="284.99" y="341.56" width="5.83" height="7.76" fill="#161616"/>
<rect x="290.52" y="341.56" width="5.83" height="7.76" fill="#121212"/>
<rect x="296.05" y="341.56" width="5.83" height="7.76" fill="#0f0f0f"/>
<rect x="69.20" y="349.02" width="5.83" height="7.76" fill="#121212"/>
<rect x="74.73" y="349.02" width="5.83" height="7.76" fill="#151515"/>
<rect x="80.27" y="349.02" width="5.83" height="7.76" fill="#181818"/>
<rect x="85.80" y="349.02" width="5.83" height="7.76" fill="#1b1b1b"/>
<rect x="91.33" y="349.02" width="5.83" height="7.76" fill="#1f1f1f"/>
<rect x="96.87" y="349.02" width="5.83" height="7.76" fill="#252525"/>
<rect x="102.40" y="349.02" width="5.83" height="7.76" fill="#2b2b2b"/>
<rect x="107.93" y="349.02" width="5.83" height="7.76" fill="#313131"/>
<rect x="113.46" y="349.02" width="5.83" height="7.76" fill="#383838"/>
<rect x="119" y="349.02" width="5.83" height="7.76" fill="#3f3f3f"/>
<rect x="124.53" y="349.02" width="5.83" height="7.76" fill="#4e4e4e"/>
<rect x="130.06" y="349.02" width="5.83" height="7.76" fill="#5d5d5d"/>
<rect x="135.60" y="349.02" width="5.83" height="7.76" fill="#6f6f6f"/>
<rect x="141.13" y="349.02" width="5.83" height="7.76" fill="#808080"/>
<rect x="146.66" y="349.02" width="5.83" height="7.76" fill="#939393"/>
<rect x="152.19" y="349.02" width="5.83" height="7.76" fill="#9d9d9d"/>
<rect x="157.73" y="349.02" width="5.83" height="7.76" fill="#a2a2a2"/>
<rect x="163.26" y="349.02" width="5.83" height="7.76" fill="#9e9e9e"/>
<rect x="168.79" y="349.02" width="5.83" height="7.76" fill="#959595"/>
<rect x="174.33" y="349.02" width="5.83" height="7.76" fill="#858585"/>
<rect x="179.86" y="349.02" width="5.83" height="7.76" fill="#757575"/>
<rect x="185.39" y="349.02" width="5.83" height="7.76" fill="#6d6d6d"/>
<rect x="190.93" y="349.02" width="5.83" height="7.76" fill="#797979"/>
<rect x="196.46" y="349.02" width="5.83" height="7.76" fill="#898989"/>
<rect x="201.99" y="349.02" width="5.83" height="7.76" fill="#969696"/>
<rect x="207.53" y="349.02" width="5.83" height="7.76" fill="#9e9e9e"/>
<rect x="213.06" y="349.02" width="5.83" height="7.76" fill="#9e9e9e"/>
<rect x="218.59" y="349.02" width="5.83" height="7.76" fill="#999999"/>
<rect x="224.12" y="349.02" width="5.83" height="7.76" fill="#8d8d8d"/>
<rect x="229.66" y="349.02" width="5.83" height="7.76" fill="#797979"/>
<rect x="235.19" y="349.02" width="5.83" height="7.76" fill="#646464"/>
<rect x="240.72" y="349.02" width="5.83" height="7.76" fill="#535353"/>
<rect x="246.26" y="349.02" width="5.83" height="7.76" fill="#434343"/>
<rect x="251.79" y="349.02" width="5.83" height="7.76" fill="#393939"/>
<rect x="257.32" y="349.02" width="5.83" height="7.76" fill="#313131"/>
<rect x="262.86" y="349.02" width="5.83" height="7.76" fill="#2b2b2b"/>
<rect x="268.39" y="349.02" width="5.83" height="7.76" fill="#252525"/>
<rect x="273.92" y="349.02" width="5.83" height="7.76" fill="#202020"/>
<rect x="279.45" y="349.02" width="5.83" height="7.76" fill="#1a1a1a"/>
<rect x="284.99" y="349.02" width="5.83" height="7.76" fill="#151515"/>
<rect x="290.52" y="349.02" width="5.83" height="7.76" fill="#111111"/>
<rect x="296.05" y="349.02" width="5.83" height="7.76" fill="#0e0e0e"/>
<rect x="69.20" y="356.48" width="5.83" height="7.76" fill="#111111"/>
<rect x="74.73" y="356.48" width="5.83" height="7.76" fill="#131313"/>
<rect x="80.27" y="356.48" width="5.83" height="7.76" fill="#161616"/>
<rect x="85.80" y="356.48" width="5.83" height="7.76" fill="#1a1a1a"/>
<rect x="91.33" y="356.48" width="5.83" height="7.76" fill="#1e1e1e"/>
<rect x="96.87" y="356.48" width="5.83" height="7.76" fill="#232323"/>
<rect x="102.40" y="356.48" width="5.83" height="7.76" fill="#292929"/>
<rect x="107.93" y="356.48" width="5.83" height="7.76" fill="#2f2f2f"/>
<rect x="113.46" y="356.48" width="5.83" height="7.76" fill="#363636"/>
<rect x="119" y="356.48" width="5.83" height="7.76" fill="#3e3e3e"/>
<rect x="124.53" y="356.48" width="5.83" height="7.76" fill="#4d4d4d"/>
<rect x="130.06" y="356.48" width="5.83" height="7.76" fill="#5c5c5c"/>
<rect x="135.60" y="356.48" width="5.83" height="7.76" fill="#6d6d6d"/>
<rect x="141.13" y="356.48" width="5.83" height="7.76" fill="#7f7f7f"/>
<rect x="146.66" y="356.48" width="5.83" height="7.76" fill="#8f8f8f"/>
<rect x="152.19" y="356.48" width="5.83" height="7.76" fill="#999999"/>
<rect x="157.73" y="356.48" width="5.83" height="7.76" fill="#9e9e9e"/>
<rect x="163.26" y="356.48" width="5.83" height="7.76" fill="#9d9d9d"/>
<rect x="168.79" y="356.48" width="5.83" height="7.76" fill="#959595"/>
<rect x="174.33" y="356.48" width="5.83" height="7.76" fill="#898989"/>
<rect x="179.86" y="356.48" width="5.83" height="7.76" fill="#7b7b7b"/>
<rect x="185.39" y="356.48" width="5.83" height="7.76" fill="#727272"/>
<rect x="190.93" y="356.48" width="5.83" height="7.76" fill="#7d7d7d"/>
<rect x="196.46" y="356.48" width="5.83" height="7.76" fill="#8a8a8a"/>
<rect x="201.99" y="356.48" width="5.83" height="7.76" fill="#969696"/>
<rect x="207.53" y="356.48" width="5.83" height="7.76" fill="#9d9d9d"/>
<rect x="213.06" y="356.48" width="5.83" height="7.76" fill="#9d9d9d"/>
<rect x="218.59" y="356.48" width="5.83" height="7.76" fill="#989898"/>
<rect x="224.12" y="356.48" width="5.83" height="7.76" fill="#8b8b8b"/>
<rect x="229.66" y="356.48" width="5.83" height="7.76" fill="#797979"/>
<rect x="235.19" y="356.48" width="5.83" height="7.76" fill="#646464"/>
<rect x="240.72" y="356.48" width="5.83" height="7.76" fill="#535353"/>
<rect x="246.26" y="356.48" width="5.83" height="7.76" fill="#424242"/>
<rect x="251.79" y="356.48" width="5.83" height="7.76" fill="#383838"/>
<rect x="257.32" y="356.48" width="5.83" height="7.76" fill="#313131"/>
<rect x="262.86" y="356.48" width="5.83" height="7.76" fill="#2b2b2b"/>
<rect x="268.39" y="356.48" width="5.83" height="7.76" fill="#242424"/>
<rect x="273.92" y="356.48" width="5.83" height="7.76" fill="#1f1f1f"/>
<rect x="279.45" y="356.48" width="5.83" height="7.76" fill="#1a1a1a"/>
<rect x="284.99" y="356.48" width="5.83" height="7.76" fill="#151515"/>
<rect x="290.52" y="356.48" width="5.83" height="7.76" fill="#101010"/>
<rect x="296.05" y="356.48" width="5.83" height="7.76" fill="#0d0d0d"/>
<rect x="69.20" y="363.94" width="5.83" height="7.76" fill="#0f0f0f"/>
<rect x="74.73" y="363.94" width="5.83" height="7.76" fill="#121212"/>
<rect x="80.27" y="363.94" width="5.83" height="7.76" fill="#151515"/>
<rect x="85.80" y="363.94" width="5.83" height="7.76" fill="#191919"/>
<rect x="91.33" y="363.94" width="5.83" height="7.76" fill="#1d1d1d"/>
<rect x="96.87" y="363.94" width="5.83" height="7.76" fill="#222222"/>
<rect x="102.40" y="363.94" width="5.83" height="7.76" fill="#282828"/>
<rect x="107.93" y="363.94" width="5.83" height="7.76" fill="#2e2e2e"/>
<rect x="113.46" y="363.94" width="5.83" height="7.76" fill="#353535"/>
<rect x="119" y="363.94" width="5.83" height="7.76" fill="#3c3c3c"/>
<rect x="124.53" y="363.94" width="5.83" height="7.76" fill="#4b4b4b"/>
<rect x="130.06" y="363.94" width="5.83" height="7.76" fill="#5a5a5a"/>
<rect x="135.60" y="363.94" width="5.83" height="7.76" fill="#6c6c6c"/>
<rect x="141.13" y="363.94" width="5.83" height="7.76" fill="#7d7d7d"/>
<rect x="146.66" y="363.94" width="5.83" height="7.76" fill="#8c8c8c"/>
<rect x="152.19" y="363.94" width="5.83" height="7.76" fill="#969696"/>
<rect x="157.73" y="363.94" width="5.83" height="7.76" fill="#9b9b9b"/>
<rect x="163.26" y="363.94" width="5.83" height="7.76" fill="#9b9b9b"/>
<rect x="168.79" y="363.94" width="5.83" height="7.76" fill="#969696"/>
<rect x="174.33" y="363.94" width="5.83" height="7.76" fill="#8c8c8c"/>
<rect x="179.86" y="363.94" width="5.83" height="7.76" fill="#828282"/>
<rect x="185.39" y="363.94" width="5.83" height="7.76" fill="#767676"/>
<rect x="190.93" y="363.94" width="5.83" height="7.76" fill="#808080"/>
<rect x="196.46" y="363.94" width="5.83" height="7.76" fill="#8c8c8c"/>
<rect x="201.99" y="363.94" width="5.83" height="7.76" fill="#969696"/>
<rect x="207.53" y="363.94" width="5.83" height="7.76" fill="#9b9b9b"/>
<rect x="213.06" y="363.94" width="5.83" height="7.76" fill="#9b9b9b"/>
<rect x="218.59" y="363.94" width="5.83" height="7.76" fill="#969696"/>
<rect x="224.12" y="363.94" width="5.83" height="7.76" fill="#8a8a8a"/>
<rect x="229.66" y="363.94" width="5.83" height="7.76" fill="#787878"/>
<rect x="235.19" y="363.94" width="5.83" height="7.76" fill="#646464"/>
<rect x="240.72" y="363.94" width="5.83" height="7.76" fill="#525252"/>
<rect x="246.26" y="363.94" width="5.83" height="7.76" fill="#414141"/>
<rect x="251.79" y="363.94" width="5.83" height="7.76" fill="#373737"/>
<rect x="257.32" y="363.94" width="5.83" height="7.76" fill="#303030"/>
<rect x="262.86" y="363.94" width="5.83" height="7.76" fill="#2a2a2a"/>
<rect x="268.39" y="363.94" width="5.83" height="7.76" fill="#232323"/>
<rect x="273.92" y="363.94" width="5.83" height="7.76" fill="#1e1e1e"/>
<rect x="279.45" y="363.94" width="5.83" height="7.76" fill="#191919"/>
<rect x="284.99" y="363.94" width="5.83" height="7.76" fill="#141414"/>
<rect x="290.52" y="363.94" width="5.83" height="7.76" fill="#0f0f0f"/>
<rect x="296.05" y="363.94" width="5.83" height="7.76" fill="#0c0c0c"/>
<rect x="69.20" y="371.41" width="5.83" height="7.76" fill="#0f0f0f"/>
<rect x="74.73" y="371.41" width="5.83" height="7.76" fill="#121212"/>
<rect x="80.27" y="371.41" width="5.83" height="7.76" fill="#151515"/>
<rect x="85.80" y="371.41" width="5.83" height="7.76" fill="#191919"/>
<rect x="91.33" y="371.41" width="5.83" height="7.76" fill="#1d1d1d"/>
<rect x="96.87" y="371.41" width="5.83" height="7.76" fill="#222222"/>
<rect x="102.40" y="371.41" width="5.83" height="7.76" fill="#282828"/>
<rect x="107.93" y="371.41" width="5.83" height="7.76" fill="#2e2e2e"/>
<rect x="113.46" y="371.41" width="5.83" height="7.76" fill="#353535"/>
<rect x="119" y="371.41" width="5.83" height="7.76" fill="#3c3c3c"/>
<rect x="124.53" y="371.41" width="5.83" height="7.76" fill="#4b4b4b"/>
<rect x="130.06" y="371.41" width="5.83" height="7.76" fill="#5a5a5a"/>
<rect x="135.60" y="371.41" width="5.83" height="7.76" fill="#6c6c6c"/>
<rect x="141.13" y="371.41" width="5.83" height="7.76" fill="#7d7d7d"/>
<rect x="146.66" y="371.41" width="5.83" height="7.76" fill="#8c8c8c"/>
<rect x="152.19" y="371.41" width="5.83" height="7.76" fill="#969696"/>
<rect x="157.73" y="371.41" width="5.83" height="7.76" fill="#9b9b9b"/>
<rect x="163.26" y="371.41" width="5.83" height="7.76" fill="#9b9b9b"/>
<rect x="168.79" y="371.41" width="5.83" height="7.76" fill="#969696"/>
<rect x="174.33" y="371.41" width="5.83" height="7.76" fill="#8c8c8c"/>
<rect x="179.86" y="371.41" width="5.83" height="7.76" fill="#828282"/>
<rect x="185.39" y="371.41" width="5.83" height="7.76" fill="#767676"/>
<rect x="190.93" y="371.41" width="5.83" height="7.76" fill="#808080"/>
<rect x="196.46" y="371.41" width="5.83" height="7.76" fill="#8c8c8c"/>
<rect x="201.99" y="371.41" width="5.83" height="7.76" fill="#969696"/>
<rect x="207.53" y="371.41" width="5.83" height="7.76" fill="#9b9b9b"/>
<rect x="213.06" y="371.41" width="5.83" height="7.76" fill="#9b9b9b"/>
<rect x="218.59" y="371.41" width="5.83" height="7.76" fill="#969696"/>
<rect x="224.12" y="371.41" width="5.83" height="7.76" fill="#8a8a8a"/>
<rect x="229.66" y="371.41" width="5.83" height="7.76" fill="#787878"/>
<rect x="235.19" y="371.41" width="5.83" height="7.76" fill="#646464"/>
<rect x="240.72" y="371.41" width="5.83" height="7.76" fill="#525252"/>
<rect x="246.26" y="371.41" width="5.83" height="7.76" fill="#414141"/>
<rect x="251.79" y="371.41" width="5.83" height="7.76" fill="#373737"/>
<rect x="257.32" y="371.41" width="5.83" height="7.76" fill="#303030"/>
<rect x="262.86" y="371.41" width="5.83" height="7.76" fill="#2a2a2a"/>
<rect x="268.39" y="371.41" width="5.83" height="7.76" fill="#232323"/>
<rect x="273.92" y="371.41" width="5.83" height="7.76" fill="#1e1e1e"/>
<rect x="279.45" y="371.41" width="5.83" height="7.76" fill="#191919"/>
<rect x="284.99" y="371.41" width="5.83" height="7.76" fill="#141414"/>
<rect x="290.52" y="371.41" width="5.83" height="7.76" fill="#0f0f0f"/>
<rect x="296.05" y="371.41" width="5.83" height="7.76" fill="#0c0c0c"/>
<rect x="69.20" y="378.87" width="5.83" height="7.76" fill="#0f0f0f"/>
<rect x="74.73" y="378.87" width="5.83" height="7.76" fill="#121212"/>
<rect x="80.27" y="378.87" width="5.83" height="7.76" fill="#151515"/>
<rect x="85.80" y="378.87" width="5.83" height="7.76" fill="#191919"/>
<rect x="91.33" y="378.87" width="5.83" height="7.76" fill="#1d1d1d"/>
<rect x="96.87" y="378.87" width="5.83" height="7.76" fill="#222222"/>
<rect x="102.40" y="378.87" width="5.83" height="7.76" fill="#282828"/>
<rect x="107.93" y="378.87" width="5.83" height="7.76" fill="#2e2e2e"/>
<rect x="113.46" y="378.87" width="5.83" height="7.76" fill="#353535"/>
<rect x="119" y="378.87" width="5.83" height="7.76" fill="#3c3c3c"/>
<rect x="124.53" y="378.87" width="5.83" height="7.76" fill="#4b4b4b"/>
<rect x="130.06" y="378.87" width="5.83" height="7.76" fill="#5a5a5a"/>
<rect x="135.60" y="378.87" width="5.83" height="7.76" fill="#6c6c6c"/>
<rect x="141.13" y="378.87" width="5.83" height="7.76" fill="#7d7d7d"/>
<rect x="146.66" y="378.87" width="5.83" height="7.76" fill="#8c8c8c"/>
<rect x="152.19" y="378.87" width="5.83" height="7.76" fill="#969696"/>
<rect x="157.73" y="378.87" width="5.83" height="7.76" fill="#9b9b9b"/>
<rect x="163.26" y="378.87" width="5.83" height="7.76" fill="#9b9b9b"/>
<rect x="168.79" y="378.87" width="5.83" height="7.76" fill="#969696"/>
<rect x="174.33" y="378.87" width="5.83" height="7.76" fill="#8c8c8c"/>
<rect x="179.86" y="378.87" width="5.83" height="7.76" fill="#828282"/>
<rect x="185.39" y="378.87" width="5.83" height="7.76" fill="#767676"/>
<rect x="190.93" y="378.87" width="5.83" height="7.76" fill="#808080"/>
<rect x="196.46" y="378.87" width="5.83" height="7.76" fill="#8c8c8c"/>
<rect x="201.99" y="378.87" width="5.83" height="7.76" fill="#969696"/>
<rect x="207.53" y="378.87" width="5.83" height="7.76" fill="#9b9b9b"/>
<rect x="213.06" y="378.87" width="5.83" height="7.76" fill="#9b9b9b"/>
<rect x="218.59" y="378.87" width="5.83" height="7.76" fill="#969696"/>
<rect x="224.12" y="378.87" width="5.83" height="7.76" fill="#8a8a8a"/>
<rect x="229.66" y="378.87" width="5.83" height="7.76" fill="#787878"/>
<rect x="235.19" y="378.87" width="5.83" height="7.76" fill="#646464"/>
<rect x="240.72" y="378.87" width="5.83" height="7.76" fill="#525252"/>
<rect x="246.26" y="378.87" width="5.83" height="7.76" fill="#414141"/>
<rect x="251.79" y="378.87" width="5.83" height="7.76" fill="#373737"/>
<rect x="257.32" y="378.87" width="5.83" height="7.76" fill="#303030"/>
<rect x="262.86" y="378.87" width="5.83" height="7.76" fill="#2a2a2a"/>
<rect x="268.39" y="378.87" width="5.83" height="7.76" fill="#232323"/>
<rect x="273.92" y="378.87" width="5.83" height="7.76" fill="#1e1e1e"/>
<rect x="279.45" y="378.87" width="5.83" height="7.76" fill="#191919"/>
<rect x="284.99" y="378.87" width="5.83" height="7.76" fill="#141414"/>
<rect x="290.52" y="378.87" width="5.83" height="7.76" fill="#0f0f0f"/>
<rect x="296.05" y="378.87" width="5.83" height="7.76" fill="#0c0c0c"/>
<rect x="69.20" y="386.33" width="5.83" height="7.76" fill="#0f0f0f"/>
<rect x="74.73" y="386.33" width="5.83" height="7.76" fill="#121212"/>
<rect x="80.27" y="386.33" width="5.83" height="7.76" fill="#151515"/>
<rect x="85.80" y="386.33" width="5.83" height="7.76" fill="#191919"/>
<rect x="91.33" y="386.33" width="5.83" height="7.76" fill="#1d1d1d"/>
<rect x="96.87" y="386.33" width="5.83" height="7.76" fill="#222222"/>
<rect x="102.40" y="386.33" width="5.83" height="7.76" fill="#282828"/>
<rect x="107.93" y="386.33" width="5.83" height="7.76" fill="#2e2e2e"/>
<rect x="113.46" y="386.33" width="5.83" height="7.76" fill="#353535"/>
<rect x="119" y="386.33" width="5.83" height="7.76" fill="#3c3c3c"/>
<rect x="124.53" y="386.33" width="5.83" height="7.76" fill="#4b4b4b"/>
<rect x="130.06" y="386.33" width="5.83" height="7.76" fill="#5a5a5a"/>
<rect x="135.60" y="386.33" width="5.83" height="7.76" fill="#6c6c6c"/>
<rect x="141.13" y="386.33" width="5.83" height="7.76" fill="#7d7d7d"/>
<rect x="146.66" y="386.33" width="5.83" height="7.76" fill="#8c8c8c"/>
<rect x="152.19" y="386.33" width="5.83" height="7.76" fill="#969696"/>
<rect x="157.73" y="386.33" width="5.83" height="7.76" fill="#9b9b9b"/>
<rect x="163.26" y="386.33" width="5.83" height="7.76" fill="#9b9b9b"/>
<rect x="168.79" y="386.33" width="5.83" height="7.76" fill="#969696"/>
<rect x="174.33" y="386.33" width="5.83" height="7.76" fill="#8c8c8c"/>
<rect x="179.86" y="386.33" width="5.83" height="7.76" fill="#828282"/>
<rect x="185.39" y="386.33" width="5.83" height="7.76" fill="#767676"/>
<rect x="190.93" y="386.33" width="5.83" height="7.76" fill="#808080"/>
<rect x="196.46" y="386.33" width="5.83" height="7.76" fill="#8c8c8c"/>
<rect x="201.99" y="386.33" width="5.83" height="7.76" fill="#969696"/>
<rect x="207.53" y="386.33" width="5.83" height="7.76" fill="#9b9b9b"/>
<rect x="213.06" y="386.33" width="5.83" height="7.76" fill="#9b9b9b"/>
<rect x="218.59" y="386.33" width="5.83" height="7.76" fill="#969696"/>
<rect x="224.12" y="386.33" width="5.83" height="7.76" fill="#8a8a8a"/>
<rect x="229.66" y="386.33" width="5.83" height="7.76" fill="#787878"/>
<rect x="235.19" y="386.33" width="5.83" height="7.76" fill="#646464"/>
<rect x="240.72" y="386.33" width="5.83" height="7.76" fill="#525252"/>
<rect x="246.26" y="386.33" width="5.83" height="7.76" fill="#414141"/>
<rect x="251.79" y="386.33" width="5.83" height="7.76" fill="#373737"/>
<rect x="257.32" y="386.33" width="5.83" height="7.76" fill="#303030"/>
<rect x="262.86" y="386.33" width="5.83" height="7.76" fill="#2a2a2a"/>
<rect x="268.39" y="386.33" width="5.83" height="7.76" fill="#232323"/>
<rect x="273.92" y="386.33" width="5.83" height="7.76" fill="#1e1e1e"/>
<rect x="279.45" y="386.33" width="5.83" height="7.76" fill="#191919"/>
<rect x="284.99" y="386.33" width="5.83" height="7.76" fill="#141414"/>
<rect x="290.52" y="386.33" width="5.83" height="7.76" fill="#0f0f0f"/>
<rect x="296.05" y="386.33" width="5.83" height="7.76" fill="#0c0c0c"/>
<rect x="399.20" y="252" width="5.83" height="7.76" fill="#dd0000"/>
<rect x="404.73" y="252" width="5.83" height="7.76" fill="#dd0000"/>
<rect x="410.27" y="252" width="5.83" height="7.76" fill="#dd0000"/>
<rect x="415.80" y="252" width="5.83" height="7.76" fill="#dd0000"/>
<rect x="421.33" y="252" width="5.83" height="7.76" fill="#de4619"/>
<rect x="426.87" y="252" width="5.83" height="7.76" fill="#dd0000"/>
<rect x="432.40" y="252" width="5.83" height="7.76" fill="#dd0000"/>
<rect x="437.93" y="252" width="5.83" height="7.76" fill="#dd0000"/>
<rect x="443.46" y="252" width="5.83" height="7.76" fill="#dd0000"/>
<rect x="449" y="252" width="5.83" height="7.76" fill="#dd0000"/>
<rect x="454.53" y="252" width="5.83" height="7.76" fill="#dd0000"/>
<rect x="460.06" y="252" width="5.83" height="7.76" fill="#dd0000"/>
<rect x="465.60" y="252" width="5.83" height="7.76" fill="#dd0000"/>
<rect x="471.13" y="252" width="5.83" height="7.76" fill="#dd0000"/>
<rect x="476.66" y="252" width="5.83" height="7.76" fill="#dd0000"/>
<rect x="482.19" y="252" width="5.83" height="7.76" fill="#dd0000"/>
<rect x="487.73" y="252" width="5.83" height="7.76" fill="#de4619"/>
<rect x="493.26" y="252" width="5.83" height="7.76" fill="#f0be32"/>
<rect x="498.79" y="252" width="5.83" height="7.76" fill="#faeb32"/>
<rect x="504.33" y="252" width="5.83" height="7.76" fill="#e6dc8c"/>
<rect x="509.86" y="252" width="5.83" height="7.76" fill="#c3c3b9"/>
<rect x="515.39" y="252" width="5.83" height="7.76" fill="#c3c3b9"/>
<rect x="520.93" y="252" width="5.83" height="7.76" fill="#82ebfa"/>
<rect x="526.46" y="252" width="5.83" height="7.76" fill="#87f041"/>
<rect x="531.99" y="252" width="5.83" height="7.76" fill="#f0be32"/>
<rect x="537.52" y="252" width="5.83" height="7.76" fill="#dd0000"/>
<rect x="543.06" y="252" width="5.83" height="7.76" fill="#dd0000"/>
<rect x="548.59" y="252" width="5.83" height="7.76" fill="#dd0000"/>
<rect x="554.12" y="252" width="5.83" height="7.76" fill="#dd0000"/>
<rect x="559.66" y="252" width="5.83" height="7.76" fill="#dd0000"/>
<rect x="565.19" y="252" width="5.83" height="7.76" fill="#dd0000"/>
<rect x="570.72" y="252" width="5.83" height="7.76" fill="#dd0000"/>
<rect x="576.26" y="252" width="5.83" height="7.76" fill="#dd0000"/>
<rect x="581.79" y="252" width="5.83" height="7.76" fill="#dd0000"/>
<rect x="587.32" y="252" width="5.83" height="7.76" fill="#dd0000"/>
<rect x="592.86" y="252" width="5.83" height="7.76" fill="#dd0000"/>
<rect x="598.39" y="252" width="5.83" height="7.76" fill="#dd0000"/>
<rect x="603.92" y="252" width="5.83" height="7.76" fill="#dd0000"/>
<rect x="609.45" y="252" width="5.83" height="7.76" fill="#dd0000"/>
<rect x="614.99" y="252" width="5.83" height="7.76" fill="#dd0000"/>
<rect x="620.52" y="252" width="5.83" height="7.76" fill="#dd0000"/>
<rect x="626.05" y="252" width="5.83" height="7.76" fill="#dd0000"/>
<rect x="399.20" y="259.46" width="5.83" height="7.76" fill="#dd0000"/>
<rect x="404.73" y="259.46" width="5.83" height="7.76" fill="#faeb32"/>
<rect x="410.27" y="259.46" width="5.83" height="7.76" fill="#dd0000"/>
<rect x="415.80" y="259.46" width="5.83" height="7.76" fill="#dd0000"/>
<rect x="421.33" y="259.46" width="5.83" height="7.76" fill="#faeb32"/>
<rect x="426.87" y="259.46" width="5.83" height="7.76" fill="#dd0000"/>
<rect x="432.40" y="259.46" width="5.83" height="7.76" fill="#dd0000"/>
<rect x="437.93" y="259.46" width="5.83" height="7.76" fill="#dd0000"/>
<rect x="443.46" y="259.46" width="5.83" height="7.76" fill="#dd0000"/>
<rect x="449" y="259.46" width="5.83" height="7.76" fill="#dd0000"/>
<rect x="454.53" y="259.46" width="5.83" height="7.76" fill="#dd0000"/>
<rect x="460.06" y="259.46" width="5.83" height="7.76" fill="#dd0000"/>
<rect x="465.60" y="259.46" width="5.83" height="7.76" fill="#dd0000"/>
<rect x="471.13" y="259.46" width="5.83" height="7.76" fill="#dd0000"/>
<rect x="476.66" y="259.46" width="5.83" height="7.76" fill="#dd0000"/>
<rect x="482.19" y="259.46" width="5.83" height="7.76" fill="#dd0000"/>
<rect x="487.73" y="259.46" width="5.83" height="7.76" fill="#de4619"/>
<rect x="493.26" y="259.46" width="5.83" height="7.76" fill="#faeb32"/>
<rect x="498.79" y="259.46" width="5.83" height="7.76" fill="#faeb32"/>
<rect x="504.33" y="259.46" width="5.83" height="7.76" fill="#faeb32"/>
<rect x="509.86" y="259.46" width="5.83" height="7.76" fill="#87f041"/>
<rect x="515.39" y="259.46" width="5.83" height="7.76" fill="#82ebfa"/>
<rect x="520.93" y="259.46" width="5.83" height="7.76" fill="#c3c3b9"/>
<rect x="526.46" y="259.46" width="5.83" height="7.76" fill="#c3c3b9"/>
<rect x="531.99" y="259.46" width="5.83" height="7.76" fill="#faeb32"/>
<rect x="537.52" y="259.46" width="5.83" height="7.76" fill="#dd0000"/>
<rect x="543.06" y="259.46" width="5.83" height="7.76" fill="#dd0000"/>
<rect x="548.59" y="259.46" width="5.83" height="7.76" fill="#dd0000"/>
<rect x="554.12" y="259.46" width="5.83" height="7.76" fill="#dd0000"/>
<rect x="559.66" y="259.46" width="5.83" height="7.76" fill="#dd0000"/>
<rect x="565.19" y="259.46" width="5.83" height="7.76" fill="#dd0000"/>
<rect x="570.72" y="259.46" width="5.83" height="7.76" fill="#dd0000"/>
<rect x="576.26" y="259.46" width="5.83" height="7.76" fill="#dd0000"/>
<rect x="581.79" y="259.46" width="5.83" height="7.76" fill="#dd0000"/>
<rect x="587.32" y="259.46" width="5.83" height="7.76" fill="#dd0000"/>
<rect x="592.86" y="259.46" width="5.83" height="7.76" fill="#dd0000"/>
<rect x="598.39" y="259.46" width="5.83" height="7.76" fill="#dd0000"/>
<rect x="603.92" y="259.46" width="5.83" height="7.76" fill="#de4619"/>
<rect x="609.45" y="259.46" width="5.83" height="7.76" fill="#de4619"/>
<rect x="614.99" y="259.46" width="5.83" height="7.76" fill="#dd0000"/>
<rect x="620.52" y="259.46" width="5.83" height="7.76" fill="#dd0000"/>
<rect x="626.05" y="259.46" width="5.83" height="7.76" fill="#faeb32"/>
<rect x="399.20" y="266.93" width="5.83" height="7.76" fill="#3c6ef0"/>
<rect x="404.73" y="266.93" width="5.83" height="7.76" fill="#5faff5"/>
<rect x="410.27" y="266.93" width="5.83" height="7.76" fill="#f0be32"/>
<rect x="415.80" y="266.93" width="5.83" height="7.76" fill="#a0d782"/>
<rect x="421.33" y="266.93" width="5.83" height="7.76" fill="#3c6ef0"/>
<rect x="426.87" y="266.93" width="5.83" height="7.76" fill="#dd0000"/>
<rect x="432.40" y="266.93" width="5.83" height="7.76" fill="#de4619"/>
<rect x="437.93" y="266.93" width="5.83" height="7.76" fill="#e68728"/>
<rect x="443.46" y="266.93" width="5.83" height="7.76" fill="#dd0000"/>
<rect x="449" y="266.93" width="5.83" height="7.76" fill="#dd0000"/>
<rect x="454.53" y="266.93" width="5.83" height="7.76" fill="#dd0000"/>
<rect x="460.06" y="266.93" width="5.83" height="7.76" fill="#dd0000"/>
<rect x="465.60" y="266.93" width="5.83" height="7.76" fill="#dd0000"/>
<rect x="471.13" y="266.93" width="5.83" height="7.76" fill="#dd0000"/>
<rect x="476.66" y="266.93" width="5.83" height="7.76" fill="#dd0000"/>
<rect x="482.19" y="266.93" width="5.83" height="7.76" fill="#dd0000"/>
<rect x="487.73" y="266.93" width="5.83" height="7.76" fill="#f0be32"/>
<rect x="493.26" y="266.93" width="5.83" height="7.76" fill="#e6dc8c"/>
<rect x="498.79" y="266.93" width="5.83" height="7.76" fill="#e6dc8c"/>
<rect x="504.33" y="266.93" width="5.83" height="7.76" fill="#a0d782"/>
<rect x="509.86" y="266.93" width="5.83" height="7.76" fill="#87f041"/>
<rect x="515.39" y="266.93" width="5.83" height="7.76" fill="#87f041"/>
<rect x="520.93" y="266.93" width="5.83" height="7.76" fill="#82ebfa"/>
<rect x="526.46" y="266.93" width="5.83" height="7.76" fill="#87f041"/>
<rect x="531.99" y="266.93" width="5.83" height="7.76" fill="#faeb32"/>
<rect x="537.52" y="266.93" width="5.83" height="7.76" fill="#dd0000"/>
<rect x="543.06" y="266.93" width="5.83" height="7.76" fill="#dd0000"/>
<rect x="548.59" y="266.93" width="5.83" height="7.76" fill="#dd0000"/>
<rect x="554.12" y="266.93" width="5.83" height="7.76" fill="#dd0000"/>
<rect x="559.66" y="266.93" width="5.83" height="7.76" fill="#dd0000"/>
<rect x="565.19" y="266.93" width="5.83" height="7.76" fill="#dd0000"/>
<rect x="570.72" y="266.93" width="5.83" height="7.76" fill="#dd0000"/>
<rect x="576.26" y="266.93" width="5.83" height="7.76" fill="#dd0000"/>
<rect x="581.79" y="266.93" width="5.83" height="7.76" fill="#dd0000"/>
<rect x="587.32" y="266.93" width="5.83" height="7.76" fill="#dd0000"/>
<rect x="592.86" y="266.93" width="5.83" height="7.76" fill="#dd0000"/>
<rect x="598.39" y="266.93" width="5.83" height="7.76" fill="#dd0000"/>
<rect x="603.92" y="266.93" width="5.83" height="7.76" fill="#dd0000"/>
<rect x="609.45" y="266.93" width="5.83" height="7.76" fill="#dd0000"/>
<rect x="614.99" y="266.93" width="5.83" height="7.76" fill="#dd0000"/>
<rect x="620.52" y="266.93" width="5.83" height="7.76" fill="#87f041"/>
<rect x="626.05" y="266.93" width="5.83" height="7.76" fill="#0a0af5"/>
<rect x="399.20" y="274.39" width="5.83" height="7.76" fill="#82ebfa"/>
<rect x="404.73" y="274.39" width="5.83" height="7.76" fill="#0a0af5"/>
<rect x="410.27" y="274.39" width="5.83" height="7.76" fill="#0a0af5"/>
<rect x="415.80" y="274.39" width="5.83" height="7.76" fill="#e6dc8c"/>
<rect x="421.33" y="274.39" width="5.83" height="7.76" fill="#dd0000"/>
<rect x="426.87" y="274.39" width="5.83" height="7.76" fill="#dd0000"/>
<rect x="432.40" y="274.39" width="5.83" height="7.76" fill="#dd0000"/>
<rect x="437.93" y="274.39" width="5.83" height="7.76" fill="#dd0000"/>
<rect x="443.46" y="274.39" width="5.83" height="7.76" fill="#dd0000"/>
<rect x="449" y="274.39" width="5.83" height="7.76" fill="#faeb32"/>
<rect x="454.53" y="274.39" width="5.83" height="7.76" fill="#faeb32"/>
<rect x="460.06" y="274.39" width="5.83" height="7.76" fill="#de4619"/>
<rect x="465.60" y="274.39" width="5.83" height="7.76" fill="#f0be32"/>
<rect x="471.13" y="274.39" width="5.83" height="7.76" fill="#f0be32"/>
<rect x="476.66" y="274.39" width="5.83" height="7.76" fill="#f0be32"/>
<rect x="482.19" y="274.39" width="5.83" height="7.76" fill="#e68728"/>
<rect x="487.73" y="274.39" width="5.83" height="7.76" fill="#f0be32"/>
<rect x="493.26" y="274.39" width="5.83" height="7.76" fill="#87f041"/>
<rect x="498.79" y="274.39" width="5.83" height="7.76" fill="#87f041"/>
<rect x="504.33" y="274.39" width="5.83" height="7.76" fill="#87f041"/>
<rect x="509.86" y="274.39" width="5.83" height="7.76" fill="#faeb32"/>
<rect x="515.39" y="274.39" width="5.83" height="7.76" fill="#faeb32"/>
<rect x="520.93" y="274.39" width="5.83" height="7.76" fill="#5faff5"/>
<rect x="526.46" y="274.39" width="5.83" height="7.76" fill="#82ebfa"/>
<rect x="531.99" y="274.39" width="5.83" height="7.76" fill="#faeb32"/>
<rect x="537.52" y="274.39" width="5.83" height="7.76" fill="#dd0000"/>
<rect x="543.06" y="274.39" width="5.83" height="7.76" fill="#dd0000"/>
<rect x="548.59" y="274.39" width="5.83" height="7.76" fill="#dd0000"/>
<rect x="554.12" y="274.39" width="5.83" height="7.76" fill="#dd0000"/>
<rect x="559.66" y="274.39" width="5.83" height="7.76" fill="#dd0000"/>
<rect x="565.19" y="274.39" width="5.83" height="7.76" fill="#dd0000"/>
<rect x="570.72" y="274.39" width="5.83" height="7.76" fill="#dd0000"/>
<rect x="576.26" y="274.39" width="5.83" height="7.76" fill="#dd0000"/>
<rect x="581.79" y="274.39" width="5.83" height="7.76" fill="#dd0000"/>
<rect x="587.32" y="274.39" width="5.83" height="7.76" fill="#dd0000"/>
<rect x="592.86" y="274.39" width="5.83" height="7.76" fill="#dd0000"/>
<rect x="598.39" y="274.39" width="5.83" height="7.76" fill="#dd0000"/>
<rect x="603.92" y="274.39" width="5.83" height="7.76" fill="#dd0000"/>
<rect x="609.45" y="274.39" width="5.83" height="7.76" fill="#dd0000"/>
<rect x="614.99" y="274.39" width="5.83" height="7.76" fill="#dd0000"/>
<rect x="620.52" y="274.39" width="5.83" height="7.76" fill="#dd0000"/>
<rect x="626.05" y="274.39" width="5.83" height="7.76" fill="#dd0000"/>
<rect x="399.20" y="281.85" width="5.83" height="7.76" fill="#de4619"/>
<rect x="404.73" y="281.85" width="5.83" height="7.76" fill="#0a0af5"/>
<rect x="410.27" y="281.85" width="5.83" height="7.76" fill="#5faff5"/>
<rect x="415.80" y="281.85" width="5.83" height="7.76" fill="#e68728"/>
<rect x="421.33" y="281.85" width="5.83" height="7.76" fill="#dd0000"/>
<rect x="426.87" y="281.85" width="5.83" height="7.76" fill="#dd0000"/>
<rect x="432.40" y="281.85" width="5.83" height="7.76" fill="#dd0000"/>
<rect x="437.93" y="281.85" width="5.83" height="7.76" fill="#dd0000"/>
<rect x="443.46" y="281.85" width="5.83" height="7.76" fill="#de4619"/>
<rect x="449" y="281.85" width="5.83" height="7.76" fill="#faeb32"/>
<rect x="454.53" y="281.85" width="5.83" height="7.76" fill="#faeb32"/>
<rect x="460.06" y="281.85" width="5.83" height="7.76" fill="#faeb32"/>
<rect x="465.60" y="281.85" width="5.83" height="7.76" fill="#e68728"/>
<rect x="471.13" y="281.85" width="5.83" height="7.76" fill="#e68728"/>
<rect x="476.66" y="281.85" width="5.83" height="7.76" fill="#faeb32"/>
<rect x="482.19" y="281.85" width="5.83" height="7.76" fill="#e6dc8c"/>
<rect x="487.73" y="281.85" width="5.83" height="7.76" fill="#a0d782"/>
<rect x="493.26" y="281.85" width="5.83" height="7.76" fill="#87f041"/>
<rect x="498.79" y="281.85" width="5.83" height="7.76" fill="#c3c3b9"/>
<rect x="504.33" y="281.85" width="5.83" height="7.76" fill="#87f041"/>
<rect x="509.86" y="281.85" width="5.83" height="7.76" fill="#87f041"/>
<rect x="515.39" y="281.85" width="5.83" height="7.76" fill="#a0d782"/>
<rect x="520.93" y="281.85" width="5.83" height="7.76" fill="#5faff5"/>
<rect x="526.46" y="281.85" width="5.83" height="7.76" fill="#82ebfa"/>
<rect x="531.99" y="281.85" width="5.83" height="7.76" fill="#faeb32"/>
<rect x="537.52" y="281.85" width="5.83" height="7.76" fill="#dd0000"/>
<rect x="543.06" y="281.85" width="5.83" height="7.76" fill="#dd0000"/>
<rect x="548.59" y="281.85" width="5.83" height="7.76" fill="#dd0000"/>
<rect x="554.12" y="281.85" width="5.83" height="7.76" fill="#dd0000"/>
<rect x="559.66" y="281.85" width="5.83" height="7.76" fill="#dd0000"/>
<rect x="565.19" y="281.85" width="5.83" height="7.76" fill="#dd0000"/>
<rect x="570.72" y="281.85" width="5.83" height="7.76" fill="#dd0000"/>
<rect x="576.26" y="281.85" width="5.83" height="7.76" fill="#dd0000"/>
<rect x="581.79" y="281.85" width="5.83" height="7.76" fill="#dd0000"/>
<rect x="587.32" y="281.85" width="5.83" height="7.76" fill="#dd0000"/>
<rect x="592.86" y="281.85" width="5.83" height="7.76" fill="#dd0000"/>
<rect x="598.39" y="281.85" width="5.83" height="7.76" fill="#e68728"/>
<rect x="603.92" y="281.85" width="5.83" height="7.76" fill="#de4619"/>
<rect x="609.45" y="281.85" width="5.83" height="7.76" fill="#c3c3b9"/>
<rect x="614.99" y="281.85" width="5.83" height="7.76" fill="#e68728"/>
<rect x="620.52" y="281.85" width="5.83" height="7.76" fill="#dd0000"/>
<rect x="626.05" y="281.85" width="5.83" height="7.76" fill="#dd0000"/>
<rect x="399.20" y="289.31" width="5.83" height="7.76" fill="#dd0000"/>
<rect x="404.73" y="289.31" width="5.83" height="7.76" fill="#0a0af5"/>
<rect x="410.27" y="289.31" width="5.83" height="7.76" fill="#a0d782"/>
<rect x="415.80" y="289.31" width="5.83" height="7.76" fill="#3c6ef0"/>
<rect x="421.33" y="289.31" width="5.83" height="7.76" fill="#faeb32"/>
<rect x="426.87" y="289.31" width="5.83" height="7.76" fill="#dd0000"/>
<rect x="432.40" y="289.31" width="5.83" height="7.76" fill="#e68728"/>
<rect x="437.93" y="289.31" width="5.83" height="7.76" fill="#f0be32"/>
<rect x="443.46" y="289.31" width="5.83" height="7.76" fill="#f0be32"/>
<rect x="449" y="289.31" width="5.83" height="7.76" fill="#e68728"/>
<rect x="454.53" y="289.31" width="5.83" height="7.76" fill="#e68728"/>
<rect x="460.06" y="289.31" width="5.83" height="7.76" fill="#e68728"/>
<rect x="465.60" y="289.31" width="5.83" height="7.76" fill="#e68728"/>
<rect x="471.13" y="289.31" width="5.83" height="7.76" fill="#f0be32"/>
<rect x="476.66" y="289.31" width="5.83" height="7.76" fill="#faeb32"/>
<rect x="482.19" y="289.31" width="5.83" height="7.76" fill="#c3c3b9"/>
<rect x="487.73" y="289.31" width="5.83" height="7.76" fill="#87f041"/>
<rect x="493.26" y="289.31" width="5.83" height="7.76" fill="#87f041"/>
<rect x="498.79" y="289.31" width="5.83" height="7.76" fill="#87f041"/>
<rect x="504.33" y="289.31" width="5.83" height="7.76" fill="#87f041"/>
<rect x="509.86" y="289.31" width="5.83" height="7.76" fill="#faeb32"/>
<rect x="515.39" y="289.31" width="5.83" height="7.76" fill="#87f041"/>
<rect x="520.93" y="289.31" width="5.83" height="7.76" fill="#5faff5"/>
<rect x="526.46" y="289.31" width="5.83" height="7.76" fill="#c3c3b9"/>
<rect x="531.99" y="289.31" width="5.83" height="7.76" fill="#f0be32"/>
<rect x="537.52" y="289.31" width="5.83" height="7.76" fill="#dd0000"/>
<rect x="543.06" y="289.31" width="5.83" height="7.76" fill="#dd0000"/>
<rect x="548.59" y="289.31" width="5.83" height="7.76" fill="#dd0000"/>
<rect x="554.12" y="289.31" width="5.83" height="7.76" fill="#dd0000"/>
<rect x="559.66" y="289.31" width="5.83" height="7.76" fill="#dd0000"/>
<rect x="565.19" y="289.31" width="5.83" height="7.76" fill="#dd0000"/>
<rect x="570.72" y="289.31" width="5.83" height="7.76" fill="#dd0000"/>
<rect x="576.26" y="289.31" width="5.83" height="7.76" fill="#dd0000"/>
<rect x="581.79" y="289.31" width="5.83" height="7.76" fill="#dd0000"/>
<rect x="587.32" y="289.31" width="5.83" height="7.76" fill="#dd0000"/>
<rect x="592.86" y="289.31" width="5.83" height="7.76" fill="#e68728"/>
<rect x="598.39" y="289.31" width="5.83" height="7.76" fill="#e68728"/>
<rect x="603.92" y="289.31" width="5.83" height="7.76" fill="#a0d782"/>
<rect x="609.45" y="289.31" width="5.83" height="7.76" fill="#0a0af5"/>
<rect x="614.99" y="289.31" width="5.83" height="7.76" fill="#0a0af5"/>
<rect x="620.52" y="289.31" width="5.83" height="7.76" fill="#de4619"/>
<rect x="626.05" y="289.31" width="5.83" height="7.76" fill="#f0be32"/>
<rect x="399.20" y="296.78" width="5.83" height="7.76" fill="#dd0000"/>
<rect x="404.73" y="296.78" width="5.83" height="7.76" fill="#5faff5"/>
<rect x="410.27" y="296.78" width="5.83" height="7.76" fill="#c3c3b9"/>
<rect x="415.80" y="296.78" width="5.83" height="7.76" fill="#82ebfa"/>
<rect x="421.33" y="296.78" width="5.83" height="7.76" fill="#5faff5"/>
<rect x="426.87" y="296.78" width="5.83" height="7.76" fill="#a0d782"/>
<rect x="432.40" y="296.78" width="5.83" height="7.76" fill="#87f041"/>
<rect x="437.93" y="296.78" width="5.83" height="7.76" fill="#87f041"/>
<rect x="443.46" y="296.78" width="5.83" height="7.76" fill="#faeb32"/>
<rect x="449" y="296.78" width="5.83" height="7.76" fill="#dd0000"/>
<rect x="454.53" y="296.78" width="5.83" height="7.76" fill="#dd0000"/>
<rect x="460.06" y="296.78" width="5.83" height="7.76" fill="#dd0000"/>
<rect x="465.60" y="296.78" width="5.83" height="7.76" fill="#e68728"/>
<rect x="471.13" y="296.78" width="5.83" height="7.76" fill="#f0be32"/>
<rect x="476.66" y="296.78" width="5.83" height="7.76" fill="#f0be32"/>
<rect x="482.19" y="296.78" width="5.83" height="7.76" fill="#f0be32"/>
<rect x="487.73" y="296.78" width="5.83" height="7.76" fill="#f0be32"/>
<rect x="493.26" y="296.78" width="5.83" height="7.76" fill="#f0be32"/>
<rect x="498.79" y="296.78" width="5.83" height="7.76" fill="#faeb32"/>
<rect x="504.33" y="296.78" width="5.83" height="7.76" fill="#e6dc8c"/>
<rect x="509.86" y="296.78" width="5.83" height="7.76" fill="#f0be32"/>
<rect x="515.39" y="296.78" width="5.83" height="7.76" fill="#faeb32"/>
<rect x="520.93" y="296.78" width="5.83" height="7.76" fill="#c3c3b9"/>
<rect x="526.46" y="296.78" width="5.83" height="7.76" fill="#e6dc8c"/>
<rect x="531.99" y="296.78" width="5.83" height="7.76" fill="#f0be32"/>
<rect x="537.52" y="296.78" width="5.83" height="7.76" fill="#de4619"/>
<rect x="543.06" y="296.78" width="5.83" height="7.76" fill="#dd0000"/>
<rect x="548.59" y="296.78" width="5.83" height="7.76" fill="#dd0000"/>
<rect x="554.12" y="296.78" width="5.83" height="7.76" fill="#dd0000"/>
<rect x="559.66" y="296.78" width="5.83" height="7.76" fill="#dd0000"/>
<rect x="565.19" y="296.78" width="5.83" height="7.76" fill="#dd0000"/>
<rect x="570.72" y="296.78" width="5.83" height="7.76" fill="#dd0000"/>
<rect x="576.26" y="296.78" width="5.83" height="7.76" fill="#faeb32"/>
<rect x="581.79" y="296.78" width="5.83" height="7.76" fill="#faeb32"/>
<rect x="587.32" y="296.78" width="5.83" height="7.76" fill="#e6dc8c"/>
<rect x="592.86" y="296.78" width="5.83" height="7.76" fill="#faeb32"/>
<rect x="598.39" y="296.78" width="5.83" height="7.76" fill="#dd0000"/>
<rect x="603.92" y="296.78" width="5.83" height="7.76" fill="#faeb32"/>
<rect x="609.45" y="296.78" width="5.83" height="7.76" fill="#82ebfa"/>
<rect x="614.99" y="296.78" width="5.83" height="7.76" fill="#e6dc8c"/>
<rect x="620.52" y="296.78" width="5.83" height="7.76" fill="#dd0000"/>
<rect x="626.05" y="296.78" width="5.83" height="7.76" fill="#dd0000"/>
<rect x="399.20" y="304.24" width="5.83" height="7.76" fill="#faeb32"/>
<rect x="404.73" y="304.24" width="5.83" height="7.76" fill="#c3c3b9"/>
<rect x="410.27" y="304.24" width="5.83" height="7.76" fill="#faeb32"/>
<rect x="415.80" y="304.24" width="5.83" height="7.76" fill="#c3c3b9"/>
<rect x="421.33" y="304.24" width="5.83" height="7.76" fill="#a0d782"/>
<rect x="426.87" y="304.24" width="5.83" height="7.76" fill="#3c6ef0"/>
<rect x="432.40" y="304.24" width="5.83" height="7.76" fill="#0a0af5"/>
<rect x="437.93" y="304.24" width="5.83" height="7.76" fill="#87f041"/>
<rect x="443.46" y="304.24" width="5.83" height="7.76" fill="#faeb32"/>
<rect x="449" y="304.24" width="5.83" height="7.76" fill="#dd0000"/>
<rect x="454.53" y="304.24" width="5.83" height="7.76" fill="#dd0000"/>
<rect x="460.06" y="304.24" width="5.83" height="7.76" fill="#e68728"/>
<rect x="465.60" y="304.24" width="5.83" height="7.76" fill="#f0be32"/>
<rect x="471.13" y="304.24" width="5.83" height="7.76" fill="#f0be32"/>
<rect x="476.66" y="304.24" width="5.83" height="7.76" fill="#f0be32"/>
<rect x="482.19" y="304.24" width="5.83" height="7.76" fill="#f0be32"/>
<rect x="487.73" y="304.24" width="5.83" height="7.76" fill="#faeb32"/>
<rect x="493.26" y="304.24" width="5.83" height="7.76" fill="#faeb32"/>
<rect x="498.79" y="304.24" width="5.83" height="7.76" fill="#faeb32"/>
<rect x="504.33" y="304.24" width="5.83" height="7.76" fill="#e6dc8c"/>
<rect x="509.86" y="304.24" width="5.83" height="7.76" fill="#c3c3b9"/>
<rect x="515.39" y="304.24" width="5.83" height="7.76" fill="#faeb32"/>
<rect x="520.93" y="304.24" width="5.83" height="7.76" fill="#faeb32"/>
<rect x="526.46" y="304.24" width="5.83" height="7.76" fill="#faeb32"/>
<rect x="531.99" y="304.24" width="5.83" height="7.76" fill="#faeb32"/>
<rect x="537.52" y="304.24" width="5.83" height="7.76" fill="#f0be32"/>
<rect x="543.06" y="304.24" width="5.83" height="7.76" fill="#f0be32"/>
<rect x="548.59" y="304.24" width="5.83" height="7.76" fill="#f0be32"/>
<rect x="554.12" y="304.24" width="5.83" height="7.76" fill="#e68728"/>
<rect x="559.66" y="304.24" width="5.83" height="7.76" fill="#de4619"/>
<rect x="565.19" y="304.24" width="5.83" height="7.76" fill="#de4619"/>
<rect x="570.72" y="304.24" width="5.83" height="7.76" fill="#faeb32"/>
<rect x="576.26" y="304.24" width="5.83" height="7.76" fill="#a0d782"/>
<rect x="581.79" y="304.24" width="5.83" height="7.76" fill="#a0d782"/>
<rect x="587.32" y="304.24" width="5.83" height="7.76" fill="#e6dc8c"/>
<rect x="592.86" y="304.24" width="5.83" height="7.76" fill="#e68728"/>
<rect x="598.39" y="304.24" width="5.83" height="7.76" fill="#dd0000"/>
<rect x="603.92" y="304.24" width="5.83" height="7.76" fill="#dd0000"/>
<rect x="609.45" y="304.24" width="5.83" height="7.76" fill="#faeb32"/>
<rect x="614.99" y="304.24" width="5.83" height="7.76" fill="#e6dc8c"/>
<rect x="620.52" y="304.24" width="5.83" height="7.76" fill="#f0be32"/>
<rect x="626.05" y="304.24" width="5.83" height="7.76" fill="#de4619"/>
<rect x="399.20" y="311.70" width="5.83" height="7.76" fill="#0a0af5"/>
<rect x="404.73" y="311.70" width="5.83" height="7.76" fill="#0a0af5"/>
<rect x="410.27" y="311.70" width="5.83" height="7.76" fill="#82ebfa"/>
<rect x="415.80" y="311.70" width="5.83" height="7.76" fill="#82ebfa"/>
<rect x="421.33" y="311.70" width="5.83" height="7.76" fill="#5faff5"/>
<rect x="426.87" y="311.70" width="5.83" height="7.76" fill="#3c6ef0"/>
<rect x="432.40" y="311.70" width="5.83" height="7.76" fill="#0a0af5"/>
<rect x="437.93" y="311.70" width="5.83" height="7.76" fill="#87f041"/>
<rect x="443.46" y="311.70" width="5.83" height="7.76" fill="#87f041"/>
<rect x="449" y="311.70" width="5.83" height="7.76" fill="#c3c3b9"/>
<rect x="454.53" y="311.70" width="5.83" height="7.76" fill="#82ebfa"/>
<rect x="460.06" y="311.70" width="5.83" height="7.76" fill="#82ebfa"/>
<rect x="465.60" y="311.70" width="5.83" height="7.76" fill="#87f041"/>
<rect x="471.13" y="311.70" width="5.83" height="7.76" fill="#87f041"/>
<rect x="476.66" y="311.70" width="5.83" height="7.76" fill="#87f041"/>
<rect x="482.19" y="311.70" width="5.83" height="7.76" fill="#87f041"/>
<rect x="487.73" y="311.70" width="5.83" height="7.76" fill="#87f041"/>
<rect x="493.26" y="311.70" width="5.83" height="7.76" fill="#87f041"/>
<rect x="498.79" y="311.70" width="5.83" height="7.76" fill="#faeb32"/>
<rect x="504.33" y="311.70" width="5.83" height="7.76" fill="#faeb32"/>
<rect x="509.86" y="311.70" width="5.83" height="7.76" fill="#e6dc8c"/>
<rect x="515.39" y="311.70" width="5.83" height="7.76" fill="#f0be32"/>
<rect x="520.93" y="311.70" width="5.83" height="7.76" fill="#f0be32"/>
<rect x="526.46" y="311.70" width="5.83" height="7.76" fill="#e6dc8c"/>
<rect x="531.99" y="311.70" width="5.83" height="7.76" fill="#e6dc8c"/>
<rect x="537.52" y="311.70" width="5.83" height="7.76" fill="#c3c3b9"/>
<rect x="543.06" y="311.70" width="5.83" height="7.76" fill="#c3c3b9"/>
<rect x="548.59" y="311.70" width="5.83" height="7.76" fill="#87f041"/>
<rect x="554.12" y="311.70" width="5.83" height="7.76" fill="#87f041"/>
<rect x="559.66" y="311.70" width="5.83" height="7.76" fill="#87f041"/>
<rect x="565.19" y="311.70" width="5.83" height="7.76" fill="#87f041"/>
<rect x="570.72" y="311.70" width="5.83" height="7.76" fill="#0a0af5"/>
<rect x="576.26" y="311.70" width="5.83" height="7.76" fill="#0a0af5"/>
<rect x="581.79" y="311.70" width="5.83" height="7.76" fill="#0a0af5"/>
<rect x="587.32" y="311.70" width="5.83" height="7.76" fill="#5faff5"/>
<rect x="592.86" y="311.70" width="5.83" height="7.76" fill="#e6dc8c"/>
<rect x="598.39" y="311.70" width="5.83" height="7.76" fill="#5faff5"/>
<rect x="603.92" y="311.70" width="5.83" height="7.76" fill="#3c6ef0"/>
<rect x="609.45" y="311.70" width="5.83" height="7.76" fill="#c3c3b9"/>
<rect x="614.99" y="311.70" width="5.83" height="7.76" fill="#faeb32"/>
<rect x="620.52" y="311.70" width="5.83" height="7.76" fill="#f0be32"/>
<rect x="626.05" y="311.70" width="5.83" height="7.76" fill="#e6dc8c"/>
<rect x="399.20" y="319.17" width="5.83" height="7.76" fill="#0a0af5"/>
<rect x="404.73" y="319.17" width="5.83" height="7.76" fill="#0a0af5"/>
<rect x="410.27" y="319.17" width="5.83" height="7.76" fill="#0a0af5"/>
<rect x="415.80" y="319.17" width="5.83" height="7.76" fill="#0a0af5"/>
<rect x="421.33" y="319.17" width="5.83" height="7.76" fill="#0a0af5"/>
<rect x="426.87" y="319.17" width="5.83" height="7.76" fill="#0a0af5"/>
<rect x="432.40" y="319.17" width="5.83" height="7.76" fill="#0a0af5"/>
<rect x="437.93" y="319.17" width="5.83" height="7.76" fill="#0a0af5"/>
<rect x="443.46" y="319.17" width="5.83" height="7.76" fill="#0a0af5"/>
<rect x="449" y="319.17" width="5.83" height="7.76" fill="#0a0af5"/>
<rect x="454.53" y="319.17" width="5.83" height="7.76" fill="#0a0af5"/>
<rect x="460.06" y="319.17" width="5.83" height="7.76" fill="#0a0af5"/>
<rect x="465.60" y="319.17" width="5.83" height="7.76" fill="#0a0af5"/>
<rect x="471.13" y="319.17" width="5.83" height="7.76" fill="#0a0af5"/>
<rect x="476.66" y="319.17" width="5.83" height="7.76" fill="#3c6ef0"/>
<rect x="482.19" y="319.17" width="5.83" height="7.76" fill="#5faff5"/>
<rect x="487.73" y="319.17" width="5.83" height="7.76" fill="#82ebfa"/>
<rect x="493.26" y="319.17" width="5.83" height="7.76" fill="#87f041"/>
<rect x="498.79" y="319.17" width="5.83" height="7.76" fill="#faeb32"/>
<rect x="504.33" y="319.17" width="5.83" height="7.76" fill="#faeb32"/>
<rect x="509.86" y="319.17" width="5.83" height="7.76" fill="#faeb32"/>
<rect x="515.39" y="319.17" width="5.83" height="7.76" fill="#f0be32"/>
<rect x="520.93" y="319.17" width="5.83" height="7.76" fill="#a0d782"/>
<rect x="526.46" y="319.17" width="5.83" height="7.76" fill="#faeb32"/>
<rect x="531.99" y="319.17" width="5.83" height="7.76" fill="#e6dc8c"/>
<rect x="537.52" y="319.17" width="5.83" height="7.76" fill="#82ebfa"/>
<rect x="543.06" y="319.17" width="5.83" height="7.76" fill="#5faff5"/>
<rect x="548.59" y="319.17" width="5.83" height="7.76" fill="#3c6ef0"/>
<rect x="554.12" y="319.17" width="5.83" height="7.76" fill="#3c6ef0"/>
<rect x="559.66" y="319.17" width="5.83" height="7.76" fill="#0a0af5"/>
<rect x="565.19" y="319.17" width="5.83" height="7.76" fill="#0a0af5"/>
<rect x="570.72" y="319.17" width="5.83" height="7.76" fill="#0a0af5"/>
<rect x="576.26" y="319.17" width="5.83" height="7.76" fill="#0a0af5"/>
<rect x="581.79" y="319.17" width="5.83" height="7.76" fill="#0a0af5"/>
<rect x="587.32" y="319.17" width="5.83" height="7.76" fill="#0a0af5"/>
<rect x="592.86" y="319.17" width="5.83" height="7.76" fill="#0a0af5"/>
<rect x="598.39" y="319.17" width="5.83" height="7.76" fill="#0a0af5"/>
<rect x="603.92" y="319.17" width="5.83" height="7.76" fill="#0a0af5"/>
<rect x="609.45" y="319.17" width="5.83" height="7.76" fill="#0a0af5"/>
<rect x="614.99" y="319.17" width="5.83" height="7.76" fill="#0a0af5"/>
<rect x="620.52" y="319.17" width="5.83" height="7.76" fill="#0a0af5"/>
<rect x="626.05" y="319.17" width="5.83" height="7.76" fill="#0a0af5"/>
<rect x="399.20" y="326.63" width="5.83" height="7.76" fill="#0a0af5"/>
<rect x="404.73" y="326.63" width="5.83" height="7.76" fill="#0a0af5"/>
<rect x="410.27" y="326.63" width="5.83" height="7.76" fill="#0a0af5"/>
<rect x="415.80" y="326.63" width="5.83" height="7.76" fill="#0a0af5"/>
<rect x="421.33" y="326.63" width="5.83" height="7.76" fill="#0a0af5"/>
<rect x="426.87" y="326.63" width="5.83" height="7.76" fill="#0a0af5"/>
<rect x="432.40" y="326.63" width="5.83" height="7.76" fill="#0a0af5"/>
<rect x="437.93" y="326.63" width="5.83" height="7.76" fill="#0a0af5"/>
<rect x="443.46" y="326.63" width="5.83" height="7.76" fill="#0a0af5"/>
<rect x="449" y="326.63" width="5.83" height="7.76" fill="#0a0af5"/>
<rect x="454.53" y="326.63" width="5.83" height="7.76" fill="#0a0af5"/>
<rect x="460.06" y="326.63" width="5.83" height="7.76" fill="#0a0af5"/>
<rect x="465.60" y="326.63" width="5.83" height="7.76" fill="#0a0af5"/>
<rect x="471.13" y="326.63" width="5.83" height="7.76" fill="#0a0af5"/>
<rect x="476.66" y="326.63" width="5.83" height="7.76" fill="#0a0af5"/>
<rect x="482.19" y="326.63" width="5.83" height="7.76" fill="#0a0af5"/>
<rect x="487.73" y="326.63" width="5.83" height="7.76" fill="#5faff5"/>
<rect x="493.26" y="326.63" width="5.83" height="7.76" fill="#87f041"/>
<rect x="498.79" y="326.63" width="5.83" height="7.76" fill="#87f041"/>
<rect x="504.33" y="326.63" width="5.83" height="7.76" fill="#a0d782"/>
<rect x="509.86" y="326.63" width="5.83" height="7.76" fill="#faeb32"/>
<rect x="515.39" y="326.63" width="5.83" height="7.76" fill="#faeb32"/>
<rect x="520.93" y="326.63" width="5.83" height="7.76" fill="#c3c3b9"/>
<rect x="526.46" y="326.63" width="5.83" height="7.76" fill="#c3c3b9"/>
<rect x="531.99" y="326.63" width="5.83" height="7.76" fill="#c3c3b9"/>
<rect x="537.52" y="326.63" width="5.83" height="7.76" fill="#87f041"/>
<rect x="543.06" y="326.63" width="5.83" height="7.76" fill="#82ebfa"/>
<rect x="548.59" y="326.63" width="5.83" height="7.76" fill="#3c6ef0"/>
<rect x="554.12" y="326.63" width="5.83" height="7.76" fill="#0a0af5"/>
<rect x="559.66" y="326.63" width="5.83" height="7.76" fill="#0a0af5"/>
<rect x="565.19" y="326.63" width="5.83" height="7.76" fill="#0a0af5"/>
<rect x="570.72" y="326.63" width="5.83" height="7.76" fill="#0a0af5"/>
<rect x="576.26" y="326.63" width="5.83" height="7.76" fill="#0a0af5"/>
<rect x="581.79" y="326.63" width="5.83" height="7.76" fill="#0a0af5"/>
<rect x="587.32" y="326.63" width="5.83" height="7.76" fill="#0a0af5"/>
<rect x="592.86" y="326.63" width="5.83" height="7.76" fill="#0a0af5"/>
<rect x="598.39" y="326.63" width="5.83" height="7.76" fill="#0a0af5"/>
<rect x="603.92" y="326.63" width="5.83" height="7.76" fill="#0a0af5"/>
<rect x="609.45" y="326.63" width="5.83" height="7.76" fill="#0a0af5"/>
<rect x="614.99" y="326.63" width="5.83" height="7.76" fill="#0a0af5"/>
<rect x="620.52" y="326.63" width="5.83" height="7.76" fill="#0a0af5"/>
<rect x="626.05" y="326.63" width="5.83" height="7.76" fill="#0a0af5"/>
<rect x="399.20" y="334.09" width="5.83" height="7.76" fill="#0a0af5"/>
<rect x="404.73" y="334.09" width="5.83" height="7.76" fill="#0a0af5"/>
<rect x="410.27" y="334.09" width="5.83" height="7.76" fill="#0a0af5"/>
<rect x="415.80" y="334.09" width="5.83" height="7.76" fill="#0a0af5"/>
<rect x="421.33" y="334.09" width="5.83" height="7.76" fill="#0a0af5"/>
<rect x="426.87" y="334.09" width="5.83" height="7.76" fill="#0a0af5"/>
<rect x="432.40" y="334.09" width="5.83" height="7.76" fill="#0a0af5"/>
<rect x="437.93" y="334.09" width="5.83" height="7.76" fill="#0a0af5"/>
<rect x="443.46" y="334.09" width="5.83" height="7.76" fill="#0a0af5"/>
<rect x="449" y="334.09" width="5.83" height="7.76" fill="#0a0af5"/>
<rect x="454.53" y="334.09" width="5.83" height="7.76" fill="#0a0af5"/>
<rect x="460.06" y="334.09" width="5.83" height="7.76" fill="#0a0af5"/>
<rect x="465.60" y="334.09" width="5.83" height="7.76" fill="#0a0af5"/>
<rect x="471.13" y="334.09" width="5.83" height="7.76" fill="#0a0af5"/>
<rect x="476.66" y="334.09" width="5.83" height="7.76" fill="#0a0af5"/>
<rect x="482.19" y="334.09" width="5.83" height="7.76" fill="#0a0af5"/>
<rect x="487.73" y="334.09" width="5.83" height="7.76" fill="#3c6ef0"/>
<rect x="493.26" y="334.09" width="5.83" height="7.76" fill="#82ebfa"/>
<rect x="498.79" y="334.09" width="5.83" height="7.76" fill="#87f041"/>
<rect x="504.33" y="334.09" width="5.83" height="7.76" fill="#87f041"/>
<rect x="509.86" y="334.09" width="5.83" height="7.76" fill="#e6dc8c"/>
<rect x="515.39" y="334.09" width="5.83" height="7.76" fill="#a0d782"/>
<rect x="520.93" y="334.09" width="5.83" height="7.76" fill="#faeb32"/>
<rect x="526.46" y="334.09" width="5.83" height="7.76" fill="#faeb32"/>
<rect x="531.99" y="334.09" width="5.83" height="7.76" fill="#87f041"/>
<rect x="537.52" y="334.09" width="5.83" height="7.76" fill="#82ebfa"/>
<rect x="543.06" y="334.09" width="5.83" height="7.76" fill="#5faff5"/>
<rect x="548.59" y="334.09" width="5.83" height="7.76" fill="#0a0af5"/>
<rect x="554.12" y="334.09" width="5.83" height="7.76" fill="#0a0af5"/>
<rect x="559.66" y="334.09" width="5.83" height="7.76" fill="#0a0af5"/>
<rect x="565.19" y="334.09" width="5.83" height="7.76" fill="#0a0af5"/>
<rect x="570.72" y="334.09" width="5.83" height="7.76" fill="#0a0af5"/>
<rect x="576.26" y="334.09" width="5.83" height="7.76" fill="#0a0af5"/>
<rect x="581.79" y="334.09" width="5.83" height="7.76" fill="#0a0af5"/>
<rect x="587.32" y="334.09" width="5.83" height="7.76" fill="#0a0af5"/>
<rect x="592.86" y="334.09" width="5.83" height="7.76" fill="#0a0af5"/>
<rect x="598.39" y="334.09" width="5.83" height="7.76" fill="#0a0af5"/>
<rect x="603.92" y="334.09" width="5.83" height="7.76" fill="#0a0af5"/>
<rect x="609.45" y="334.09" width="5.83" height="7.76" fill="#0a0af5"/>
<rect x="614.99" y="334.09" width="5.83" height="7.76" fill="#0a0af5"/>
<rect x="620.52" y="334.09" width="5.83" height="7.76" fill="#0a0af5"/>
<rect x="626.05" y="334.09" width="5.83" height="7.76" fill="#0a0af5"/>
<rect x="399.20" y="341.56" width="5.83" height="7.76" fill="#0a0af5"/>
<rect x="404.73" y="341.56" width="5.83" height="7.76" fill="#0a0af5"/>
<rect x="410.27" y="341.56" width="5.83" height="7.76" fill="#0a0af5"/>
<rect x="415.80" y="341.56" width="5.83" height="7.76" fill="#0a0af5"/>
<rect x="421.33" y="341.56" width="5.83" height="7.76" fill="#0a0af5"/>
<rect x="426.87" y="341.56" width="5.83" height="7.76" fill="#0a0af5"/>
<rect x="432.40" y="341.56" width="5.83" height="7.76" fill="#0a0af5"/>
<rect x="437.93" y="341.56" width="5.83" height="7.76" fill="#0a0af5"/>
<rect x="443.46" y="341.56" width="5.83" height="7.76" fill="#0a0af5"/>
<rect x="449" y="341.56" width="5.83" height="7.76" fill="#0a0af5"/>
<rect x="454.53" y="341.56" width="5.83" height="7.76" fill="#0a0af5"/>
<rect x="460.06" y="341.56" width="5.83" height="7.76" fill="#0a0af5"/>
<rect x="465.60" y="341.56" width="5.83" height="7.76" fill="#0a0af5"/>
<rect x="471.13" y="341.56" width="5.83" height="7.76" fill="#0a0af5"/>
<rect x="476.66" y="341.56" width="5.83" height="7.76" fill="#0a0af5"/>
<rect x="482.19" y="341.56" width="5.83" height="7.76" fill="#0a0af5"/>
<rect x="487.73" y="341.56" width="5.83" height="7.76" fill="#3c6ef0"/>
<rect x="493.26" y="341.56" width="5.83" height="7.76" fill="#5faff5"/>
<rect x="498.79" y="341.56" width="5.83" height="7.76" fill="#87f041"/>
<rect x="504.33" y="341.56" width="5.83" height="7.76" fill="#faeb32"/>
<rect x="509.86" y="341.56" width="5.83" height="7.76" fill="#f0be32"/>
<rect x="515.39" y="341.56" width="5.83" height="7.76" fill="#faeb32"/>
<rect x="520.93" y="341.56" width="5.83" height="7.76" fill="#c3c3b9"/>
<rect x="526.46" y="341.56" width="5.83" height="7.76" fill="#c3c3b9"/>
<rect x="531.99" y="341.56" width="5.83" height="7.76" fill="#82ebfa"/>
<rect x="537.52" y="341.56" width="5.83" height="7.76" fill="#5faff5"/>
<rect x="543.06" y="341.56" width="5.83" height="7.76" fill="#3c6ef0"/>
<rect x="548.59" y="341.56" width="5.83" height="7.76" fill="#0a0af5"/>
<rect x="554.12" y="341.56" width="5.83" height="7.76" fill="#0a0af5"/>
<rect x="559.66" y="341.56" width="5.83" height="7.76" fill="#0a0af5"/>
<rect x="565.19" y="341.56" width="5.83" height="7.76" fill="#0a0af5"/>
<rect x="570.72" y="341.56" width="5.83" height="7.76" fill="#0a0af5"/>
<rect x="576.26" y="341.56" width="5.83" height="7.76" fill="#0a0af5"/>
<rect x="581.79" y="341.56" width="5.83" height="7.76" fill="#0a0af5"/>
<rect x="587.32" y="341.56" width="5.83" height="7.76" fill="#0a0af5"/>
<rect x="592.86" y="341.56" width="5.83" height="7.76" fill="#0a0af5"/>
<rect x="598.39" y="341.56" width="5.83" height="7.76" fill="#0a0af5"/>
<rect x="603.92" y="341.56" width="5.83" height="7.76" fill="#0a0af5"/>
<rect x="609.45" y="341.56" width="5.83" height="7.76" fill="#0a0af5"/>
<rect x="614.99" y="341.56" width="5.83" height="7.76" fill="#0a0af5"/>
<rect x="620.52" y="341.56" width="5.83" height="7.76" fill="#0a0af5"/>
<rect x="626.05" y="341.56" width="5.83" height="7.76" fill="#0a0af5"/>
<rect x="399.20" y="349.02" width="5.83" height="7.76" fill="#0a0af5"/>
<rect x="404.73" y="349.02" width="5.83" height="7.76" fill="#3c6ef0"/>
<rect x="410.27" y="349.02" width="5.83" height="7.76" fill="#0a0af5"/>
<rect x="415.80" y="349.02" width="5.83" height="7.76" fill="#0a0af5"/>
<rect x="421.33" y="349.02" width="5.83" height="7.76" fill="#0a0af5"/>
<rect x="426.87" y="349.02" width="5.83" height="7.76" fill="#0a0af5"/>
<rect x="432.40" y="349.02" width="5.83" height="7.76" fill="#0a0af5"/>
<rect x="437.93" y="349.02" width="5.83" height="7.76" fill="#0a0af5"/>
<rect x="443.46" y="349.02" width="5.83" height="7.76" fill="#0a0af5"/>
<rect x="449" y="349.02" width="5.83" height="7.76" fill="#0a0af5"/>
<rect x="454.53" y="349.02" width="5.83" height="7.76" fill="#0a0af5"/>
<rect x="460.06" y="349.02" width="5.83" height="7.76" fill="#0a0af5"/>
<rect x="465.60" y="349.02" width="5.83" height="7.76" fill="#0a0af5"/>
<rect x="471.13" y="349.02" width="5.83" height="7.76" fill="#0a0af5"/>
<rect x="476.66" y="349.02" width="5.83" height="7.76" fill="#0a0af5"/>
<rect x="482.19" y="349.02" width="5.83" height="7.76" fill="#0a0af5"/>
<rect x="487.73" y="349.02" width="5.83" height="7.76" fill="#3c6ef0"/>
<rect x="493.26" y="349.02" width="5.83" height="7.76" fill="#5faff5"/>
<rect x="498.79" y="349.02" width="5.83" height="7.76" fill="#82ebfa"/>
<rect x="504.33" y="349.02" width="5.83" height="7.76" fill="#82ebfa"/>
<rect x="509.86" y="349.02" width="5.83" height="7.76" fill="#82ebfa"/>
<rect x="515.39" y="349.02" width="5.83" height="7.76" fill="#87f041"/>
<rect x="520.93" y="349.02" width="5.83" height="7.76" fill="#82ebfa"/>
<rect x="526.46" y="349.02" width="5.83" height="7.76" fill="#82ebfa"/>
<rect x="531.99" y="349.02" width="5.83" height="7.76" fill="#5faff5"/>
<rect x="537.52" y="349.02" width="5.83" height="7.76" fill="#5faff5"/>
<rect x="543.06" y="349.02" width="5.83" height="7.76" fill="#3c6ef0"/>
<rect x="548.59" y="349.02" width="5.83" height="7.76" fill="#0a0af5"/>
<rect x="554.12" y="349.02" width="5.83" height="7.76" fill="#0a0af5"/>
<rect x="559.66" y="349.02" width="5.83" height="7.76" fill="#0a0af5"/>
<rect x="565.19" y="349.02" width="5.83" height="7.76" fill="#0a0af5"/>
<rect x="570.72" y="349.02" width="5.83" height="7.76" fill="#0a0af5"/>
<rect x="576.26" y="349.02" width="5.83" height="7.76" fill="#0a0af5"/>
<rect x="581.79" y="349.02" width="5.83" height="7.76" fill="#0a0af5"/>
<rect x="587.32" y="349.02" width="5.83" height="7.76" fill="#0a0af5"/>
<rect x="592.86" y="349.02" width="5.83" height="7.76" fill="#87f041"/>
<rect x="598.39" y="349.02" width="5.83" height="7.76" fill="#c3c3b9"/>
<rect x="603.92" y="349.02" width="5.83" height="7.76" fill="#0a0af5"/>
<rect x="609.45" y="349.02" width="5.83" height="7.76" fill="#0a0af5"/>
<rect x="614.99" y="349.02" width="5.83" height="7.76" fill="#0a0af5"/>
<rect x="620.52" y="349.02" width="5.83" height="7.76" fill="#87f041"/>
<rect x="626.05" y="349.02" width="5.83" height="7.76" fill="#82ebfa"/>
<rect x="399.20" y="356.48" width="5.83" height="7.76" fill="#82ebfa"/>
<rect x="404.73" y="356.48" width="5.83" height="7.76" fill="#0a0af5"/>
<rect x="410.27" y="356.48" width="5.83" height="7.76" fill="#3c6ef0"/>
<rect x="415.80" y="356.48" width="5.83" height="7.76" fill="#87f041"/>
<rect x="421.33" y="356.48" width="5.83" height="7.76" fill="#a0d782"/>
<rect x="426.87" y="356.48" width="5.83" height="7.76" fill="#f0be32"/>
<rect x="432.40" y="356.48" width="5.83" height="7.76" fill="#0a0af5"/>
<rect x="437.93" y="356.48" width="5.83" height="7.76" fill="#5faff5"/>
<rect x="443.46" y="356.48" width="5.83" height="7.76" fill="#3c6ef0"/>
<rect x="449" y="356.48" width="5.83" height="7.76" fill="#0a0af5"/>
<rect x="454.53" y="356.48" width="5.83" height="7.76" fill="#0a0af5"/>
<rect x="460.06" y="356.48" width="5.83" height="7.76" fill="#0a0af5"/>
<rect x="465.60" y="356.48" width="5.83" height="7.76" fill="#0a0af5"/>
<rect x="471.13" y="356.48" width="5.83" height="7.76" fill="#0a0af5"/>
<rect x="476.66" y="356.48" width="5.83" height="7.76" fill="#0a0af5"/>
<rect x="482.19" y="356.48" width="5.83" height="7.76" fill="#0a0af5"/>
<rect x="487.73" y="356.48" width="5.83" height="7.76" fill="#5faff5"/>
<rect x="493.26" y="356.48" width="5.83" height="7.76" fill="#87f041"/>
<rect x="498.79" y="356.48" width="5.83" height="7.76" fill="#87f041"/>
<rect x="504.33" y="356.48" width="5.83" height="7.76" fill="#87f041"/>
<rect x="509.86" y="356.48" width="5.83" height="7.76" fill="#82ebfa"/>
<rect x="515.39" y="356.48" width="5.83" height="7.76" fill="#82ebfa"/>
<rect x="520.93" y="356.48" width="5.83" height="7.76" fill="#a0d782"/>
<rect x="526.46" y="356.48" width="5.83" height="7.76" fill="#a0d782"/>
<rect x="531.99" y="356.48" width="5.83" height="7.76" fill="#82ebfa"/>
<rect x="537.52" y="356.48" width="5.83" height="7.76" fill="#82ebfa"/>
<rect x="543.06" y="356.48" width="5.83" height="7.76" fill="#3c6ef0"/>
<rect x="548.59" y="356.48" width="5.83" height="7.76" fill="#0a0af5"/>
<rect x="554.12" y="356.48" width="5.83" height="7.76" fill="#0a0af5"/>
<rect x="559.66" y="356.48" width="5.83" height="7.76" fill="#0a0af5"/>
<rect x="565.19" y="356.48" width="5.83" height="7.76" fill="#0a0af5"/>
<rect x="570.72" y="356.48" width="5.83" height="7.76" fill="#0a0af5"/>
<rect x="576.26" y="356.48" width="5.83" height="7.76" fill="#0a0af5"/>
<rect x="581.79" y="356.48" width="5.83" height="7.76" fill="#0a0af5"/>
<rect x="587.32" y="356.48" width="5.83" height="7.76" fill="#5faff5"/>
<rect x="592.86" y="356.48" width="5.83" height="7.76" fill="#0a0af5"/>
<rect x="598.39" y="356.48" width="5.83" height="7.76" fill="#0a0af5"/>
<rect x="603.92" y="356.48" width="5.83" height="7.76" fill="#3c6ef0"/>
<rect x="609.45" y="356.48" width="5.83" height="7.76" fill="#0a0af5"/>
<rect x="614.99" y="356.48" width="5.83" height="7.76" fill="#0a0af5"/>
<rect x="620.52" y="356.48" width="5.83" height="7.76" fill="#87f041"/>
<rect x="626.05" y="356.48" width="5.83" height="7.76" fill="#de4619"/>
<rect x="399.20" y="363.94" width="5.83" height="7.76" fill="#de4619"/>
<rect x="404.73" y="363.94" width="5.83" height="7.76" fill="#f0be32"/>
<rect x="410.27" y="363.94" width="5.83" height="7.76" fill="#faeb32"/>
<rect x="415.80" y="363.94" width="5.83" height="7.76" fill="#e68728"/>
<rect x="421.33" y="363.94" width="5.83" height="7.76" fill="#faeb32"/>
<rect x="426.87" y="363.94" width="5.83" height="7.76" fill="#87f041"/>
<rect x="432.40" y="363.94" width="5.83" height="7.76" fill="#3c6ef0"/>
<rect x="437.93" y="363.94" width="5.83" height="7.76" fill="#5faff5"/>
<rect x="443.46" y="363.94" width="5.83" height="7.76" fill="#0a0af5"/>
<rect x="449" y="363.94" width="5.83" height="7.76" fill="#0a0af5"/>
<rect x="454.53" y="363.94" width="5.83" height="7.76" fill="#0a0af5"/>
<rect x="460.06" y="363.94" width="5.83" height="7.76" fill="#0a0af5"/>
<rect x="465.60" y="363.94" width="5.83" height="7.76" fill="#0a0af5"/>
<rect x="471.13" y="363.94" width="5.83" height="7.76" fill="#0a0af5"/>
<rect x="476.66" y="363.94" width="5.83" height="7.76" fill="#0a0af5"/>
<rect x="482.19" y="363.94" width="5.83" height="7.76" fill="#0a0af5"/>
<rect x="487.73" y="363.94" width="5.83" height="7.76" fill="#3c6ef0"/>
<rect x="493.26" y="363.94" width="5.83" height="7.76" fill="#87f041"/>
<rect x="498.79" y="363.94" width="5.83" height="7.76" fill="#87f041"/>
<rect x="504.33" y="363.94" width="5.83" height="7.76" fill="#87f041"/>
<rect x="509.86" y="363.94" width="5.83" height="7.76" fill="#a0d782"/>
<rect x="515.39" y="363.94" width="5.83" height="7.76" fill="#82ebfa"/>
<rect x="520.93" y="363.94" width="5.83" height="7.76" fill="#82ebfa"/>
<rect x="526.46" y="363.94" width="5.83" height="7.76" fill="#a0d782"/>
<rect x="531.99" y="363.94" width="5.83" height="7.76" fill="#87f041"/>
<rect x="537.52" y="363.94" width="5.83" height="7.76" fill="#82ebfa"/>
<rect x="543.06" y="363.94" width="5.83" height="7.76" fill="#0a0af5"/>
<rect x="548.59" y="363.94" width="5.83" height="7.76" fill="#0a0af5"/>
<rect x="554.12" y="363.94" width="5.83" height="7.76" fill="#0a0af5"/>
<rect x="559.66" y="363.94" width="5.83" height="7.76" fill="#0a0af5"/>
<rect x="565.19" y="363.94" width="5.83" height="7.76" fill="#0a0af5"/>
<rect x="570.72" y="363.94" width="5.83" height="7.76" fill="#0a0af5"/>
<rect x="576.26" y="363.94" width="5.83" height="7.76" fill="#0a0af5"/>
<rect x="581.79" y="363.94" width="5.83" height="7.76" fill="#0a0af5"/>
<rect x="587.32" y="363.94" width="5.83" height="7.76" fill="#c3c3b9"/>
<rect x="592.86" y="363.94" width="5.83" height="7.76" fill="#3c6ef0"/>
<rect x="598.39" y="363.94" width="5.83" height="7.76" fill="#5faff5"/>
<rect x="603.92" y="363.94" width="5.83" height="7.76" fill="#dd0000"/>
<rect x="609.45" y="363.94" width="5.83" height="7.76" fill="#faeb32"/>
<rect x="614.99" y="363.94" width="5.83" height="7.76" fill="#3c6ef0"/>
<rect x="620.52" y="363.94" width="5.83" height="7.76" fill="#dd0000"/>
<rect x="626.05" y="363.94" width="5.83" height="7.76" fill="#dd0000"/>
<rect x="399.20" y="371.41" width="5.83" height="7.76" fill="#dd0000"/>
<rect x="404.73" y="371.41" width="5.83" height="7.76" fill="#dd0000"/>
<rect x="410.27" y="371.41" width="5.83" height="7.76" fill="#dd0000"/>
<rect x="415.80" y="371.41" width="5.83" height="7.76" fill="#dd0000"/>
<rect x="421.33" y="371.41" width="5.83" height="7.76" fill="#de4619"/>
<rect x="426.87" y="371.41" width="5.83" height="7.76" fill="#e68728"/>
<rect x="432.40" y="371.41" width="5.83" height="7.76" fill="#a0d782"/>
<rect x="437.93" y="371.41" width="5.83" height="7.76" fill="#5faff5"/>
<rect x="443.46" y="371.41" width="5.83" height="7.76" fill="#5faff5"/>
<rect x="449" y="371.41" width="5.83" height="7.76" fill="#0a0af5"/>
<rect x="454.53" y="371.41" width="5.83" height="7.76" fill="#0a0af5"/>
<rect x="460.06" y="371.41" width="5.83" height="7.76" fill="#0a0af5"/>
<rect x="465.60" y="371.41" width="5.83" height="7.76" fill="#0a0af5"/>
<rect x="471.13" y="371.41" width="5.83" height="7.76" fill="#0a0af5"/>
<rect x="476.66" y="371.41" width="5.83" height="7.76" fill="#0a0af5"/>
<rect x="482.19" y="371.41" width="5.83" height="7.76" fill="#0a0af5"/>
<rect x="487.73" y="371.41" width="5.83" height="7.76" fill="#5faff5"/>
<rect x="493.26" y="371.41" width="5.83" height="7.76" fill="#87f041"/>
<rect x="498.79" y="371.41" width="5.83" height="7.76" fill="#c3c3b9"/>
<rect x="504.33" y="371.41" width="5.83" height="7.76" fill="#87f041"/>
<rect x="509.86" y="371.41" width="5.83" height="7.76" fill="#87f041"/>
<rect x="515.39" y="371.41" width="5.83" height="7.76" fill="#87f041"/>
<rect x="520.93" y="371.41" width="5.83" height="7.76" fill="#c3c3b9"/>
<rect x="526.46" y="371.41" width="5.83" height="7.76" fill="#e6dc8c"/>
<rect x="531.99" y="371.41" width="5.83" height="7.76" fill="#87f041"/>
<rect x="537.52" y="371.41" width="5.83" height="7.76" fill="#5faff5"/>
<rect x="543.06" y="371.41" width="5.83" height="7.76" fill="#3c6ef0"/>
<rect x="548.59" y="371.41" width="5.83" height="7.76" fill="#0a0af5"/>
<rect x="554.12" y="371.41" width="5.83" height="7.76" fill="#0a0af5"/>
<rect x="559.66" y="371.41" width="5.83" height="7.76" fill="#0a0af5"/>
<rect x="565.19" y="371.41" width="5.83" height="7.76" fill="#0a0af5"/>
<rect x="570.72" y="371.41" width="5.83" height="7.76" fill="#0a0af5"/>
<rect x="576.26" y="371.41" width="5.83" height="7.76" fill="#e6dc8c"/>
<rect x="581.79" y="371.41" width="5.83" height="7.76" fill="#a0d782"/>
<rect x="587.32" y="371.41" width="5.83" height="7.76" fill="#dd0000"/>
<rect x="592.86" y="371.41" width="5.83" height="7.76" fill="#de4619"/>
<rect x="598.39" y="371.41" width="5.83" height="7.76" fill="#dd0000"/>
<rect x="603.92" y="371.41" width="5.83" height="7.76" fill="#dd0000"/>
<rect x="609.45" y="371.41" width="5.83" height="7.76" fill="#dd0000"/>
<rect x="614.99" y="371.41" width="5.83" height="7.76" fill="#dd0000"/>
<rect x="620.52" y="371.41" width="5.83" height="7.76" fill="#faeb32"/>
<rect x="626.05" y="371.41" width="5.83" height="7.76" fill="#82ebfa"/>
<rect x="399.20" y="378.87" width="5.83" height="7.76" fill="#dd0000"/>
<rect x="404.73" y="378.87" width="5.83" height="7.76" fill="#dd0000"/>
<rect x="410.27" y="378.87" width="5.83" height="7.76" fill="#dd0000"/>
<rect x="415.80" y="378.87" width="5.83" height="7.76" fill="#dd0000"/>
<rect x="421.33" y="378.87" width="5.83" height="7.76" fill="#dd0000"/>
<rect x="426.87" y="378.87" width="5.83" height="7.76" fill="#dd0000"/>
<rect x="432.40" y="378.87" width="5.83" height="7.76" fill="#dd0000"/>
<rect x="437.93" y="378.87" width="5.83" height="7.76" fill="#dd0000"/>
<rect x="443.46" y="378.87" width="5.83" height="7.76" fill="#dd0000"/>
<rect x="449" y="378.87" width="5.83" height="7.76" fill="#faeb32"/>
<rect x="454.53" y="378.87" width="5.83" height="7.76" fill="#87f041"/>
<rect x="460.06" y="378.87" width="5.83" height="7.76" fill="#0a0af5"/>
<rect x="465.60" y="378.87" width="5.83" height="7.76" fill="#0a0af5"/>
<rect x="471.13" y="378.87" width="5.83" height="7.76" fill="#0a0af5"/>
<rect x="476.66" y="378.87" width="5.83" height="7.76" fill="#0a0af5"/>
<rect x="482.19" y="378.87" width="5.83" height="7.76" fill="#0a0af5"/>
<rect x="487.73" y="378.87" width="5.83" height="7.76" fill="#82ebfa"/>
<rect x="493.26" y="378.87" width="5.83" height="7.76" fill="#c3c3b9"/>
<rect x="498.79" y="378.87" width="5.83" height="7.76" fill="#c3c3b9"/>
<rect x="504.33" y="378.87" width="5.83" height="7.76" fill="#e6dc8c"/>
<rect x="509.86" y="378.87" width="5.83" height="7.76" fill="#e6dc8c"/>
<rect x="515.39" y="378.87" width="5.83" height="7.76" fill="#e6dc8c"/>
<rect x="520.93" y="378.87" width="5.83" height="7.76" fill="#e6dc8c"/>
<rect x="526.46" y="378.87" width="5.83" height="7.76" fill="#a0d782"/>
<rect x="531.99" y="378.87" width="5.83" height="7.76" fill="#87f041"/>
<rect x="537.52" y="378.87" width="5.83" height="7.76" fill="#87f041"/>
<rect x="543.06" y="378.87" width="5.83" height="7.76" fill="#82ebfa"/>
<rect x="548.59" y="378.87" width="5.83" height="7.76" fill="#5faff5"/>
<rect x="554.12" y="378.87" width="5.83" height="7.76" fill="#5faff5"/>
<rect x="559.66" y="378.87" width="5.83" height="7.76" fill="#a0d782"/>
<rect x="565.19" y="378.87" width="5.83" height="7.76" fill="#f0be32"/>
<rect x="570.72" y="378.87" width="5.83" height="7.76" fill="#dd0000"/>
<rect x="576.26" y="378.87" width="5.83" height="7.76" fill="#dd0000"/>
<rect x="581.79" y="378.87" width="5.83" height="7.76" fill="#dd0000"/>
<rect x="587.32" y="378.87" width="5.83" height="7.76" fill="#dd0000"/>
<rect x="592.86" y="378.87" width="5.83" height="7.76" fill="#dd0000"/>
<rect x="598.39" y="378.87" width="5.83" height="7.76" fill="#dd0000"/>
<rect x="603.92" y="378.87" width="5.83" height="7.76" fill="#dd0000"/>
<rect x="609.45" y="378.87" width="5.83" height="7.76" fill="#dd0000"/>
<rect x="614.99" y="378.87" width="5.83" height="7.76" fill="#dd0000"/>
<rect x="620.52" y="378.87" width="5.83" height="7.76" fill="#dd0000"/>
<rect x="626.05" y="378.87" width="5.83" height="7.76" fill="#dd0000"/>
<rect x="399.20" y="386.33" width="5.83" height="7.76" fill="#dd0000"/>
<rect x="404.73" y="386.33" width="5.83" height="7.76" fill="#dd0000"/>
<rect x="410.27" y="386.33" width="5.83" height="7.76" fill="#dd0000"/>
<rect x="415.80" y="386.33" width="5.83" height="7.76" fill="#dd0000"/>
<rect x="421.33" y="386.33" width="5.83" height="7.76" fill="#dd0000"/>
<rect x="426.87" y="386.33" width="5.83" height="7.76" fill="#dd0000"/>
<rect x="432.40" y="386.33" width="5.83" height="7.76" fill="#dd0000"/>
<rect x="437.93" y="386.33" width="5.83" height="7.76" fill="#dd0000"/>
<rect x="443.46" y="386.33" width="5.83" height="7.76" fill="#dd0000"/>
<rect x="449" y="386.33" width="5.83" height="7.76" fill="#dd0000"/>
<rect x="454.53" y="386.33" width="5.83" height="7.76" fill="#dd0000"/>
<rect x="460.06" y="386.33" width="5.83" height="7.76" fill="#f0be32"/>
<rect x="465.60" y="386.33" width="5.83" height="7.76" fill="#c3c3b9"/>
<rect x="471.13" y="386.33" width="5.83" height="7.76" fill="#82ebfa"/>
<rect x="476.66" y="386.33" width="5.83" height="7.76" fill="#5faff5"/>
<rect x="482.19" y="386.33" width="5.83" height="7.76" fill="#82ebfa"/>
<rect x="487.73" y="386.33" width="5.83" height="7.76" fill="#87f041"/>
<rect x="493.26" y="386.33" width="5.83" height="7.76" fill="#c3c3b9"/>
<rect x="498.79" y="386.33" width="5.83" height="7.76" fill="#faeb32"/>
<rect x="504.33" y="386.33" width="5.83" height="7.76" fill="#faeb32"/>
<rect x="509.86" y="386.33" width="5.83" height="7.76" fill="#faeb32"/>
<rect x="515.39" y="386.33" width="5.83" height="7.76" fill="#faeb32"/>
<rect x="520.93" y="386.33" width="5.83" height="7.76" fill="#faeb32"/>
<rect x="526.46" y="386.33" width="5.83" height="7.76" fill="#faeb32"/>
<rect x="531.99" y="386.33" width="5.83" height="7.76" fill="#e6dc8c"/>
<rect x="537.52" y="386.33" width="5.83" height="7.76" fill="#faeb32"/>
<rect x="543.06" y="386.33" width="5.83" height="7.76" fill="#faeb32"/>
<rect x="548.59" y="386.33" width="5.83" height="7.76" fill="#f0be32"/>
<rect x="554.12" y="386.33" width="5.83" height="7.76" fill="#dd0000"/>
<rect x="559.66" y="386.33" width="5.83" height="7.76" fill="#dd0000"/>
<rect x="565.19" y="386.33" width="5.83" height="7.76" fill="#dd0000"/>
<rect x="570.72" y="386.33" width="5.83" height="7.76" fill="#dd0000"/>
<rect x="576.26" y="386.33" width="5.83" height="7.76" fill="#dd0000"/>
<rect x="581.79" y="386.33" width="5.83" height="7.76" fill="#dd0000"/>
<rect x="587.32" y="386.33" width="5.83" height="7.76" fill="#dd0000"/>
<rect x="592.86" y="386.33" width="5.83" height="7.76" fill="#dd0000"/>
<rect x="598.39" y="386.33" width="5.83" height="7.76" fill="#dd0000"/>
<rect x="603.92" y="386.33" width="5.83" height="7.76" fill="#dd0000"/>
<rect x="609.45" y="386.33" width="5.83" height="7.76" fill="#dd0000"/>
<rect x="614.99" y="386.33" width="5.83" height="7.76" fill="#dd0000"/>
<rect x="620.52" y="386.33" width="5.83" height="7.76" fill="#dd0000"/>
<rect x="626.05" y="386.33" width="5.83" height="7.76" fill="#dd0000"/>
<rect x="75.20" y="480.60" width="13.23" height="7.77" fill="#2d2d2d"/>
<rect x="88.13" y="480.60" width="13.23" height="7.77" fill="#313131"/>
<rect x="101.06" y="480.60" width="13.23" height="7.77" fill="#2f2f2f"/>
<rect x="113.99" y="480.60" width="13.23" height="7.77" fill="#3a3a3a"/>
<rect x="126.92" y="480.60" width="13.23" height="7.77" fill="#3b3b3b"/>
<rect x="139.85" y="480.60" width="13.23" height="7.77" fill="#484848"/>
<rect x="152.78" y="480.60" width="13.23" height="7.77" fill="#585858"/>
<rect x="165.71" y="480.60" width="13.23" height="7.77" fill="#626262"/>
<rect x="178.64" y="480.60" width="13.23" height="7.77" fill="#646464"/>
<rect x="191.57" y="480.60" width="13.23" height="7.77" fill="#5f5f5f"/>
<rect x="204.50" y="480.60" width="13.23" height="7.77" fill="#525252"/>
<rect x="217.43" y="480.60" width="13.23" height="7.77" fill="#464646"/>
<rect x="230.36" y="480.60" width="13.23" height="7.77" fill="#363636"/>
<rect x="243.29" y="480.60" width="13.23" height="7.77" fill="#363636"/>
<rect x="256.22" y="480.60" width="13.23" height="7.77" fill="#2d2d2d"/>
<rect x="269.15" y="480.60" width="13.23" height="7.77" fill="#2a2a2a"/>
<rect x="282.08" y="480.60" width="13.23" height="7.77" fill="#2f2f2f"/>
<rect x="75.20" y="488.07" width="13.23" height="7.77" fill="#2b2b2b"/>
<rect x="88.13" y="488.07" width="13.23" height="7.77" fill="#2a2a2a"/>
<rect x="101.06" y="488.07" width="13.23" height="7.77" fill="#323232"/>
<rect x="113.99" y="488.07" width="13.23" height="7.77" fill="#313131"/>
<rect x="126.92" y="488.07" width="13.23" height="7.77" fill="#3b3b3b"/>
<rect x="139.85" y="488.07" width="13.23" height="7.77" fill="#4b4b4b"/>
<rect x="152.78" y="488.07" width="13.23" height="7.77" fill="#5c5c5c"/>
<rect x="165.71" y="488.07" width="13.23" height="7.77" fill="#666666"/>
<rect x="178.64" y="488.07" width="13.23" height="7.77" fill="#696969"/>
<rect x="191.57" y="488.07" width="13.23" height="7.77" fill="#646464"/>
<rect x="204.50" y="488.07" width="13.23" height="7.77" fill="#555555"/>
<rect x="217.43" y="488.07" width="13.23" height="7.77" fill="#464646"/>
<rect x="230.36" y="488.07" width="13.23" height="7.77" fill="#363636"/>
<rect x="243.29" y="488.07" width="13.23" height="7.77" fill="#2c2c2c"/>
<rect x="256.22" y="488.07" width="13.23" height="7.77" fill="#282828"/>
<rect x="269.15" y="488.07" width="13.23" height="7.77" fill="#252525"/>
<rect x="282.08" y="488.07" width="13.23" height="7.77" fill="#2c2c2c"/>
<rect x="75.20" y="495.54" width="13.23" height="7.77" fill="#252525"/>
<rect x="88.13" y="495.54" width="13.23" height="7.77" fill="#292929"/>
<rect x="101.06" y="495.54" width="13.23" height="7.77" fill="#2d2d2d"/>
<rect x="113.99" y="495.54" width="13.23" height="7.77" fill="#303030"/>
<rect x="126.92" y="495.54" width="13.23" height="7.77" fill="#3e3e3e"/>
<rect x="139.85" y="495.54" width="13.23" height="7.77" fill="#4e4e4e"/>
<rect x="152.78" y="495.54" width="13.23" height="7.77" fill="#5f5f5f"/>
<rect x="165.71" y="495.54" width="13.23" height="7.77" fill="#6c6c6c"/>
<rect x="178.64" y="495.54" width="13.23" height="7.77" fill="#6e6e6e"/>
<rect x="191.57" y="495.54" width="13.23" height="7.77" fill="#696969"/>
<rect x="204.50" y="495.54" width="13.23" height="7.77" fill="#585858"/>
<rect x="217.43" y="495.54" width="13.23" height="7.77" fill="#444444"/>
<rect x="230.36" y="495.54" width="13.23" height="7.77" fill="#353535"/>
<rect x="243.29" y="495.54" width="13.23" height="7.77" fill="#2f2f2f"/>
<rect x="256.22" y="495.54" width="13.23" height="7.77" fill="#272727"/>
<rect x="269.15" y="495.54" width="13.23" height="7.77" fill="#272727"/>
<rect x="282.08" y="495.54" width="13.23" height="7.77" fill="#242424"/>
<rect x="75.20" y="503.01" width="13.23" height="7.77" fill="#242424"/>
<rect x="88.13" y="503.01" width="13.23" height="7.77" fill="#212121"/>
<rect x="101.06" y="503.01" width="13.23" height="7.77" fill="#292929"/>
<rect x="113.99" y="503.01" width="13.23" height="7.77" fill="#373737"/>
<rect x="126.92" y="503.01" width="13.23" height="7.77" fill="#373737"/>
<rect x="139.85" y="503.01" width="13.23" height="7.77" fill="#505050"/>
<rect x="152.78" y="503.01" width="13.23" height="7.77" fill="#646464"/>
<rect x="165.71" y="503.01" width="13.23" height="7.77" fill="#737373"/>
<rect x="178.64" y="503.01" width="13.23" height="7.77" fill="#767676"/>
<rect x="191.57" y="503.01" width="13.23" height="7.77" fill="#6e6e6e"/>
<rect x="204.50" y="503.01" width="13.23" height="7.77" fill="#5c5c5c"/>
<rect x="217.43" y="503.01" width="13.23" height="7.77" fill="#444444"/>
<rect x="230.36" y="503.01" width="13.23" height="7.77" fill="#363636"/>
<rect x="243.29" y="503.01" width="13.23" height="7.77" fill="#2b2b2b"/>
<rect x="256.22" y="503.01" width="13.23" height="7.77" fill="#272727"/>
<rect x="269.15" y="503.01" width="13.23" height="7.77" fill="#272727"/>
<rect x="282.08" y="503.01" width="13.23" height="7.77" fill="#2a2a2a"/>
<rect x="75.20" y="510.48" width="13.23" height="7.77" fill="#272727"/>
<rect x="88.13" y="510.48" width="13.23" height="7.77" fill="#272727"/>
<rect x="101.06" y="510.48" width="13.23" height="7.77" fill="#2b2b2b"/>
<rect x="113.99" y="510.48" width="13.23" height="7.77" fill="#303030"/>
<rect x="126.92" y="510.48" width="13.23" height="7.77" fill="#3b3b3b"/>
<rect x="139.85" y="510.48" width="13.23" height="7.77" fill="#525252"/>
<rect x="152.78" y="510.48" width="13.23" height="7.77" fill="#696969"/>
<rect x="165.71" y="510.48" width="13.23" height="7.77" fill="#7a7a7a"/>
<rect x="178.64" y="510.48" width="13.23" height="7.77" fill="#7d7d7d"/>
<rect x="191.57" y="510.48" width="13.23" height="7.77" fill="#767676"/>
<rect x="204.50" y="510.48" width="13.23" height="7.77" fill="#5f5f5f"/>
<rect x="217.43" y="510.48" width="13.23" height="7.77" fill="#464646"/>
<rect x="230.36" y="510.48" width="13.23" height="7.77" fill="#343434"/>
<rect x="243.29" y="510.48" width="13.23" height="7.77" fill="#282828"/>
<rect x="256.22" y="510.48" width="13.23" height="7.77" fill="#2b2b2b"/>
<rect x="269.15" y="510.48" width="13.23" height="7.77" fill="#202020"/>
<rect x="282.08" y="510.48" width="13.23" height="7.77" fill="#252525"/>
<rect x="75.20" y="517.95" width="13.23" height="7.77" fill="#232323"/>
<rect x="88.13" y="517.95" width="13.23" height="7.77" fill="#222222"/>
<rect x="101.06" y="517.95" width="13.23" height="7.77" fill="#333333"/>
<rect x="113.99" y="517.95" width="13.23" height="7.77" fill="#2b2b2b"/>
<rect x="126.92" y="517.95" width="13.23" height="7.77" fill="#404040"/>
<rect x="139.85" y="517.95" width="13.23" height="7.77" fill="#585858"/>
<rect x="152.78" y="517.95" width="13.23" height="7.77" fill="#707070"/>
<rect x="165.71" y="517.95" width="13.23" height="7.77" fill="#828282"/>
<rect x="178.64" y="517.95" width="13.23" height="7.77" fill="#848484"/>
<rect x="191.57" y="517.95" width="13.23" height="7.77" fill="#7d7d7d"/>
<rect x="204.50" y="517.95" width="13.23" height="7.77" fill="#646464"/>
<rect x="217.43" y="517.95" width="13.23" height="7.77" fill="#484848"/>
<rect x="230.36" y="517.95" width="13.23" height="7.77" fill="#353535"/>
<rect x="243.29" y="517.95" width="13.23" height="7.77" fill="#323232"/>
<rect x="256.22" y="517.95" width="13.23" height="7.77" fill="#242424"/>
<rect x="269.15" y="517.95" width="13.23" height="7.77" fill="#2b2b2b"/>
<rect x="282.08" y="517.95" width="13.23" height="7.77" fill="#282828"/>
<rect x="75.20" y="525.42" width="13.23" height="7.77" fill="#242424"/>
<rect x="88.13" y="525.42" width="13.23" height="7.77" fill="#262626"/>
<rect x="101.06" y="525.42" width="13.23" height="7.77" fill="#2f2f2f"/>
<rect x="113.99" y="525.42" width="13.23" height="7.77" fill="#313131"/>
<rect x="126.92" y="525.42" width="13.23" height="7.77" fill="#444444"/>
<rect x="139.85" y="525.42" width="13.23" height="7.77" fill="#5f5f5f"/>
<rect x="152.78" y="525.42" width="13.23" height="7.77" fill="#7a7a7a"/>
<rect x="165.71" y="525.42" width="13.23" height="7.77" fill="#8c8c8c"/>
<rect x="178.64" y="525.42" width="13.23" height="7.77" fill="#8e8e8e"/>
<rect x="191.57" y="525.42" width="13.23" height="7.77" fill="#878787"/>
<rect x="204.50" y="525.42" width="13.23" height="7.77" fill="#6c6c6c"/>
<rect x="217.43" y="525.42" width="13.23" height="7.77" fill="#4e4e4e"/>
<rect x="230.36" y="525.42" width="13.23" height="7.77" fill="#3b3b3b"/>
<rect x="243.29" y="525.42" width="13.23" height="7.77" fill="#363636"/>
<rect x="256.22" y="525.42" width="13.23" height="7.77" fill="#232323"/>
<rect x="269.15" y="525.42" width="13.23" height="7.77" fill="#2d2d2d"/>
<rect x="282.08" y="525.42" width="13.23" height="7.77" fill="#2d2d2d"/>
<rect x="75.20" y="532.89" width="13.23" height="7.77" fill="#222222"/>
<rect x="88.13" y="532.89" width="13.23" height="7.77" fill="#292929"/>
<rect x="101.06" y="532.89" width="13.23" height="7.77" fill="#2c2c2c"/>
<rect x="113.99" y="532.89" width="13.23" height="7.77" fill="#3c3c3c"/>
<rect x="126.92" y="532.89" width="13.23" height="7.77" fill="#494949"/>
<rect x="139.85" y="532.89" width="13.23" height="7.77" fill="#646464"/>
<rect x="152.78" y="532.89" width="13.23" height="7.77" fill="#828282"/>
<rect x="165.71" y="532.89" width="13.23" height="7.77" fill="#969696"/>
<rect x="178.64" y="532.89" width="13.23" height="7.77" fill="#969696"/>
<rect x="191.57" y="532.89" width="13.23" height="7.77" fill="#8e8e8e"/>
<rect x="204.50" y="532.89" width="13.23" height="7.77" fill="#767676"/>
<rect x="217.43" y="532.89" width="13.23" height="7.77" fill="#555555"/>
<rect x="230.36" y="532.89" width="13.23" height="7.77" fill="#3d3d3d"/>
<rect x="243.29" y="532.89" width="13.23" height="7.77" fill="#313131"/>
<rect x="256.22" y="532.89" width="13.23" height="7.77" fill="#2c2c2c"/>
<rect x="269.15" y="532.89" width="13.23" height="7.77" fill="#292929"/>
<rect x="282.08" y="532.89" width="13.23" height="7.77" fill="#272727"/>
<rect x="75.20" y="540.36" width="13.23" height="7.77" fill="#272727"/>
<rect x="88.13" y="540.36" width="13.23" height="7.77" fill="#202020"/>
<rect x="101.06" y="540.36" width="13.23" height="7.77" fill="#222222"/>
<rect x="113.99" y="540.36" width="13.23" height="7.77" fill="#373737"/>
<rect x="126.92" y="540.36" width="13.23" height="7.77" fill="#4b4b4b"/>
<rect x="139.85" y="540.36" width="13.23" height="7.77" fill="#696969"/>
<rect x="152.78" y="540.36" width="13.23" height="7.77" fill="#8a8a8a"/>
<rect x="165.71" y="540.36" width="13.23" height="7.77" fill="#9b9b9b"/>
<rect x="178.64" y="540.36" width="13.23" height="7.77" fill="#9e9e9e"/>
<rect x="191.57" y="540.36" width="13.23" height="7.77" fill="#969696"/>
<rect x="204.50" y="540.36" width="13.23" height="7.77" fill="#7d7d7d"/>
<rect x="217.43" y="540.36" width="13.23" height="7.77" fill="#5c5c5c"/>
<rect x="230.36" y="540.36" width="13.23" height="7.77" fill="#424242"/>
<rect x="243.29" y="540.36" width="13.23" height="7.77" fill="#363636"/>
<rect x="256.22" y="540.36" width="13.23" height="7.77" fill="#303030"/>
<rect x="269.15" y="540.36" width="13.23" height="7.77" fill="#2e2e2e"/>
<rect x="282.08" y="540.36" width="13.23" height="7.77" fill="#303030"/>
<rect x="75.20" y="547.83" width="13.23" height="7.77" fill="#1f1f1f"/>
<rect x="88.13" y="547.83" width="13.23" height="7.77" fill="#252525"/>
<rect x="101.06" y="547.83" width="13.23" height="7.77" fill="#333333"/>
<rect x="113.99" y="547.83" width="13.23" height="7.77" fill="#393939"/>
<rect x="126.92" y="547.83" width="13.23" height="7.77" fill="#484848"/>
<rect x="139.85" y="547.83" width="13.23" height="7.77" fill="#6c6c6c"/>
<rect x="152.78" y="547.83" width="13.23" height="7.77" fill="#8c8c8c"/>
<rect x="165.71" y="547.83" width="13.23" height="7.77" fill="#9e9e9e"/>
<rect x="178.64" y="547.83" width="13.23" height="7.77" fill="#a0a0a0"/>
<rect x="191.57" y="547.83" width="13.23" height="7.77" fill="#989898"/>
<rect x="204.50" y="547.83" width="13.23" height="7.77" fill="#808080"/>
<rect x="217.43" y="547.83" width="13.23" height="7.77" fill="#5f5f5f"/>
<rect x="230.36" y="547.83" width="13.23" height="7.77" fill="#4b4b4b"/>
<rect x="243.29" y="547.83" width="13.23" height="7.77" fill="#393939"/>
<rect x="256.22" y="547.83" width="13.23" height="7.77" fill="#2e2e2e"/>
<rect x="269.15" y="547.83" width="13.23" height="7.77" fill="#292929"/>
<rect x="282.08" y="547.83" width="13.23" height="7.77" fill="#2e2e2e"/>
<rect x="75.20" y="555.30" width="13.23" height="7.77" fill="#1e1e1e"/>
<rect x="88.13" y="555.30" width="13.23" height="7.77" fill="#232323"/>
<rect x="101.06" y="555.30" width="13.23" height="7.77" fill="#262626"/>
<rect x="113.99" y="555.30" width="13.23" height="7.77" fill="#323232"/>
<rect x="126.92" y="555.30" width="13.23" height="7.77" fill="#4b4b4b"/>
<rect x="139.85" y="555.30" width="13.23" height="7.77" fill="#696969"/>
<rect x="152.78" y="555.30" width="13.23" height="7.77" fill="#8c8c8c"/>
<rect x="165.71" y="555.30" width="13.23" height="7.77" fill="#9e9e9e"/>
<rect x="178.64" y="555.30" width="13.23" height="7.77" fill="#9e9e9e"/>
<rect x="191.57" y="555.30" width="13.23" height="7.77" fill="#989898"/>
<rect x="204.50" y="555.30" width="13.23" height="7.77" fill="#808080"/>
<rect x="217.43" y="555.30" width="13.23" height="7.77" fill="#5c5c5c"/>
<rect x="230.36" y="555.30" width="13.23" height="7.77" fill="#404040"/>
<rect x="243.29" y="555.30" width="13.23" height="7.77" fill="#303030"/>
<rect x="256.22" y="555.30" width="13.23" height="7.77" fill="#2f2f2f"/>
<rect x="269.15" y="555.30" width="13.23" height="7.77" fill="#2a2a2a"/>
<rect x="282.08" y="555.30" width="13.23" height="7.77" fill="#2d2d2d"/>
<rect x="75.20" y="562.77" width="13.23" height="7.77" fill="#242424"/>
<rect x="88.13" y="562.77" width="13.23" height="7.77" fill="#232323"/>
<rect x="101.06" y="562.77" width="13.23" height="7.77" fill="#2a2a2a"/>
<rect x="113.99" y="562.77" width="13.23" height="7.77" fill="#343434"/>
<rect x="126.92" y="562.77" width="13.23" height="7.77" fill="#434343"/>
<rect x="139.85" y="562.77" width="13.23" height="7.77" fill="#666666"/>
<rect x="152.78" y="562.77" width="13.23" height="7.77" fill="#8a8a8a"/>
<rect x="165.71" y="562.77" width="13.23" height="7.77" fill="#9b9b9b"/>
<rect x="178.64" y="562.77" width="13.23" height="7.77" fill="#9e9e9e"/>
<rect x="191.57" y="562.77" width="13.23" height="7.77" fill="#969696"/>
<rect x="204.50" y="562.77" width="13.23" height="7.77" fill="#7d7d7d"/>
<rect x="217.43" y="562.77" width="13.23" height="7.77" fill="#585858"/>
<rect x="230.36" y="562.77" width="13.23" height="7.77" fill="#404040"/>
<rect x="243.29" y="562.77" width="13.23" height="7.77" fill="#363636"/>
<rect x="256.22" y="562.77" width="13.23" height="7.77" fill="#2e2e2e"/>
<rect x="269.15" y="562.77" width="13.23" height="7.77" fill="#292929"/>
<rect x="282.08" y="562.77" width="13.23" height="7.77" fill="#292929"/>
<rect x="75.20" y="570.24" width="13.23" height="7.77" fill="#1c1c1c"/>
<rect x="88.13" y="570.24" width="13.23" height="7.77" fill="#212121"/>
<rect x="101.06" y="570.24" width="13.23" height="7.77" fill="#272727"/>
<rect x="113.99" y="570.24" width="13.23" height="7.77" fill="#2f2f2f"/>
<rect x="126.92" y="570.24" width="13.23" height="7.77" fill="#434343"/>
<rect x="139.85" y="570.24" width="13.23" height="7.77" fill="#646464"/>
<rect x="152.78" y="570.24" width="13.23" height="7.77" fill="#878787"/>
<rect x="165.71" y="570.24" width="13.23" height="7.77" fill="#989898"/>
<rect x="178.64" y="570.24" width="13.23" height="7.77" fill="#9b9b9b"/>
<rect x="191.57" y="570.24" width="13.23" height="7.77" fill="#949494"/>
<rect x="204.50" y="570.24" width="13.23" height="7.77" fill="#787878"/>
<rect x="217.43" y="570.24" width="13.23" height="7.77" fill="#555555"/>
<rect x="230.36" y="570.24" width="13.23" height="7.77" fill="#373737"/>
<rect x="243.29" y="570.24" width="13.23" height="7.77" fill="#313131"/>
<rect x="256.22" y="570.24" width="13.23" height="7.77" fill="#2a2a2a"/>
<rect x="269.15" y="570.24" width="13.23" height="7.77" fill="#252525"/>
<rect x="282.08" y="570.24" width="13.23" height="7.77" fill="#212121"/>
<rect x="75.20" y="577.71" width="13.23" height="7.77" fill="#1e1e1e"/>
<rect x="88.13" y="577.71" width="13.23" height="7.77" fill="#252525"/>
<rect x="101.06" y="577.71" width="13.23" height="7.77" fill="#262626"/>
<rect x="113.99" y="577.71" width="13.23" height="7.77" fill="#2f2f2f"/>
<rect x="126.92" y="577.71" width="13.23" height="7.77" fill="#3f3f3f"/>
<rect x="139.85" y="577.71" width="13.23" height="7.77" fill="#5f5f5f"/>
<rect x="152.78" y="577.71" width="13.23" height="7.77" fill="#808080"/>
<rect x="165.71" y="577.71" width="13.23" height="7.77" fill="#919191"/>
<rect x="178.64" y="577.71" width="13.23" height="7.77" fill="#949494"/>
<rect x="191.57" y="577.71" width="13.23" height="7.77" fill="#8c8c8c"/>
<rect x="204.50" y="577.71" width="13.23" height="7.77" fill="#707070"/>
<rect x="217.43" y="577.71" width="13.23" height="7.77" fill="#505050"/>
<rect x="230.36" y="577.71" width="13.23" height="7.77" fill="#3c3c3c"/>
<rect x="243.29" y="577.71" width="13.23" height="7.77" fill="#2a2a2a"/>
<rect x="256.22" y="577.71" width="13.23" height="7.77" fill="#2d2d2d"/>
<rect x="269.15" y="577.71" width="13.23" height="7.77" fill="#252525"/>
<rect x="282.08" y="577.71" width="13.23" height="7.77" fill="#2b2b2b"/>
<rect x="75.20" y="585.18" width="13.23" height="7.77" fill="#1e1e1e"/>
<rect x="88.13" y="585.18" width="13.23" height="7.77" fill="#1f1f1f"/>
<rect x="101.06" y="585.18" width="13.23" height="7.77" fill="#222222"/>
<rect x="113.99" y="585.18" width="13.23" height="7.77" fill="#2b2b2b"/>
<rect x="126.92" y="585.18" width="13.23" height="7.77" fill="#3d3d3d"/>
<rect x="139.85" y="585.18" width="13.23" height="7.77" fill="#5a5a5a"/>
<rect x="152.78" y="585.18" width="13.23" height="7.77" fill="#787878"/>
<rect x="165.71" y="585.18" width="13.23" height="7.77" fill="#8a8a8a"/>
<rect x="178.64" y="585.18" width="13.23" height="7.77" fill="#8c8c8c"/>
<rect x="191.57" y="585.18" width="13.23" height="7.77" fill="#848484"/>
<rect x="204.50" y="585.18" width="13.23" height="7.77" fill="#696969"/>
<rect x="217.43" y="585.18" width="13.23" height="7.77" fill="#4b4b4b"/>
<rect x="230.36" y="585.18" width="13.23" height="7.77" fill="#393939"/>
<rect x="243.29" y="585.18" width="13.23" height="7.77" fill="#2e2e2e"/>
<rect x="256.22" y="585.18" width="13.23" height="7.77" fill="#262626"/>
<rect x="269.15" y="585.18" width="13.23" height="7.77" fill="#272727"/>
<rect x="282.08" y="585.18" width="13.23" height="7.77" fill="#292929"/>
<rect x="75.20" y="592.65" width="13.23" height="7.77" fill="#202020"/>
<rect x="88.13" y="592.65" width="13.23" height="7.77" fill="#212121"/>
<rect x="101.06" y="592.65" width="13.23" height="7.77" fill="#252525"/>
<rect x="113.99" y="592.65" width="13.23" height="7.77" fill="#2f2f2f"/>
<rect x="126.92" y="592.65" width="13.23" height="7.77" fill="#3e3e3e"/>
<rect x="139.85" y="592.65" width="13.23" height="7.77" fill="#555555"/>
<rect x="152.78" y="592.65" width="13.23" height="7.77" fill="#707070"/>
<rect x="165.71" y="592.65" width="13.23" height="7.77" fill="#808080"/>
<rect x="178.64" y="592.65" width="13.23" height="7.77" fill="#828282"/>
<rect x="191.57" y="592.65" width="13.23" height="7.77" fill="#7a7a7a"/>
<rect x="204.50" y="592.65" width="13.23" height="7.77" fill="#626262"/>
<rect x="217.43" y="592.65" width="13.23" height="7.77" fill="#464646"/>
<rect x="230.36" y="592.65" width="13.23" height="7.77" fill="#313131"/>
<rect x="243.29" y="592.65" width="13.23" height="7.77" fill="#2b2b2b"/>
<rect x="256.22" y="592.65" width="13.23" height="7.77" fill="#252525"/>
<rect x="269.15" y="592.65" width="13.23" height="7.77" fill="#212121"/>
<rect x="282.08" y="592.65" width="13.23" height="7.77" fill="#2a2a2a"/>
<rect x="75.20" y="600.12" width="13.23" height="7.77" fill="#222222"/>
<rect x="88.13" y="600.12" width="13.23" height="7.77" fill="#212121"/>
<rect x="101.06" y="600.12" width="13.23" height="7.77" fill="#262626"/>
<rect x="113.99" y="600.12" width="13.23" height="7.77" fill="#2f2f2f"/>
<rect x="126.92" y="600.12" width="13.23" height="7.77" fill="#383838"/>
<rect x="139.85" y="600.12" width="13.23" height="7.77" fill="#505050"/>
<rect x="152.78" y="600.12" width="13.23" height="7.77" fill="#696969"/>
<rect x="165.71" y="600.12" width="13.23" height="7.77" fill="#787878"/>
<rect x="178.64" y="600.12" width="13.23" height="7.77" fill="#7a7a7a"/>
<rect x="191.57" y="600.12" width="13.23" height="7.77" fill="#737373"/>
<rect x="204.50" y="600.12" width="13.23" height="7.77" fill="#5c5c5c"/>
<rect x="217.43" y="600.12" width="13.23" height="7.77" fill="#424242"/>
<rect x="230.36" y="600.12" width="13.23" height="7.77" fill="#323232"/>
<rect x="243.29" y="600.12" width="13.23" height="7.77" fill="#2c2c2c"/>
<rect x="256.22" y="600.12" width="13.23" height="7.77" fill="#212121"/>
<rect x="269.15" y="600.12" width="13.23" height="7.77" fill="#242424"/>
<rect x="282.08" y="600.12" width="13.23" height="7.77" fill="#282828"/>
<rect x="75.20" y="607.59" width="13.23" height="7.77" fill="#222222"/>
<rect x="88.13" y="607.59" width="13.23" height="7.77" fill="#1f1f1f"/>
<rect x="101.06" y="607.59" width="13.23" height="7.77" fill="#272727"/>
<rect x="113.99" y="607.59" width="13.23" height="7.77" fill="#2a2a2a"/>
<rect x="126.92" y="607.59" width="13.23" height="7.77" fill="#393939"/>
<rect x="139.85" y="607.59" width="13.23" height="7.77" fill="#4e4e4e"/>
<rect x="152.78" y="607.59" width="13.23" height="7.77" fill="#646464"/>
<rect x="165.71" y="607.59" width="13.23" height="7.77" fill="#707070"/>
<rect x="178.64" y="607.59" width="13.23" height="7.77" fill="#737373"/>
<rect x="191.57" y="607.59" width="13.23" height="7.77" fill="#6c6c6c"/>
<rect x="204.50" y="607.59" width="13.23" height="7.77" fill="#585858"/>
<rect x="217.43" y="607.59" width="13.23" height="7.77" fill="#3e3e3e"/>
<rect x="230.36" y="607.59" width="13.23" height="7.77" fill="#323232"/>
<rect x="243.29" y="607.59" width="13.23" height="7.77" fill="#292929"/>
<rect x="256.22" y="607.59" width="13.23" height="7.77" fill="#242424"/>
<rect x="269.15" y="607.59" width="13.23" height="7.77" fill="#222222"/>
<rect x="282.08" y="607.59" width="13.23" height="7.77" fill="#292929"/>
<rect x="75.20" y="615.06" width="13.23" height="7.77" fill="#202020"/>
<rect x="88.13" y="615.06" width="13.23" height="7.77" fill="#272727"/>
<rect x="101.06" y="615.06" width="13.23" height="7.77" fill="#2a2a2a"/>
<rect x="113.99" y="615.06" width="13.23" height="7.77" fill="#2c2c2c"/>
<rect x="126.92" y="615.06" width="13.23" height="7.77" fill="#3e3e3e"/>
<rect x="139.85" y="615.06" width="13.23" height="7.77" fill="#4b4b4b"/>
<rect x="152.78" y="615.06" width="13.23" height="7.77" fill="#5f5f5f"/>
<rect x="165.71" y="615.06" width="13.23" height="7.77" fill="#6c6c6c"/>
<rect x="178.64" y="615.06" width="13.23" height="7.77" fill="#6e6e6e"/>
<rect x="191.57" y="615.06" width="13.23" height="7.77" fill="#666666"/>
<rect x="204.50" y="615.06" width="13.23" height="7.77" fill="#525252"/>
<rect x="217.43" y="615.06" width="13.23" height="7.77" fill="#3c3c3c"/>
<rect x="230.36" y="615.06" width="13.23" height="7.77" fill="#303030"/>
<rect x="243.29" y="615.06" width="13.23" height="7.77" fill="#303030"/>
<rect x="256.22" y="615.06" width="13.23" height="7.77" fill="#222222"/>
<rect x="269.15" y="615.06" width="13.23" height="7.77" fill="#1f1f1f"/>
<rect x="282.08" y="615.06" width="13.23" height="7.77" fill="#2b2b2b"/>
<rect x="456.92" y="480.60" width="13.23" height="7.77" fill="#faeb32"/>
<rect x="469.85" y="480.60" width="13.23" height="7.77" fill="#dd0000"/>
<rect x="482.78" y="480.60" width="13.23" height="7.77" fill="#dd0000"/>
<rect x="495.71" y="480.60" width="13.23" height="7.77" fill="#dd0000"/>
<rect x="508.64" y="480.60" width="13.23" height="7.77" fill="#dd0000"/>
<rect x="521.57" y="480.60" width="13.23" height="7.77" fill="#dd0000"/>
<rect x="534.50" y="480.60" width="13.23" height="7.77" fill="#de4619"/>
<rect x="456.92" y="488.07" width="13.23" height="7.77" fill="#dd0000"/>
<rect x="469.85" y="488.07" width="13.23" height="7.77" fill="#dd0000"/>
<rect x="482.78" y="488.07" width="13.23" height="7.77" fill="#dd0000"/>
<rect x="495.71" y="488.07" width="13.23" height="7.77" fill="#dd0000"/>
<rect x="508.64" y="488.07" width="13.23" height="7.77" fill="#dd0000"/>
<rect x="521.57" y="488.07" width="13.23" height="7.77" fill="#3c6ef0"/>
<rect x="534.50" y="488.07" width="13.23" height="7.77" fill="#5faff5"/>
<rect x="469.85" y="495.54" width="13.23" height="7.77" fill="#c3c3b9"/>
<rect x="482.78" y="495.54" width="13.23" height="7.77" fill="#f0be32"/>
<rect x="495.71" y="495.54" width="13.23" height="7.77" fill="#87f041"/>
<rect x="508.64" y="495.54" width="13.23" height="7.77" fill="#dd0000"/>
<rect x="521.57" y="495.54" width="13.23" height="7.77" fill="#dd0000"/>
<rect x="534.50" y="495.54" width="13.23" height="7.77" fill="#dd0000"/>
<rect x="469.85" y="503.01" width="13.23" height="7.77" fill="#dd0000"/>
<rect x="482.78" y="503.01" width="13.23" height="7.77" fill="#e68728"/>
<rect x="495.71" y="503.01" width="13.23" height="7.77" fill="#87f041"/>
<rect x="508.64" y="503.01" width="13.23" height="7.77" fill="#3c6ef0"/>
<rect x="521.57" y="503.01" width="13.23" height="7.77" fill="#dd0000"/>
<rect x="534.50" y="503.01" width="13.23" height="7.77" fill="#de4619"/>
<rect x="456.92" y="510.48" width="13.23" height="7.77" fill="#0a0af5"/>
<rect x="469.85" y="510.48" width="13.23" height="7.77" fill="#0a0af5"/>
<rect x="482.78" y="510.48" width="13.23" height="7.77" fill="#0a0af5"/>
<rect x="495.71" y="510.48" width="13.23" height="7.77" fill="#3c6ef0"/>
<rect x="508.64" y="510.48" width="13.23" height="7.77" fill="#dd0000"/>
<rect x="521.57" y="510.48" width="13.23" height="7.77" fill="#dd0000"/>
<rect x="534.50" y="510.48" width="13.23" height="7.77" fill="#dd0000"/>
<rect x="469.85" y="517.95" width="13.23" height="7.77" fill="#dd0000"/>
<rect x="482.78" y="517.95" width="13.23" height="7.77" fill="#dd0000"/>
<rect x="495.71" y="517.95" width="13.23" height="7.77" fill="#f0be32"/>
<rect x="508.64" y="517.95" width="13.23" height="7.77" fill="#f0be32"/>
<rect x="521.57" y="517.95" width="13.23" height="7.77" fill="#dd0000"/>
<rect x="534.50" y="517.95" width="13.23" height="7.77" fill="#dd0000"/>
<rect x="469.85" y="525.42" width="13.23" height="7.77" fill="#faeb32"/>
<rect x="482.78" y="525.42" width="13.23" height="7.77" fill="#dd0000"/>
<rect x="495.71" y="525.42" width="13.23" height="7.77" fill="#f0be32"/>
<rect x="508.64" y="525.42" width="13.23" height="7.77" fill="#faeb32"/>
<rect x="521.57" y="525.42" width="13.23" height="7.77" fill="#de4619"/>
<rect x="534.50" y="525.42" width="13.23" height="7.77" fill="#87f041"/>
<rect x="547.43" y="525.42" width="13.23" height="7.77" fill="#0a0af5"/>
<rect x="469.85" y="532.89" width="13.23" height="7.77" fill="#dd0000"/>
<rect x="482.78" y="532.89" width="13.23" height="7.77" fill="#de4619"/>
<rect x="495.71" y="532.89" width="13.23" height="7.77" fill="#0a0af5"/>
<rect x="508.64" y="532.89" width="13.23" height="7.77" fill="#0a0af5"/>
<rect x="521.57" y="532.89" width="13.23" height="7.77" fill="#0a0af5"/>
<rect x="534.50" y="532.89" width="13.23" height="7.77" fill="#0a0af5"/>
<rect x="547.43" y="532.89" width="13.23" height="7.77" fill="#0a0af5"/>
<rect x="456.92" y="540.36" width="13.23" height="7.77" fill="#0a0af5"/>
<rect x="469.85" y="540.36" width="13.23" height="7.77" fill="#f0be32"/>
<rect x="482.78" y="540.36" width="13.23" height="7.77" fill="#de4619"/>
<rect x="495.71" y="540.36" width="13.23" height="7.77" fill="#e6dc8c"/>
<rect x="508.64" y="540.36" width="13.23" height="7.77" fill="#5faff5"/>
<rect x="521.57" y="540.36" width="13.23" height="7.77" fill="#5faff5"/>
<rect x="534.50" y="540.36" width="13.23" height="7.77" fill="#f0be32"/>
<rect x="547.43" y="540.36" width="13.23" height="7.77" fill="#faeb32"/>
<rect x="469.85" y="547.83" width="13.23" height="7.77" fill="#3c6ef0"/>
<rect x="482.78" y="547.83" width="13.23" height="7.77" fill="#0a0af5"/>
<rect x="495.71" y="547.83" width="13.23" height="7.77" fill="#0a0af5"/>
<rect x="508.64" y="547.83" width="13.23" height="7.77" fill="#a0d782"/>
<rect x="521.57" y="547.83" width="13.23" height="7.77" fill="#de4619"/>
<rect x="534.50" y="547.83" width="13.23" height="7.77" fill="#dd0000"/>
<rect x="547.43" y="547.83" width="13.23" height="7.77" fill="#de4619"/>
<rect x="456.92" y="555.30" width="13.23" height="7.77" fill="#0a0af5"/>
<rect x="469.85" y="555.30" width="13.23" height="7.77" fill="#a0d782"/>
<rect x="482.78" y="555.30" width="13.23" height="7.77" fill="#faeb32"/>
<rect x="495.71" y="555.30" width="13.23" height="7.77" fill="#3c6ef0"/>
<rect x="508.64" y="555.30" width="13.23" height="7.77" fill="#0a0af5"/>
<rect x="521.57" y="555.30" width="13.23" height="7.77" fill="#3c6ef0"/>
<rect x="534.50" y="555.30" width="13.23" height="7.77" fill="#c3c3b9"/>
<rect x="547.43" y="555.30" width="13.23" height="7.77" fill="#5faff5"/>
<rect x="456.92" y="562.77" width="13.23" height="7.77" fill="#0a0af5"/>
<rect x="469.85" y="562.77" width="13.23" height="7.77" fill="#0a0af5"/>
<rect x="482.78" y="562.77" width="13.23" height="7.77" fill="#0a0af5"/>
<rect x="495.71" y="562.77" width="13.23" height="7.77" fill="#0a0af5"/>
<rect x="508.64" y="562.77" width="13.23" height="7.77" fill="#0a0af5"/>
<rect x="521.57" y="562.77" width="13.23" height="7.77" fill="#3c6ef0"/>
<rect x="534.50" y="562.77" width="13.23" height="7.77" fill="#c3c3b9"/>
<rect x="547.43" y="562.77" width="13.23" height="7.77" fill="#dd0000"/>
<rect x="456.92" y="570.24" width="13.23" height="7.77" fill="#0a0af5"/>
<rect x="469.85" y="570.24" width="13.23" height="7.77" fill="#0a0af5"/>
<rect x="482.78" y="570.24" width="13.23" height="7.77" fill="#87f041"/>
<rect x="495.71" y="570.24" width="13.23" height="7.77" fill="#87f041"/>
<rect x="508.64" y="570.24" width="13.23" height="7.77" fill="#5faff5"/>
<rect x="521.57" y="570.24" width="13.23" height="7.77" fill="#82ebfa"/>
<rect x="534.50" y="570.24" width="13.23" height="7.77" fill="#3c6ef0"/>
<rect x="547.43" y="570.24" width="13.23" height="7.77" fill="#87f041"/>
<rect x="469.85" y="577.71" width="13.23" height="7.77" fill="#0a0af5"/>
<rect x="482.78" y="577.71" width="13.23" height="7.77" fill="#0a0af5"/>
<rect x="495.71" y="577.71" width="13.23" height="7.77" fill="#0a0af5"/>
<rect x="508.64" y="577.71" width="13.23" height="7.77" fill="#faeb32"/>
<rect x="521.57" y="577.71" width="13.23" height="7.77" fill="#dd0000"/>
<rect x="534.50" y="577.71" width="13.23" height="7.77" fill="#faeb32"/>
<rect x="547.43" y="577.71" width="13.23" height="7.77" fill="#0a0af5"/>
<rect x="469.85" y="585.18" width="13.23" height="7.77" fill="#0a0af5"/>
<rect x="482.78" y="585.18" width="13.23" height="7.77" fill="#e6dc8c"/>
<rect x="495.71" y="585.18" width="13.23" height="7.77" fill="#87f041"/>
<rect x="508.64" y="585.18" width="13.23" height="7.77" fill="#0a0af5"/>
<rect x="521.57" y="585.18" width="13.23" height="7.77" fill="#0a0af5"/>
<rect x="534.50" y="585.18" width="13.23" height="7.77" fill="#0a0af5"/>
<rect x="547.43" y="585.18" width="13.23" height="7.77" fill="#0a0af5"/>
<rect x="469.85" y="592.65" width="13.23" height="7.77" fill="#0a0af5"/>
<rect x="482.78" y="592.65" width="13.23" height="7.77" fill="#0a0af5"/>
<rect x="495.71" y="592.65" width="13.23" height="7.77" fill="#0a0af5"/>
<rect x="508.64" y="592.65" width="13.23" height="7.77" fill="#0a0af5"/>
<rect x="521.57" y="592.65" width="13.23" height="7.77" fill="#5faff5"/>
<rect x="534.50" y="592.65" width="13.23" height="7.77" fill="#82ebfa"/>
<rect x="469.85" y="600.12" width="13.23" height="7.77" fill="#0a0af5"/>
<rect x="482.78" y="600.12" width="13.23" height="7.77" fill="#3c6ef0"/>
<rect x="495.71" y="600.12" width="13.23" height="7.77" fill="#5faff5"/>
<rect x="508.64" y="600.12" width="13.23" height="7.77" fill="#0a0af5"/>
<rect x="521.57" y="600.12" width="13.23" height="7.77" fill="#c3c3b9"/>
<rect x="534.50" y="600.12" width="13.23" height="7.77" fill="#dd0000"/>
<rect x="482.78" y="607.59" width="13.23" height="7.77" fill="#e68728"/>
<rect x="495.71" y="607.59" width="13.23" height="7.77" fill="#faeb32"/>
<rect x="508.64" y="607.59" width="13.23" height="7.77" fill="#de4619"/>
<rect x="521.57" y="607.59" width="13.23" height="7.77" fill="#dd0000"/>
<rect x="534.50" y="607.59" width="13.23" height="7.77" fill="#de4619"/>
<rect x="482.78" y="615.06" width="13.23" height="7.77" fill="#0a0af5"/>
<rect x="495.71" y="615.06" width="13.23" height="7.77" fill="#5faff5"/>
<rect x="508.64" y="615.06" width="13.23" height="7.77" fill="#faeb32"/>
<rect x="521.57" y="615.06" width="13.23" height="7.77" fill="#dd0000"/>
<rect x="534.50" y="615.06" width="13.23" height="7.77" fill="#de4619"/>
<rect x="400.5" y="29.2" width="173.6" height="136.3" fill="none" stroke="#6e0a80" stroke-width="7" shape-rendering="auto"/>
<rect x="64.30" y="22.80" width="242.00" height="149.50" fill="none" stroke="#000" stroke-width="1.6"/>
<rect x="394.30" y="22.80" width="242.00" height="149.50" fill="none" stroke="#000" stroke-width="1.6"/>
<rect x="64.30" y="251.00" width="242.00" height="149.70" fill="none" stroke="#000" stroke-width="1.6"/>
<rect x="394.30" y="251.00" width="242.00" height="149.70" fill="none" stroke="#000" stroke-width="1.6"/>
<rect x="64.30" y="479.70" width="242.00" height="149.40" fill="none" stroke="#000" stroke-width="1.6"/>
<rect x="394.30" y="479.70" width="242.00" height="149.40" fill="none" stroke="#000" stroke-width="1.6"/>
<line x1="64.30" y1="172.30" x2="64.30" y2="167.80" stroke="#000" stroke-width="1.1"/>
<line x1="64.30" y1="22.80" x2="64.30" y2="27.30" stroke="#000" stroke-width="1.1"/>
<text x="64.30" y="193.90" text-anchor="middle" font-size="16">-20</text>
<line x1="124.80" y1="172.30" x2="124.80" y2="167.80" stroke="#000" stroke-width="1.1"/>
<line x1="124.80" y1="22.80" x2="124.80" y2="27.30" stroke="#000" stroke-width="1.1"/>
<text x="124.80" y="193.90" text-anchor="middle" font-size="16">-10</text>
<line x1="185.30" y1="172.30" x2="185.30" y2="167.80" stroke="#000" stroke-width="1.1"/>
<line x1="185.30" y1="22.80" x2="185.30" y2="27.30" stroke="#000" stroke-width="1.1"/>
<text x="185.30" y="193.90" text-anchor="middle" font-size="16">0</text>
<line x1="245.80" y1="172.30" x2="245.80" y2="167.80" stroke="#000" stroke-width="1.1"/>
<line x1="245.80" y1="22.80" x2="245.80" y2="27.30" stroke="#000" stroke-width="1.1"/>
<text x="245.80" y="193.90" text-anchor="middle" font-size="16">10</text>
<line x1="306.30" y1="172.30" x2="306.30" y2="167.80" stroke="#000" stroke-width="1.1"/>
<line x1="306.30" y1="22.80" x2="306.30" y2="27.30" stroke="#000" stroke-width="1.1"/>
<text x="306.30" y="193.90" text-anchor="middle" font-size="16">20</text>
<line x1="70.35" y1="172.30" x2="70.35" y2="170.20" stroke="#000" stroke-width="0.9"/>
<line x1="70.35" y1="22.80" x2="70.35" y2="24.90" stroke="#000" stroke-width="0.9"/>
<line x1="76.40" y1="172.30" x2="76.40" y2="170.20" stroke="#000" stroke-width="0.9"/>
<line x1="76.40" y1="22.80" x2="76.40" y2="24.90" stroke="#000" stroke-width="0.9"/>
<line x1="82.45" y1="172.30" x2="82.45" y2="170.20" stroke="#000" stroke-width="0.9"/>
<line x1="82.45" y1="22.80" x2="82.45" y2="24.90" stroke="#000" stroke-width="0.9"/>
<line x1="88.50" y1="172.30" x2="88.50" y2="170.20" stroke="#000" stroke-width="0.9"/>
<line x1="88.50" y1="22.80" x2="88.50" y2="24.90" stroke="#000" stroke-width="0.9"/>
<line x1="94.55" y1="172.30" x2="94.55" y2="170.20" stroke="#000" stroke-width="0.9"/>
<line x1="94.55" y1="22.80" x2="94.55" y2="24.90" stroke="#000" stroke-width="0.9"/>
<line x1="100.60" y1="172.30" x2="100.60" y2="170.20" stroke="#000" stroke-width="0.9"/>
<line x1="100.60" y1="22.80" x2="100.60" y2="24.90" stroke="#000" stroke-width="0.9"/>
<line x1="106.65" y1="172.30" x2="106.65" y2="170.20" stroke="#000" stroke-width="0.9"/>
<line x1="106.65" y1="22.80" x2="106.65" y2="24.90" stroke="#000" stroke-width="0.9"/>
<line x1="112.70" y1="172.30" x2="112.70" y2="170.20" stroke="#000" stroke-width="0.9"/>
<line x1="112.70" y1="22.80" x2="112.70" y2="24.90" stroke="#000" stroke-width="0.9"/>
<line x1="118.75" y1="172.30" x2="118.75" y2="170.20" stroke="#000" stroke-width="0.9"/>
<line x1="118.75" y1="22.80" x2="118.75" y2="24.90" stroke="#000" stroke-width="0.9"/>
<line x1="130.85" y1="172.30" x2="130.85" y2="170.20" stroke="#000" stroke-width="0.9"/>
<line x1="130.85" y1="22.80" x2="130.85" y2="24.90" stroke="#000" stroke-width="0.9"/>
<line x1="136.90" y1="172.30" x2="136.90" y2="170.20" stroke="#000" stroke-width="0.9"/>
<line x1="136.90" y1="22.80" x2="136.90" y2="24.90" stroke="#000" stroke-width="0.9"/>
<line x1="142.95" y1="172.30" x2="142.95" y2="170.20" stroke="#000" stroke-width="0.9"/>
<line x1="142.95" y1="22.80" x2="142.95" y2="24.90" stroke="#000" stroke-width="0.9"/>
<line x1="149.00" y1="172.30" x2="149.00" y2="170.20" stroke="#000" stroke-width="0.9"/>
<line x1="149.00" y1="22.80" x2="149.00" y2="24.90" stroke="#000" stroke-width="0.9"/>
<line x1="155.05" y1="172.30" x2="155.05" y2="170.20" stroke="#000" stroke-width="0.9"/>
<line x1="155.05" y1="22.80" x2="155.05" y2="24.90" stroke="#000" stroke-width="0.9"/>
<line x1="161.10" y1="172.30" x2="161.10" y2="170.20" stroke="#000" stroke-width="0.9"/>
<line x1="161.10" y1="22.80" x2="161.10" y2="24.90" stroke="#000" stroke-width="0.9"/>
<line x1="167.15" y1="172.30" x2="167.15" y2="170.20" stroke="#000" stroke-width="0.9"/>
<line x1="167.15" y1="22.80" x2="167.15" y2="24.90" stroke="#000" stroke-width="0.9"/>
<line x1="173.20" y1="172.30" x2="173.20" y2="170.20" stroke="#000" stroke-width="0.9"/>
<line x1="173.20" y1="22.80" x2="173.20" y2="24.90" stroke="#000" stroke-width="0.9"/>
<line x1="179.25" y1="172.30" x2="179.25" y2="170.20" stroke="#000" stroke-width="0.9"/>
<line x1="179.25" y1="22.80" x2="179.25" y2="24.90" stroke="#000" stroke-width="0.9"/>
<line x1="191.35" y1="172.30" x2="191.35" y2="170.20" stroke="#000" stroke-width="0.9"/>
<line x1="191.35" y1="22.80" x2="191.35" y2="24.90" stroke="#000" stroke-width="0.9"/>
<line x1="197.40" y1="172.30" x2="197.40" y2="170.20" stroke="#000" stroke-width="0.9"/>
<line x1="197.40" y1="22.80" x2="197.40" y2="24.90" stroke="#000" stroke-width="0.9"/>
<line x1="203.45" y1="172.30" x2="203.45" y2="170.20" stroke="#000" stroke-width="0.9"/>
<line x1="203.45" y1="22.80" x2="203.45" y2="24.90" stroke="#000" stroke-width="0.9"/>
<line x1="209.50" y1="172.30" x2="209.50" y2="170.20" stroke="#000" stroke-width="0.9"/>
<line x1="209.50" y1="22.80" x2="209.50" y2="24.90" stroke="#000" stroke-width="0.9"/>
<line x1="215.55" y1="172.30" x2="215.55" y2="170.20" stroke="#000" stroke-width="0.9"/>
<line x1="215.55" y1="22.80" x2="215.55" y2="24.90" stroke="#000" stroke-width="0.9"/>
<line x1="221.60" y1="172.30" x2="221.60" y2="170.20" stroke="#000" stroke-width="0.9"/>
<line x1="221.60" y1="22.80" x2="221.60" y2="24.90" stroke="#000" stroke-width="0.9"/>
<line x1="227.65" y1="172.30" x2="227.65" y2="170.20" stroke="#000" stroke-width="0.9"/>
<line x1="227.65" y1="22.80" x2="227.65" y2="24.90" stroke="#000" stroke-width="0.9"/>
<line x1="233.70" y1="172.30" x2="233.70" y2="170.20" stroke="#000" stroke-width="0.9"/>
<line x1="233.70" y1="22.80" x2="233.70" y2="24.90" stroke="#000" stroke-width="0.9"/>
<line x1="239.75" y1="172.30" x2="239.75" y2="170.20" stroke="#000" stroke-width="0.9"/>
<line x1="239.75" y1="22.80" x2="239.75" y2="24.90" stroke="#000" stroke-width="0.9"/>
<line x1="251.85" y1="172.30" x2="251.85" y2="170.20" stroke="#000" stroke-width="0.9"/>
<line x1="251.85" y1="22.80" x2="251.85" y2="24.90" stroke="#000" stroke-width="0.9"/>
<line x1="257.90" y1="172.30" x2="257.90" y2="170.20" stroke="#000" stroke-width="0.9"/>
<line x1="257.90" y1="22.80" x2="257.90" y2="24.90" stroke="#000" stroke-width="0.9"/>
<line x1="263.95" y1="172.30" x2="263.95" y2="170.20" stroke="#000" stroke-width="0.9"/>
<line x1="263.95" y1="22.80" x2="263.95" y2="24.90" stroke="#000" stroke-width="0.9"/>
<line x1="270.00" y1="172.30" x2="270.00" y2="170.20" stroke="#000" stroke-width="0.9"/>
<line x1="270.00" y1="22.80" x2="270.00" y2="24.90" stroke="#000" stroke-width="0.9"/>
<line x1="276.05" y1="172.30" x2="276.05" y2="170.20" stroke="#000" stroke-width="0.9"/>
<line x1="276.05" y1="22.80" x2="276.05" y2="24.90" stroke="#000" stroke-width="0.9"/>
<line x1="282.10" y1="172.30" x2="282.10" y2="170.20" stroke="#000" stroke-width="0.9"/>
<line x1="282.10" y1="22.80" x2="282.10" y2="24.90" stroke="#000" stroke-width="0.9"/>
<line x1="288.15" y1="172.30" x2="288.15" y2="170.20" stroke="#000" stroke-width="0.9"/>
<line x1="288.15" y1="22.80" x2="288.15" y2="24.90" stroke="#000" stroke-width="0.9"/>
<line x1="294.20" y1="172.30" x2="294.20" y2="170.20" stroke="#000" stroke-width="0.9"/>
<line x1="294.20" y1="22.80" x2="294.20" y2="24.90" stroke="#000" stroke-width="0.9"/>
<line x1="300.25" y1="172.30" x2="300.25" y2="170.20" stroke="#000" stroke-width="0.9"/>
<line x1="300.25" y1="22.80" x2="300.25" y2="24.90" stroke="#000" stroke-width="0.9"/>
<line x1="64.30" y1="53.30" x2="68.80" y2="53.30" stroke="#000" stroke-width="1.1"/>
<line x1="306.30" y1="53.30" x2="301.80" y2="53.30" stroke="#000" stroke-width="1.1"/>
<line x1="64.30" y1="87.45" x2="68.80" y2="87.45" stroke="#000" stroke-width="1.1"/>
<line x1="306.30" y1="87.45" x2="301.80" y2="87.45" stroke="#000" stroke-width="1.1"/>
<line x1="64.30" y1="121.60" x2="68.80" y2="121.60" stroke="#000" stroke-width="1.1"/>
<line x1="306.30" y1="121.60" x2="301.80" y2="121.60" stroke="#000" stroke-width="1.1"/>
<line x1="64.30" y1="155.75" x2="68.80" y2="155.75" stroke="#000" stroke-width="1.1"/>
<line x1="306.30" y1="155.75" x2="301.80" y2="155.75" stroke="#000" stroke-width="1.1"/>
<line x1="64.30" y1="169.41" x2="66.40" y2="169.41" stroke="#000" stroke-width="0.9"/>
<line x1="306.30" y1="169.41" x2="304.20" y2="169.41" stroke="#000" stroke-width="0.9"/>
<line x1="64.30" y1="166.00" x2="66.40" y2="166.00" stroke="#000" stroke-width="0.9"/>
<line x1="306.30" y1="166.00" x2="304.20" y2="166.00" stroke="#000" stroke-width="0.9"/>
<line x1="64.30" y1="162.58" x2="66.40" y2="162.58" stroke="#000" stroke-width="0.9"/>
<line x1="306.30" y1="162.58" x2="304.20" y2="162.58" stroke="#000" stroke-width="0.9"/>
<line x1="64.30" y1="159.16" x2="66.40" y2="159.16" stroke="#000" stroke-width="0.9"/>
<line x1="306.30" y1="159.16" x2="304.20" y2="159.16" stroke="#000" stroke-width="0.9"/>
<line x1="64.30" y1="152.33" x2="66.40" y2="152.33" stroke="#000" stroke-width="0.9"/>
<line x1="306.30" y1="152.33" x2="304.20" y2="152.33" stroke="#000" stroke-width="0.9"/>
<line x1="64.30" y1="148.92" x2="66.40" y2="148.92" stroke="#000" stroke-width="0.9"/>
<line x1="306.30" y1="148.92" x2="304.20" y2="148.92" stroke="#000" stroke-width="0.9"/>
<line x1="64.30" y1="145.50" x2="66.40" y2="145.50" stroke="#000" stroke-width="0.9"/>
<line x1="306.30" y1="145.50" x2="304.20" y2="145.50" stroke="#000" stroke-width="0.9"/>
<line x1="64.30" y1="142.09" x2="66.40" y2="142.09" stroke="#000" stroke-width="0.9"/>
<line x1="306.30" y1="142.09" x2="304.20" y2="142.09" stroke="#000" stroke-width="0.9"/>
<line x1="64.30" y1="138.68" x2="66.40" y2="138.68" stroke="#000" stroke-width="0.9"/>
<line x1="306.30" y1="138.68" x2="304.20" y2="138.68" stroke="#000" stroke-width="0.9"/>
<line x1="64.30" y1="135.26" x2="66.40" y2="135.26" stroke="#000" stroke-width="0.9"/>
<line x1="306.30" y1="135.26" x2="304.20" y2="135.26" stroke="#000" stroke-width="0.9"/>
<line x1="64.30" y1="131.84" x2="66.40" y2="131.84" stroke="#000" stroke-width="0.9"/>
<line x1="306.30" y1="131.84" x2="304.20" y2="131.84" stroke="#000" stroke-width="0.9"/>
<line x1="64.30" y1="128.43" x2="66.40" y2="128.43" stroke="#000" stroke-width="0.9"/>
<line x1="306.30" y1="128.43" x2="304.20" y2="128.43" stroke="#000" stroke-width="0.9"/>
<line x1="64.30" y1="125.02" x2="66.40" y2="125.02" stroke="#000" stroke-width="0.9"/>
<line x1="306.30" y1="125.02" x2="304.20" y2="125.02" stroke="#000" stroke-width="0.9"/>
<line x1="64.30" y1="118.19" x2="66.40" y2="118.19" stroke="#000" stroke-width="0.9"/>
<line x1="306.30" y1="118.19" x2="304.20" y2="118.19" stroke="#000" stroke-width="0.9"/>
<line x1="64.30" y1="114.77" x2="66.40" y2="114.77" stroke="#000" stroke-width="0.9"/>
<line x1="306.30" y1="114.77" x2="304.20" y2="114.77" stroke="#000" stroke-width="0.9"/>
<line x1="64.30" y1="111.35" x2="66.40" y2="111.35" stroke="#000" stroke-width="0.9"/>
<line x1="306.30" y1="111.35" x2="304.20" y2="111.35" stroke="#000" stroke-width="0.9"/>
<line x1="64.30" y1="107.94" x2="66.40" y2="107.94" stroke="#000" stroke-width="0.9"/>
<line x1="306.30" y1="107.94" x2="304.20" y2="107.94" stroke="#000" stroke-width="0.9"/>
<line x1="64.30" y1="104.53" x2="66.40" y2="104.53" stroke="#000" stroke-width="0.9"/>
<line x1="306.30" y1="104.53" x2="304.20" y2="104.53" stroke="#000" stroke-width="0.9"/>
<line x1="64.30" y1="101.11" x2="66.40" y2="101.11" stroke="#000" stroke-width="0.9"/>
<line x1="306.30" y1="101.11" x2="304.20" y2="101.11" stroke="#000" stroke-width="0.9"/>
<line x1="64.30" y1="97.69" x2="66.40" y2="97.69" stroke="#000" stroke-width="0.9"/>
<line x1="306.30" y1="97.69" x2="304.20" y2="97.69" stroke="#000" stroke-width="0.9"/>
<line x1="64.30" y1="94.28" x2="66.40" y2="94.28" stroke="#000" stroke-width="0.9"/>
<line x1="306.30" y1="94.28" x2="304.20" y2="94.28" stroke="#000" stroke-width="0.9"/>
<line x1="64.30" y1="90.86" x2="66.40" y2="90.86" stroke="#000" stroke-width="0.9"/>
<line x1="306.30" y1="90.86" x2="304.20" y2="90.86" stroke="#000" stroke-width="0.9"/>
<line x1="64.30" y1="84.03" x2="66.40" y2="84.03" stroke="#000" stroke-width="0.9"/>
<line x1="306.30" y1="84.03" x2="304.20" y2="84.03" stroke="#000" stroke-width="0.9"/>
<line x1="64.30" y1="80.62" x2="66.40" y2="80.62" stroke="#000" stroke-width="0.9"/>
<line x1="306.30" y1="80.62" x2="304.20" y2="80.62" stroke="#000" stroke-width="0.9"/>
<line x1="64.30" y1="77.20" x2="66.40" y2="77.20" stroke="#000" stroke-width="0.9"/>
<line x1="306.30" y1="77.20" x2="304.20" y2="77.20" stroke="#000" stroke-width="0.9"/>
<line x1="64.30" y1="73.79" x2="66.40" y2="73.79" stroke="#000" stroke-width="0.9"/>
<line x1="306.30" y1="73.79" x2="304.20" y2="73.79" stroke="#000" stroke-width="0.9"/>
<line x1="64.30" y1="70.38" x2="66.40" y2="70.38" stroke="#000" stroke-width="0.9"/>
<line x1="306.30" y1="70.38" x2="304.20" y2="70.38" stroke="#000" stroke-width="0.9"/>
<line x1="64.30" y1="66.96" x2="66.40" y2="66.96" stroke="#000" stroke-width="0.9"/>
<line x1="306.30" y1="66.96" x2="304.20" y2="66.96" stroke="#000" stroke-width="0.9"/>
<line x1="64.30" y1="63.55" x2="66.40" y2="63.55" stroke="#000" stroke-width="0.9"/>
<line x1="306.30" y1="63.55" x2="304.20" y2="63.55" stroke="#000" stroke-width="0.9"/>
<line x1="64.30" y1="60.13" x2="66.40" y2="60.13" stroke="#000" stroke-width="0.9"/>
<line x1="306.30" y1="60.13" x2="304.20" y2="60.13" stroke="#000" stroke-width="0.9"/>
<line x1="64.30" y1="56.71" x2="66.40" y2="56.71" stroke="#000" stroke-width="0.9"/>
<line x1="306.30" y1="56.71" x2="304.20" y2="56.71" stroke="#000" stroke-width="0.9"/>
<line x1="64.30" y1="49.88" x2="66.40" y2="49.88" stroke="#000" stroke-width="0.9"/>
<line x1="306.30" y1="49.88" x2="304.20" y2="49.88" stroke="#000" stroke-width="0.9"/>
<line x1="64.30" y1="46.47" x2="66.40" y2="46.47" stroke="#000" stroke-width="0.9"/>
<line x1="306.30" y1="46.47" x2="304.20" y2="46.47" stroke="#000" stroke-width="0.9"/>
<line x1="64.30" y1="43.05" x2="66.40" y2="43.05" stroke="#000" stroke-width="0.9"/>
<line x1="306.30" y1="43.05" x2="304.20" y2="43.05" stroke="#000" stroke-width="0.9"/>
<line x1="64.30" y1="39.64" x2="66.40" y2="39.64" stroke="#000" stroke-width="0.9"/>
<line x1="306.30" y1="39.64" x2="304.20" y2="39.64" stroke="#000" stroke-width="0.9"/>
<line x1="64.30" y1="36.22" x2="66.40" y2="36.22" stroke="#000" stroke-width="0.9"/>
<line x1="306.30" y1="36.22" x2="304.20" y2="36.22" stroke="#000" stroke-width="0.9"/>
<line x1="64.30" y1="32.81" x2="66.40" y2="32.81" stroke="#000" stroke-width="0.9"/>
<line x1="306.30" y1="32.81" x2="304.20" y2="32.81" stroke="#000" stroke-width="0.9"/>
<line x1="64.30" y1="29.39" x2="66.40" y2="29.39" stroke="#000" stroke-width="0.9"/>
<line x1="306.30" y1="29.39" x2="304.20" y2="29.39" stroke="#000" stroke-width="0.9"/>
<line x1="64.30" y1="25.98" x2="66.40" y2="25.98" stroke="#000" stroke-width="0.9"/>
<line x1="306.30" y1="25.98" x2="304.20" y2="25.98" stroke="#000" stroke-width="0.9"/>
<text x="59.30" y="58.70" text-anchor="end" font-size="16">-765</text>
<text x="59.30" y="92.85" text-anchor="end" font-size="16">-770</text>
<text x="59.30" y="127.00" text-anchor="end" font-size="16">-775</text>
<text x="59.30" y="161.15" text-anchor="end" font-size="16">-780</text>
<text x="185.30" y="211.20" text-anchor="middle" font-size="16.5">X [arcsec]</text>
<line x1="394.30" y1="172.30" x2="394.30" y2="167.80" stroke="#000" stroke-width="1.1"/>
<line x1="394.30" y1="22.80" x2="394.30" y2="27.30" stroke="#000" stroke-width="1.1"/>
<text x="394.30" y="193.90" text-anchor="middle" font-size="16">-20</text>
<line x1="454.80" y1="172.30" x2="454.80" y2="167.80" stroke="#000" stroke-width="1.1"/>
<line x1="454.80" y1="22.80" x2="454.80" y2="27.30" stroke="#000" stroke-width="1.1"/>
<text x="454.80" y="193.90" text-anchor="middle" font-size="16">-10</text>
<line x1="515.30" y1="172.30" x2="515.30" y2="167.80" stroke="#000" stroke-width="1.1"/>
<line x1="515.30" y1="22.80" x2="515.30" y2="27.30" stroke="#000" stroke-width="1.1"/>
<text x="515.30" y="193.90" text-anchor="middle" font-size="16">0</text>
<line x1="575.80" y1="172.30" x2="575.80" y2="167.80" stroke="#000" stroke-width="1.1"/>
<line x1="575.80" y1="22.80" x2="575.80" y2="27.30" stroke="#000" stroke-width="1.1"/>
<text x="575.80" y="193.90" text-anchor="middle" font-size="16">10</text>
<line x1="636.30" y1="172.30" x2="636.30" y2="167.80" stroke="#000" stroke-width="1.1"/>
<line x1="636.30" y1="22.80" x2="636.30" y2="27.30" stroke="#000" stroke-width="1.1"/>
<text x="636.30" y="193.90" text-anchor="middle" font-size="16">20</text>
<line x1="400.35" y1="172.30" x2="400.35" y2="170.20" stroke="#000" stroke-width="0.9"/>
<line x1="400.35" y1="22.80" x2="400.35" y2="24.90" stroke="#000" stroke-width="0.9"/>
<line x1="406.40" y1="172.30" x2="406.40" y2="170.20" stroke="#000" stroke-width="0.9"/>
<line x1="406.40" y1="22.80" x2="406.40" y2="24.90" stroke="#000" stroke-width="0.9"/>
<line x1="412.45" y1="172.30" x2="412.45" y2="170.20" stroke="#000" stroke-width="0.9"/>
<line x1="412.45" y1="22.80" x2="412.45" y2="24.90" stroke="#000" stroke-width="0.9"/>
<line x1="418.50" y1="172.30" x2="418.50" y2="170.20" stroke="#000" stroke-width="0.9"/>
<line x1="418.50" y1="22.80" x2="418.50" y2="24.90" stroke="#000" stroke-width="0.9"/>
<line x1="424.55" y1="172.30" x2="424.55" y2="170.20" stroke="#000" stroke-width="0.9"/>
<line x1="424.55" y1="22.80" x2="424.55" y2="24.90" stroke="#000" stroke-width="0.9"/>
<line x1="430.60" y1="172.30" x2="430.60" y2="170.20" stroke="#000" stroke-width="0.9"/>
<line x1="430.60" y1="22.80" x2="430.60" y2="24.90" stroke="#000" stroke-width="0.9"/>
<line x1="436.65" y1="172.30" x2="436.65" y2="170.20" stroke="#000" stroke-width="0.9"/>
<line x1="436.65" y1="22.80" x2="436.65" y2="24.90" stroke="#000" stroke-width="0.9"/>
<line x1="442.70" y1="172.30" x2="442.70" y2="170.20" stroke="#000" stroke-width="0.9"/>
<line x1="442.70" y1="22.80" x2="442.70" y2="24.90" stroke="#000" stroke-width="0.9"/>
<line x1="448.75" y1="172.30" x2="448.75" y2="170.20" stroke="#000" stroke-width="0.9"/>
<line x1="448.75" y1="22.80" x2="448.75" y2="24.90" stroke="#000" stroke-width="0.9"/>
<line x1="460.85" y1="172.30" x2="460.85" y2="170.20" stroke="#000" stroke-width="0.9"/>
<line x1="460.85" y1="22.80" x2="460.85" y2="24.90" stroke="#000" stroke-width="0.9"/>
<line x1="466.90" y1="172.30" x2="466.90" y2="170.20" stroke="#000" stroke-width="0.9"/>
<line x1="466.90" y1="22.80" x2="466.90" y2="24.90" stroke="#000" stroke-width="0.9"/>
<line x1="472.95" y1="172.30" x2="472.95" y2="170.20" stroke="#000" stroke-width="0.9"/>
<line x1="472.95" y1="22.80" x2="472.95" y2="24.90" stroke="#000" stroke-width="0.9"/>
<line x1="479.00" y1="172.30" x2="479.00" y2="170.20" stroke="#000" stroke-width="0.9"/>
<line x1="479.00" y1="22.80" x2="479.00" y2="24.90" stroke="#000" stroke-width="0.9"/>
<line x1="485.05" y1="172.30" x2="485.05" y2="170.20" stroke="#000" stroke-width="0.9"/>
<line x1="485.05" y1="22.80" x2="485.05" y2="24.90" stroke="#000" stroke-width="0.9"/>
<line x1="491.10" y1="172.30" x2="491.10" y2="170.20" stroke="#000" stroke-width="0.9"/>
<line x1="491.10" y1="22.80" x2="491.10" y2="24.90" stroke="#000" stroke-width="0.9"/>
<line x1="497.15" y1="172.30" x2="497.15" y2="170.20" stroke="#000" stroke-width="0.9"/>
<line x1="497.15" y1="22.80" x2="497.15" y2="24.90" stroke="#000" stroke-width="0.9"/>
<line x1="503.20" y1="172.30" x2="503.20" y2="170.20" stroke="#000" stroke-width="0.9"/>
<line x1="503.20" y1="22.80" x2="503.20" y2="24.90" stroke="#000" stroke-width="0.9"/>
<line x1="509.25" y1="172.30" x2="509.25" y2="170.20" stroke="#000" stroke-width="0.9"/>
<line x1="509.25" y1="22.80" x2="509.25" y2="24.90" stroke="#000" stroke-width="0.9"/>
<line x1="521.35" y1="172.30" x2="521.35" y2="170.20" stroke="#000" stroke-width="0.9"/>
<line x1="521.35" y1="22.80" x2="521.35" y2="24.90" stroke="#000" stroke-width="0.9"/>
<line x1="527.40" y1="172.30" x2="527.40" y2="170.20" stroke="#000" stroke-width="0.9"/>
<line x1="527.40" y1="22.80" x2="527.40" y2="24.90" stroke="#000" stroke-width="0.9"/>
<line x1="533.45" y1="172.30" x2="533.45" y2="170.20" stroke="#000" stroke-width="0.9"/>
<line x1="533.45" y1="22.80" x2="533.45" y2="24.90" stroke="#000" stroke-width="0.9"/>
<line x1="539.50" y1="172.30" x2="539.50" y2="170.20" stroke="#000" stroke-width="0.9"/>
<line x1="539.50" y1="22.80" x2="539.50" y2="24.90" stroke="#000" stroke-width="0.9"/>
<line x1="545.55" y1="172.30" x2="545.55" y2="170.20" stroke="#000" stroke-width="0.9"/>
<line x1="545.55" y1="22.80" x2="545.55" y2="24.90" stroke="#000" stroke-width="0.9"/>
<line x1="551.60" y1="172.30" x2="551.60" y2="170.20" stroke="#000" stroke-width="0.9"/>
<line x1="551.60" y1="22.80" x2="551.60" y2="24.90" stroke="#000" stroke-width="0.9"/>
<line x1="557.65" y1="172.30" x2="557.65" y2="170.20" stroke="#000" stroke-width="0.9"/>
<line x1="557.65" y1="22.80" x2="557.65" y2="24.90" stroke="#000" stroke-width="0.9"/>
<line x1="563.70" y1="172.30" x2="563.70" y2="170.20" stroke="#000" stroke-width="0.9"/>
<line x1="563.70" y1="22.80" x2="563.70" y2="24.90" stroke="#000" stroke-width="0.9"/>
<line x1="569.75" y1="172.30" x2="569.75" y2="170.20" stroke="#000" stroke-width="0.9"/>
<line x1="569.75" y1="22.80" x2="569.75" y2="24.90" stroke="#000" stroke-width="0.9"/>
<line x1="581.85" y1="172.30" x2="581.85" y2="170.20" stroke="#000" stroke-width="0.9"/>
<line x1="581.85" y1="22.80" x2="581.85" y2="24.90" stroke="#000" stroke-width="0.9"/>
<line x1="587.90" y1="172.30" x2="587.90" y2="170.20" stroke="#000" stroke-width="0.9"/>
<line x1="587.90" y1="22.80" x2="587.90" y2="24.90" stroke="#000" stroke-width="0.9"/>
<line x1="593.95" y1="172.30" x2="593.95" y2="170.20" stroke="#000" stroke-width="0.9"/>
<line x1="593.95" y1="22.80" x2="593.95" y2="24.90" stroke="#000" stroke-width="0.9"/>
<line x1="600.00" y1="172.30" x2="600.00" y2="170.20" stroke="#000" stroke-width="0.9"/>
<line x1="600.00" y1="22.80" x2="600.00" y2="24.90" stroke="#000" stroke-width="0.9"/>
<line x1="606.05" y1="172.30" x2="606.05" y2="170.20" stroke="#000" stroke-width="0.9"/>
<line x1="606.05" y1="22.80" x2="606.05" y2="24.90" stroke="#000" stroke-width="0.9"/>
<line x1="612.10" y1="172.30" x2="612.10" y2="170.20" stroke="#000" stroke-width="0.9"/>
<line x1="612.10" y1="22.80" x2="612.10" y2="24.90" stroke="#000" stroke-width="0.9"/>
<line x1="618.15" y1="172.30" x2="618.15" y2="170.20" stroke="#000" stroke-width="0.9"/>
<line x1="618.15" y1="22.80" x2="618.15" y2="24.90" stroke="#000" stroke-width="0.9"/>
<line x1="624.20" y1="172.30" x2="624.20" y2="170.20" stroke="#000" stroke-width="0.9"/>
<line x1="624.20" y1="22.80" x2="624.20" y2="24.90" stroke="#000" stroke-width="0.9"/>
<line x1="630.25" y1="172.30" x2="630.25" y2="170.20" stroke="#000" stroke-width="0.9"/>
<line x1="630.25" y1="22.80" x2="630.25" y2="24.90" stroke="#000" stroke-width="0.9"/>
<line x1="394.30" y1="53.30" x2="398.80" y2="53.30" stroke="#000" stroke-width="1.1"/>
<line x1="636.30" y1="53.30" x2="631.80" y2="53.30" stroke="#000" stroke-width="1.1"/>
<line x1="394.30" y1="87.45" x2="398.80" y2="87.45" stroke="#000" stroke-width="1.1"/>
<line x1="636.30" y1="87.45" x2="631.80" y2="87.45" stroke="#000" stroke-width="1.1"/>
<line x1="394.30" y1="121.60" x2="398.80" y2="121.60" stroke="#000" stroke-width="1.1"/>
<line x1="636.30" y1="121.60" x2="631.80" y2="121.60" stroke="#000" stroke-width="1.1"/>
<line x1="394.30" y1="155.75" x2="398.80" y2="155.75" stroke="#000" stroke-width="1.1"/>
<line x1="636.30" y1="155.75" x2="631.80" y2="155.75" stroke="#000" stroke-width="1.1"/>
<line x1="394.30" y1="169.41" x2="396.40" y2="169.41" stroke="#000" stroke-width="0.9"/>
<line x1="636.30" y1="169.41" x2="634.20" y2="169.41" stroke="#000" stroke-width="0.9"/>
<line x1="394.30" y1="166.00" x2="396.40" y2="166.00" stroke="#000" stroke-width="0.9"/>
<line x1="636.30" y1="166.00" x2="634.20" y2="166.00" stroke="#000" stroke-width="0.9"/>
<line x1="394.30" y1="162.58" x2="396.40" y2="162.58" stroke="#000" stroke-width="0.9"/>
<line x1="636.30" y1="162.58" x2="634.20" y2="162.58" stroke="#000" stroke-width="0.9"/>
<line x1="394.30" y1="159.16" x2="396.40" y2="159.16" stroke="#000" stroke-width="0.9"/>
<line x1="636.30" y1="159.16" x2="634.20" y2="159.16" stroke="#000" stroke-width="0.9"/>
<line x1="394.30" y1="152.33" x2="396.40" y2="152.33" stroke="#000" stroke-width="0.9"/>
<line x1="636.30" y1="152.33" x2="634.20" y2="152.33" stroke="#000" stroke-width="0.9"/>
<line x1="394.30" y1="148.92" x2="396.40" y2="148.92" stroke="#000" stroke-width="0.9"/>
<line x1="636.30" y1="148.92" x2="634.20" y2="148.92" stroke="#000" stroke-width="0.9"/>
<line x1="394.30" y1="145.50" x2="396.40" y2="145.50" stroke="#000" stroke-width="0.9"/>
<line x1="636.30" y1="145.50" x2="634.20" y2="145.50" stroke="#000" stroke-width="0.9"/>
<line x1="394.30" y1="142.09" x2="396.40" y2="142.09" stroke="#000" stroke-width="0.9"/>
<line x1="636.30" y1="142.09" x2="634.20" y2="142.09" stroke="#000" stroke-width="0.9"/>
<line x1="394.30" y1="138.68" x2="396.40" y2="138.68" stroke="#000" stroke-width="0.9"/>
<line x1="636.30" y1="138.68" x2="634.20" y2="138.68" stroke="#000" stroke-width="0.9"/>
<line x1="394.30" y1="135.26" x2="396.40" y2="135.26" stroke="#000" stroke-width="0.9"/>
<line x1="636.30" y1="135.26" x2="634.20" y2="135.26" stroke="#000" stroke-width="0.9"/>
<line x1="394.30" y1="131.84" x2="396.40" y2="131.84" stroke="#000" stroke-width="0.9"/>
<line x1="636.30" y1="131.84" x2="634.20" y2="131.84" stroke="#000" stroke-width="0.9"/>
<line x1="394.30" y1="128.43" x2="396.40" y2="128.43" stroke="#000" stroke-width="0.9"/>
<line x1="636.30" y1="128.43" x2="634.20" y2="128.43" stroke="#000" stroke-width="0.9"/>
<line x1="394.30" y1="125.02" x2="396.40" y2="125.02" stroke="#000" stroke-width="0.9"/>
<line x1="636.30" y1="125.02" x2="634.20" y2="125.02" stroke="#000" stroke-width="0.9"/>
<line x1="394.30" y1="118.19" x2="396.40" y2="118.19" stroke="#000" stroke-width="0.9"/>
<line x1="636.30" y1="118.19" x2="634.20" y2="118.19" stroke="#000" stroke-width="0.9"/>
<line x1="394.30" y1="114.77" x2="396.40" y2="114.77" stroke="#000" stroke-width="0.9"/>
<line x1="636.30" y1="114.77" x2="634.20" y2="114.77" stroke="#000" stroke-width="0.9"/>
<line x1="394.30" y1="111.35" x2="396.40" y2="111.35" stroke="#000" stroke-width="0.9"/>
<line x1="636.30" y1="111.35" x2="634.20" y2="111.35" stroke="#000" stroke-width="0.9"/>
<line x1="394.30" y1="107.94" x2="396.40" y2="107.94" stroke="#000" stroke-width="0.9"/>
<line x1="636.30" y1="107.94" x2="634.20" y2="107.94" stroke="#000" stroke-width="0.9"/>
<line x1="394.30" y1="104.53" x2="396.40" y2="104.53" stroke="#000" stroke-width="0.9"/>
<line x1="636.30" y1="104.53" x2="634.20" y2="104.53" stroke="#000" stroke-width="0.9"/>
<line x1="394.30" y1="101.11" x2="396.40" y2="101.11" stroke="#000" stroke-width="0.9"/>
<line x1="636.30" y1="101.11" x2="634.20" y2="101.11" stroke="#000" stroke-width="0.9"/>
<line x1="394.30" y1="97.69" x2="396.40" y2="97.69" stroke="#000" stroke-width="0.9"/>
<line x1="636.30" y1="97.69" x2="634.20" y2="97.69" stroke="#000" stroke-width="0.9"/>
<line x1="394.30" y1="94.28" x2="396.40" y2="94.28" stroke="#000" stroke-width="0.9"/>
<line x1="636.30" y1="94.28" x2="634.20" y2="94.28" stroke="#000" stroke-width="0.9"/>
<line x1="394.30" y1="90.86" x2="396.40" y2="90.86" stroke="#000" stroke-width="0.9"/>
<line x1="636.30" y1="90.86" x2="634.20" y2="90.86" stroke="#000" stroke-width="0.9"/>
<line x1="394.30" y1="84.03" x2="396.40" y2="84.03" stroke="#000" stroke-width="0.9"/>
<line x1="636.30" y1="84.03" x2="634.20" y2="84.03" stroke="#000" stroke-width="0.9"/>
<line x1="394.30" y1="80.62" x2="396.40" y2="80.62" stroke="#000" stroke-width="0.9"/>
<line x1="636.30" y1="80.62" x2="634.20" y2="80.62" stroke="#000" stroke-width="0.9"/>
<line x1="394.30" y1="77.20" x2="396.40" y2="77.20" stroke="#000" stroke-width="0.9"/>
<line x1="636.30" y1="77.20" x2="634.20" y2="77.20" stroke="#000" stroke-width="0.9"/>
<line x1="394.30" y1="73.79" x2="396.40" y2="73.79" stroke="#000" stroke-width="0.9"/>
<line x1="636.30" y1="73.79" x2="634.20" y2="73.79" stroke="#000" stroke-width="0.9"/>
<line x1="394.30" y1="70.38" x2="396.40" y2="70.38" stroke="#000" stroke-width="0.9"/>
<line x1="636.30" y1="70.38" x2="634.20" y2="70.38" stroke="#000" stroke-width="0.9"/>
<line x1="394.30" y1="66.96" x2="396.40" y2="66.96" stroke="#000" stroke-width="0.9"/>
<line x1="636.30" y1="66.96" x2="634.20" y2="66.96" stroke="#000" stroke-width="0.9"/>
<line x1="394.30" y1="63.55" x2="396.40" y2="63.55" stroke="#000" stroke-width="0.9"/>
<line x1="636.30" y1="63.55" x2="634.20" y2="63.55" stroke="#000" stroke-width="0.9"/>
<line x1="394.30" y1="60.13" x2="396.40" y2="60.13" stroke="#000" stroke-width="0.9"/>
<line x1="636.30" y1="60.13" x2="634.20" y2="60.13" stroke="#000" stroke-width="0.9"/>
<line x1="394.30" y1="56.71" x2="396.40" y2="56.71" stroke="#000" stroke-width="0.9"/>
<line x1="636.30" y1="56.71" x2="634.20" y2="56.71" stroke="#000" stroke-width="0.9"/>
<line x1="394.30" y1="49.88" x2="396.40" y2="49.88" stroke="#000" stroke-width="0.9"/>
<line x1="636.30" y1="49.88" x2="634.20" y2="49.88" stroke="#000" stroke-width="0.9"/>
<line x1="394.30" y1="46.47" x2="396.40" y2="46.47" stroke="#000" stroke-width="0.9"/>
<line x1="636.30" y1="46.47" x2="634.20" y2="46.47" stroke="#000" stroke-width="0.9"/>
<line x1="394.30" y1="43.05" x2="396.40" y2="43.05" stroke="#000" stroke-width="0.9"/>
<line x1="636.30" y1="43.05" x2="634.20" y2="43.05" stroke="#000" stroke-width="0.9"/>
<line x1="394.30" y1="39.64" x2="396.40" y2="39.64" stroke="#000" stroke-width="0.9"/>
<line x1="636.30" y1="39.64" x2="634.20" y2="39.64" stroke="#000" stroke-width="0.9"/>
<line x1="394.30" y1="36.22" x2="396.40" y2="36.22" stroke="#000" stroke-width="0.9"/>
<line x1="636.30" y1="36.22" x2="634.20" y2="36.22" stroke="#000" stroke-width="0.9"/>
<line x1="394.30" y1="32.81" x2="396.40" y2="32.81" stroke="#000" stroke-width="0.9"/>
<line x1="636.30" y1="32.81" x2="634.20" y2="32.81" stroke="#000" stroke-width="0.9"/>
<line x1="394.30" y1="29.39" x2="396.40" y2="29.39" stroke="#000" stroke-width="0.9"/>
<line x1="636.30" y1="29.39" x2="634.20" y2="29.39" stroke="#000" stroke-width="0.9"/>
<line x1="394.30" y1="25.98" x2="396.40" y2="25.98" stroke="#000" stroke-width="0.9"/>
<line x1="636.30" y1="25.98" x2="634.20" y2="25.98" stroke="#000" stroke-width="0.9"/>
<text x="389.30" y="58.70" text-anchor="end" font-size="16">-765</text>
<text x="389.30" y="92.85" text-anchor="end" font-size="16">-770</text>
<text x="389.30" y="127.00" text-anchor="end" font-size="16">-775</text>
<text x="389.30" y="161.15" text-anchor="end" font-size="16">-780</text>
<text x="515.30" y="211.20" text-anchor="middle" font-size="16.5">X [arcsec]</text>
<text x="185.30" y="14.20" text-anchor="middle" font-size="20.8">(a) AIA 30.4 nm</text>
<text x="515.30" y="14.40" text-anchor="middle" font-size="20.8">(b) HMI</text>
<text x="17.40" y="98.00" text-anchor="middle" font-size="16.5" transform="rotate(-90 17.4 98.0)">Y [arcsec]</text>
<text x="347.30" y="98.00" text-anchor="middle" font-size="16.5" transform="rotate(-90 347.3 98.0)">Y [arcsec]</text>
<line x1="69.30" y1="400.70" x2="69.30" y2="396.20" stroke="#000" stroke-width="1.1"/>
<line x1="69.30" y1="251.00" x2="69.30" y2="255.50" stroke="#000" stroke-width="1.1"/>
<text x="69.30" y="424.20" text-anchor="middle" font-size="18">-0.10</text>
<line x1="127.30" y1="400.70" x2="127.30" y2="396.20" stroke="#000" stroke-width="1.1"/>
<line x1="127.30" y1="251.00" x2="127.30" y2="255.50" stroke="#000" stroke-width="1.1"/>
<text x="127.30" y="424.20" text-anchor="middle" font-size="18">-0.05</text>
<line x1="185.30" y1="400.70" x2="185.30" y2="396.20" stroke="#000" stroke-width="1.1"/>
<line x1="185.30" y1="251.00" x2="185.30" y2="255.50" stroke="#000" stroke-width="1.1"/>
<text x="185.30" y="424.20" text-anchor="middle" font-size="18">0.00</text>
<line x1="243.30" y1="400.70" x2="243.30" y2="396.20" stroke="#000" stroke-width="1.1"/>
<line x1="243.30" y1="251.00" x2="243.30" y2="255.50" stroke="#000" stroke-width="1.1"/>
<text x="243.30" y="424.20" text-anchor="middle" font-size="18">0.05</text>
<line x1="301.30" y1="400.70" x2="301.30" y2="396.20" stroke="#000" stroke-width="1.1"/>
<line x1="301.30" y1="251.00" x2="301.30" y2="255.50" stroke="#000" stroke-width="1.1"/>
<text x="301.30" y="424.20" text-anchor="middle" font-size="18">0.10</text>
<line x1="80.90" y1="400.70" x2="80.90" y2="398.60" stroke="#000" stroke-width="0.9"/>
<line x1="80.90" y1="251.00" x2="80.90" y2="253.10" stroke="#000" stroke-width="0.9"/>
<line x1="92.50" y1="400.70" x2="92.50" y2="398.60" stroke="#000" stroke-width="0.9"/>
<line x1="92.50" y1="251.00" x2="92.50" y2="253.10" stroke="#000" stroke-width="0.9"/>
<line x1="104.10" y1="400.70" x2="104.10" y2="398.60" stroke="#000" stroke-width="0.9"/>
<line x1="104.10" y1="251.00" x2="104.10" y2="253.10" stroke="#000" stroke-width="0.9"/>
<line x1="115.70" y1="400.70" x2="115.70" y2="398.60" stroke="#000" stroke-width="0.9"/>
<line x1="115.70" y1="251.00" x2="115.70" y2="253.10" stroke="#000" stroke-width="0.9"/>
<line x1="138.90" y1="400.70" x2="138.90" y2="398.60" stroke="#000" stroke-width="0.9"/>
<line x1="138.90" y1="251.00" x2="138.90" y2="253.10" stroke="#000" stroke-width="0.9"/>
<line x1="150.50" y1="400.70" x2="150.50" y2="398.60" stroke="#000" stroke-width="0.9"/>
<line x1="150.50" y1="251.00" x2="150.50" y2="253.10" stroke="#000" stroke-width="0.9"/>
<line x1="162.10" y1="400.70" x2="162.10" y2="398.60" stroke="#000" stroke-width="0.9"/>
<line x1="162.10" y1="251.00" x2="162.10" y2="253.10" stroke="#000" stroke-width="0.9"/>
<line x1="173.70" y1="400.70" x2="173.70" y2="398.60" stroke="#000" stroke-width="0.9"/>
<line x1="173.70" y1="251.00" x2="173.70" y2="253.10" stroke="#000" stroke-width="0.9"/>
<line x1="196.90" y1="400.70" x2="196.90" y2="398.60" stroke="#000" stroke-width="0.9"/>
<line x1="196.90" y1="251.00" x2="196.90" y2="253.10" stroke="#000" stroke-width="0.9"/>
<line x1="208.50" y1="400.70" x2="208.50" y2="398.60" stroke="#000" stroke-width="0.9"/>
<line x1="208.50" y1="251.00" x2="208.50" y2="253.10" stroke="#000" stroke-width="0.9"/>
<line x1="220.10" y1="400.70" x2="220.10" y2="398.60" stroke="#000" stroke-width="0.9"/>
<line x1="220.10" y1="251.00" x2="220.10" y2="253.10" stroke="#000" stroke-width="0.9"/>
<line x1="231.70" y1="400.70" x2="231.70" y2="398.60" stroke="#000" stroke-width="0.9"/>
<line x1="231.70" y1="251.00" x2="231.70" y2="253.10" stroke="#000" stroke-width="0.9"/>
<line x1="254.90" y1="400.70" x2="254.90" y2="398.60" stroke="#000" stroke-width="0.9"/>
<line x1="254.90" y1="251.00" x2="254.90" y2="253.10" stroke="#000" stroke-width="0.9"/>
<line x1="266.50" y1="400.70" x2="266.50" y2="398.60" stroke="#000" stroke-width="0.9"/>
<line x1="266.50" y1="251.00" x2="266.50" y2="253.10" stroke="#000" stroke-width="0.9"/>
<line x1="278.10" y1="400.70" x2="278.10" y2="398.60" stroke="#000" stroke-width="0.9"/>
<line x1="278.10" y1="251.00" x2="278.10" y2="253.10" stroke="#000" stroke-width="0.9"/>
<line x1="289.70" y1="400.70" x2="289.70" y2="398.60" stroke="#000" stroke-width="0.9"/>
<line x1="289.70" y1="251.00" x2="289.70" y2="253.10" stroke="#000" stroke-width="0.9"/>
<line x1="64.30" y1="281.70" x2="68.80" y2="281.70" stroke="#000" stroke-width="1.1"/>
<line x1="306.30" y1="281.70" x2="301.80" y2="281.70" stroke="#000" stroke-width="1.1"/>
<line x1="64.30" y1="315.85" x2="68.80" y2="315.85" stroke="#000" stroke-width="1.1"/>
<line x1="306.30" y1="315.85" x2="301.80" y2="315.85" stroke="#000" stroke-width="1.1"/>
<line x1="64.30" y1="350.00" x2="68.80" y2="350.00" stroke="#000" stroke-width="1.1"/>
<line x1="306.30" y1="350.00" x2="301.80" y2="350.00" stroke="#000" stroke-width="1.1"/>
<line x1="64.30" y1="384.15" x2="68.80" y2="384.15" stroke="#000" stroke-width="1.1"/>
<line x1="306.30" y1="384.15" x2="301.80" y2="384.15" stroke="#000" stroke-width="1.1"/>
<line x1="64.30" y1="397.81" x2="66.40" y2="397.81" stroke="#000" stroke-width="0.9"/>
<line x1="306.30" y1="397.81" x2="304.20" y2="397.81" stroke="#000" stroke-width="0.9"/>
<line x1="64.30" y1="390.98" x2="66.40" y2="390.98" stroke="#000" stroke-width="0.9"/>
<line x1="306.30" y1="390.98" x2="304.20" y2="390.98" stroke="#000" stroke-width="0.9"/>
<line x1="64.30" y1="377.32" x2="66.40" y2="377.32" stroke="#000" stroke-width="0.9"/>
<line x1="306.30" y1="377.32" x2="304.20" y2="377.32" stroke="#000" stroke-width="0.9"/>
<line x1="64.30" y1="370.49" x2="66.40" y2="370.49" stroke="#000" stroke-width="0.9"/>
<line x1="306.30" y1="370.49" x2="304.20" y2="370.49" stroke="#000" stroke-width="0.9"/>
<line x1="64.30" y1="363.66" x2="66.40" y2="363.66" stroke="#000" stroke-width="0.9"/>
<line x1="306.30" y1="363.66" x2="304.20" y2="363.66" stroke="#000" stroke-width="0.9"/>
<line x1="64.30" y1="356.83" x2="66.40" y2="356.83" stroke="#000" stroke-width="0.9"/>
<line x1="306.30" y1="356.83" x2="304.20" y2="356.83" stroke="#000" stroke-width="0.9"/>
<line x1="64.30" y1="343.17" x2="66.40" y2="343.17" stroke="#000" stroke-width="0.9"/>
<line x1="306.30" y1="343.17" x2="304.20" y2="343.17" stroke="#000" stroke-width="0.9"/>
<line x1="64.30" y1="336.34" x2="66.40" y2="336.34" stroke="#000" stroke-width="0.9"/>
<line x1="306.30" y1="336.34" x2="304.20" y2="336.34" stroke="#000" stroke-width="0.9"/>
<line x1="64.30" y1="329.51" x2="66.40" y2="329.51" stroke="#000" stroke-width="0.9"/>
<line x1="306.30" y1="329.51" x2="304.20" y2="329.51" stroke="#000" stroke-width="0.9"/>
<line x1="64.30" y1="322.68" x2="66.40" y2="322.68" stroke="#000" stroke-width="0.9"/>
<line x1="306.30" y1="322.68" x2="304.20" y2="322.68" stroke="#000" stroke-width="0.9"/>
<line x1="64.30" y1="309.02" x2="66.40" y2="309.02" stroke="#000" stroke-width="0.9"/>
<line x1="306.30" y1="309.02" x2="304.20" y2="309.02" stroke="#000" stroke-width="0.9"/>
<line x1="64.30" y1="302.19" x2="66.40" y2="302.19" stroke="#000" stroke-width="0.9"/>
<line x1="306.30" y1="302.19" x2="304.20" y2="302.19" stroke="#000" stroke-width="0.9"/>
<line x1="64.30" y1="295.36" x2="66.40" y2="295.36" stroke="#000" stroke-width="0.9"/>
<line x1="306.30" y1="295.36" x2="304.20" y2="295.36" stroke="#000" stroke-width="0.9"/>
<line x1="64.30" y1="288.53" x2="66.40" y2="288.53" stroke="#000" stroke-width="0.9"/>
<line x1="306.30" y1="288.53" x2="304.20" y2="288.53" stroke="#000" stroke-width="0.9"/>
<line x1="64.30" y1="274.87" x2="66.40" y2="274.87" stroke="#000" stroke-width="0.9"/>
<line x1="306.30" y1="274.87" x2="304.20" y2="274.87" stroke="#000" stroke-width="0.9"/>
<line x1="64.30" y1="268.04" x2="66.40" y2="268.04" stroke="#000" stroke-width="0.9"/>
<line x1="306.30" y1="268.04" x2="304.20" y2="268.04" stroke="#000" stroke-width="0.9"/>
<line x1="64.30" y1="261.21" x2="66.40" y2="261.21" stroke="#000" stroke-width="0.9"/>
<line x1="306.30" y1="261.21" x2="304.20" y2="261.21" stroke="#000" stroke-width="0.9"/>
<line x1="64.30" y1="254.38" x2="66.40" y2="254.38" stroke="#000" stroke-width="0.9"/>
<line x1="306.30" y1="254.38" x2="304.20" y2="254.38" stroke="#000" stroke-width="0.9"/>
<text x="59.30" y="287.65" text-anchor="end" font-size="17.8">-765</text>
<text x="59.30" y="321.80" text-anchor="end" font-size="17.8">-770</text>
<text x="59.30" y="355.95" text-anchor="end" font-size="17.8">-775</text>
<text x="59.30" y="390.10" text-anchor="end" font-size="17.8">-780</text>
<text x="185.30" y="443.60" text-anchor="middle" font-size="18.2">Wavelength [nm]</text>
<line x1="399.30" y1="400.70" x2="399.30" y2="396.20" stroke="#000" stroke-width="1.1"/>
<line x1="399.30" y1="251.00" x2="399.30" y2="255.50" stroke="#000" stroke-width="1.1"/>
<text x="399.30" y="424.20" text-anchor="middle" font-size="18">-0.10</text>
<line x1="457.30" y1="400.70" x2="457.30" y2="396.20" stroke="#000" stroke-width="1.1"/>
<line x1="457.30" y1="251.00" x2="457.30" y2="255.50" stroke="#000" stroke-width="1.1"/>
<text x="457.30" y="424.20" text-anchor="middle" font-size="18">-0.05</text>
<line x1="515.30" y1="400.70" x2="515.30" y2="396.20" stroke="#000" stroke-width="1.1"/>
<line x1="515.30" y1="251.00" x2="515.30" y2="255.50" stroke="#000" stroke-width="1.1"/>
<text x="515.30" y="424.20" text-anchor="middle" font-size="18">0.00</text>
<line x1="573.30" y1="400.70" x2="573.30" y2="396.20" stroke="#000" stroke-width="1.1"/>
<line x1="573.30" y1="251.00" x2="573.30" y2="255.50" stroke="#000" stroke-width="1.1"/>
<text x="573.30" y="424.20" text-anchor="middle" font-size="18">0.05</text>
<line x1="631.30" y1="400.70" x2="631.30" y2="396.20" stroke="#000" stroke-width="1.1"/>
<line x1="631.30" y1="251.00" x2="631.30" y2="255.50" stroke="#000" stroke-width="1.1"/>
<text x="631.30" y="424.20" text-anchor="middle" font-size="18">0.10</text>
<line x1="410.90" y1="400.70" x2="410.90" y2="398.60" stroke="#000" stroke-width="0.9"/>
<line x1="410.90" y1="251.00" x2="410.90" y2="253.10" stroke="#000" stroke-width="0.9"/>
<line x1="422.50" y1="400.70" x2="422.50" y2="398.60" stroke="#000" stroke-width="0.9"/>
<line x1="422.50" y1="251.00" x2="422.50" y2="253.10" stroke="#000" stroke-width="0.9"/>
<line x1="434.10" y1="400.70" x2="434.10" y2="398.60" stroke="#000" stroke-width="0.9"/>
<line x1="434.10" y1="251.00" x2="434.10" y2="253.10" stroke="#000" stroke-width="0.9"/>
<line x1="445.70" y1="400.70" x2="445.70" y2="398.60" stroke="#000" stroke-width="0.9"/>
<line x1="445.70" y1="251.00" x2="445.70" y2="253.10" stroke="#000" stroke-width="0.9"/>
<line x1="468.90" y1="400.70" x2="468.90" y2="398.60" stroke="#000" stroke-width="0.9"/>
<line x1="468.90" y1="251.00" x2="468.90" y2="253.10" stroke="#000" stroke-width="0.9"/>
<line x1="480.50" y1="400.70" x2="480.50" y2="398.60" stroke="#000" stroke-width="0.9"/>
<line x1="480.50" y1="251.00" x2="480.50" y2="253.10" stroke="#000" stroke-width="0.9"/>
<line x1="492.10" y1="400.70" x2="492.10" y2="398.60" stroke="#000" stroke-width="0.9"/>
<line x1="492.10" y1="251.00" x2="492.10" y2="253.10" stroke="#000" stroke-width="0.9"/>
<line x1="503.70" y1="400.70" x2="503.70" y2="398.60" stroke="#000" stroke-width="0.9"/>
<line x1="503.70" y1="251.00" x2="503.70" y2="253.10" stroke="#000" stroke-width="0.9"/>
<line x1="526.90" y1="400.70" x2="526.90" y2="398.60" stroke="#000" stroke-width="0.9"/>
<line x1="526.90" y1="251.00" x2="526.90" y2="253.10" stroke="#000" stroke-width="0.9"/>
<line x1="538.50" y1="400.70" x2="538.50" y2="398.60" stroke="#000" stroke-width="0.9"/>
<line x1="538.50" y1="251.00" x2="538.50" y2="253.10" stroke="#000" stroke-width="0.9"/>
<line x1="550.10" y1="400.70" x2="550.10" y2="398.60" stroke="#000" stroke-width="0.9"/>
<line x1="550.10" y1="251.00" x2="550.10" y2="253.10" stroke="#000" stroke-width="0.9"/>
<line x1="561.70" y1="400.70" x2="561.70" y2="398.60" stroke="#000" stroke-width="0.9"/>
<line x1="561.70" y1="251.00" x2="561.70" y2="253.10" stroke="#000" stroke-width="0.9"/>
<line x1="584.90" y1="400.70" x2="584.90" y2="398.60" stroke="#000" stroke-width="0.9"/>
<line x1="584.90" y1="251.00" x2="584.90" y2="253.10" stroke="#000" stroke-width="0.9"/>
<line x1="596.50" y1="400.70" x2="596.50" y2="398.60" stroke="#000" stroke-width="0.9"/>
<line x1="596.50" y1="251.00" x2="596.50" y2="253.10" stroke="#000" stroke-width="0.9"/>
<line x1="608.10" y1="400.70" x2="608.10" y2="398.60" stroke="#000" stroke-width="0.9"/>
<line x1="608.10" y1="251.00" x2="608.10" y2="253.10" stroke="#000" stroke-width="0.9"/>
<line x1="619.70" y1="400.70" x2="619.70" y2="398.60" stroke="#000" stroke-width="0.9"/>
<line x1="619.70" y1="251.00" x2="619.70" y2="253.10" stroke="#000" stroke-width="0.9"/>
<line x1="394.30" y1="281.70" x2="398.80" y2="281.70" stroke="#000" stroke-width="1.1"/>
<line x1="636.30" y1="281.70" x2="631.80" y2="281.70" stroke="#000" stroke-width="1.1"/>
<line x1="394.30" y1="315.85" x2="398.80" y2="315.85" stroke="#000" stroke-width="1.1"/>
<line x1="636.30" y1="315.85" x2="631.80" y2="315.85" stroke="#000" stroke-width="1.1"/>
<line x1="394.30" y1="350.00" x2="398.80" y2="350.00" stroke="#000" stroke-width="1.1"/>
<line x1="636.30" y1="350.00" x2="631.80" y2="350.00" stroke="#000" stroke-width="1.1"/>
<line x1="394.30" y1="384.15" x2="398.80" y2="384.15" stroke="#000" stroke-width="1.1"/>
<line x1="636.30" y1="384.15" x2="631.80" y2="384.15" stroke="#000" stroke-width="1.1"/>
<line x1="394.30" y1="397.81" x2="396.40" y2="397.81" stroke="#000" stroke-width="0.9"/>
<line x1="636.30" y1="397.81" x2="634.20" y2="397.81" stroke="#000" stroke-width="0.9"/>
<line x1="394.30" y1="390.98" x2="396.40" y2="390.98" stroke="#000" stroke-width="0.9"/>
<line x1="636.30" y1="390.98" x2="634.20" y2="390.98" stroke="#000" stroke-width="0.9"/>
<line x1="394.30" y1="377.32" x2="396.40" y2="377.32" stroke="#000" stroke-width="0.9"/>
<line x1="636.30" y1="377.32" x2="634.20" y2="377.32" stroke="#000" stroke-width="0.9"/>
<line x1="394.30" y1="370.49" x2="396.40" y2="370.49" stroke="#000" stroke-width="0.9"/>
<line x1="636.30" y1="370.49" x2="634.20" y2="370.49" stroke="#000" stroke-width="0.9"/>
<line x1="394.30" y1="363.66" x2="396.40" y2="363.66" stroke="#000" stroke-width="0.9"/>
<line x1="636.30" y1="363.66" x2="634.20" y2="363.66" stroke="#000" stroke-width="0.9"/>
<line x1="394.30" y1="356.83" x2="396.40" y2="356.83" stroke="#000" stroke-width="0.9"/>
<line x1="636.30" y1="356.83" x2="634.20" y2="356.83" stroke="#000" stroke-width="0.9"/>
<line x1="394.30" y1="343.17" x2="396.40" y2="343.17" stroke="#000" stroke-width="0.9"/>
<line x1="636.30" y1="343.17" x2="634.20" y2="343.17" stroke="#000" stroke-width="0.9"/>
<line x1="394.30" y1="336.34" x2="396.40" y2="336.34" stroke="#000" stroke-width="0.9"/>
<line x1="636.30" y1="336.34" x2="634.20" y2="336.34" stroke="#000" stroke-width="0.9"/>
<line x1="394.30" y1="329.51" x2="396.40" y2="329.51" stroke="#000" stroke-width="0.9"/>
<line x1="636.30" y1="329.51" x2="634.20" y2="329.51" stroke="#000" stroke-width="0.9"/>
<line x1="394.30" y1="322.68" x2="396.40" y2="322.68" stroke="#000" stroke-width="0.9"/>
<line x1="636.30" y1="322.68" x2="634.20" y2="322.68" stroke="#000" stroke-width="0.9"/>
<line x1="394.30" y1="309.02" x2="396.40" y2="309.02" stroke="#000" stroke-width="0.9"/>
<line x1="636.30" y1="309.02" x2="634.20" y2="309.02" stroke="#000" stroke-width="0.9"/>
<line x1="394.30" y1="302.19" x2="396.40" y2="302.19" stroke="#000" stroke-width="0.9"/>
<line x1="636.30" y1="302.19" x2="634.20" y2="302.19" stroke="#000" stroke-width="0.9"/>
<line x1="394.30" y1="295.36" x2="396.40" y2="295.36" stroke="#000" stroke-width="0.9"/>
<line x1="636.30" y1="295.36" x2="634.20" y2="295.36" stroke="#000" stroke-width="0.9"/>
<line x1="394.30" y1="288.53" x2="396.40" y2="288.53" stroke="#000" stroke-width="0.9"/>
<line x1="636.30" y1="288.53" x2="634.20" y2="288.53" stroke="#000" stroke-width="0.9"/>
<line x1="394.30" y1="274.87" x2="396.40" y2="274.87" stroke="#000" stroke-width="0.9"/>
<line x1="636.30" y1="274.87" x2="634.20" y2="274.87" stroke="#000" stroke-width="0.9"/>
<line x1="394.30" y1="268.04" x2="396.40" y2="268.04" stroke="#000" stroke-width="0.9"/>
<line x1="636.30" y1="268.04" x2="634.20" y2="268.04" stroke="#000" stroke-width="0.9"/>
<line x1="394.30" y1="261.21" x2="396.40" y2="261.21" stroke="#000" stroke-width="0.9"/>
<line x1="636.30" y1="261.21" x2="634.20" y2="261.21" stroke="#000" stroke-width="0.9"/>
<line x1="394.30" y1="254.38" x2="396.40" y2="254.38" stroke="#000" stroke-width="0.9"/>
<line x1="636.30" y1="254.38" x2="634.20" y2="254.38" stroke="#000" stroke-width="0.9"/>
<text x="389.30" y="287.65" text-anchor="end" font-size="17.8">-765</text>
<text x="389.30" y="321.80" text-anchor="end" font-size="17.8">-770</text>
<text x="389.30" y="355.95" text-anchor="end" font-size="17.8">-775</text>
<text x="389.30" y="390.10" text-anchor="end" font-size="17.8">-780</text>
<text x="515.30" y="443.60" text-anchor="middle" font-size="18.2">Wavelength [nm]</text>
<text x="186.80" y="242.40" text-anchor="middle" font-size="23">(c) Ly&#945; intensity</text>
<text x="516.80" y="243.00" text-anchor="middle" font-size="23">(d) Ly&#945; <tspan font-style="italic">U/I</tspan></text>
<text x="11.10" y="326.60" text-anchor="middle" font-size="18" transform="rotate(-90 11.1 326.6)">Y [arcsec]</text>
<text x="342.80" y="326.60" text-anchor="middle" font-size="18" transform="rotate(-90 342.8 326.6)">Y [arcsec]</text>
<line x1="77.70" y1="629.10" x2="77.70" y2="624.60" stroke="#000" stroke-width="1.1"/>
<line x1="77.70" y1="479.70" x2="77.70" y2="484.20" stroke="#000" stroke-width="1.1"/>
<text x="77.70" y="650.50" text-anchor="middle" font-size="16">-0.04</text>
<line x1="131.50" y1="629.10" x2="131.50" y2="624.60" stroke="#000" stroke-width="1.1"/>
<line x1="131.50" y1="479.70" x2="131.50" y2="484.20" stroke="#000" stroke-width="1.1"/>
<text x="131.50" y="650.50" text-anchor="middle" font-size="16">-0.02</text>
<line x1="185.30" y1="629.10" x2="185.30" y2="624.60" stroke="#000" stroke-width="1.1"/>
<line x1="185.30" y1="479.70" x2="185.30" y2="484.20" stroke="#000" stroke-width="1.1"/>
<text x="185.30" y="650.50" text-anchor="middle" font-size="16">0.00</text>
<line x1="239.10" y1="629.10" x2="239.10" y2="624.60" stroke="#000" stroke-width="1.1"/>
<line x1="239.10" y1="479.70" x2="239.10" y2="484.20" stroke="#000" stroke-width="1.1"/>
<text x="239.10" y="650.50" text-anchor="middle" font-size="16">0.02</text>
<line x1="292.90" y1="629.10" x2="292.90" y2="624.60" stroke="#000" stroke-width="1.1"/>
<line x1="292.90" y1="479.70" x2="292.90" y2="484.20" stroke="#000" stroke-width="1.1"/>
<text x="292.90" y="650.50" text-anchor="middle" font-size="16">0.04</text>
<line x1="64.30" y1="509.90" x2="68.80" y2="509.90" stroke="#000" stroke-width="1.1"/>
<line x1="306.30" y1="509.90" x2="301.80" y2="509.90" stroke="#000" stroke-width="1.1"/>
<line x1="64.30" y1="544.05" x2="68.80" y2="544.05" stroke="#000" stroke-width="1.1"/>
<line x1="306.30" y1="544.05" x2="301.80" y2="544.05" stroke="#000" stroke-width="1.1"/>
<line x1="64.30" y1="578.20" x2="68.80" y2="578.20" stroke="#000" stroke-width="1.1"/>
<line x1="306.30" y1="578.20" x2="301.80" y2="578.20" stroke="#000" stroke-width="1.1"/>
<line x1="64.30" y1="612.35" x2="68.80" y2="612.35" stroke="#000" stroke-width="1.1"/>
<line x1="306.30" y1="612.35" x2="301.80" y2="612.35" stroke="#000" stroke-width="1.1"/>
<line x1="64.30" y1="626.01" x2="66.40" y2="626.01" stroke="#000" stroke-width="0.9"/>
<line x1="306.30" y1="626.01" x2="304.20" y2="626.01" stroke="#000" stroke-width="0.9"/>
<line x1="64.30" y1="619.18" x2="66.40" y2="619.18" stroke="#000" stroke-width="0.9"/>
<line x1="306.30" y1="619.18" x2="304.20" y2="619.18" stroke="#000" stroke-width="0.9"/>
<line x1="64.30" y1="605.52" x2="66.40" y2="605.52" stroke="#000" stroke-width="0.9"/>
<line x1="306.30" y1="605.52" x2="304.20" y2="605.52" stroke="#000" stroke-width="0.9"/>
<line x1="64.30" y1="598.69" x2="66.40" y2="598.69" stroke="#000" stroke-width="0.9"/>
<line x1="306.30" y1="598.69" x2="304.20" y2="598.69" stroke="#000" stroke-width="0.9"/>
<line x1="64.30" y1="591.86" x2="66.40" y2="591.86" stroke="#000" stroke-width="0.9"/>
<line x1="306.30" y1="591.86" x2="304.20" y2="591.86" stroke="#000" stroke-width="0.9"/>
<line x1="64.30" y1="585.03" x2="66.40" y2="585.03" stroke="#000" stroke-width="0.9"/>
<line x1="306.30" y1="585.03" x2="304.20" y2="585.03" stroke="#000" stroke-width="0.9"/>
<line x1="64.30" y1="571.37" x2="66.40" y2="571.37" stroke="#000" stroke-width="0.9"/>
<line x1="306.30" y1="571.37" x2="304.20" y2="571.37" stroke="#000" stroke-width="0.9"/>
<line x1="64.30" y1="564.54" x2="66.40" y2="564.54" stroke="#000" stroke-width="0.9"/>
<line x1="306.30" y1="564.54" x2="304.20" y2="564.54" stroke="#000" stroke-width="0.9"/>
<line x1="64.30" y1="557.71" x2="66.40" y2="557.71" stroke="#000" stroke-width="0.9"/>
<line x1="306.30" y1="557.71" x2="304.20" y2="557.71" stroke="#000" stroke-width="0.9"/>
<line x1="64.30" y1="550.88" x2="66.40" y2="550.88" stroke="#000" stroke-width="0.9"/>
<line x1="306.30" y1="550.88" x2="304.20" y2="550.88" stroke="#000" stroke-width="0.9"/>
<line x1="64.30" y1="537.22" x2="66.40" y2="537.22" stroke="#000" stroke-width="0.9"/>
<line x1="306.30" y1="537.22" x2="304.20" y2="537.22" stroke="#000" stroke-width="0.9"/>
<line x1="64.30" y1="530.39" x2="66.40" y2="530.39" stroke="#000" stroke-width="0.9"/>
<line x1="306.30" y1="530.39" x2="304.20" y2="530.39" stroke="#000" stroke-width="0.9"/>
<line x1="64.30" y1="523.56" x2="66.40" y2="523.56" stroke="#000" stroke-width="0.9"/>
<line x1="306.30" y1="523.56" x2="304.20" y2="523.56" stroke="#000" stroke-width="0.9"/>
<line x1="64.30" y1="516.73" x2="66.40" y2="516.73" stroke="#000" stroke-width="0.9"/>
<line x1="306.30" y1="516.73" x2="304.20" y2="516.73" stroke="#000" stroke-width="0.9"/>
<line x1="64.30" y1="503.07" x2="66.40" y2="503.07" stroke="#000" stroke-width="0.9"/>
<line x1="306.30" y1="503.07" x2="304.20" y2="503.07" stroke="#000" stroke-width="0.9"/>
<line x1="64.30" y1="496.24" x2="66.40" y2="496.24" stroke="#000" stroke-width="0.9"/>
<line x1="306.30" y1="496.24" x2="304.20" y2="496.24" stroke="#000" stroke-width="0.9"/>
<line x1="64.30" y1="489.41" x2="66.40" y2="489.41" stroke="#000" stroke-width="0.9"/>
<line x1="306.30" y1="489.41" x2="304.20" y2="489.41" stroke="#000" stroke-width="0.9"/>
<line x1="64.30" y1="482.58" x2="66.40" y2="482.58" stroke="#000" stroke-width="0.9"/>
<line x1="306.30" y1="482.58" x2="304.20" y2="482.58" stroke="#000" stroke-width="0.9"/>
<text x="59.30" y="515.30" text-anchor="end" font-size="16">-765</text>
<text x="59.30" y="549.45" text-anchor="end" font-size="16">-770</text>
<text x="59.30" y="583.60" text-anchor="end" font-size="16">-775</text>
<text x="59.30" y="617.75" text-anchor="end" font-size="16">-780</text>
<text x="185.30" y="669.60" text-anchor="middle" font-size="16.8">Wavelength [nm]</text>
<line x1="407.70" y1="629.10" x2="407.70" y2="624.60" stroke="#000" stroke-width="1.1"/>
<line x1="407.70" y1="479.70" x2="407.70" y2="484.20" stroke="#000" stroke-width="1.1"/>
<text x="407.70" y="650.50" text-anchor="middle" font-size="16">-0.04</text>
<line x1="461.50" y1="629.10" x2="461.50" y2="624.60" stroke="#000" stroke-width="1.1"/>
<line x1="461.50" y1="479.70" x2="461.50" y2="484.20" stroke="#000" stroke-width="1.1"/>
<text x="461.50" y="650.50" text-anchor="middle" font-size="16">-0.02</text>
<line x1="515.30" y1="629.10" x2="515.30" y2="624.60" stroke="#000" stroke-width="1.1"/>
<line x1="515.30" y1="479.70" x2="515.30" y2="484.20" stroke="#000" stroke-width="1.1"/>
<text x="515.30" y="650.50" text-anchor="middle" font-size="16">0.00</text>
<line x1="569.10" y1="629.10" x2="569.10" y2="624.60" stroke="#000" stroke-width="1.1"/>
<line x1="569.10" y1="479.70" x2="569.10" y2="484.20" stroke="#000" stroke-width="1.1"/>
<text x="569.10" y="650.50" text-anchor="middle" font-size="16">0.02</text>
<line x1="622.90" y1="629.10" x2="622.90" y2="624.60" stroke="#000" stroke-width="1.1"/>
<line x1="622.90" y1="479.70" x2="622.90" y2="484.20" stroke="#000" stroke-width="1.1"/>
<text x="622.90" y="650.50" text-anchor="middle" font-size="16">0.04</text>
<line x1="394.30" y1="509.90" x2="398.80" y2="509.90" stroke="#000" stroke-width="1.1"/>
<line x1="636.30" y1="509.90" x2="631.80" y2="509.90" stroke="#000" stroke-width="1.1"/>
<line x1="394.30" y1="544.05" x2="398.80" y2="544.05" stroke="#000" stroke-width="1.1"/>
<line x1="636.30" y1="544.05" x2="631.80" y2="544.05" stroke="#000" stroke-width="1.1"/>
<line x1="394.30" y1="578.20" x2="398.80" y2="578.20" stroke="#000" stroke-width="1.1"/>
<line x1="636.30" y1="578.20" x2="631.80" y2="578.20" stroke="#000" stroke-width="1.1"/>
<line x1="394.30" y1="612.35" x2="398.80" y2="612.35" stroke="#000" stroke-width="1.1"/>
<line x1="636.30" y1="612.35" x2="631.80" y2="612.35" stroke="#000" stroke-width="1.1"/>
<line x1="394.30" y1="626.01" x2="396.40" y2="626.01" stroke="#000" stroke-width="0.9"/>
<line x1="636.30" y1="626.01" x2="634.20" y2="626.01" stroke="#000" stroke-width="0.9"/>
<line x1="394.30" y1="619.18" x2="396.40" y2="619.18" stroke="#000" stroke-width="0.9"/>
<line x1="636.30" y1="619.18" x2="634.20" y2="619.18" stroke="#000" stroke-width="0.9"/>
<line x1="394.30" y1="605.52" x2="396.40" y2="605.52" stroke="#000" stroke-width="0.9"/>
<line x1="636.30" y1="605.52" x2="634.20" y2="605.52" stroke="#000" stroke-width="0.9"/>
<line x1="394.30" y1="598.69" x2="396.40" y2="598.69" stroke="#000" stroke-width="0.9"/>
<line x1="636.30" y1="598.69" x2="634.20" y2="598.69" stroke="#000" stroke-width="0.9"/>
<line x1="394.30" y1="591.86" x2="396.40" y2="591.86" stroke="#000" stroke-width="0.9"/>
<line x1="636.30" y1="591.86" x2="634.20" y2="591.86" stroke="#000" stroke-width="0.9"/>
<line x1="394.30" y1="585.03" x2="396.40" y2="585.03" stroke="#000" stroke-width="0.9"/>
<line x1="636.30" y1="585.03" x2="634.20" y2="585.03" stroke="#000" stroke-width="0.9"/>
<line x1="394.30" y1="571.37" x2="396.40" y2="571.37" stroke="#000" stroke-width="0.9"/>
<line x1="636.30" y1="571.37" x2="634.20" y2="571.37" stroke="#000" stroke-width="0.9"/>
<line x1="394.30" y1="564.54" x2="396.40" y2="564.54" stroke="#000" stroke-width="0.9"/>
<line x1="636.30" y1="564.54" x2="634.20" y2="564.54" stroke="#000" stroke-width="0.9"/>
<line x1="394.30" y1="557.71" x2="396.40" y2="557.71" stroke="#000" stroke-width="0.9"/>
<line x1="636.30" y1="557.71" x2="634.20" y2="557.71" stroke="#000" stroke-width="0.9"/>
<line x1="394.30" y1="550.88" x2="396.40" y2="550.88" stroke="#000" stroke-width="0.9"/>
<line x1="636.30" y1="550.88" x2="634.20" y2="550.88" stroke="#000" stroke-width="0.9"/>
<line x1="394.30" y1="537.22" x2="396.40" y2="537.22" stroke="#000" stroke-width="0.9"/>
<line x1="636.30" y1="537.22" x2="634.20" y2="537.22" stroke="#000" stroke-width="0.9"/>
<line x1="394.30" y1="530.39" x2="396.40" y2="530.39" stroke="#000" stroke-width="0.9"/>
<line x1="636.30" y1="530.39" x2="634.20" y2="530.39" stroke="#000" stroke-width="0.9"/>
<line x1="394.30" y1="523.56" x2="396.40" y2="523.56" stroke="#000" stroke-width="0.9"/>
<line x1="636.30" y1="523.56" x2="634.20" y2="523.56" stroke="#000" stroke-width="0.9"/>
<line x1="394.30" y1="516.73" x2="396.40" y2="516.73" stroke="#000" stroke-width="0.9"/>
<line x1="636.30" y1="516.73" x2="634.20" y2="516.73" stroke="#000" stroke-width="0.9"/>
<line x1="394.30" y1="503.07" x2="396.40" y2="503.07" stroke="#000" stroke-width="0.9"/>
<line x1="636.30" y1="503.07" x2="634.20" y2="503.07" stroke="#000" stroke-width="0.9"/>
<line x1="394.30" y1="496.24" x2="396.40" y2="496.24" stroke="#000" stroke-width="0.9"/>
<line x1="636.30" y1="496.24" x2="634.20" y2="496.24" stroke="#000" stroke-width="0.9"/>
<line x1="394.30" y1="489.41" x2="396.40" y2="489.41" stroke="#000" stroke-width="0.9"/>
<line x1="636.30" y1="489.41" x2="634.20" y2="489.41" stroke="#000" stroke-width="0.9"/>
<line x1="394.30" y1="482.58" x2="396.40" y2="482.58" stroke="#000" stroke-width="0.9"/>
<line x1="636.30" y1="482.58" x2="634.20" y2="482.58" stroke="#000" stroke-width="0.9"/>
<text x="389.30" y="515.30" text-anchor="end" font-size="16">-765</text>
<text x="389.30" y="549.45" text-anchor="end" font-size="16">-770</text>
<text x="389.30" y="583.60" text-anchor="end" font-size="16">-775</text>
<text x="389.30" y="617.75" text-anchor="end" font-size="16">-780</text>
<text x="515.30" y="669.60" text-anchor="middle" font-size="16.8">Wavelength [nm]</text>
<text x="185.30" y="470.80" text-anchor="middle" font-size="20.6">(e) Si III intensity</text>
<text x="515.30" y="470.30" text-anchor="middle" font-size="20.8">(f) Si III <tspan font-style="italic">U/I</tspan></text>
<text x="17.40" y="555.60" text-anchor="middle" font-size="16.5" transform="rotate(-90 17.4 555.6)">Y [arcsec]</text>
<text x="347.30" y="555.60" text-anchor="middle" font-size="16.5" transform="rotate(-90 347.3 555.6)">Y [arcsec]</text>
<rect x="64.30" y="770" width="242" height="45.50" fill="#bebebe"/>
<rect x="394.30" y="770" width="242" height="45.50" fill="#bebebe"/>
<g shape-rendering="auto">
<clipPath id="cg"><rect x="64.3" y="718.2" width="242.0" height="185.5999999999999"/></clipPath>
<clipPath id="ch"><rect x="394.3" y="718.2" width="241.99999999999994" height="185.5999999999999"/></clipPath>
<g clip-path="url(#cg)">
<polyline points="115.80,723.30 107.50,732.61 102.50,741.92 105.90,751.23 124.00,760.54 148.60,769.85 183.00,779.16 217.40,788.47 242.30,797.78 254.80,807.09 249.20,816.40 232.00,825.71 207.50,835.02 184.00,844.33 172.80,853.64 169.00,862.95 161.30,872.26 152.30,881.57 143.40,890.88" fill="none" stroke="#86f03c" stroke-width="1.9" stroke-linejoin="miter"/>
<polyline points="187.70,723.30 173.40,732.61 163.50,741.92 154.50,751.23 149.00,760.54 149.00,769.85 158.20,779.16 176.00,788.47 191.70,797.78 197.90,807.09 192.60,816.40 189.00,825.71 192.00,835.02 199.60,844.33 219.70,853.64 244.20,862.95 255.20,872.26 246.80,881.57 232.20,890.88" fill="none" stroke="#e60000" stroke-width="1.9" stroke-linejoin="miter"/>
<polyline points="129.70,723.30 120.80,732.61 117.00,741.92 113.80,751.23 121.80,760.54 131.70,769.85 147.60,779.16 166.50,788.47 192.50,797.78 200.40,807.09 193.60,816.40 188.20,825.71 189.50,835.02 175.50,844.33 149.20,853.64 130.60,862.95 118.40,872.26 114.80,881.57 118.60,890.88" fill="none" stroke="#0a0af0" stroke-width="1.9" stroke-linejoin="miter"/>
</g>
<g clip-path="url(#ch)">
<line x1="515.3" y1="718.2" x2="515.3" y2="903.8" stroke="#000" stroke-width="0.9" stroke-dasharray="1.2,1.2"/>
<line x1="640.00" y1="723.30" x2="666.00" y2="723.30" stroke="#86f03c" stroke-width="1.9"/>
<line x1="640.00" y1="719.70" x2="640.00" y2="726.90" stroke="#86f03c" stroke-width="1.9"/>
<line x1="666.00" y1="719.70" x2="666.00" y2="726.90" stroke="#86f03c" stroke-width="1.9"/>
<line x1="609.30" y1="732.61" x2="638.00" y2="732.61" stroke="#86f03c" stroke-width="1.9"/>
<line x1="609.30" y1="729.01" x2="609.30" y2="736.21" stroke="#86f03c" stroke-width="1.9"/>
<line x1="638.00" y1="729.01" x2="638.00" y2="736.21" stroke="#86f03c" stroke-width="1.9"/>
<line x1="588.10" y1="741.92" x2="619.40" y2="741.92" stroke="#86f03c" stroke-width="1.9"/>
<line x1="588.10" y1="738.32" x2="588.10" y2="745.52" stroke="#86f03c" stroke-width="1.9"/>
<line x1="619.40" y1="738.32" x2="619.40" y2="745.52" stroke="#86f03c" stroke-width="1.9"/>
<line x1="556.00" y1="751.23" x2="585.00" y2="751.23" stroke="#86f03c" stroke-width="1.9"/>
<line x1="556.00" y1="747.63" x2="556.00" y2="754.83" stroke="#86f03c" stroke-width="1.9"/>
<line x1="585.00" y1="747.63" x2="585.00" y2="754.83" stroke="#86f03c" stroke-width="1.9"/>
<line x1="549.20" y1="760.54" x2="577.60" y2="760.54" stroke="#86f03c" stroke-width="1.9"/>
<line x1="549.20" y1="756.94" x2="549.20" y2="764.14" stroke="#86f03c" stroke-width="1.9"/>
<line x1="577.60" y1="756.94" x2="577.60" y2="764.14" stroke="#86f03c" stroke-width="1.9"/>
<line x1="550.00" y1="769.85" x2="576.00" y2="769.85" stroke="#86f03c" stroke-width="1.9"/>
<line x1="550.00" y1="766.25" x2="550.00" y2="773.45" stroke="#86f03c" stroke-width="1.9"/>
<line x1="576.00" y1="766.25" x2="576.00" y2="773.45" stroke="#86f03c" stroke-width="1.9"/>
<line x1="535.00" y1="779.16" x2="561.60" y2="779.16" stroke="#86f03c" stroke-width="1.9"/>
<line x1="535.00" y1="775.56" x2="535.00" y2="782.76" stroke="#86f03c" stroke-width="1.9"/>
<line x1="561.60" y1="775.56" x2="561.60" y2="782.76" stroke="#86f03c" stroke-width="1.9"/>
<line x1="524.80" y1="788.47" x2="545.30" y2="788.47" stroke="#86f03c" stroke-width="1.9"/>
<line x1="524.80" y1="784.87" x2="524.80" y2="792.07" stroke="#86f03c" stroke-width="1.9"/>
<line x1="545.30" y1="784.87" x2="545.30" y2="792.07" stroke="#86f03c" stroke-width="1.9"/>
<line x1="486.30" y1="797.78" x2="505.80" y2="797.78" stroke="#86f03c" stroke-width="1.9"/>
<line x1="486.30" y1="794.18" x2="486.30" y2="801.38" stroke="#86f03c" stroke-width="1.9"/>
<line x1="505.80" y1="794.18" x2="505.80" y2="801.38" stroke="#86f03c" stroke-width="1.9"/>
<line x1="451.40" y1="807.09" x2="472.00" y2="807.09" stroke="#86f03c" stroke-width="1.9"/>
<line x1="451.40" y1="803.49" x2="451.40" y2="810.69" stroke="#86f03c" stroke-width="1.9"/>
<line x1="472.00" y1="803.49" x2="472.00" y2="810.69" stroke="#86f03c" stroke-width="1.9"/>
<line x1="407.80" y1="816.40" x2="426.90" y2="816.40" stroke="#86f03c" stroke-width="1.9"/>
<line x1="407.80" y1="812.80" x2="407.80" y2="820.00" stroke="#86f03c" stroke-width="1.9"/>
<line x1="426.90" y1="812.80" x2="426.90" y2="820.00" stroke="#86f03c" stroke-width="1.9"/>
<line x1="394.00" y1="825.71" x2="413.60" y2="825.71" stroke="#86f03c" stroke-width="1.9"/>
<line x1="394.00" y1="822.11" x2="394.00" y2="829.31" stroke="#86f03c" stroke-width="1.9"/>
<line x1="413.60" y1="822.11" x2="413.60" y2="829.31" stroke="#86f03c" stroke-width="1.9"/>
<line x1="379.00" y1="835.02" x2="401.20" y2="835.02" stroke="#86f03c" stroke-width="1.9"/>
<line x1="379.00" y1="831.42" x2="379.00" y2="838.62" stroke="#86f03c" stroke-width="1.9"/>
<line x1="401.20" y1="831.42" x2="401.20" y2="838.62" stroke="#86f03c" stroke-width="1.9"/>
<line x1="384.00" y1="844.33" x2="419.80" y2="844.33" stroke="#86f03c" stroke-width="1.9"/>
<line x1="384.00" y1="840.73" x2="384.00" y2="847.93" stroke="#86f03c" stroke-width="1.9"/>
<line x1="419.80" y1="840.73" x2="419.80" y2="847.93" stroke="#86f03c" stroke-width="1.9"/>
<line x1="416.30" y1="853.64" x2="442.00" y2="853.64" stroke="#86f03c" stroke-width="1.9"/>
<line x1="416.30" y1="850.04" x2="416.30" y2="857.24" stroke="#86f03c" stroke-width="1.9"/>
<line x1="442.00" y1="850.04" x2="442.00" y2="857.24" stroke="#86f03c" stroke-width="1.9"/>
<line x1="443.80" y1="862.95" x2="467.30" y2="862.95" stroke="#86f03c" stroke-width="1.9"/>
<line x1="443.80" y1="859.35" x2="443.80" y2="866.55" stroke="#86f03c" stroke-width="1.9"/>
<line x1="467.30" y1="859.35" x2="467.30" y2="866.55" stroke="#86f03c" stroke-width="1.9"/>
<line x1="464.50" y1="872.26" x2="487.60" y2="872.26" stroke="#86f03c" stroke-width="1.9"/>
<line x1="464.50" y1="868.66" x2="464.50" y2="875.86" stroke="#86f03c" stroke-width="1.9"/>
<line x1="487.60" y1="868.66" x2="487.60" y2="875.86" stroke="#86f03c" stroke-width="1.9"/>
<line x1="517.00" y1="881.57" x2="539.50" y2="881.57" stroke="#86f03c" stroke-width="1.9"/>
<line x1="517.00" y1="877.97" x2="517.00" y2="885.17" stroke="#86f03c" stroke-width="1.9"/>
<line x1="539.50" y1="877.97" x2="539.50" y2="885.17" stroke="#86f03c" stroke-width="1.9"/>
<line x1="563.40" y1="890.88" x2="590.00" y2="890.88" stroke="#86f03c" stroke-width="1.9"/>
<line x1="563.40" y1="887.28" x2="563.40" y2="894.48" stroke="#86f03c" stroke-width="1.9"/>
<line x1="590.00" y1="887.28" x2="590.00" y2="894.48" stroke="#86f03c" stroke-width="1.9"/>
<polyline points="653.00,723.30 623.70,732.61 604.00,741.92 571.00,751.23 564.00,760.54 563.00,769.85 548.00,779.16 535.40,788.47 495.00,797.78 462.00,807.09 418.00,816.40 404.00,825.71 390.00,835.02 402.00,844.33 428.70,853.64 455.30,862.95 476.60,872.26 527.00,881.57 577.60,890.88" fill="none" stroke="#86f03c" stroke-width="1.9" stroke-linejoin="miter"/>
<line x1="483.70" y1="723.30" x2="527.10" y2="723.30" stroke="#e60000" stroke-width="1.9"/>
<line x1="483.70" y1="719.70" x2="483.70" y2="726.90" stroke="#e60000" stroke-width="1.9"/>
<line x1="527.10" y1="719.70" x2="527.10" y2="726.90" stroke="#e60000" stroke-width="1.9"/>
<line x1="497.40" y1="732.61" x2="542.50" y2="732.61" stroke="#e60000" stroke-width="1.9"/>
<line x1="497.40" y1="729.01" x2="497.40" y2="736.21" stroke="#e60000" stroke-width="1.9"/>
<line x1="542.50" y1="729.01" x2="542.50" y2="736.21" stroke="#e60000" stroke-width="1.9"/>
<line x1="462.90" y1="741.92" x2="509.90" y2="741.92" stroke="#e60000" stroke-width="1.9"/>
<line x1="462.90" y1="738.32" x2="462.90" y2="745.52" stroke="#e60000" stroke-width="1.9"/>
<line x1="509.90" y1="738.32" x2="509.90" y2="745.52" stroke="#e60000" stroke-width="1.9"/>
<line x1="448.20" y1="751.23" x2="496.40" y2="751.23" stroke="#e60000" stroke-width="1.9"/>
<line x1="448.20" y1="747.63" x2="448.20" y2="754.83" stroke="#e60000" stroke-width="1.9"/>
<line x1="496.40" y1="747.63" x2="496.40" y2="754.83" stroke="#e60000" stroke-width="1.9"/>
<line x1="454.80" y1="760.54" x2="504.00" y2="760.54" stroke="#e60000" stroke-width="1.9"/>
<line x1="454.80" y1="756.94" x2="454.80" y2="764.14" stroke="#e60000" stroke-width="1.9"/>
<line x1="504.00" y1="756.94" x2="504.00" y2="764.14" stroke="#e60000" stroke-width="1.9"/>
<line x1="471.20" y1="769.85" x2="520.10" y2="769.85" stroke="#e60000" stroke-width="1.9"/>
<line x1="471.20" y1="766.25" x2="471.20" y2="773.45" stroke="#e60000" stroke-width="1.9"/>
<line x1="520.10" y1="766.25" x2="520.10" y2="773.45" stroke="#e60000" stroke-width="1.9"/>
<line x1="514.00" y1="779.16" x2="538.00" y2="779.16" stroke="#e60000" stroke-width="1.9"/>
<line x1="514.00" y1="775.56" x2="514.00" y2="782.76" stroke="#e60000" stroke-width="1.9"/>
<line x1="538.00" y1="775.56" x2="538.00" y2="782.76" stroke="#e60000" stroke-width="1.9"/>
<line x1="527.20" y1="788.47" x2="572.00" y2="788.47" stroke="#e60000" stroke-width="1.9"/>
<line x1="527.20" y1="784.87" x2="527.20" y2="792.07" stroke="#e60000" stroke-width="1.9"/>
<line x1="572.00" y1="784.87" x2="572.00" y2="792.07" stroke="#e60000" stroke-width="1.9"/>
<line x1="541.10" y1="797.78" x2="583.70" y2="797.78" stroke="#e60000" stroke-width="1.9"/>
<line x1="541.10" y1="794.18" x2="541.10" y2="801.38" stroke="#e60000" stroke-width="1.9"/>
<line x1="583.70" y1="794.18" x2="583.70" y2="801.38" stroke="#e60000" stroke-width="1.9"/>
<line x1="526.40" y1="807.09" x2="569.00" y2="807.09" stroke="#e60000" stroke-width="1.9"/>
<line x1="526.40" y1="803.49" x2="526.40" y2="810.69" stroke="#e60000" stroke-width="1.9"/>
<line x1="569.00" y1="803.49" x2="569.00" y2="810.69" stroke="#e60000" stroke-width="1.9"/>
<line x1="492.50" y1="816.40" x2="535.40" y2="816.40" stroke="#e60000" stroke-width="1.9"/>
<line x1="492.50" y1="812.80" x2="492.50" y2="820.00" stroke="#e60000" stroke-width="1.9"/>
<line x1="535.40" y1="812.80" x2="535.40" y2="820.00" stroke="#e60000" stroke-width="1.9"/>
<line x1="489.90" y1="825.71" x2="533.60" y2="825.71" stroke="#e60000" stroke-width="1.9"/>
<line x1="489.90" y1="822.11" x2="489.90" y2="829.31" stroke="#e60000" stroke-width="1.9"/>
<line x1="533.60" y1="822.11" x2="533.60" y2="829.31" stroke="#e60000" stroke-width="1.9"/>
<line x1="498.70" y1="835.02" x2="541.30" y2="835.02" stroke="#e60000" stroke-width="1.9"/>
<line x1="498.70" y1="831.42" x2="498.70" y2="838.62" stroke="#e60000" stroke-width="1.9"/>
<line x1="541.30" y1="831.42" x2="541.30" y2="838.62" stroke="#e60000" stroke-width="1.9"/>
<line x1="428.50" y1="844.33" x2="471.50" y2="844.33" stroke="#e60000" stroke-width="1.9"/>
<line x1="428.50" y1="840.73" x2="428.50" y2="847.93" stroke="#e60000" stroke-width="1.9"/>
<line x1="471.50" y1="840.73" x2="471.50" y2="847.93" stroke="#e60000" stroke-width="1.9"/>
<line x1="442.00" y1="853.64" x2="482.80" y2="853.64" stroke="#e60000" stroke-width="1.9"/>
<line x1="442.00" y1="850.04" x2="442.00" y2="857.24" stroke="#e60000" stroke-width="1.9"/>
<line x1="482.80" y1="850.04" x2="482.80" y2="857.24" stroke="#e60000" stroke-width="1.9"/>
<line x1="453.50" y1="862.95" x2="492.20" y2="862.95" stroke="#e60000" stroke-width="1.9"/>
<line x1="453.50" y1="859.35" x2="453.50" y2="866.55" stroke="#e60000" stroke-width="1.9"/>
<line x1="492.20" y1="859.35" x2="492.20" y2="866.55" stroke="#e60000" stroke-width="1.9"/>
<line x1="477.00" y1="872.26" x2="519.00" y2="872.26" stroke="#e60000" stroke-width="1.9"/>
<line x1="477.00" y1="868.66" x2="477.00" y2="875.86" stroke="#e60000" stroke-width="1.9"/>
<line x1="519.00" y1="868.66" x2="519.00" y2="875.86" stroke="#e60000" stroke-width="1.9"/>
<line x1="508.00" y1="881.57" x2="546.00" y2="881.57" stroke="#e60000" stroke-width="1.9"/>
<line x1="508.00" y1="877.97" x2="508.00" y2="885.17" stroke="#e60000" stroke-width="1.9"/>
<line x1="546.00" y1="877.97" x2="546.00" y2="885.17" stroke="#e60000" stroke-width="1.9"/>
<line x1="521.20" y1="890.88" x2="560.80" y2="890.88" stroke="#e60000" stroke-width="1.9"/>
<line x1="521.20" y1="887.28" x2="521.20" y2="894.48" stroke="#e60000" stroke-width="1.9"/>
<line x1="560.80" y1="887.28" x2="560.80" y2="894.48" stroke="#e60000" stroke-width="1.9"/>
<polyline points="505.80,723.30 518.80,732.61 486.30,741.92 472.50,751.23 478.30,760.54 494.30,769.85 526.00,779.16 549.60,788.47 561.20,797.78 548.50,807.09 514.00,816.40 511.70,825.71 519.50,835.02 450.00,844.33 462.40,853.64 471.20,862.95 497.80,872.26 527.00,881.57 541.00,890.88" fill="none" stroke="#e60000" stroke-width="1.9" stroke-linejoin="miter"/>
<line x1="573.20" y1="723.30" x2="630.60" y2="723.30" stroke="#0a0af0" stroke-width="1.9"/>
<line x1="573.20" y1="719.70" x2="573.20" y2="726.90" stroke="#0a0af0" stroke-width="1.9"/>
<line x1="630.60" y1="719.70" x2="630.60" y2="726.90" stroke="#0a0af0" stroke-width="1.9"/>
<line x1="537.70" y1="732.61" x2="597.70" y2="732.61" stroke="#0a0af0" stroke-width="1.9"/>
<line x1="537.70" y1="729.01" x2="537.70" y2="736.21" stroke="#0a0af0" stroke-width="1.9"/>
<line x1="597.70" y1="729.01" x2="597.70" y2="736.21" stroke="#0a0af0" stroke-width="1.9"/>
<line x1="526.20" y1="741.92" x2="587.80" y2="741.92" stroke="#0a0af0" stroke-width="1.9"/>
<line x1="526.20" y1="738.32" x2="526.20" y2="745.52" stroke="#0a0af0" stroke-width="1.9"/>
<line x1="587.80" y1="738.32" x2="587.80" y2="745.52" stroke="#0a0af0" stroke-width="1.9"/>
<line x1="512.90" y1="751.23" x2="574.40" y2="751.23" stroke="#0a0af0" stroke-width="1.9"/>
<line x1="512.90" y1="747.63" x2="512.90" y2="754.83" stroke="#0a0af0" stroke-width="1.9"/>
<line x1="574.40" y1="747.63" x2="574.40" y2="754.83" stroke="#0a0af0" stroke-width="1.9"/>
<line x1="505.80" y1="760.54" x2="565.20" y2="760.54" stroke="#0a0af0" stroke-width="1.9"/>
<line x1="505.80" y1="756.94" x2="505.80" y2="764.14" stroke="#0a0af0" stroke-width="1.9"/>
<line x1="565.20" y1="756.94" x2="565.20" y2="764.14" stroke="#0a0af0" stroke-width="1.9"/>
<line x1="549.70" y1="769.85" x2="607.20" y2="769.85" stroke="#0a0af0" stroke-width="1.9"/>
<line x1="549.70" y1="766.25" x2="549.70" y2="773.45" stroke="#0a0af0" stroke-width="1.9"/>
<line x1="607.20" y1="766.25" x2="607.20" y2="773.45" stroke="#0a0af0" stroke-width="1.9"/>
<line x1="495.10" y1="779.16" x2="548.50" y2="779.16" stroke="#0a0af0" stroke-width="1.9"/>
<line x1="495.10" y1="775.56" x2="495.10" y2="782.76" stroke="#0a0af0" stroke-width="1.9"/>
<line x1="548.50" y1="775.56" x2="548.50" y2="782.76" stroke="#0a0af0" stroke-width="1.9"/>
<line x1="438.40" y1="788.47" x2="489.30" y2="788.47" stroke="#0a0af0" stroke-width="1.9"/>
<line x1="438.40" y1="784.87" x2="438.40" y2="792.07" stroke="#0a0af0" stroke-width="1.9"/>
<line x1="489.30" y1="784.87" x2="489.30" y2="792.07" stroke="#0a0af0" stroke-width="1.9"/>
<line x1="495.10" y1="797.78" x2="541.50" y2="797.78" stroke="#0a0af0" stroke-width="1.9"/>
<line x1="495.10" y1="794.18" x2="495.10" y2="801.38" stroke="#0a0af0" stroke-width="1.9"/>
<line x1="541.50" y1="794.18" x2="541.50" y2="801.38" stroke="#0a0af0" stroke-width="1.9"/>
<line x1="475.70" y1="807.09" x2="521.80" y2="807.09" stroke="#0a0af0" stroke-width="1.9"/>
<line x1="475.70" y1="803.49" x2="475.70" y2="810.69" stroke="#0a0af0" stroke-width="1.9"/>
<line x1="521.80" y1="803.49" x2="521.80" y2="810.69" stroke="#0a0af0" stroke-width="1.9"/>
<line x1="457.10" y1="816.40" x2="504.00" y2="816.40" stroke="#0a0af0" stroke-width="1.9"/>
<line x1="457.10" y1="812.80" x2="457.10" y2="820.00" stroke="#0a0af0" stroke-width="1.9"/>
<line x1="504.00" y1="812.80" x2="504.00" y2="820.00" stroke="#0a0af0" stroke-width="1.9"/>
<line x1="438.40" y1="825.71" x2="486.30" y2="825.71" stroke="#0a0af0" stroke-width="1.9"/>
<line x1="438.40" y1="822.11" x2="438.40" y2="829.31" stroke="#0a0af0" stroke-width="1.9"/>
<line x1="486.30" y1="822.11" x2="486.30" y2="829.31" stroke="#0a0af0" stroke-width="1.9"/>
<line x1="452.60" y1="835.02" x2="499.60" y2="835.02" stroke="#0a0af0" stroke-width="1.9"/>
<line x1="452.60" y1="831.42" x2="452.60" y2="838.62" stroke="#0a0af0" stroke-width="1.9"/>
<line x1="499.60" y1="831.42" x2="499.60" y2="838.62" stroke="#0a0af0" stroke-width="1.9"/>
<line x1="469.80" y1="844.33" x2="519.10" y2="844.33" stroke="#0a0af0" stroke-width="1.9"/>
<line x1="469.80" y1="840.73" x2="469.80" y2="847.93" stroke="#0a0af0" stroke-width="1.9"/>
<line x1="519.10" y1="840.73" x2="519.10" y2="847.93" stroke="#0a0af0" stroke-width="1.9"/>
<line x1="407.40" y1="853.64" x2="461.50" y2="853.64" stroke="#0a0af0" stroke-width="1.9"/>
<line x1="407.40" y1="850.04" x2="407.40" y2="857.24" stroke="#0a0af0" stroke-width="1.9"/>
<line x1="461.50" y1="850.04" x2="461.50" y2="857.24" stroke="#0a0af0" stroke-width="1.9"/>
<line x1="394.30" y1="862.95" x2="450.90" y2="862.95" stroke="#0a0af0" stroke-width="1.9"/>
<line x1="394.30" y1="859.35" x2="394.30" y2="866.55" stroke="#0a0af0" stroke-width="1.9"/>
<line x1="450.90" y1="859.35" x2="450.90" y2="866.55" stroke="#0a0af0" stroke-width="1.9"/>
<line x1="465.00" y1="872.26" x2="524.80" y2="872.26" stroke="#0a0af0" stroke-width="1.9"/>
<line x1="465.00" y1="868.66" x2="465.00" y2="875.86" stroke="#0a0af0" stroke-width="1.9"/>
<line x1="524.80" y1="868.66" x2="524.80" y2="875.86" stroke="#0a0af0" stroke-width="1.9"/>
<line x1="512.00" y1="881.57" x2="573.20" y2="881.57" stroke="#0a0af0" stroke-width="1.9"/>
<line x1="512.00" y1="877.97" x2="512.00" y2="885.17" stroke="#0a0af0" stroke-width="1.9"/>
<line x1="573.20" y1="877.97" x2="573.20" y2="885.17" stroke="#0a0af0" stroke-width="1.9"/>
<line x1="469.10" y1="890.88" x2="529.20" y2="890.88" stroke="#0a0af0" stroke-width="1.9"/>
<line x1="469.10" y1="887.28" x2="469.10" y2="894.48" stroke="#0a0af0" stroke-width="1.9"/>
<line x1="529.20" y1="887.28" x2="529.20" y2="894.48" stroke="#0a0af0" stroke-width="1.9"/>
<polyline points="600.90,723.30 567.00,732.61 557.20,741.92 543.90,751.23 535.90,760.54 577.60,769.85 521.00,779.16 465.90,788.47 518.20,797.78 498.70,807.09 477.00,816.40 463.30,825.71 476.60,835.02 494.50,844.33 433.10,853.64 422.50,862.95 494.90,872.26 540.00,881.57 499.20,890.88" fill="none" stroke="#0a0af0" stroke-width="1.9" stroke-linejoin="miter"/>
</g></g>
<rect x="64.30" y="718.20" width="242.00" height="185.60" fill="none" stroke="#000" stroke-width="1.6"/>
<rect x="394.30" y="718.20" width="242.00" height="185.60" fill="none" stroke="#000" stroke-width="1.6"/>
<line x1="64.30" y1="903.80" x2="64.30" y2="899.30" stroke="#000" stroke-width="1.1"/>
<line x1="64.30" y1="718.20" x2="64.30" y2="722.70" stroke="#000" stroke-width="1.1"/>
<text x="64.30" y="924.00" text-anchor="middle" font-size="16">0.1</text>
<line x1="124.80" y1="903.80" x2="124.80" y2="899.30" stroke="#000" stroke-width="1.1"/>
<line x1="124.80" y1="718.20" x2="124.80" y2="722.70" stroke="#000" stroke-width="1.1"/>
<text x="124.80" y="924.00" text-anchor="middle" font-size="16">0.2</text>
<line x1="185.30" y1="903.80" x2="185.30" y2="899.30" stroke="#000" stroke-width="1.1"/>
<line x1="185.30" y1="718.20" x2="185.30" y2="722.70" stroke="#000" stroke-width="1.1"/>
<text x="185.30" y="924.00" text-anchor="middle" font-size="16">0.3</text>
<line x1="245.80" y1="903.80" x2="245.80" y2="899.30" stroke="#000" stroke-width="1.1"/>
<line x1="245.80" y1="718.20" x2="245.80" y2="722.70" stroke="#000" stroke-width="1.1"/>
<text x="245.80" y="924.00" text-anchor="middle" font-size="16">0.4</text>
<line x1="306.30" y1="903.80" x2="306.30" y2="899.30" stroke="#000" stroke-width="1.1"/>
<line x1="306.30" y1="718.20" x2="306.30" y2="722.70" stroke="#000" stroke-width="1.1"/>
<text x="306.30" y="924.00" text-anchor="middle" font-size="16">0.5</text>
<line x1="70.35" y1="903.80" x2="70.35" y2="901.70" stroke="#000" stroke-width="0.9"/>
<line x1="70.35" y1="718.20" x2="70.35" y2="720.30" stroke="#000" stroke-width="0.9"/>
<line x1="76.40" y1="903.80" x2="76.40" y2="901.70" stroke="#000" stroke-width="0.9"/>
<line x1="76.40" y1="718.20" x2="76.40" y2="720.30" stroke="#000" stroke-width="0.9"/>
<line x1="82.45" y1="903.80" x2="82.45" y2="901.70" stroke="#000" stroke-width="0.9"/>
<line x1="82.45" y1="718.20" x2="82.45" y2="720.30" stroke="#000" stroke-width="0.9"/>
<line x1="88.50" y1="903.80" x2="88.50" y2="901.70" stroke="#000" stroke-width="0.9"/>
<line x1="88.50" y1="718.20" x2="88.50" y2="720.30" stroke="#000" stroke-width="0.9"/>
<line x1="94.55" y1="903.80" x2="94.55" y2="901.70" stroke="#000" stroke-width="0.9"/>
<line x1="94.55" y1="718.20" x2="94.55" y2="720.30" stroke="#000" stroke-width="0.9"/>
<line x1="100.60" y1="903.80" x2="100.60" y2="901.70" stroke="#000" stroke-width="0.9"/>
<line x1="100.60" y1="718.20" x2="100.60" y2="720.30" stroke="#000" stroke-width="0.9"/>
<line x1="106.65" y1="903.80" x2="106.65" y2="901.70" stroke="#000" stroke-width="0.9"/>
<line x1="106.65" y1="718.20" x2="106.65" y2="720.30" stroke="#000" stroke-width="0.9"/>
<line x1="112.70" y1="903.80" x2="112.70" y2="901.70" stroke="#000" stroke-width="0.9"/>
<line x1="112.70" y1="718.20" x2="112.70" y2="720.30" stroke="#000" stroke-width="0.9"/>
<line x1="118.75" y1="903.80" x2="118.75" y2="901.70" stroke="#000" stroke-width="0.9"/>
<line x1="118.75" y1="718.20" x2="118.75" y2="720.30" stroke="#000" stroke-width="0.9"/>
<line x1="130.85" y1="903.80" x2="130.85" y2="901.70" stroke="#000" stroke-width="0.9"/>
<line x1="130.85" y1="718.20" x2="130.85" y2="720.30" stroke="#000" stroke-width="0.9"/>
<line x1="136.90" y1="903.80" x2="136.90" y2="901.70" stroke="#000" stroke-width="0.9"/>
<line x1="136.90" y1="718.20" x2="136.90" y2="720.30" stroke="#000" stroke-width="0.9"/>
<line x1="142.95" y1="903.80" x2="142.95" y2="901.70" stroke="#000" stroke-width="0.9"/>
<line x1="142.95" y1="718.20" x2="142.95" y2="720.30" stroke="#000" stroke-width="0.9"/>
<line x1="149.00" y1="903.80" x2="149.00" y2="901.70" stroke="#000" stroke-width="0.9"/>
<line x1="149.00" y1="718.20" x2="149.00" y2="720.30" stroke="#000" stroke-width="0.9"/>
<line x1="155.05" y1="903.80" x2="155.05" y2="901.70" stroke="#000" stroke-width="0.9"/>
<line x1="155.05" y1="718.20" x2="155.05" y2="720.30" stroke="#000" stroke-width="0.9"/>
<line x1="161.10" y1="903.80" x2="161.10" y2="901.70" stroke="#000" stroke-width="0.9"/>
<line x1="161.10" y1="718.20" x2="161.10" y2="720.30" stroke="#000" stroke-width="0.9"/>
<line x1="167.15" y1="903.80" x2="167.15" y2="901.70" stroke="#000" stroke-width="0.9"/>
<line x1="167.15" y1="718.20" x2="167.15" y2="720.30" stroke="#000" stroke-width="0.9"/>
<line x1="173.20" y1="903.80" x2="173.20" y2="901.70" stroke="#000" stroke-width="0.9"/>
<line x1="173.20" y1="718.20" x2="173.20" y2="720.30" stroke="#000" stroke-width="0.9"/>
<line x1="179.25" y1="903.80" x2="179.25" y2="901.70" stroke="#000" stroke-width="0.9"/>
<line x1="179.25" y1="718.20" x2="179.25" y2="720.30" stroke="#000" stroke-width="0.9"/>
<line x1="191.35" y1="903.80" x2="191.35" y2="901.70" stroke="#000" stroke-width="0.9"/>
<line x1="191.35" y1="718.20" x2="191.35" y2="720.30" stroke="#000" stroke-width="0.9"/>
<line x1="197.40" y1="903.80" x2="197.40" y2="901.70" stroke="#000" stroke-width="0.9"/>
<line x1="197.40" y1="718.20" x2="197.40" y2="720.30" stroke="#000" stroke-width="0.9"/>
<line x1="203.45" y1="903.80" x2="203.45" y2="901.70" stroke="#000" stroke-width="0.9"/>
<line x1="203.45" y1="718.20" x2="203.45" y2="720.30" stroke="#000" stroke-width="0.9"/>
<line x1="209.50" y1="903.80" x2="209.50" y2="901.70" stroke="#000" stroke-width="0.9"/>
<line x1="209.50" y1="718.20" x2="209.50" y2="720.30" stroke="#000" stroke-width="0.9"/>
<line x1="215.55" y1="903.80" x2="215.55" y2="901.70" stroke="#000" stroke-width="0.9"/>
<line x1="215.55" y1="718.20" x2="215.55" y2="720.30" stroke="#000" stroke-width="0.9"/>
<line x1="221.60" y1="903.80" x2="221.60" y2="901.70" stroke="#000" stroke-width="0.9"/>
<line x1="221.60" y1="718.20" x2="221.60" y2="720.30" stroke="#000" stroke-width="0.9"/>
<line x1="227.65" y1="903.80" x2="227.65" y2="901.70" stroke="#000" stroke-width="0.9"/>
<line x1="227.65" y1="718.20" x2="227.65" y2="720.30" stroke="#000" stroke-width="0.9"/>
<line x1="233.70" y1="903.80" x2="233.70" y2="901.70" stroke="#000" stroke-width="0.9"/>
<line x1="233.70" y1="718.20" x2="233.70" y2="720.30" stroke="#000" stroke-width="0.9"/>
<line x1="239.75" y1="903.80" x2="239.75" y2="901.70" stroke="#000" stroke-width="0.9"/>
<line x1="239.75" y1="718.20" x2="239.75" y2="720.30" stroke="#000" stroke-width="0.9"/>
<line x1="251.85" y1="903.80" x2="251.85" y2="901.70" stroke="#000" stroke-width="0.9"/>
<line x1="251.85" y1="718.20" x2="251.85" y2="720.30" stroke="#000" stroke-width="0.9"/>
<line x1="257.90" y1="903.80" x2="257.90" y2="901.70" stroke="#000" stroke-width="0.9"/>
<line x1="257.90" y1="718.20" x2="257.90" y2="720.30" stroke="#000" stroke-width="0.9"/>
<line x1="263.95" y1="903.80" x2="263.95" y2="901.70" stroke="#000" stroke-width="0.9"/>
<line x1="263.95" y1="718.20" x2="263.95" y2="720.30" stroke="#000" stroke-width="0.9"/>
<line x1="270.00" y1="903.80" x2="270.00" y2="901.70" stroke="#000" stroke-width="0.9"/>
<line x1="270.00" y1="718.20" x2="270.00" y2="720.30" stroke="#000" stroke-width="0.9"/>
<line x1="276.05" y1="903.80" x2="276.05" y2="901.70" stroke="#000" stroke-width="0.9"/>
<line x1="276.05" y1="718.20" x2="276.05" y2="720.30" stroke="#000" stroke-width="0.9"/>
<line x1="282.10" y1="903.80" x2="282.10" y2="901.70" stroke="#000" stroke-width="0.9"/>
<line x1="282.10" y1="718.20" x2="282.10" y2="720.30" stroke="#000" stroke-width="0.9"/>
<line x1="288.15" y1="903.80" x2="288.15" y2="901.70" stroke="#000" stroke-width="0.9"/>
<line x1="288.15" y1="718.20" x2="288.15" y2="720.30" stroke="#000" stroke-width="0.9"/>
<line x1="294.20" y1="903.80" x2="294.20" y2="901.70" stroke="#000" stroke-width="0.9"/>
<line x1="294.20" y1="718.20" x2="294.20" y2="720.30" stroke="#000" stroke-width="0.9"/>
<line x1="300.25" y1="903.80" x2="300.25" y2="901.70" stroke="#000" stroke-width="0.9"/>
<line x1="300.25" y1="718.20" x2="300.25" y2="720.30" stroke="#000" stroke-width="0.9"/>
<line x1="64.30" y1="755.80" x2="68.80" y2="755.80" stroke="#000" stroke-width="1.1"/>
<line x1="306.30" y1="755.80" x2="301.80" y2="755.80" stroke="#000" stroke-width="1.1"/>
<line x1="64.30" y1="797.95" x2="68.80" y2="797.95" stroke="#000" stroke-width="1.1"/>
<line x1="306.30" y1="797.95" x2="301.80" y2="797.95" stroke="#000" stroke-width="1.1"/>
<line x1="64.30" y1="840.10" x2="68.80" y2="840.10" stroke="#000" stroke-width="1.1"/>
<line x1="306.30" y1="840.10" x2="301.80" y2="840.10" stroke="#000" stroke-width="1.1"/>
<line x1="64.30" y1="882.25" x2="68.80" y2="882.25" stroke="#000" stroke-width="1.1"/>
<line x1="306.30" y1="882.25" x2="301.80" y2="882.25" stroke="#000" stroke-width="1.1"/>
<line x1="64.30" y1="899.11" x2="66.40" y2="899.11" stroke="#000" stroke-width="0.9"/>
<line x1="306.30" y1="899.11" x2="304.20" y2="899.11" stroke="#000" stroke-width="0.9"/>
<line x1="64.30" y1="890.68" x2="66.40" y2="890.68" stroke="#000" stroke-width="0.9"/>
<line x1="306.30" y1="890.68" x2="304.20" y2="890.68" stroke="#000" stroke-width="0.9"/>
<line x1="64.30" y1="873.82" x2="66.40" y2="873.82" stroke="#000" stroke-width="0.9"/>
<line x1="306.30" y1="873.82" x2="304.20" y2="873.82" stroke="#000" stroke-width="0.9"/>
<line x1="64.30" y1="865.39" x2="66.40" y2="865.39" stroke="#000" stroke-width="0.9"/>
<line x1="306.30" y1="865.39" x2="304.20" y2="865.39" stroke="#000" stroke-width="0.9"/>
<line x1="64.30" y1="856.96" x2="66.40" y2="856.96" stroke="#000" stroke-width="0.9"/>
<line x1="306.30" y1="856.96" x2="304.20" y2="856.96" stroke="#000" stroke-width="0.9"/>
<line x1="64.30" y1="848.53" x2="66.40" y2="848.53" stroke="#000" stroke-width="0.9"/>
<line x1="306.30" y1="848.53" x2="304.20" y2="848.53" stroke="#000" stroke-width="0.9"/>
<line x1="64.30" y1="831.67" x2="66.40" y2="831.67" stroke="#000" stroke-width="0.9"/>
<line x1="306.30" y1="831.67" x2="304.20" y2="831.67" stroke="#000" stroke-width="0.9"/>
<line x1="64.30" y1="823.24" x2="66.40" y2="823.24" stroke="#000" stroke-width="0.9"/>
<line x1="306.30" y1="823.24" x2="304.20" y2="823.24" stroke="#000" stroke-width="0.9"/>
<line x1="64.30" y1="814.81" x2="66.40" y2="814.81" stroke="#000" stroke-width="0.9"/>
<line x1="306.30" y1="814.81" x2="304.20" y2="814.81" stroke="#000" stroke-width="0.9"/>
<line x1="64.30" y1="806.38" x2="66.40" y2="806.38" stroke="#000" stroke-width="0.9"/>
<line x1="306.30" y1="806.38" x2="304.20" y2="806.38" stroke="#000" stroke-width="0.9"/>
<line x1="64.30" y1="789.52" x2="66.40" y2="789.52" stroke="#000" stroke-width="0.9"/>
<line x1="306.30" y1="789.52" x2="304.20" y2="789.52" stroke="#000" stroke-width="0.9"/>
<line x1="64.30" y1="781.09" x2="66.40" y2="781.09" stroke="#000" stroke-width="0.9"/>
<line x1="306.30" y1="781.09" x2="304.20" y2="781.09" stroke="#000" stroke-width="0.9"/>
<line x1="64.30" y1="772.66" x2="66.40" y2="772.66" stroke="#000" stroke-width="0.9"/>
<line x1="306.30" y1="772.66" x2="304.20" y2="772.66" stroke="#000" stroke-width="0.9"/>
<line x1="64.30" y1="764.23" x2="66.40" y2="764.23" stroke="#000" stroke-width="0.9"/>
<line x1="306.30" y1="764.23" x2="304.20" y2="764.23" stroke="#000" stroke-width="0.9"/>
<line x1="64.30" y1="747.37" x2="66.40" y2="747.37" stroke="#000" stroke-width="0.9"/>
<line x1="306.30" y1="747.37" x2="304.20" y2="747.37" stroke="#000" stroke-width="0.9"/>
<line x1="64.30" y1="738.94" x2="66.40" y2="738.94" stroke="#000" stroke-width="0.9"/>
<line x1="306.30" y1="738.94" x2="304.20" y2="738.94" stroke="#000" stroke-width="0.9"/>
<line x1="64.30" y1="730.51" x2="66.40" y2="730.51" stroke="#000" stroke-width="0.9"/>
<line x1="306.30" y1="730.51" x2="304.20" y2="730.51" stroke="#000" stroke-width="0.9"/>
<line x1="64.30" y1="722.08" x2="66.40" y2="722.08" stroke="#000" stroke-width="0.9"/>
<line x1="306.30" y1="722.08" x2="304.20" y2="722.08" stroke="#000" stroke-width="0.9"/>
<line x1="394.30" y1="755.80" x2="398.80" y2="755.80" stroke="#000" stroke-width="1.1"/>
<line x1="636.30" y1="755.80" x2="631.80" y2="755.80" stroke="#000" stroke-width="1.1"/>
<line x1="394.30" y1="797.95" x2="398.80" y2="797.95" stroke="#000" stroke-width="1.1"/>
<line x1="636.30" y1="797.95" x2="631.80" y2="797.95" stroke="#000" stroke-width="1.1"/>
<line x1="394.30" y1="840.10" x2="398.80" y2="840.10" stroke="#000" stroke-width="1.1"/>
<line x1="636.30" y1="840.10" x2="631.80" y2="840.10" stroke="#000" stroke-width="1.1"/>
<line x1="394.30" y1="882.25" x2="398.80" y2="882.25" stroke="#000" stroke-width="1.1"/>
<line x1="636.30" y1="882.25" x2="631.80" y2="882.25" stroke="#000" stroke-width="1.1"/>
<line x1="394.30" y1="899.11" x2="396.40" y2="899.11" stroke="#000" stroke-width="0.9"/>
<line x1="636.30" y1="899.11" x2="634.20" y2="899.11" stroke="#000" stroke-width="0.9"/>
<line x1="394.30" y1="890.68" x2="396.40" y2="890.68" stroke="#000" stroke-width="0.9"/>
<line x1="636.30" y1="890.68" x2="634.20" y2="890.68" stroke="#000" stroke-width="0.9"/>
<line x1="394.30" y1="873.82" x2="396.40" y2="873.82" stroke="#000" stroke-width="0.9"/>
<line x1="636.30" y1="873.82" x2="634.20" y2="873.82" stroke="#000" stroke-width="0.9"/>
<line x1="394.30" y1="865.39" x2="396.40" y2="865.39" stroke="#000" stroke-width="0.9"/>
<line x1="636.30" y1="865.39" x2="634.20" y2="865.39" stroke="#000" stroke-width="0.9"/>
<line x1="394.30" y1="856.96" x2="396.40" y2="856.96" stroke="#000" stroke-width="0.9"/>
<line x1="636.30" y1="856.96" x2="634.20" y2="856.96" stroke="#000" stroke-width="0.9"/>
<line x1="394.30" y1="848.53" x2="396.40" y2="848.53" stroke="#000" stroke-width="0.9"/>
<line x1="636.30" y1="848.53" x2="634.20" y2="848.53" stroke="#000" stroke-width="0.9"/>
<line x1="394.30" y1="831.67" x2="396.40" y2="831.67" stroke="#000" stroke-width="0.9"/>
<line x1="636.30" y1="831.67" x2="634.20" y2="831.67" stroke="#000" stroke-width="0.9"/>
<line x1="394.30" y1="823.24" x2="396.40" y2="823.24" stroke="#000" stroke-width="0.9"/>
<line x1="636.30" y1="823.24" x2="634.20" y2="823.24" stroke="#000" stroke-width="0.9"/>
<line x1="394.30" y1="814.81" x2="396.40" y2="814.81" stroke="#000" stroke-width="0.9"/>
<line x1="636.30" y1="814.81" x2="634.20" y2="814.81" stroke="#000" stroke-width="0.9"/>
<line x1="394.30" y1="806.38" x2="396.40" y2="806.38" stroke="#000" stroke-width="0.9"/>
<line x1="636.30" y1="806.38" x2="634.20" y2="806.38" stroke="#000" stroke-width="0.9"/>
<line x1="394.30" y1="789.52" x2="396.40" y2="789.52" stroke="#000" stroke-width="0.9"/>
<line x1="636.30" y1="789.52" x2="634.20" y2="789.52" stroke="#000" stroke-width="0.9"/>
<line x1="394.30" y1="781.09" x2="396.40" y2="781.09" stroke="#000" stroke-width="0.9"/>
<line x1="636.30" y1="781.09" x2="634.20" y2="781.09" stroke="#000" stroke-width="0.9"/>
<line x1="394.30" y1="772.66" x2="396.40" y2="772.66" stroke="#000" stroke-width="0.9"/>
<line x1="636.30" y1="772.66" x2="634.20" y2="772.66" stroke="#000" stroke-width="0.9"/>
<line x1="394.30" y1="764.23" x2="396.40" y2="764.23" stroke="#000" stroke-width="0.9"/>
<line x1="636.30" y1="764.23" x2="634.20" y2="764.23" stroke="#000" stroke-width="0.9"/>
<line x1="394.30" y1="747.37" x2="396.40" y2="747.37" stroke="#000" stroke-width="0.9"/>
<line x1="636.30" y1="747.37" x2="634.20" y2="747.37" stroke="#000" stroke-width="0.9"/>
<line x1="394.30" y1="738.94" x2="396.40" y2="738.94" stroke="#000" stroke-width="0.9"/>
<line x1="636.30" y1="738.94" x2="634.20" y2="738.94" stroke="#000" stroke-width="0.9"/>
<line x1="394.30" y1="730.51" x2="396.40" y2="730.51" stroke="#000" stroke-width="0.9"/>
<line x1="636.30" y1="730.51" x2="634.20" y2="730.51" stroke="#000" stroke-width="0.9"/>
<line x1="394.30" y1="722.08" x2="396.40" y2="722.08" stroke="#000" stroke-width="0.9"/>
<line x1="636.30" y1="722.08" x2="634.20" y2="722.08" stroke="#000" stroke-width="0.9"/>
<text x="59.30" y="762.20" text-anchor="end" font-size="16">-765</text>
<text x="59.30" y="804.35" text-anchor="end" font-size="16">-770</text>
<text x="59.30" y="846.50" text-anchor="end" font-size="16">-775</text>
<text x="59.30" y="888.65" text-anchor="end" font-size="16">-780</text>
<text x="389.30" y="762.20" text-anchor="end" font-size="16">-765</text>
<text x="389.30" y="804.35" text-anchor="end" font-size="16">-770</text>
<text x="389.30" y="846.50" text-anchor="end" font-size="16">-775</text>
<text x="389.30" y="888.65" text-anchor="end" font-size="16">-780</text>
<text x="185.30" y="942.90" text-anchor="middle" font-size="16.5">Normalized intensity</text>
<line x1="394.30" y1="903.80" x2="394.30" y2="899.30" stroke="#000" stroke-width="1.1"/>
<text x="394.30" y="924.00" text-anchor="middle" font-size="16">-2</text>
<line x1="454.80" y1="903.80" x2="454.80" y2="899.30" stroke="#000" stroke-width="1.1"/>
<text x="454.80" y="924.00" text-anchor="middle" font-size="16">-1</text>
<line x1="515.30" y1="903.80" x2="515.30" y2="899.30" stroke="#000" stroke-width="1.1"/>
<text x="515.30" y="924.00" text-anchor="middle" font-size="16">0</text>
<line x1="575.80" y1="903.80" x2="575.80" y2="899.30" stroke="#000" stroke-width="1.1"/>
<text x="575.80" y="924.00" text-anchor="middle" font-size="16">1</text>
<line x1="636.30" y1="903.80" x2="636.30" y2="899.30" stroke="#000" stroke-width="1.1"/>
<text x="636.30" y="924.00" text-anchor="middle" font-size="16">2</text>
<line x1="406.40" y1="903.80" x2="406.40" y2="901.40" stroke="#000" stroke-width="1.0"/>
<line x1="418.50" y1="903.80" x2="418.50" y2="901.40" stroke="#000" stroke-width="1.0"/>
<line x1="430.60" y1="903.80" x2="430.60" y2="901.40" stroke="#000" stroke-width="1.0"/>
<line x1="442.70" y1="903.80" x2="442.70" y2="901.40" stroke="#000" stroke-width="1.0"/>
<line x1="466.90" y1="903.80" x2="466.90" y2="901.40" stroke="#000" stroke-width="1.0"/>
<line x1="479.00" y1="903.80" x2="479.00" y2="901.40" stroke="#000" stroke-width="1.0"/>
<line x1="491.10" y1="903.80" x2="491.10" y2="901.40" stroke="#000" stroke-width="1.0"/>
<line x1="503.20" y1="903.80" x2="503.20" y2="901.40" stroke="#000" stroke-width="1.0"/>
<line x1="527.40" y1="903.80" x2="527.40" y2="901.40" stroke="#000" stroke-width="1.0"/>
<line x1="539.50" y1="903.80" x2="539.50" y2="901.40" stroke="#000" stroke-width="1.0"/>
<line x1="551.60" y1="903.80" x2="551.60" y2="901.40" stroke="#000" stroke-width="1.0"/>
<line x1="563.70" y1="903.80" x2="563.70" y2="901.40" stroke="#000" stroke-width="1.0"/>
<line x1="587.90" y1="903.80" x2="587.90" y2="901.40" stroke="#000" stroke-width="1.0"/>
<line x1="600.00" y1="903.80" x2="600.00" y2="901.40" stroke="#000" stroke-width="1.0"/>
<line x1="612.10" y1="903.80" x2="612.10" y2="901.40" stroke="#000" stroke-width="1.0"/>
<line x1="624.20" y1="903.80" x2="624.20" y2="901.40" stroke="#000" stroke-width="1.0"/>
<line x1="394.30" y1="718.20" x2="394.30" y2="722.70" stroke="#000" stroke-width="1.1"/>
<text x="394.30" y="711.00" text-anchor="middle" font-size="16">-0.4</text>
<line x1="454.80" y1="718.20" x2="454.80" y2="722.70" stroke="#000" stroke-width="1.1"/>
<text x="454.80" y="711.00" text-anchor="middle" font-size="16">-0.2</text>
<line x1="515.30" y1="718.20" x2="515.30" y2="722.70" stroke="#000" stroke-width="1.1"/>
<text x="515.30" y="711.00" text-anchor="middle" font-size="16">0.0</text>
<line x1="575.80" y1="718.20" x2="575.80" y2="722.70" stroke="#000" stroke-width="1.1"/>
<text x="575.80" y="711.00" text-anchor="middle" font-size="16">0.2</text>
<line x1="636.30" y1="718.20" x2="636.30" y2="722.70" stroke="#000" stroke-width="1.1"/>
<text x="636.30" y="711.00" text-anchor="middle" font-size="16">0.4</text>
<line x1="409.43" y1="718.20" x2="409.43" y2="720.60" stroke="#000" stroke-width="1.0"/>
<line x1="424.55" y1="718.20" x2="424.55" y2="720.60" stroke="#000" stroke-width="1.0"/>
<line x1="439.68" y1="718.20" x2="439.68" y2="720.60" stroke="#000" stroke-width="1.0"/>
<line x1="469.93" y1="718.20" x2="469.93" y2="720.60" stroke="#000" stroke-width="1.0"/>
<line x1="485.05" y1="718.20" x2="485.05" y2="720.60" stroke="#000" stroke-width="1.0"/>
<line x1="500.17" y1="718.20" x2="500.17" y2="720.60" stroke="#000" stroke-width="1.0"/>
<line x1="530.42" y1="718.20" x2="530.42" y2="720.60" stroke="#000" stroke-width="1.0"/>
<line x1="545.55" y1="718.20" x2="545.55" y2="720.60" stroke="#000" stroke-width="1.0"/>
<line x1="560.67" y1="718.20" x2="560.67" y2="720.60" stroke="#000" stroke-width="1.0"/>
<line x1="590.92" y1="718.20" x2="590.92" y2="720.60" stroke="#000" stroke-width="1.0"/>
<line x1="606.05" y1="718.20" x2="606.05" y2="720.60" stroke="#000" stroke-width="1.0"/>
<line x1="621.17" y1="718.20" x2="621.17" y2="720.60" stroke="#000" stroke-width="1.0"/>
<text x="515.30" y="942.30" text-anchor="middle" font-size="16.5"><tspan font-style="italic">U/I</tspan> [%] (Ly&#945; wing &amp; Si III)</text>
<text x="515.30" y="696.60" text-anchor="middle" font-size="16.5"><tspan font-style="italic">U/I</tspan> [%] (Ly&#945; core)</text>
<text x="6.00" y="727.40" text-anchor="start" font-size="19">(g)</text>
<text x="334.00" y="727.40" text-anchor="start" font-size="19">(h)</text>
<text x="17.40" y="811.50" text-anchor="middle" font-size="16.5" transform="rotate(-90 17.4 811.5)">Y [arcsec]</text>
<text x="347.30" y="811.50" text-anchor="middle" font-size="16.5" transform="rotate(-90 347.3 811.5)">Y [arcsec]</text>
<rect x="125.40" y="250.9" width="3.6" height="150.7" fill="#88f53a"/>
<rect x="241.60" y="250.9" width="3.6" height="150.7" fill="#88f53a"/>
<rect x="455.40" y="250.9" width="3.6" height="150.7" fill="#88f53a"/>
<rect x="571.60" y="250.9" width="3.6" height="150.7" fill="#88f53a"/>
<g shape-rendering="crispEdges">
<rect x="169.90" y="387.60" width="3.10" height="13.50" fill="#dc0000"/>
<rect x="197.50" y="387.60" width="3.10" height="13.50" fill="#dc0000"/>
<rect x="169.90" y="392.70" width="30.70" height="2.90" fill="#dc0000"/>
<rect x="499.90" y="387.60" width="3.10" height="13.50" fill="#dc0000"/>
<rect x="527.50" y="387.60" width="3.10" height="13.50" fill="#dc0000"/>
<rect x="499.90" y="392.70" width="30.70" height="2.90" fill="#dc0000"/>
<rect x="143.20" y="612.80" width="6.30" height="20.10" fill="#0a0af5"/>
<rect x="221" y="612.80" width="6.30" height="20.10" fill="#0a0af5"/>
<rect x="143.20" y="619.90" width="84.10" height="5.60" fill="#0a0af5"/>
<rect x="473.20" y="612.80" width="6.30" height="20.10" fill="#0a0af5"/>
<rect x="551" y="612.80" width="6.30" height="20.10" fill="#0a0af5"/>
<rect x="473.20" y="619.90" width="84.10" height="5.60" fill="#0a0af5"/>
</g>
<polygon points="485.1,56.6 487.9,49.8 492.5,47.5 505.0,45.2 514.0,47.5 518.0,50.3 517.4,57.7 514.0,63.4 508.3,67.3 500.4,69.1 491.3,67.9 486.8,64.5" fill="none" stroke="#e00000" stroke-width="2.0" shape-rendering="auto"/>
<polygon points="495.3,56.0 499.3,50.9 506.1,49.2 508.3,51.5 509.5,56.6 506.6,60.0 500.4,60.2" fill="none" stroke="#e00000" stroke-width="2.0" shape-rendering="auto"/>
<polygon points="470.3,103.1 472.0,98.0 474.9,95.7 478.8,99.7 481.1,105.9 479.4,108.8 475.4,110.5 471.5,107.6" fill="none" stroke="#0a0af5" stroke-width="2.0" shape-rendering="auto"/>
<polygon points="477.7,120.1 481.1,115.0 484.7,120.1 481.1,126.9" fill="none" stroke="#0a0af5" stroke-width="2.0" shape-rendering="auto"/>
<rect x="643.80" y="250.70" width="18.30" height="1.40" fill="#e1200b"/>
<rect x="643.80" y="251.70" width="18.30" height="1.40" fill="#e0230c"/>
<rect x="643.80" y="252.71" width="18.30" height="1.40" fill="#e0260d"/>
<rect x="643.80" y="253.71" width="18.30" height="1.40" fill="#e0290e"/>
<rect x="643.80" y="254.72" width="18.30" height="1.40" fill="#df2c0f"/>
<rect x="643.80" y="255.72" width="18.30" height="1.40" fill="#df2f10"/>
<rect x="643.80" y="256.72" width="18.30" height="1.40" fill="#de3212"/>
<rect x="643.80" y="257.73" width="18.30" height="1.40" fill="#de3613"/>
<rect x="643.80" y="258.73" width="18.30" height="1.40" fill="#de3914"/>
<rect x="643.80" y="259.74" width="18.30" height="1.40" fill="#dd3c15"/>
<rect x="643.80" y="260.74" width="18.30" height="1.40" fill="#dd3f16"/>
<rect x="643.80" y="261.74" width="18.30" height="1.40" fill="#dc4218"/>
<rect x="643.80" y="262.75" width="18.30" height="1.40" fill="#dc4519"/>
<rect x="643.80" y="263.75" width="18.30" height="1.40" fill="#dc4a1a"/>
<rect x="643.80" y="264.76" width="18.30" height="1.40" fill="#dd4f1b"/>
<rect x="643.80" y="265.76" width="18.30" height="1.40" fill="#dd531c"/>
<rect x="643.80" y="266.76" width="18.30" height="1.40" fill="#de581e"/>
<rect x="643.80" y="267.77" width="18.30" height="1.40" fill="#de5d1f"/>
<rect x="643.80" y="268.77" width="18.30" height="1.40" fill="#de6220"/>
<rect x="643.80" y="269.78" width="18.30" height="1.40" fill="#df6721"/>
<rect x="643.80" y="270.78" width="18.30" height="1.40" fill="#df6c23"/>
<rect x="643.80" y="271.78" width="18.30" height="1.40" fill="#e07124"/>
<rect x="643.80" y="272.79" width="18.30" height="1.40" fill="#e07625"/>
<rect x="643.80" y="273.79" width="18.30" height="1.40" fill="#e07b26"/>
<rect x="643.80" y="274.80" width="18.30" height="1.40" fill="#e18027"/>
<rect x="643.80" y="275.80" width="18.30" height="1.40" fill="#e18428"/>
<rect x="643.80" y="276.80" width="18.30" height="1.40" fill="#e28729"/>
<rect x="643.80" y="277.81" width="18.30" height="1.40" fill="#e38b29"/>
<rect x="643.80" y="278.81" width="18.30" height="1.40" fill="#e48f29"/>
<rect x="643.80" y="279.82" width="18.30" height="1.40" fill="#e5922a"/>
<rect x="643.80" y="280.82" width="18.30" height="1.40" fill="#e5962a"/>
<rect x="643.80" y="281.82" width="18.30" height="1.40" fill="#e6992b"/>
<rect x="643.80" y="282.83" width="18.30" height="1.40" fill="#e79d2b"/>
<rect x="643.80" y="283.83" width="18.30" height="1.40" fill="#e8a12b"/>
<rect x="643.80" y="284.84" width="18.30" height="1.40" fill="#e9a42c"/>
<rect x="643.80" y="285.84" width="18.30" height="1.40" fill="#e9a82c"/>
<rect x="643.80" y="286.84" width="18.30" height="1.40" fill="#eaab2d"/>
<rect x="643.80" y="287.85" width="18.30" height="1.40" fill="#ebaf2d"/>
<rect x="643.80" y="288.85" width="18.30" height="1.40" fill="#ecb22d"/>
<rect x="643.80" y="289.86" width="18.30" height="1.40" fill="#edb52e"/>
<rect x="643.80" y="290.86" width="18.30" height="1.40" fill="#edb92e"/>
<rect x="643.80" y="291.86" width="18.30" height="1.40" fill="#eebc2f"/>
<rect x="643.80" y="292.87" width="18.30" height="1.40" fill="#efbf2f"/>
<rect x="643.80" y="293.87" width="18.30" height="1.40" fill="#f0c22f"/>
<rect x="643.80" y="294.88" width="18.30" height="1.40" fill="#f1c530"/>
<rect x="643.80" y="295.88" width="18.30" height="1.40" fill="#f1c930"/>
<rect x="643.80" y="296.88" width="18.30" height="1.40" fill="#f2cc31"/>
<rect x="643.80" y="297.89" width="18.30" height="1.40" fill="#f3cf31"/>
<rect x="643.80" y="298.89" width="18.30" height="1.40" fill="#f4d231"/>
<rect x="643.80" y="299.90" width="18.30" height="1.40" fill="#f5d532"/>
<rect x="643.80" y="300.90" width="18.30" height="1.40" fill="#f5d832"/>
<rect x="643.80" y="301.90" width="18.30" height="1.40" fill="#f6db32"/>
<rect x="643.80" y="302.91" width="18.30" height="1.40" fill="#f6dd32"/>
<rect x="643.80" y="303.91" width="18.30" height="1.40" fill="#f6e032"/>
<rect x="643.80" y="304.92" width="18.30" height="1.40" fill="#f7e232"/>
<rect x="643.80" y="305.92" width="18.30" height="1.40" fill="#f7e432"/>
<rect x="643.80" y="306.92" width="18.30" height="1.40" fill="#f8e732"/>
<rect x="643.80" y="307.93" width="18.30" height="1.40" fill="#f8e932"/>
<rect x="643.80" y="308.93" width="18.30" height="1.40" fill="#f8ec32"/>
<rect x="643.80" y="309.94" width="18.30" height="1.40" fill="#f9ee32"/>
<rect x="643.80" y="310.94" width="18.30" height="1.40" fill="#f9f132"/>
<rect x="643.80" y="311.94" width="18.30" height="1.40" fill="#faf332"/>
<rect x="643.80" y="312.95" width="18.30" height="1.40" fill="#f9f534"/>
<rect x="643.80" y="313.95" width="18.30" height="1.40" fill="#f7f33d"/>
<rect x="643.80" y="314.96" width="18.30" height="1.40" fill="#f5f246"/>
<rect x="643.80" y="315.96" width="18.30" height="1.40" fill="#f3f04f"/>
<rect x="643.80" y="316.96" width="18.30" height="1.40" fill="#f1ef58"/>
<rect x="643.80" y="317.97" width="18.30" height="1.40" fill="#eeed61"/>
<rect x="643.80" y="318.97" width="18.30" height="1.40" fill="#ecec6a"/>
<rect x="643.80" y="319.98" width="18.30" height="1.40" fill="#e8e875"/>
<rect x="643.80" y="320.98" width="18.30" height="1.40" fill="#e4e483"/>
<rect x="643.80" y="321.98" width="18.30" height="1.40" fill="#dede91"/>
<rect x="643.80" y="322.99" width="18.30" height="1.40" fill="#dadaa0"/>
<rect x="643.80" y="323.99" width="18.30" height="1.40" fill="#d4d4ae"/>
<rect x="643.80" y="325" width="18.30" height="1.40" fill="#d0d0bc"/>
<rect x="643.80" y="326" width="18.30" height="1.40" fill="#c8cebb"/>
<rect x="643.80" y="327" width="18.30" height="1.40" fill="#bfd0ab"/>
<rect x="643.80" y="328.01" width="18.30" height="1.40" fill="#b6d19b"/>
<rect x="643.80" y="329.01" width="18.30" height="1.40" fill="#add38c"/>
<rect x="643.80" y="330.02" width="18.30" height="1.40" fill="#a4d47c"/>
<rect x="643.80" y="331.02" width="18.30" height="1.40" fill="#9bd66c"/>
<rect x="643.80" y="332.02" width="18.30" height="1.40" fill="#95d862"/>
<rect x="643.80" y="333.03" width="18.30" height="1.40" fill="#92db5c"/>
<rect x="643.80" y="334.03" width="18.30" height="1.40" fill="#8fde58"/>
<rect x="643.80" y="335.04" width="18.30" height="1.40" fill="#8ce152"/>
<rect x="643.80" y="336.04" width="18.30" height="1.40" fill="#8ae34e"/>
<rect x="643.80" y="337.04" width="18.30" height="1.40" fill="#87e648"/>
<rect x="643.80" y="338.05" width="18.30" height="1.40" fill="#84e943"/>
<rect x="643.80" y="339.05" width="18.30" height="1.40" fill="#81ec3f"/>
<rect x="643.80" y="340.06" width="18.30" height="1.40" fill="#7eef39"/>
<rect x="643.80" y="341.06" width="18.30" height="1.40" fill="#7df03a"/>
<rect x="643.80" y="342.06" width="18.30" height="1.40" fill="#7cf041"/>
<rect x="643.80" y="343.07" width="18.30" height="1.40" fill="#7cf047"/>
<rect x="643.80" y="344.07" width="18.30" height="1.40" fill="#7bef4d"/>
<rect x="643.80" y="345.08" width="18.30" height="1.40" fill="#7bef54"/>
<rect x="643.80" y="346.08" width="18.30" height="1.40" fill="#7aef5a"/>
<rect x="643.80" y="347.08" width="18.30" height="1.40" fill="#7aef61"/>
<rect x="643.80" y="348.09" width="18.30" height="1.40" fill="#79ef67"/>
<rect x="643.80" y="349.09" width="18.30" height="1.40" fill="#79ee6e"/>
<rect x="643.80" y="350.10" width="18.30" height="1.40" fill="#78ee74"/>
<rect x="643.80" y="351.10" width="18.30" height="1.40" fill="#7aed93"/>
<rect x="643.80" y="352.10" width="18.30" height="1.40" fill="#7fecdb"/>
<rect x="643.80" y="353.11" width="18.30" height="1.40" fill="#81e9ff"/>
<rect x="643.80" y="354.11" width="18.30" height="1.40" fill="#7ee5fe"/>
<rect x="643.80" y="355.12" width="18.30" height="1.40" fill="#7be0fd"/>
<rect x="643.80" y="356.12" width="18.30" height="1.40" fill="#78dcfc"/>
<rect x="643.80" y="357.12" width="18.30" height="1.40" fill="#75d8fb"/>
<rect x="643.80" y="358.13" width="18.30" height="1.40" fill="#72d3fa"/>
<rect x="643.80" y="359.13" width="18.30" height="1.40" fill="#6fcff9"/>
<rect x="643.80" y="360.14" width="18.30" height="1.40" fill="#6dcbf8"/>
<rect x="643.80" y="361.14" width="18.30" height="1.40" fill="#6ac7f7"/>
<rect x="643.80" y="362.14" width="18.30" height="1.40" fill="#67c2f6"/>
<rect x="643.80" y="363.15" width="18.30" height="1.40" fill="#64bef5"/>
<rect x="643.80" y="364.15" width="18.30" height="1.40" fill="#62b9f5"/>
<rect x="643.80" y="365.16" width="18.30" height="1.40" fill="#5fb4f4"/>
<rect x="643.80" y="366.16" width="18.30" height="1.40" fill="#5db0f4"/>
<rect x="643.80" y="367.16" width="18.30" height="1.40" fill="#5aabf3"/>
<rect x="643.80" y="368.17" width="18.30" height="1.40" fill="#58a6f3"/>
<rect x="643.80" y="369.17" width="18.30" height="1.40" fill="#56a1f3"/>
<rect x="643.80" y="370.18" width="18.30" height="1.40" fill="#539cf2"/>
<rect x="643.80" y="371.18" width="18.30" height="1.40" fill="#5198f2"/>
<rect x="643.80" y="372.18" width="18.30" height="1.40" fill="#4e93f1"/>
<rect x="643.80" y="373.19" width="18.30" height="1.40" fill="#4c8ef1"/>
<rect x="643.80" y="374.19" width="18.30" height="1.40" fill="#4a89f1"/>
<rect x="643.80" y="375.20" width="18.30" height="1.40" fill="#4785f0"/>
<rect x="643.80" y="376.20" width="18.30" height="1.40" fill="#4580f0"/>
<rect x="643.80" y="377.20" width="18.30" height="1.40" fill="#427cef"/>
<rect x="643.80" y="378.21" width="18.30" height="1.40" fill="#4078ef"/>
<rect x="643.80" y="379.21" width="18.30" height="1.40" fill="#3d74ef"/>
<rect x="643.80" y="380.22" width="18.30" height="1.40" fill="#3b70ee"/>
<rect x="643.80" y="381.22" width="18.30" height="1.40" fill="#396cee"/>
<rect x="643.80" y="382.22" width="18.30" height="1.40" fill="#3668ed"/>
<rect x="643.80" y="383.23" width="18.30" height="1.40" fill="#3463ed"/>
<rect x="643.80" y="384.23" width="18.30" height="1.40" fill="#315fed"/>
<rect x="643.80" y="385.24" width="18.30" height="1.40" fill="#2f5bec"/>
<rect x="643.80" y="386.24" width="18.30" height="1.40" fill="#2c57ec"/>
<rect x="643.80" y="387.24" width="18.30" height="1.40" fill="#2a53eb"/>
<rect x="643.80" y="388.25" width="18.30" height="1.40" fill="#284feb"/>
<rect x="643.80" y="389.25" width="18.30" height="1.40" fill="#264aeb"/>
<rect x="643.80" y="390.26" width="18.30" height="1.40" fill="#2445eb"/>
<rect x="643.80" y="391.26" width="18.30" height="1.40" fill="#2341eb"/>
<rect x="643.80" y="392.26" width="18.30" height="1.40" fill="#213ceb"/>
<rect x="643.80" y="393.27" width="18.30" height="1.40" fill="#2037eb"/>
<rect x="643.80" y="394.27" width="18.30" height="1.40" fill="#1e33eb"/>
<rect x="643.80" y="395.28" width="18.30" height="1.40" fill="#1d2eeb"/>
<rect x="643.80" y="396.28" width="18.30" height="1.40" fill="#1b29eb"/>
<rect x="643.80" y="397.28" width="18.30" height="1.40" fill="#1924eb"/>
<rect x="643.80" y="398.29" width="18.30" height="1.40" fill="#1820eb"/>
<rect x="643.80" y="399.29" width="18.30" height="1.40" fill="#161beb"/>
<rect x="643.80" y="400.30" width="18.30" height="1.40" fill="#1516eb"/>
<rect x="643.80" y="250.70" width="18.30" height="150.60" fill="none" stroke="#000" stroke-width="1.6"/>
<text x="666.20" y="260.09" text-anchor="start" font-size="14.6">0.6</text>
<line x1="643.80" y1="275.80" x2="649.20" y2="275.80" stroke="#000" stroke-width="1.3"/>
<line x1="662.10" y1="275.80" x2="656.70" y2="275.80" stroke="#000" stroke-width="1.3"/>
<text x="666.20" y="280.69" text-anchor="start" font-size="14.6">0.4</text>
<line x1="643.80" y1="300.90" x2="649.20" y2="300.90" stroke="#000" stroke-width="1.3"/>
<line x1="662.10" y1="300.90" x2="656.70" y2="300.90" stroke="#000" stroke-width="1.3"/>
<text x="666.20" y="305.79" text-anchor="start" font-size="14.6">0.2</text>
<line x1="643.80" y1="326.00" x2="649.20" y2="326.00" stroke="#000" stroke-width="1.3"/>
<line x1="662.10" y1="326.00" x2="656.70" y2="326.00" stroke="#000" stroke-width="1.3"/>
<text x="666.20" y="330.89" text-anchor="start" font-size="14.6">-0.0</text>
<line x1="643.80" y1="351.10" x2="649.20" y2="351.10" stroke="#000" stroke-width="1.3"/>
<line x1="662.10" y1="351.10" x2="656.70" y2="351.10" stroke="#000" stroke-width="1.3"/>
<text x="666.20" y="355.99" text-anchor="start" font-size="14.6">-0.2</text>
<line x1="643.80" y1="376.20" x2="649.20" y2="376.20" stroke="#000" stroke-width="1.3"/>
<line x1="662.10" y1="376.20" x2="656.70" y2="376.20" stroke="#000" stroke-width="1.3"/>
<text x="666.20" y="381.09" text-anchor="start" font-size="14.6">-0.4</text>
<text x="666.20" y="402.19" text-anchor="start" font-size="14.6">-0.6</text>
<text x="693.60" y="326.00" text-anchor="middle" font-size="14.5" transform="rotate(90 693.6 326.0)">[%]</text>
<rect x="643.80" y="479.50" width="18.30" height="1.40" fill="#e1200b"/>
<rect x="643.80" y="480.50" width="18.30" height="1.40" fill="#e0230c"/>
<rect x="643.80" y="481.49" width="18.30" height="1.40" fill="#e0260d"/>
<rect x="643.80" y="482.49" width="18.30" height="1.40" fill="#e0290e"/>
<rect x="643.80" y="483.49" width="18.30" height="1.40" fill="#df2c0f"/>
<rect x="643.80" y="484.48" width="18.30" height="1.40" fill="#df2f10"/>
<rect x="643.80" y="485.48" width="18.30" height="1.40" fill="#de3212"/>
<rect x="643.80" y="486.48" width="18.30" height="1.40" fill="#de3613"/>
<rect x="643.80" y="487.47" width="18.30" height="1.40" fill="#de3914"/>
<rect x="643.80" y="488.47" width="18.30" height="1.40" fill="#dd3c15"/>
<rect x="643.80" y="489.47" width="18.30" height="1.40" fill="#dd3f16"/>
<rect x="643.80" y="490.46" width="18.30" height="1.40" fill="#dc4218"/>
<rect x="643.80" y="491.46" width="18.30" height="1.40" fill="#dc4519"/>
<rect x="643.80" y="492.46" width="18.30" height="1.40" fill="#dc4a1a"/>
<rect x="643.80" y="493.45" width="18.30" height="1.40" fill="#dd4f1b"/>
<rect x="643.80" y="494.45" width="18.30" height="1.40" fill="#dd531c"/>
<rect x="643.80" y="495.45" width="18.30" height="1.40" fill="#de581e"/>
<rect x="643.80" y="496.44" width="18.30" height="1.40" fill="#de5d1f"/>
<rect x="643.80" y="497.44" width="18.30" height="1.40" fill="#de6220"/>
<rect x="643.80" y="498.44" width="18.30" height="1.40" fill="#df6721"/>
<rect x="643.80" y="499.43" width="18.30" height="1.40" fill="#df6c23"/>
<rect x="643.80" y="500.43" width="18.30" height="1.40" fill="#e07124"/>
<rect x="643.80" y="501.43" width="18.30" height="1.40" fill="#e07625"/>
<rect x="643.80" y="502.42" width="18.30" height="1.40" fill="#e07b26"/>
<rect x="643.80" y="503.42" width="18.30" height="1.40" fill="#e18027"/>
<rect x="643.80" y="504.42" width="18.30" height="1.40" fill="#e18428"/>
<rect x="643.80" y="505.41" width="18.30" height="1.40" fill="#e28729"/>
<rect x="643.80" y="506.41" width="18.30" height="1.40" fill="#e38b29"/>
<rect x="643.80" y="507.41" width="18.30" height="1.40" fill="#e48f29"/>
<rect x="643.80" y="508.40" width="18.30" height="1.40" fill="#e5922a"/>
<rect x="643.80" y="509.40" width="18.30" height="1.40" fill="#e5962a"/>
<rect x="643.80" y="510.40" width="18.30" height="1.40" fill="#e6992b"/>
<rect x="643.80" y="511.39" width="18.30" height="1.40" fill="#e79d2b"/>
<rect x="643.80" y="512.39" width="18.30" height="1.40" fill="#e8a12b"/>
<rect x="643.80" y="513.39" width="18.30" height="1.40" fill="#e9a42c"/>
<rect x="643.80" y="514.38" width="18.30" height="1.40" fill="#e9a82c"/>
<rect x="643.80" y="515.38" width="18.30" height="1.40" fill="#eaab2d"/>
<rect x="643.80" y="516.38" width="18.30" height="1.40" fill="#ebaf2d"/>
<rect x="643.80" y="517.37" width="18.30" height="1.40" fill="#ecb22d"/>
<rect x="643.80" y="518.37" width="18.30" height="1.40" fill="#edb52e"/>
<rect x="643.80" y="519.37" width="18.30" height="1.40" fill="#edb92e"/>
<rect x="643.80" y="520.36" width="18.30" height="1.40" fill="#eebc2f"/>
<rect x="643.80" y="521.36" width="18.30" height="1.40" fill="#efbf2f"/>
<rect x="643.80" y="522.36" width="18.30" height="1.40" fill="#f0c22f"/>
<rect x="643.80" y="523.35" width="18.30" height="1.40" fill="#f1c530"/>
<rect x="643.80" y="524.35" width="18.30" height="1.40" fill="#f1c930"/>
<rect x="643.80" y="525.35" width="18.30" height="1.40" fill="#f2cc31"/>
<rect x="643.80" y="526.34" width="18.30" height="1.40" fill="#f3cf31"/>
<rect x="643.80" y="527.34" width="18.30" height="1.40" fill="#f4d231"/>
<rect x="643.80" y="528.34" width="18.30" height="1.40" fill="#f5d532"/>
<rect x="643.80" y="529.33" width="18.30" height="1.40" fill="#f5d832"/>
<rect x="643.80" y="530.33" width="18.30" height="1.40" fill="#f6db32"/>
<rect x="643.80" y="531.33" width="18.30" height="1.40" fill="#f6dd32"/>
<rect x="643.80" y="532.32" width="18.30" height="1.40" fill="#f6e032"/>
<rect x="643.80" y="533.32" width="18.30" height="1.40" fill="#f7e232"/>
<rect x="643.80" y="534.32" width="18.30" height="1.40" fill="#f7e432"/>
<rect x="643.80" y="535.31" width="18.30" height="1.40" fill="#f8e732"/>
<rect x="643.80" y="536.31" width="18.30" height="1.40" fill="#f8e932"/>
<rect x="643.80" y="537.31" width="18.30" height="1.40" fill="#f8ec32"/>
<rect x="643.80" y="538.30" width="18.30" height="1.40" fill="#f9ee32"/>
<rect x="643.80" y="539.30" width="18.30" height="1.40" fill="#f9f132"/>
<rect x="643.80" y="540.30" width="18.30" height="1.40" fill="#faf332"/>
<rect x="643.80" y="541.29" width="18.30" height="1.40" fill="#f9f534"/>
<rect x="643.80" y="542.29" width="18.30" height="1.40" fill="#f7f33d"/>
<rect x="643.80" y="543.29" width="18.30" height="1.40" fill="#f5f246"/>
<rect x="643.80" y="544.28" width="18.30" height="1.40" fill="#f3f04f"/>
<rect x="643.80" y="545.28" width="18.30" height="1.40" fill="#f1ef58"/>
<rect x="643.80" y="546.28" width="18.30" height="1.40" fill="#eeed61"/>
<rect x="643.80" y="547.27" width="18.30" height="1.40" fill="#ecec6a"/>
<rect x="643.80" y="548.27" width="18.30" height="1.40" fill="#e8e875"/>
<rect x="643.80" y="549.27" width="18.30" height="1.40" fill="#e4e483"/>
<rect x="643.80" y="550.26" width="18.30" height="1.40" fill="#dede91"/>
<rect x="643.80" y="551.26" width="18.30" height="1.40" fill="#dadaa0"/>
<rect x="643.80" y="552.26" width="18.30" height="1.40" fill="#d4d4ae"/>
<rect x="643.80" y="553.25" width="18.30" height="1.40" fill="#d0d0bc"/>
<rect x="643.80" y="554.25" width="18.30" height="1.40" fill="#c8cebb"/>
<rect x="643.80" y="555.25" width="18.30" height="1.40" fill="#bfd0ab"/>
<rect x="643.80" y="556.24" width="18.30" height="1.40" fill="#b6d19b"/>
<rect x="643.80" y="557.24" width="18.30" height="1.40" fill="#add38c"/>
<rect x="643.80" y="558.24" width="18.30" height="1.40" fill="#a4d47c"/>
<rect x="643.80" y="559.23" width="18.30" height="1.40" fill="#9bd66c"/>
<rect x="643.80" y="560.23" width="18.30" height="1.40" fill="#95d862"/>
<rect x="643.80" y="561.23" width="18.30" height="1.40" fill="#92db5c"/>
<rect x="643.80" y="562.22" width="18.30" height="1.40" fill="#8fde58"/>
<rect x="643.80" y="563.22" width="18.30" height="1.40" fill="#8ce152"/>
<rect x="643.80" y="564.22" width="18.30" height="1.40" fill="#8ae34e"/>
<rect x="643.80" y="565.21" width="18.30" height="1.40" fill="#87e648"/>
<rect x="643.80" y="566.21" width="18.30" height="1.40" fill="#84e943"/>
<rect x="643.80" y="567.21" width="18.30" height="1.40" fill="#81ec3f"/>
<rect x="643.80" y="568.20" width="18.30" height="1.40" fill="#7eef39"/>
<rect x="643.80" y="569.20" width="18.30" height="1.40" fill="#7df03a"/>
<rect x="643.80" y="570.20" width="18.30" height="1.40" fill="#7cf041"/>
<rect x="643.80" y="571.19" width="18.30" height="1.40" fill="#7cf047"/>
<rect x="643.80" y="572.19" width="18.30" height="1.40" fill="#7bef4d"/>
<rect x="643.80" y="573.19" width="18.30" height="1.40" fill="#7bef54"/>
<rect x="643.80" y="574.18" width="18.30" height="1.40" fill="#7aef5a"/>
<rect x="643.80" y="575.18" width="18.30" height="1.40" fill="#7aef61"/>
<rect x="643.80" y="576.18" width="18.30" height="1.40" fill="#79ef67"/>
<rect x="643.80" y="577.17" width="18.30" height="1.40" fill="#79ee6e"/>
<rect x="643.80" y="578.17" width="18.30" height="1.40" fill="#78ee74"/>
<rect x="643.80" y="579.17" width="18.30" height="1.40" fill="#7aed93"/>
<rect x="643.80" y="580.16" width="18.30" height="1.40" fill="#7fecdb"/>
<rect x="643.80" y="581.16" width="18.30" height="1.40" fill="#81e9ff"/>
<rect x="643.80" y="582.16" width="18.30" height="1.40" fill="#7ee5fe"/>
<rect x="643.80" y="583.15" width="18.30" height="1.40" fill="#7be0fd"/>
<rect x="643.80" y="584.15" width="18.30" height="1.40" fill="#78dcfc"/>
<rect x="643.80" y="585.15" width="18.30" height="1.40" fill="#75d8fb"/>
<rect x="643.80" y="586.14" width="18.30" height="1.40" fill="#72d3fa"/>
<rect x="643.80" y="587.14" width="18.30" height="1.40" fill="#6fcff9"/>
<rect x="643.80" y="588.14" width="18.30" height="1.40" fill="#6dcbf8"/>
<rect x="643.80" y="589.13" width="18.30" height="1.40" fill="#6ac7f7"/>
<rect x="643.80" y="590.13" width="18.30" height="1.40" fill="#67c2f6"/>
<rect x="643.80" y="591.13" width="18.30" height="1.40" fill="#64bef5"/>
<rect x="643.80" y="592.12" width="18.30" height="1.40" fill="#62b9f5"/>
<rect x="643.80" y="593.12" width="18.30" height="1.40" fill="#5fb4f4"/>
<rect x="643.80" y="594.12" width="18.30" height="1.40" fill="#5db0f4"/>
<rect x="643.80" y="595.11" width="18.30" height="1.40" fill="#5aabf3"/>
<rect x="643.80" y="596.11" width="18.30" height="1.40" fill="#58a6f3"/>
<rect x="643.80" y="597.11" width="18.30" height="1.40" fill="#56a1f3"/>
<rect x="643.80" y="598.10" width="18.30" height="1.40" fill="#539cf2"/>
<rect x="643.80" y="599.10" width="18.30" height="1.40" fill="#5198f2"/>
<rect x="643.80" y="600.10" width="18.30" height="1.40" fill="#4e93f1"/>
<rect x="643.80" y="601.09" width="18.30" height="1.40" fill="#4c8ef1"/>
<rect x="643.80" y="602.09" width="18.30" height="1.40" fill="#4a89f1"/>
<rect x="643.80" y="603.09" width="18.30" height="1.40" fill="#4785f0"/>
<rect x="643.80" y="604.08" width="18.30" height="1.40" fill="#4580f0"/>
<rect x="643.80" y="605.08" width="18.30" height="1.40" fill="#427cef"/>
<rect x="643.80" y="606.08" width="18.30" height="1.40" fill="#4078ef"/>
<rect x="643.80" y="607.07" width="18.30" height="1.40" fill="#3d74ef"/>
<rect x="643.80" y="608.07" width="18.30" height="1.40" fill="#3b70ee"/>
<rect x="643.80" y="609.07" width="18.30" height="1.40" fill="#396cee"/>
<rect x="643.80" y="610.06" width="18.30" height="1.40" fill="#3668ed"/>
<rect x="643.80" y="611.06" width="18.30" height="1.40" fill="#3463ed"/>
<rect x="643.80" y="612.06" width="18.30" height="1.40" fill="#315fed"/>
<rect x="643.80" y="613.05" width="18.30" height="1.40" fill="#2f5bec"/>
<rect x="643.80" y="614.05" width="18.30" height="1.40" fill="#2c57ec"/>
<rect x="643.80" y="615.05" width="18.30" height="1.40" fill="#2a53eb"/>
<rect x="643.80" y="616.04" width="18.30" height="1.40" fill="#284feb"/>
<rect x="643.80" y="617.04" width="18.30" height="1.40" fill="#264aeb"/>
<rect x="643.80" y="618.04" width="18.30" height="1.40" fill="#2445eb"/>
<rect x="643.80" y="619.03" width="18.30" height="1.40" fill="#2341eb"/>
<rect x="643.80" y="620.03" width="18.30" height="1.40" fill="#213ceb"/>
<rect x="643.80" y="621.03" width="18.30" height="1.40" fill="#2037eb"/>
<rect x="643.80" y="622.02" width="18.30" height="1.40" fill="#1e33eb"/>
<rect x="643.80" y="623.02" width="18.30" height="1.40" fill="#1d2eeb"/>
<rect x="643.80" y="624.02" width="18.30" height="1.40" fill="#1b29eb"/>
<rect x="643.80" y="625.01" width="18.30" height="1.40" fill="#1924eb"/>
<rect x="643.80" y="626.01" width="18.30" height="1.40" fill="#1820eb"/>
<rect x="643.80" y="627.01" width="18.30" height="1.40" fill="#161beb"/>
<rect x="643.80" y="628" width="18.30" height="1.40" fill="#1516eb"/>
<rect x="643.80" y="479.50" width="18.30" height="149.50" fill="none" stroke="#000" stroke-width="1.6"/>
<text x="666.20" y="488.89" text-anchor="start" font-size="14.6">1.0</text>
<line x1="643.80" y1="516.88" x2="649.20" y2="516.88" stroke="#000" stroke-width="1.3"/>
<line x1="662.10" y1="516.88" x2="656.70" y2="516.88" stroke="#000" stroke-width="1.3"/>
<text x="666.20" y="521.77" text-anchor="start" font-size="14.6">0.5</text>
<line x1="643.80" y1="554.25" x2="649.20" y2="554.25" stroke="#000" stroke-width="1.3"/>
<line x1="662.10" y1="554.25" x2="656.70" y2="554.25" stroke="#000" stroke-width="1.3"/>
<text x="666.20" y="559.14" text-anchor="start" font-size="14.6">0.0</text>
<line x1="643.80" y1="591.62" x2="649.20" y2="591.62" stroke="#000" stroke-width="1.3"/>
<line x1="662.10" y1="591.62" x2="656.70" y2="591.62" stroke="#000" stroke-width="1.3"/>
<text x="666.20" y="596.52" text-anchor="start" font-size="14.6">-0.5</text>
<text x="666.20" y="629.89" text-anchor="start" font-size="14.6">-1.0</text>
<text x="693.60" y="554.50" text-anchor="middle" font-size="14.5" transform="rotate(90 693.6 554.5)">[%]</text>
</svg></body></html>
